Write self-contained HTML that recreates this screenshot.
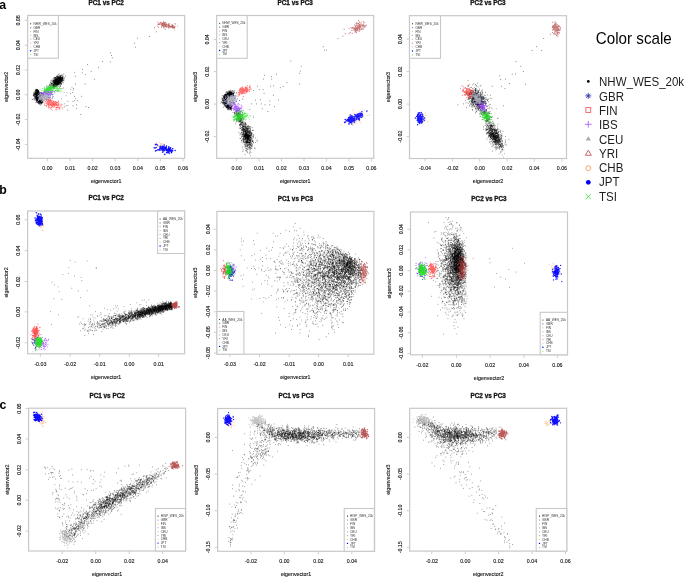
<!DOCTYPE html><html><head><meta charset="utf-8"><style>html,body{margin:0;padding:0;background:#fff;width:685px;height:577px;overflow:hidden}svg{display:block}</style></head><body>
<svg width="685" height="577" viewBox="0 0 685 577" font-family="'Liberation Sans', sans-serif">
<defs><filter id="gs" x="0" y="0" width="1" height="1"><feColorMatrix type="saturate" values="0"/></filter><filter id="bl" x="0" y="0" width="685" height="577" filterUnits="userSpaceOnUse"><feConvolveMatrix order="3" kernelMatrix="0.0225 0.105 0.0225 0.105 0.49 0.105 0.0225 0.105 0.0225" edgeMode="duplicate" preserveAlpha="true"/></filter></defs>
<g>
<rect width="685" height="577" fill="#fff"/>
<g><path transform="scale(.1)" d="M1545 278h0m17 40h0m-69 47h0m-117 17h0m-31 49h0m12 41h0m-254 57h0m13 26h0m7 23h0m-98 38h0m78 3h0m-229 28h0m111 26h0m-160 21h0m87 22h0m-90 13h0m34 17h0m-109-23h0m6 40h0m190 30h0m-187 48h0m95 0h0m-116 44h0m-31 52h0m43 26h0m70 0h0m-44 43h0m-43 9h0m-52 0h0m87 34h0m-104 9h0m69 0h0m130 9h0m26 8h0m-121 9h0m-87 17h0m130 44h0" stroke="#000" stroke-width="10" stroke-linecap="round" fill="none" stroke-opacity="0.55"/><path transform="scale(.1)" d="M641 923h0m103 83h0m-74-79h0m38-34h0m-63 175h0m75-196h0m-40 182h0m46-129h0m6-24h0m-117-14h0m46 70h0m-13 81h0m-13-158h0m-19 108h0m138 0h0" stroke="#000" stroke-width="9" stroke-linecap="round" fill="none" stroke-opacity="0.5"/><path transform="scale(.1)" d="M574 809h0m18-4h0m-8-26h0m51 49h0m-37-10h0m-19-5h0m-15-4h0m-15 0h0m14 23h0m31-21h0m-26-2h0m-33 36h0m46-26h0m18-31h0m-48 3h0m-3 62h0m30-38h0m25-12h0m-30-7h0m-28-5h0m56-33h0m19 19h0m-20 60h0m22-14h0m-32-18h0m-13-29h0m27 1h0m-4 22h0m-15 14h0m-19 10h0m11 18h0m-10-43h0m10-38h0m-3 32h0m-8 2h0m43 38h0m-32-26h0m-4-25h0m-11 57h0m-13 21h0m21-41h0m-13 15h0m66-42h0m-42 27h0m-16-13h0m-12 41h0m42-31h0m-26 10h0m42-27h0m-9 2h0m-43 21h0m26-22h0m-56 70h0m29-54h0m59-15h0m-9 9h0m-50-29h0m19 29h0m-37 18h0m3 0h0m41-20h0m28-34h0m-72 85h0m55-57h0m0 1h0m-7-21h0m-32 40h0m28 16h0m-34-60h0m27 73h0m-31-24h0m28 15h0m-28-63h0m35 19h0m6 23h0m-6-11h0m-5 26h0m-23-23h0m41-31h0m-25 21h0m13 15h0m21-20h0m-1-13h0m-1-3h0m-18 17h0m-5 13h0m-5-19h0m8 13h0m24-24h0m-27 16h0m6-7h0m11 38h0m4-53h0m-58 78h0m61-34h0m0-15h0m-47 27h0m79-50h0m-76 13h0m2 3h0m-9 28h0m42-35h0m-12 14h0m7 40h0m14-18h0m-10-31h0m14-6h0m-34 5h0m-10 37h0m-11-28h0m-4 67h0m10-53h0m43-15h0m-28-18h0m20 44h0m-14-5h0m55-20h0m-48 1h0m-7-33h0m-1 21h0m-27 14h0m78-7h0m-83 26h0m0-3h0m31 3h0m-10 1h0m6 0h0m-12-12h0m15-49h0m-12 26h0m-3-16h0m0 80h0m11-19h0m25-52h0m-35 56h0m49-45h0m-46 42h0m26-27h0m-19 26h0m12-30h0m-49-7h0m7-20h0m86 14h0m-50 31h0m14-85h0m-20 81h0m-27 1h0m29-20h0m-34-17h0m84 1h0m-28 7h0m17 5h0m-8 14h0m40-33h0m-31 36h0m-21-11h0m-28 25h0m-12-10h0m36-6h0m8-25h0m-9-14h0m-14 69h0m24-34h0m-46-36h0m-18 35h0m53-10h0m-70 39h0m82-17h0m33-55h0m-67 72h0m25-16h0m-34 42h0m4-42h0m42-17h0m-41 29h0m27-12h0m-10 3h0m10 11h0m1-22h0m-5-18h0m22-7h0m-23-8h0m-12 45h0m55-23h0m-28-23h0m-70 40h0m64-22h0m-2-9h0m9 4h0m-15 0h0m-30 44h0m8-33h0m-7 66h0m18-59h0m54-32h0m-25 29h0m-7-15h0m-21 34h0m-18 1h0m-4-2h0m27-20h0m-11 27h0m-17-25h0m41-30h0m-56 55h0m10-4h0m36 6h0m-5-22h0m-4-3h0m-21 30h0m44-19h0m-28-17h0m30 13h0m-68-14h0m44-7h0m27 30h0m-17 17h0m-7-25h0m-14-1h0m54-21h0m-106 70h0m57-8h0m-10 1h0m23-31h0m-25-14h0m26 17h0m9-36h0m-48 45h0m14-18h0m17-8h0m-13 27h0m36-26h0m-1 1h0m9 52h0m-66-27h0m87-45h0m-44-2h0m4 7h0m-18-5h0m26 31h0m6-28h0m-19 15h0m-16 8h0m40-12h0m-30-5h0m-6 27h0m22 29h0m11-73h0m-16 4h0m23-30h0m-30 70h0m-14-5h0m14-32h0m19-20h0m-6 26h0m-15-10h0m66 11h0m-81 22h0m-10 10h0m12-9h0m-12-30h0m19-8h0m26 1h0m-9 16h0m9-37h0m-14 82h0m41-68h0m-46 63h0m40-40h0m-60 23h0m57 9h0m-33-23h0m-13-34h0m-1-10h0m8 47h0m13 8h0m-3-16h0m-13 51h0m-11-37h0m-9 28h0m36-29h0m24-64h0m-14 45h0m-33 31h0m12 6h0m36-30h0m-32 24h0m-44 0h0m30 8h0m3 5h0m-12-14h0m44-24h0m-13 12h0m-27 35h0m7-32h0m-8 17h0m-5-2h0m-7 4h0m59-71h0m-39 43h0m9-27h0m16 6h0m-15 35h0m18-19h0m2 2h0m-17-5h0m57-18h0m-60 13h0m4 25h0m14-21h0m10-36h0m-16 15h0m-13 46h0m-16-1h0m1 4h0m38 30h0m-8-51h0m5-15h0m-57 67h0m31-59h0m-18 26h0m44-27h0m-10-20h0m-25 42h0m5-8h0m-7 13h0m5-48h0m0 82h0m-11-33h0m16 0h0m21-56h0m21-26h0m-33 62h0m-30 19h0m38-12h0m-38-2h0m27-26h0m-17 46h0m19-9h0m10-4h0m0-22h0m-9 15h0m16-39h0m1 48h0m-42 35h0m56-53h0m-57-10h0m21 38h0m26-62h0m-37 63h0m21-21h0m-7 25h0m26-57h0m-37 31h0m5-20h0m-35 29h0m78-32h0m-69 29h0m59-18h0m-8-17h0m0-5h0m30 8h0m-62 56h0m11-53h0m4 15h0m7-3h0m22-5h0m-37 2h0m-15 21h0m18-10h0m43-21h0m-53 54h0m9-42h0m5 49h0m27-56h0m-70 37h0m18-34h0m16 9h0m-16-28h0m75-11h0m-12 20h0m-45 58h0m57-70h0m-95 36h0m3 31h0m19 5h0m2-68h0m22 10h0m-39 71h0m47-58h0m-38-12h0m37 0h0m-16 27h0m50 1h0m-36-25h0m-41 28h0m67-36h0m-24 25h0m13-7h0m21 0h0m-63 24h0m3-33h0m1 32h0m-2 2h0m35-11h0m0-3h0m2-39h0m19 18h0m-26 29h0m-31 1h0m96-63h0m-30 11h0m-46 43h0m-21 12h0m21 2h0m39 12h0m-14-49h0m-19-14h0m0 22h0m-18 8h0m19 3h0m-15 4h0m38 26h0m-24-19h0m26 2h0m-79 14h0m37-23h0m27 27h0m-60-31h0m41 5h0m-38-4h0m44 30h0m-27-43h0m14 13h0m-5 7h0m17-50h0m29 68h0m-28-35h0m19 25h0m-45-12h0m-13-6h0m54-12h0m-24 23h0m2 61h0m-55-42h0m44-52h0m-10 29h0m26 0h0m-7 12h0m-12-19h0m9 1h0m-12 31h0m32-17h0m1-40h0m2 15h0m-83 10h0m29 15h0m16 17h0m17-26h0m21-23h0m10 32h0m-65 16h0m28-44h0m30 2h0m-25 24h0m32-62h0m-27 75h0m45-26h0m-2-51h0m-78 66h0m29-8h0m34-1h0m33-73h0m-105 94h0m50-44h0m4 16h0m-15 13h0m-13 3h0m23 11h0m16 9h0m-52-16h0m77-35h0m-64 42h0m46 21h0m-50-44h0m11 2h0m16-4h0m-36-3h0m25 5h0m51-26h0m-39-14h0m-9 46h0m44-3h0m-62 3h0m17-23h0m-53 11h0m34 25h0m-12-24h0m68-13h0m-8 33h0m-6-20h0m-24-9h0m22 14h0m-12-15h0m-1-15h0m-5 19h0m-14 30h0m-4-10h0m51-27h0m23 16h0m-35-3h0m-43 44h0m49-79h0m-3 49h0m-19-5h0m10 7h0m-29-15h0m55-28h0m-31-31h0m-34 77h0m13-22h0m8-12h0m52 16h0m-114 30h0m85-47h0m15-14h0m-33 46h0m11 1h0m-4-57h0m-5 30h0m-37 30h0m19 15h0m6 0h0m-24-9h0m28-29h0m-16 4h0m27 6h0m29 4h0m7-37h0m-45 17h0m-44 38h0m68-61h0m-42 17h0m66 18h0m-53 10h0m11-19h0m21 40h0m-21-27h0m41-9h0m-53 21h0m26-5h0m-11-14h0m-17 6h0m-29 45h0m56-45h0m-61 65h0m17-36h0m16-26h0m17-18h0m17 0h0m-10-9h0m-3 6h0m-9 29h0m33-30h0m-32 28h0m14-42h0m-77 55h0m46-3h0m6-9h0m6-17h0m-42 53h0m73-54h0m-8-16h0m3 11h0m-43 8h0m49-28h0m-48 31h0m23-36h0m2 42h0m-38-42h0m30 38h0m12 7h0m19-26h0m-16-30h0m21 22h0m-35-16h0m6 17h0m23 33h0m12-41h0m-34 54h0m-30-24h0m3-25h0m-20 49h0m53-2h0m-1-8h0m-18 20h0m-5-23h0m27-24h0m-20 16h0m42 33h0m-13-53h0m-14 52h0m-34-14h0m41-2h0m-19-39h0m-39 50h0m60-37h0m-30 7h0m0 4h0m-7 12h0m10-18h0m48 4h0m-14 3h0m-24-36h0m12 61h0m20-59h0m-6 6h0m-28 23h0m-42 63h0m54-54h0m40-67h0m-50 61h0m-36 2h0m93-13h0m-79 11h0m22-22h0m7-3h0m-35 53h0m39-23h0m10-34h0m-27 34h0m16-23h0m5 33h0m9-33h0m-6-40h0m-23 96h0m3-30h0m33 7h0m-51-12h0m-2 5h0m13-5h0m-13-17h0m5 20h0m39 2h0m3-16h0m-37-38h0m41 47h0m0-21h0m-47 55h0m17-34h0m7-4h0m6-8h0m-44 41h0m59-80h0m-33 78h0m14-32h0m12-7h0m7-7h0m-44 26h0m6 0h0m3-33h0m23 16h0m7-7h0m-26 13h0m-30-7h0m23 51h0m45-78h0m-62 61h0m39-43h0m-12 5h0m12-7h0m-4-13h0m14-1h0m2 60h0m-1-19h0m-38 55h0m10-71h0m-34 2h0m22-8h0m13-42h0m20 68h0m22-17h0m-39 11h0m15-9h0m-17 16h0m-49 35h0m47-25h0m-11-30h0m16-1h0m0 6h0m-21-16h0m30-12h0m10 24h0m-22 18h0m-6-59h0m-19 97h0m28-40h0m7 3h0m21-38h0m-31 43h0m-41-6h0m47-18h0m21-39h0m-33 43h0m22 19h0m3 7h0m-13-24h0m20-30h0m28 2h0m-34 25h0m5 29h0m25-53h0m-70-4h0m27 31h0m-13 3h0m-5-7h0m22 1h0m-11 9h0m9-18h0m15 29h0m-4-23h0m-18 18h0m0-6h0m22 5h0m-31-26h0m28 28h0m5-38h0m-26 64h0m-19 16h0m44-63h0m-30 7h0m41-21h0m-29 28h0m-43-2h0m82-50h0m-41 30h0m6 42h0m-2 10h0m-1-56h0m-23 27h0m12-31h0m35 5h0m-46 56h0m32-8h0m-18-54h0m49 5h0m-27 1h0m-35 19h0m44-32h0m-43 30h0" stroke="#000" stroke-width="10" stroke-linecap="round" fill="none" stroke-opacity="0.5"/><path transform="scale(.1)" d="M550 823h0m-17 7h0m38-26h0m-68 21h0m-36 37h0m31-15h0m46-24h0m-36 63h0m25-12h0m19-53h0m-46 58h0m65-53h0m-23 2h0m-21 29h0m5-25h0m2 28h0m-7-14h0m5 2h0m13-5h0m-5 1h0m-30 3h0m-15-4h0m105-55h0m-98 70h0m28-23h0m44-26h0m-13-4h0m-35 59h0m78-67h0m-23-14h0m-44 70h0m-44 2h0m75-20h0m-24 19h0m-12-7h0m-3 26h0m8-3h0m14-28h0m-7-52h0m-61 102h0m-9 9h0m105-73h0m-75 17h0m66-11h0m-21 8h0m33-27h0m-31-16h0m-29 34h0m29 28h0m10-17h0m0-24h0m-24 51h0m-37 10h0m38-50h0m-19-14h0m30 42h0m-39 3h0m51-34h0m-93 26h0m52-11h0m62-30h0m-77 50h0m38-45h0m-3-6h0m16 20h0m-69 43h0m79-65h0m-25 21h0m6-14h0m-2 10h0m-10 1h0m42-18h0m-12-27h0m-92 85h0m46-9h0m15-18h0m-54 53h0m129-60h0m-81 35h0m44-26h0m-20-3h0m-19 3h0m-32 9h0m6-32h0m19-5h0m8-30h0m-13 42h0m-12-2h0m12 5h0m57-23h0m-34 19h0m-11 43h0m-17 14h0m26-18h0m-17 9h0m7-21h0m42-55h0m-7 31h0m-23 1h0m6-4h0m46-23h0m-102 47h0m39-46h0m6 45h0m29 14h0m-11-9h0m23 50h0m-41-99h0m-69 77h0m50-85h0m30 13h0m-13 81h0m-4-4h0m50-110h0m-72 79h0m9-20h0m-19 1h0m19 13h0m-3 0h0m-36 42h0m132-107h0m-84 82h0m40-16h0m-31-11h0m39-37h0m-16 19h0m18-4h0m-6-9h0m-20-5h0m-18 26h0m42-2h0m-95 34h0m95-32h0m-34-29h0m14 40h0m-47 40h0m67-77h0m-56 51h0m35-34h0m-47 89h0m21-73h0m-17 7h0m10 20h0m13 8h0m61-71h0m-59 37h0m26 9h0m29-71h0m-104 86h0m80-79h0" stroke="#000" stroke-width="9" stroke-linecap="round" fill="none" stroke-opacity="0.4"/><path transform="scale(.1)" d="M376 961h0m23-36h0m7 124h0m14-34h0m-55-74h0m-6 18h0m7 36h0m-3-47h0m2-24h0m14-21h0m-5 46h0m-34-9h0m0 12h0m26 31h0m2-2h0m12 47h0m-47-72h0m42 41h0m45 32h0m-43-116h0m-20 51h0m30-10h0m-2-12h0m-4 68h0m-7-19h0m2-91h0m10 109h0m-19-12h0m2-86h0m18 95h0m13 15h0m1-13h0m-13 20h0m8-26h0m26 16h0m-6 14h0m-53-83h0m-13-11h0m-6 0h0m11 42h0m14-3h0m-24-59h0m9 35h0m18-16h0m-21-34h0m7 64h0m12-65h0m-19 68h0m20-46h0m-22 32h0m37-40h0m-16 41h0m26 52h0m-61-49h0m49 55h0m-30-98h0m29-12h0m-24 18h0m26 46h0m-15 15h0m-8-67h0m45 96h0m-26-66h0m20 50h0m2 28h0m-47-117h0m49 106h0m-39 0h0m12-38h0m5 38h0m-21-91h0m8-28h0m51 111h0m-61-97h0m7 79h0m2-34h0m1 25h0m0 7h0m-5 1h0m5-50h0m26 66h0m-21-97h0m-11 23h0m34 92h0m22 11h0m-27-46h0m-2 24h0m14 11h0m-45-84h0m53 71h0m-41-3h0m-2 13h0m-6-85h0m16-17h0m-24 63h0m16 13h0m5 9h0m-16-27h0m23 24h0m-24-55h0m58 70h0m-30-85h0m-34-6h0m31 88h0m37 11h0m-76-84h0m49 74h0m-38-20h0m13 13h0m-5-35h0m17-47h0m-12 76h0m-11-62h0m-9 30h0m62 36h0m-50-58h0m0-17h0m1 57h0m7 6h0m-11-56h0m27 14h0m3 57h0m-14-84h0m10 3h0m-23 8h0m27 71h0m-4-87h0m-9 25h0m43 84h0m-27-91h0m-27 41h0m59 34h0m-26 7h0m-21 10h0m-28-76h0m57 67h0m-25 7h0m21 14h0m-49-61h0m33 54h0m2-20h0m-24-98h0m1 15h0m25 76h0m-17-94h0m9 81h0m19 24h0m-66-68h0m17 13h0m13 12h0m-2-79h0m3 117h0m6-51h0m24 45h0m-55-63h0m18 7h0m15 49h0m50 19h0m-38-26h0m5 35h0m-22-69h0m15 57h0m5 20h0m-26-44h0m1-22h0m48 60h0m-43-121h0m27 102h0m-26-14h0m21-1h0m0-73h0m-18 3h0m34 74h0m-32-77h0m-13 42h0m15 39h0m-17-107h0m11 46h0m25 67h0m-13-99h0m-12 45h0m-34-3h0m37 27h0m0 12h0m49 31h0m-87-91h0m28 30h0m5-16h0m-8 56h0m8-63h0m42 58h0m-40-100h0m-18 36h0m34 54h0m-13-31h0m27 62h0m-30-56h0m15-37h0m-11 17h0m-32-8h0m8 0h0m54 73h0m-20-1h0m-25-62h0m47 73h0m-27-14h0m34 40h0m-15-34h0m-30-58h0m-3-23h0m19-15h0m-11 10h0m-7 17h0m11-11h0m-21-13h0m11 41h0m-18 25h0m20-32h0m2-5h0m40 80h0m-42-97h0m-13 57h0m-2-12h0m-8 29h0m69-14h0m-37-60h0m-18 29h0m29 51h0m-14-10h0m-37-6h0m69 1h0m-54-28h0m16 18h0m-7-47h0m-10-7h0m9 14h0m-5 41h0m-9-10h0m25 41h0m22-27h0m16 26h0m-27-88h0m-1 67h0m-9-2h0m-29 2h0m35-75h0m-16 33h0m4-21h0m21 101h0m10-21h0m5 14h0m-31-123h0m-19 56h0m34 18h0m-10-4h0m-25-21h0m32-13h0m-21 21h0m16-16h0m40 86h0m-21-12h0m-7-95h0m-20 4h0m8 57h0m-2 7h0m18 41h0m10-7h0m-40-34h0m35 47h0m-37-104h0m-17 33h0m25 34h0m-4-79h0m28 90h0m13 0h0m-8-6h0m-21-79h0m20 98h0m11 3h0m-40-71h0m-23-4h0m43 52h0m-18-17h0m11-4h0m-9-48h0m-24 21h0m19-42h0m15 0h0m8 116h0m-17-33h0m-15-35h0m4-53h0m30 112h0m3-9h0m27 1h0m-78-65h0m42-4h0m33 73h0m2-12h0m-55-63h0m-14 35h0m34 29h0m-22-39h0m11 33h0m-37-64h0m17-23h0m66 114h0m-54-83h0m-2-4h0m15 71h0m-19-61h0m11 45h0m16 2h0m-14-32h0m-2-22h0m-5-26h0m10 9h0m13 120h0m-38-98h0m0 23h0m-3-35h0m25-2h0m35 75h0m-48-60h0m25 71h0m-22-22h0m42 43h0m-46-137h0m-13 64h0m-2-13h0m19 37h0m4 17h0m21 2h0m-1-3h0m-29-8h0m20-64h0m15 99h0m-41-132h0m65 117h0m-48-118h0m-11 28h0m12 5h0m-16-1h0m-3 8h0m7-33h0m41 108h0m-44-73h0m58 75h0m-51-12h0m-5-63h0m-10 27h0m19 6h0m45 50h0m-45-81h0m27 63h0m-46-26h0m28-73h0m-14 73h0m-14-31h0m29 40h0m-42-33h0m71 56h0m0 4h0m-17 24h0m-13-93h0m5 84h0m8-13h0m-39-62h0m33 37h0m-29-34h0m48 45h0m-4 26h0m-35-55h0m26 29h0m8 7h0m17 10h0m-51-118h0m-9 64h0m11-17h0m11-30h0m5-5h0m-33 34h0m24-48h0m0 71h0m11 9h0m12 34h0m-22-28h0m-22-24h0m24 35h0m-7-91h0m33 121h0m-42-121h0m1 59h0m6 36h0m25 4h0m16 0h0m-4 16h0m9 13h0m-38-15h0m-8-100h0m43 81h0m7 25h0m-53-50h0m6 28h0m-7-1h0m54 14h0m-44-35h0m1 9h0m9-81h0m0 5h0m-16 77h0m10-75h0m-15 47h0m36 48h0m-17-101h0m-17 84h0m3-19h0m-7-31h0m23 72h0m-18-38h0" stroke="#000" stroke-width="10" stroke-linecap="round" fill="none" stroke-opacity="0.55"/><path transform="scale(.1)" d="M371 996h0m25-13h0m-6-16h0m32-3h0m24-18h0m-34 27h0m-4 17h0m37-30h0m-60 13h0m24-17h0m7 5h0m-16-2h0m6 29h0m-4-41h0m38-4h0m-18 27h0m-31 10h0m23-10h0m13-19h0m25 4h0m-36-21h0m-17 4h0m33-7h0m-2 36h0m-12 26h0m-34-26h0m19-10h0m24-3h0m-38 59h0m-25-25h0m55-22h0m-59 7h0m14 18h0m34 4h0m-9-20h0m1-22h0m18 39h0m0-28h0m-4 40h0m-39-47h0m-46 36h0m109-31h0m-25-33h0m8 36h0m-14 16h0m-27-6h0m39-2h0m-16 0h0m-41-7h0m73 7h0m-74-4h0m29-1h0m54-29h0m-57 50h0m18-30h0m23-9h0m-39-21h0m-25 48h0m33 16h0m-9-63h0m-22 60h0m74-35h0m-41-21h0m20 21h0m-3 29h0m-3-19h0m-17 14h0m-24 25h0m46-47h0m-8 28h0m25-54h0m-69 33h0m51 31h0m52-21h0m-95 26h0m-13-47h0m46 10h0m34-26h0m-57 80h0m11-73h0m-6 3h0m-5 17h0m14 14h0m32-31h0m-26 16h0m-34 25h0m16-12h0m6-42h0m-35 26h0m38 47h0m-3-32h0m-33 49h0m102-44h0m-94 26h0m37-35h0m4 29h0m-25-32h0m66 32h0m-41-19h0m-24 9h0m46-38h0m-17 3h0m-40 21h0m-14 0h0m61-30h0m-29 6h0m-26 37h0m60-1h0m-47 33h0m11-29h0m-9-15h0m-25 25h0m77-5h0m64-57h0m-70 44h0m-10-9h0m-19 2h0m0-15h0m18 20h0m-1-32h0m-31 8h0m23 20h0m-2 14h0m20-9h0m10-5h0m-4-23h0m-39 18h0m7 24h0m38 6h0m-57-79h0m27 72h0m12-25h0m-4-5h0m20-21h0m-66 26h0m58-33h0m-32 42h0m22-34h0m-47 34h0m22-36h0m5 55h0m60-33h0m-84-8h0m66 10h0m-57 3h0m-12-6h0m44 4h0m25 7h0m-24 23h0m9-30h0m-4 21h0m-11-7h0m38-14h0m-34 19h0m7-52h0m-47 38h0m38 26h0m11-64h0m-34 23h0m-25 67h0" stroke="#000" stroke-width="10" stroke-linecap="round" fill="none" stroke-opacity="0.45"/><path transform="scale(.1)" d="M415 1017h0m46-31h0m4-14h0m-26-7h0m54-6h0m5 46h0m-73-10h0m106-30h0m-121-23h0m16-6h0m23 55h0m15-4h0m-56 21h0m56-31h0m-112-1h0m71-38h0m-15 21h0m2-34h0m38 57h0m15 1h0m-40 29h0m20-81h0m-65 22h0m57 38h0m56-16h0m-80-42h0m21 27h0m16 17h0m34-18h0m-16 21h0m-25-4h0m-39-7h0m58 12h0m-138 13h0m149 4h0m-62-52h0m66 18h0m-33-5h0m64-1h0m-84 31h0m-58 15h0m76-80h0m-9 81h0m15-17h0m56-11h0m-93 6h0m72 8h0m7-14h0m-1-53h0m-129 50h0m95-7h0m-37 4h0m20-6h0m-21 30h0m14-45h0m56-1h0m33-11h0m-40 30h0m-82 26h0m102-51h0m-102 50h0m33-29h0m74 35h0m-90-73h0m66 42h0m-38 35h0m-45-29h0m56-28h0m-31 12h0m106 16h0m-1-27h0m-5 40h0m-117-4h0m124-36h0m-68 14h0m12 21h0m-11 15h0m-40-38h0m28-14h0m33-5h0" stroke="#2a2ab4" stroke-width="10" stroke-linecap="round" fill="none" stroke-opacity="0.8"/><path transform="scale(.1)" d="M539 1011h0m35 44h0m-91 14h0m57-38h0m-38-3h0m50-4h0m-83-18h0m72 12h0m-72 7h0m21-14h0m40 11h0m-29 27h0m20-44h0m5 52h0m-4-25h0m48 0h0m-30 9h0m-52-22h0m22 20h0m-12-15h0m-9 42h0m78 7h0m-85-26h0m83-23h0m2 20h0m31 42h0m-87-40h0m12-9h0m2-1h0m-29 14h0m90-33h0m0 22h0m-139-56h0m50 70h0m66-33h0m-81-2h0m1 35h0m35-24h0m-6 11h0m-4-7h0m-2 13h0m55 50h0m-117-110h0m54 42h0m-32 26h0m41 29h0m-6-58h0m21 41h0m-12-19h0m78 24h0m-109-78h0m29 5h0m35 48h0m-41-18h0m18 6h0m-50-39h0m59 75h0m-18-41h0m5 64h0m-31-73h0m8 15h0m-13 4h0m92 7h0m-111-50h0m71 32h0m-10 9h0m38 1h0m-49 38h0m-29-63h0m44 42h0m-76-24h0m98 18h0m-31-37h0m-32 24h0m6 11h0m41-3h0m-75-28h0m127-5h0m-88-5h0m70 41h0m-48-7h0m55 30h0m-99-55h0m68 32h0m-24-33h0m-30 25h0m49 18h0m-31-27h0m-23 15h0m25-19h0m-18-10h0m18 10h0m-9 46h0m61-57h0m-51 22h0m-20-18h0m49 26h0m-28-43h0m-34 36h0m-8-4h0m106 15h0m-62-24h0m55 28h0m-93-11h0m13-49h0m75 87h0m-56-54h0m-5 22h0m9-32h0m-44 45h0m80-10h0m-85 4h0m81-24h0m-62-20h0m114 74h0m-61-29h0m15-2h0m-100-14h0m74 7h0m-29-25h0m2-33h0m3-7h0m39 75h0m-27-11h0m-9-34h0m-12 27h0m3-15h0m2 6h0m3 21h0m-14-59h0m-3 40h0m-46-11h0m78 10h0m19 14h0m-28-37h0m55 45h0m-75-14h0m26 12h0m47-16h0m-40 18h0m-32-21h0m37 20h0m-22-22h0m47 30h0m-9-12h0m-47 32h0m42-45h0m32 41h0m-13-29h0m0-31h0m-47 26h0m-19 10h0m-2-11h0m60 21h0m-61-54h0m43 38h0m50-20h0m-127 26h0m67 17h0m-29-65h0m25 22h0m27-9h0m-54-7h0m-13 2h0m36-4h0m16 21h0m-27 14h0m-13-24h0m49 37h0m-56-36h0" stroke="#ff2a2a" stroke-width="11" stroke-linecap="round" fill="none" stroke-opacity="0.7"/><path transform="scale(.1)" d="M573 1074h0m-33-32h0m66 12h0m-73 21h0m34-28h0m-28-3h0m51 17h0m-63 44h0m61-31h0m38 17h0m-38-39h0m-82-1h0m91 36h0m-9-52h0m3 35h0m-13 22h0m20 10h0m6-31h0m-44 29h0m-16-68h0m23 44h0m28-2h0m-66-55h0m45 59h0m-42-63h0m81 40h0m17 17h0m-21-30h0m-52 33h0m45-19h0m21-11h0m0 33h0m-6-8h0m-2-24h0m-64-9h0m17 36h0m17 4h0m3-50h0m-74 30h0m51 17h0m-16-2h0m36-22h0m6-5h0m-56-3h0m23-5h0m24 17h0m-32-18h0m27 15h0m-22-11h0m0 11h0" stroke="#ff2a2a" stroke-width="10" stroke-linecap="round" fill="none" stroke-opacity="0.4"/><path transform="scale(.1)" d="M478 936h0m-11 7h0m-14-16h0m67-4h0m-22-2h0m-12 8h0m-38 18h0m41-23h0m-18 23h0m13-37h0m-9 7h0m73 3h0m-73 21h0m-29 16h0m64-9h0m-2-17h0m6 3h0m-118 24h0m49-14h0m3-5h0m-24 10h0m49-23h0m17 1h0m16 10h0m-6-3h0m-24 16h0m39-34h0m-38 12h0m-87 35h0m68-38h0m-13 3h0m38 12h0m-26-6h0m7 15h0m47-24h0m-65 10h0m-20-4h0m55 18h0m7-21h0m-25-5h0m1-9h0m-16 8h0m-19 17h0m22 18h0m-16-27h0m71-1h0m-44 10h0m36-61h0m-38 40h0m-15 34h0m22-47h0m12 43h0m29-24h0m-105 3h0m60 36h0m17-34h0m-28 32h0m21-25h0m-16-10h0m58 12h0m-3 10h0m-99 20h0m6-38h0m29 19h0m14-31h0m0 9h0m-3 29h0m22-47h0m23 52h0m-38-49h0m-11 6h0m18 26h0m-29-7h0m49-12h0m-3-11h0m-46 37h0m69-26h0m-46 8h0m23-17h0m-26-3h0m0 22h0m18-37h0m-44 34h0m26 12h0m-27 8h0m45-28h0m-29-24h0m9 44h0m-5 6h0m31-21h0m-6 20h0m-15 1h0m-18-36h0m72 2h0m-9-1h0m-70 49h0m67-25h0m-24-8h0m-4 8h0m4 3h0m-58-7h0m114-23h0m-12 4h0m-60 11h0m0 2h0m6 7h0m-30-15h0m36-8h0m-10 32h0m-28 18h0m19 0h0m-18-48h0m9 29h0m3-19h0m29-4h0m-29 13h0m-33 18h0m90-22h0m-71-25h0m67 9h0" stroke="#9b3cff" stroke-width="11" stroke-linecap="round" fill="none" stroke-opacity="0.8"/><path transform="scale(.1)" d="M468 977h0m-26 12h0m-52-11h0m21 16h0m1-21h0m49-23h0m23 10h0m-79 21h0m41-29h0m-19 18h0m25 3h0m-25-7h0m-23 13h0m13-5h0m-3-12h0m63 8h0m-62 15h0m30-48h0m-36 28h0m9 23h0m24-10h0m-28-33h0m77 21h0m-15 22h0m-71 4h0m46-10h0m26-19h0m-76 17h0m19-24h0m57 9h0m-59 48h0m35-44h0m-23-11h0m11 22h0m-41-34h0m39 63h0m-15-24h0m60-25h0m-32 4h0m-17-6h0m0 17h0m19-5h0m-68-14h0m23 37h0m-1-21h0m1-12h0m-18 36h0m60-14h0m-31-16h0m48-10h0m-34 35h0m-11-23h0m25 6h0m3 18h0m-28-37h0m24-9h0m21 7h0m-48 13h0m51 1h0m-39 23h0m26-28h0m-20 38h0m-13-21h0m13-38h0m-35 37h0m-11 15h0m45-2h0m-11-28h0m-23 14h0m97 21h0m-53-24h0m-35-11h0m33-16h0m4 17h0m-24 17h0m0-24h0m-39 47h0m53-43h0m43-27h0m-13 44h0m-5-9h0m-46 4h0m-10 26h0m50-39h0m-13 23h0m-17-17h0m3 35h0m30-32h0m-9 2h0m-29 14h0m8-12h0m-42 16h0m12-13h0m51 5h0m-30-4h0m-13-7h0m35 12h0m27-7h0m-63-14h0m17 10h0m-2-22h0m80 15h0m-37 18h0m-17 29h0m-53-26h0m63 2h0m-4 7h0m-24-8h0m-22-38h0m12 21h0m-31 18h0m35-6h0m-3-3h0m-15-14h0m14-18h0m-29 42h0m78-1h0m-41-20h0m-26 22h0m52-27h0m-5 7h0m-31-2h0m-19 26h0m30-33h0m18 14h0m7 11h0m5-16h0m-5-18h0m-60 36h0m42-16h0m-58-8h0m82 3h0m-16 1h0m18 12h0m-29-13h0m1 10h0m-14 10h0m-69-28h0m80 32h0m74-28h0m-39-10h0m-38 25h0m18 12h0m-2-28h0m-28 7h0m21 27h0m11 2h0m-23 10h0m22-35h0m18-19h0m-11 2h0m-13 12h0m-15-8h0m29 18h0m-32 19h0m-10-36h0m60 31h0m-52-29h0m-26 8h0m59-22h0" stroke="#bdbdbd" stroke-width="11" stroke-linecap="round" fill="none" stroke-opacity="0.85"/><path transform="scale(.1)" d="M1657 244h0m-20 19h0m4-14h0m-65 12h0m51-10h0m20-10h0m-67 0h0m102 23h0m-34-20h0m17-2h0m-31 6h0m26 9h0m7 12h0m29-8h0m-79-1h0m69-8h0m-71 20h0m27 7h0m-9-37h0m4 12h0m-38-9h0m35 9h0m-19-10h0m23-3h0m10-6h0m-5 9h0m-4 7h0m32 16h0m-23-8h0m7-13h0m17-1h0m-30-14h0m1 29h0m13-7h0m-21 5h0m33 5h0m-41-7h0m10-7h0m2-3h0m-3-9h0m6 5h0m-11 13h0m-44 20h0m80-28h0m-35 5h0m22 41h0m-36-44h0m36-2h0m-41 1h0m60 2h0m-33-25h0m-10 35h0m-49-39h0m11 17h0m38 5h0m-4 11h0m1-9h0m3-3h0m32-2h0m-31 11h0m1-7h0m-7-6h0m-7-9h0m31 9h0m-18 11h0m3-22h0m12 23h0m-5-1h0m15 15h0m1-23h0m-44-8h0m10 12h0m39 0h0m-27-32h0m18 51h0m-32-15h0m-34-4h0m6-12h0m32 18h0m6-8h0m59 29h0m-34-14h0m-2 9h0m8-33h0m-55-1h0m35 9h0m-3-3h0m43 33h0m-57-21h0m-15-20h0m33 13h0m-8 27h0m9-27h0m2 12h0m1-30h0m-19 13h0m4 6h0m60 4h0m-64-3h0m24 7h0m-34 7h0m-12-38h0m55 28h0m-16 7h0m26-4h0m-7 11h0m-16-17h0m-21-6h0m59 0h0m-42 19h0m48-25h0m-33 9h0m5 5h0m-7 8h0m-2-12h0m-14-10h0m54 25h0m-68-29h0m-14 4h0m41-13h0" stroke="#a82e2e" stroke-width="11" stroke-linecap="round" fill="none" stroke-opacity="0.7"/><path transform="scale(.1)" d="M1732 267h0m-1 4h0m-43 14h0m35-24h0m16 17h0m-26-9h0m-22 3h0m36-18h0m13 24h0m-52-22h0m57 27h0m-20-8h0m23-9h0m-43 3h0m43 3h0m-13-5h0m7 31h0m-12-43h0m21-5h0m-25-2h0m-7 13h0m-14 1h0m-12 8h0m35 6h0m-8-9h0m5-1h0m-2-13h0m11 24h0m-7 4h0m-12-19h0m29 13h0m30-14h0m-65 2h0m9 2h0m21 11h0m-25-30h0m36 22h0m-38 6h0m-10-7h0m5 4h0m47-34h0m-69 14h0m47 9h0m-49-8h0m64-14h0" stroke="#a82e2e" stroke-width="10" stroke-linecap="round" fill="none" stroke-opacity="0.5"/><path transform="scale(.1)" d="M1629 1435h0m-22 6h0m-55-3h0m32 28h0m13 1h0m19 19h0m2-50h0m-46 18h0m9-2h0m23 0h0m18 6h0m-30-36h0m-11 35h0m31-6h0m-8-14h0m23 45h0m-16-35h0m10 16h0m-71-27h0m17-10h0m-7 15h0m19 16h0m29-16h0m-20 20h0m16 21h0m-30-13h0m47-15h0m-2-7h0" stroke="#f4a460" stroke-width="12" stroke-linecap="round" fill="none" stroke-opacity="0.5"/><path transform="scale(.1)" d="M1648 1544h0m-46-80h0m7 9h0m56-12h0m-27 46h0m2-10h0m-15 2h0m63-31h0m6 34h0m-66-28h0m20 31h0m-23-20h0m16-35h0m18 34h0m-1-12h0m-31 51h0m13-58h0m49 16h0m-37 0h0m9-8h0m-17 1h0m-14 11h0m-20 6h0m2-12h0m-14 2h0m12 4h0m4-14h0m33 11h0m-49 4h0m43 15h0m-49-5h0m93-3h0m-65 7h0m15-27h0m33 30h0m-40-23h0m6 3h0m1-4h0m8 16h0m-21-20h0m46 19h0m-13-14h0m-20-3h0m22 14h0m-27-19h0m-9 31h0m9-29h0m12 4h0m-42 25h0m25-41h0m16 37h0m-32-13h0m30 0h0m-30 2h0m27-17h0m-6 39h0m9-17h0m-22 2h0m-26 2h0m-13 2h0" stroke="#0000ff" stroke-width="16" stroke-linecap="round" fill="none" stroke-opacity="0.9"/><path transform="scale(.1)" d="M1706 1507h0m-26 8h0m-7-18h0m-1 3h0m18 27h0m30-21h0m-47 0h0m19-23h0m19 29h0m-19 2h0m2-5h0m-17 17h0m25-46h0m-15 37h0m-3-33h0m6 8h0m16-13h0m12 37h0m-43-12h0m34-5h0m-33 7h0m-15-28h0m24 19h0m15 11h0m-3-11h0m9 7h0m-49-20h0m70 23h0m-12-6h0m-3 7h0m-46 17h0m42-19h0m-20-9h0m1 13h0m10-20h0m-33 36h0m55-21h0m-1 0h0m-5 6h0m12-23h0m-62 16h0m28-3h0m-1 31h0m-18-9h0m42 5h0m35-23h0m-73 1h0m33 12h0m-10-23h0m1-3h0" stroke="#0000ff" stroke-width="16" stroke-linecap="round" fill="none" stroke-opacity="0.9"/><path transform="scale(.1)" d="M1574 1449h0m-11-6h0m0 63h0m-22-29h0m13-30h0m0 63h0m-3-31h0m11-4h0" stroke="#0000ff" stroke-width="15" stroke-linecap="round" fill="none" stroke-opacity="0.9"/><path transform="scale(.1)" d="M417 905h0m126-20h0m-42-3h0m29-19h0m18 10h0m-88 21h0m90-33h0m-28 17h0m-25-10h0m-70 17h0m125-28h0m-44 24h0m9 0h0m-55 7h0m59 7h0m-3-6h0m25-14h0m-67 33h0m-35 14h0m42-22h0m-15-13h0m42 8h0m-12 8h0m8-13h0m30-15h0m13 2h0m-47 13h0m-56-14h0m58 30h0m-11-17h0m10 23h0m-9-23h0m1-12h0m-58 37h0m77-30h0m1 10h0m-9-15h0m-13 3h0m28-11h0m-75 21h0m49 1h0m15-26h0m-26 26h0m14 8h0m25-34h0m-32 19h0m-23-2h0m13 2h0m26 0h0m-38 18h0m31-6h0m-18-16h0m18 13h0m16-22h0m-2-6h0m-19 7h0m1-13h0m23 20h0m-51-11h0m34 18h0m-30 41h0m57-64h0m-37-5h0m-31 41h0m18-24h0m39 3h0m-13 4h0m-55 18h0m105 0h0m-50-13h0m4-2h0m-21 1h0m-17-4h0m-19 6h0m46-18h0m2 26h0m-10-11h0m31 2h0m-13-1h0m-32 35h0m10-34h0m46-3h0m-76 4h0m107-5h0m-82 4h0m91-21h0m-66-1h0m-52 39h0m63-1h0m-12-1h0m-22-27h0m20 21h0m-5-20h0m-98 14h0m115-26h0m-21 39h0m4-22h0m17-16h0m-15 25h0m-35 9h0m56-24h0m-30 19h0m13-15h0m-22 27h0m15-10h0m-27-4h0m75-14h0m-74 27h0m55-29h0m-79 30h0m59-24h0m-16 1h0m31-30h0m-20 14h0m60-12h0m22 8h0m-91 59h0m24-55h0m-46 19h0m-3-10h0m29 4h0m28-5h0m-4 13h0m-31-20h0m44 14h0m-67 14h0m6-9h0m21-18h0m-50 16h0m94-14h0m-40 21h0m-7-7h0m20-14h0m-48 27h0m31-26h0m-40 35h0m52 15h0m-4-46h0m48 9h0m-52-13h0m42 3h0m-38 16h0m-44 21h0m65-33h0m-15 22h0m-28-28h0m47 1h0m-56 18h0m19-4h0m31-11h0m11 24h0m-51-17h0m32 11h0m-8-6h0m21 16h0m-32-22h0m-52 27h0m50-15h0m42-63h0m-56 64h0" stroke="#22e022" stroke-width="11" stroke-linecap="round" fill="none" stroke-opacity="0.85"/><path transform="scale(.1)" d="M597 880h0m16 26h0m-61 0h0m22 10h0m29-28h0m-56-4h0m11 18h0m31-12h0m1-4h0m21 29h0m-8-15h0m-24-15h0m-30-1h0m13 18h0m16 6h0m8-5h0m-5 13h0m15-14h0m-35 8h0m2-32h0m-13 45h0m72-37h0m-46 27h0m20-36h0m8 7h0m-16 31h0m-17-29h0m-4 19h0m4-8h0m-29 33h0m24-22h0m32 6h0m-14-15h0m9-23h0m8 48h0m-8-33h0m-13 10h0m2-1h0m13-23h0m-24 35h0" stroke="#22e022" stroke-width="10" stroke-linecap="round" fill="none" stroke-opacity="0.5"/></g>
<rect x="27.7" y="15.5" width="157.0" height="142.8" fill="none" stroke="#c8c8c8" stroke-width="1.2"/>
<path d="M47.4 158.3v3M70.0 158.3v3M92.6 158.3v3M115.2 158.3v3M137.8 158.3v3M160.4 158.3v3M183.0 158.3v3M27.7 20.4h-3M27.7 45.2h-3M27.7 70.0h-3M27.7 94.8h-3M27.7 119.6h-3M27.7 144.4h-3" stroke="#c8c8c8" stroke-width="0.9" fill="none"/>
<rect x="27.7" y="15.5" width="30.7" height="42.7" fill="#fff" stroke="#c8c8c8" stroke-width="1.1"/><g font-size="3.15" fill="#333" filter="url(#gs)"><text x="33.4" y="24.9">NHW_WES_20k</text><text x="33.4" y="28.8">GBR</text><text x="33.4" y="32.6">FIN</text><text x="33.4" y="36.5">IBS</text><text x="33.4" y="40.3">CEU</text><text x="33.4" y="44.1">YRI</text><text x="33.4" y="48.0">CHB</text><text x="33.4" y="51.9">JPT</text><text x="33.4" y="55.7">TSI</text></g><circle cx="30.7" cy="23.8" r="0.55" fill="#000" fill-opacity="1"/><circle cx="30.7" cy="27.7" r="0.6" fill="#3030c0" fill-opacity="0.7"/><circle cx="30.7" cy="31.5" r="0.6" fill="#ff7070" fill-opacity="0.7"/><circle cx="30.7" cy="35.4" r="0.6" fill="#c070ff" fill-opacity="0.7"/><circle cx="30.7" cy="39.2" r="0.6" fill="#999" fill-opacity="0.7"/><circle cx="30.7" cy="43.0" r="0.6" fill="#c06060" fill-opacity="0.7"/><circle cx="30.7" cy="46.9" r="0.6" fill="#f0a860" fill-opacity="0.7"/><circle cx="30.7" cy="50.8" r="0.7" fill="#0000ff" fill-opacity="1"/><circle cx="30.7" cy="54.6" r="0.6" fill="#30e030" fill-opacity="0.7"/>
<g><path transform="scale(.1)" d="M3441 292h0m10 45h0m-23 25h0m-48 23h0m-148 82h0m15 34h0m19 0h0m-358 109h0m104 53h0m-9 48h0m-10 23h0m0 105h0m-228-96h0m-52 23h0m-69-13h0m-9 38h0m82 0h0m152 34h0m-38 42h0m-28 10h0m-67-19h0m-29 4h0m-133 0h0m57 34h0m-38 0h0m-57 9h0m105 29h0m95 19h0m48 48h0m-229 0h0m48-4h0m95 13h0m-134 29h0m48 0h0m38 9h0m48 0h0m48 19h0m-124 20h0m57 28h0m-143 57h0m-38-76h0m19-57h0" stroke="#000" stroke-width="10" stroke-linecap="round" fill="none" stroke-opacity="0.55"/><path transform="scale(.1)" d="M2317 924h0m21 8h0m-86 94h0m23-72h0m-32 91h0m40-100h0m10 133h0m-35-26h0m31-110h0m0 51h0m21 87h0m7-156h0m6 19h0m-66 82h0m8 45h0m38-118h0m-36 125h0m-22-106h0m52-53h0m-8 152h0m15-136h0m-55 106h0m51-83h0m-27 90h0m-43-41h0m30-30h0m12-11h0m-29 20h0m-2-29h0m19 92h0m7 4h0m51-117h0m-16 145h0m29-123h0m-50-19h0m-16 9h0m-33 73h0m2-41h0m9 59h0m80-130h0m-21 167h0m31-137h0m-29-24h0m-57 65h0m47-34h0m-1 120h0m-46-81h0m31-17h0m-8-33h0m4 8h0m-25 5h0m19 92h0m4 17h0m-10-84h0m42 110h0m4-1h0m-32-5h0m-5-4h0m-7-41h0m-22-9h0m3-35h0m1 33h0m0-50h0m82-10h0m-72 64h0m-4-42h0m74-36h0m-66 66h0m-24 17h0m6-61h0m87-55h0m-46 141h0m-8-53h0m-37 20h0m13-31h0m18 47h0m-1-93h0m56-7h0m3 22h0m-54 103h0m6-89h0m-41 34h0m76-55h0m-3 103h0m-72-29h0m72-102h0m-59 102h0m11-3h0m30-92h0m-46 53h0m-4 11h0m23 51h0m27-86h0m-41 40h0m-15-34h0m78 100h0m-58-26h0m2 5h0m-2-97h0m14-1h0m-17 78h0m-30-41h0m49-37h0m4 120h0m-21-78h0m15 39h0m-21 15h0m11-3h0m36-106h0m1 108h0m-25-118h0m24 149h0m-50-109h0m28 3h0m-7 91h0m-23-66h0m34-63h0m32-3h0m-37 67h0m21 81h0m-9-4h0m25 0h0m-1-137h0m-37 8h0m26-16h0m-32 107h0m-10-24h0m9 47h0m71-125h0m-70 44h0m25-35h0m-21 96h0m20-96h0m-43 73h0m61 69h0m-79-96h0m46 65h0m-27-9h0m20-54h0m4-42h0m8 146h0m-12-67h0m-7-53h0m31 53h0m-27 38h0m23 37h0m35-151h0m-66 10h0m33 131h0m-29-56h0m-19-26h0m23 33h0m-14-47h0m78-57h0m-92 44h0m75 98h0m-67-72h0m17 42h0m23 36h0m-47-80h0m45-68h0m5 31h0m-38 18h0m71-36h0m-64-17h0m51-5h0m-83 79h0m69 55h0m-21-85h0m28-29h0m-37-3h0m-8 80h0m19 50h0m38-157h0m-49 45h0m26 123h0m-1-113h0m24-21h0m-41 100h0m-23-55h0m27 44h0m-4-85h0m-10-15h0m-19 105h0m9 4h0m5-56h0m80-74h0m-88 41h0m27 3h0m31 125h0m-59-90h0m3 52h0m60 30h0m-23-1h0m-60-47h0m-15-7h0m71 50h0m-42-73h0m37-58h0m-41 54h0m3 36h0m38 12h0m26 31h0m-23-168h0m-1 22h0m-45 108h0m44 28h0m39-161h0m-50 164h0m65-129h0m-77 41h0m17 89h0m-42-112h0m70-15h0m-45 72h0m30-42h0m-12-39h0m5 116h0m-3 3h0m6-1h0m41-107h0m0-21h0m-50 126h0m15-115h0m2 12h0m12 122h0m-1-143h0m0 156h0m-10-27h0m-14-112h0m-2 105h0m1-115h0m-14 107h0m28-90h0m-13-19h0m-13 33h0m-12 2h0m-16 58h0m35-68h0m-12 87h0m0-96h0m0-27h0m-2 30h0m-11 98h0m42-110h0m-43 81h0m-20 2h0m89-78h0m-32 114h0m4 32h0m-15-41h0m-12-46h0m65-74h0m-20-7h0m0-10h0m-39 6h0m8 78h0m10-52h0m-11 113h0m-17-100h0m-1 45h0m-12 7h0m10-46h0m-11 53h0m63 48h0m14-132h0m-64 79h0m14-44h0m27 103h0m-24 4h0m-2-64h0m-19 25h0m-25-37h0m67-62h0m-28 29h0m48 114h0m-33 11h0m-1-144h0m18 0h0m-41 114h0m11-102h0m6 2h0m-31 7h0m74-21h0m-68 60h0m16 71h0m-21-60h0m5-68h0m46 14h0m-29 54h0m-3 17h0m-15-42h0m61 58h0m-58-80h0m75-27h0m-65 95h0m24-97h0m13 0h0m-36 74h0m69-75h0m2 14h0m-26 138h0m-21-30h0m-1 2h0m16-119h0m-56 69h0m-2-23h0m36-44h0m-20 65h0m-28-5h0m74 67h0m-32-87h0m3 8h0m-15 20h0m43 43h0m-11-95h0m-29 16h0m-20 4h0m64 108h0m-53-45h0m31-109h0m58-12h0m-29 178h0m-25-179h0m13 158h0m34-141h0m-74 42h0m-22 38h0m20 50h0m-2-18h0m36-107h0m-51 29h0m8 3h0m30 79h0m28-96h0m-67 70h0m12-13h0m-10-61h0m25 89h0m-13 0h0m0-19h0m53 71h0m-83-93h0m19-7h0m56-81h0m-22 129h0m20-118h0m-26 29h0m-11 91h0m9-90h0m6-21h0m25 113h0m-47-20h0m22 55h0m-2-90h0m39 77h0m-47-43h0m27-53h0m-10-40h0m9 9h0m9 146h0m-33-91h0m48-70h0m-90 102h0m43-41h0m22 89h0m-10-3h0m-26-116h0m30-40h0m-44 51h0m55 91h0m-23-103h0m33 113h0m-30-152h0m31 152h0m-68-32h0m17-74h0m68-40h0m-88 83h0m-9-13h0m68-85h0m-28 48h0m52-10h0m-8-14h0m-57 31h0m46-35h0m-65 102h0m77 36h0m-68-80h0m89-53h0m-92 114h0m9-63h0m44-68h0m0-9h0m10 27h0m-20-18h0m-40 48h0m61 107h0m-30 20h0m-40-130h0m20 73h0m-18-54h0m18-1h0m17-12h0m49-51h0m-16 14h0m-11 162h0m-54-82h0m1-29h0m79-50h0m-78 90h0m42 34h0m-37-35h0m29 12h0m-7-48h0m-8 7h0m35-51h0m-44 96h0m22-92h0m20-28h0m-62 150h0m43-76h0m-50 30h0m29-78h0m-3 44h0m81-56h0m-13 26h0m-70 68h0m-21 12h0m31-23h0m22-66h0m-19 3h0m-23 22h0m29 84h0m-1-10h0m-30-68h0m33-23h0m68-53h0m-93 154h0m26 3h0m36-118h0m0-3h0m-55 55h0m46-57h0m18-11h0m-19 25h0m-53 27h0m-2 20h0m67-54h0m-63 2h0m36-15h0m-35 106h0m4-25h0m1-14h0m83-64h0m-65 95h0m-27-55h0m68-27h0m9-15h0m-62 13h0m7 10h0m-14 49h0m4-17h0m19-45h0m14 10h0m18-19h0m5 152h0m-33-54h0m-19-4h0m-20-30h0m23-17h0m4-9h0m26 81h0m-25 17h0m13-93h0m-16-21h0m25 109h0m-35-24h0m76-95h0m-23-13h0m6 7h0m-50 92h0m-53-19h0m25-37h0m81-28h0m-51 92h0m-4 17h0m18-135h0m-28 105h0m23 44h0m-24-33h0m59 50h0m5-147h0m-60 64h0m50-74h0m-10 1h0m-41 108h0m-24-55h0m54 91h0m-36-99h0m12 33h0m45-85h0m0-2h0m1 19h0m-60 66h0m23-37h0m14 96h0m16-129h0m6 111h0m-56-22h0m76-88h0m-27 1h0m15-20h0m-44 144h0m41 20h0m-31-26h0m-31-112h0m35 6h0m-34 5h0m23 74h0m-11-78h0m-2 36h0m58-37h0m-11-27h0m-58 48h0m37-41h0m-31 34h0m-10 59h0m6-48h0m60 94h0m-60-99h0m-33 6h0m45 2h0m3 12h0m-9 5h0m14-37h0m-18 89h0m-4-99h0m4 111h0m16-107h0m-13 102h0m-35-66h0m21-16h0m21 100h0m2-42h0m-5-91h0m-14 105h0m72-98h0m-64 18h0m44-40h0m17 136h0m-81-75h0m61-65h0m-34 29h0m39 120h0m-25-123h0m-5 116h0m7 15h0m8-119h0m5-26h0" stroke="#000" stroke-width="10" stroke-linecap="round" fill="none" stroke-opacity="0.55"/><path transform="scale(.1)" d="M2309 949h0m-34 39h0m-13-12h0m32 37h0m-44 21h0m57-93h0m-15 20h0m-25 26h0m34-27h0m-26 98h0m3 11h0m58-38h0m-59-10h0m-54-65h0m86 6h0m-41 56h0m5 42h0m73-74h0m-48 26h0m27 53h0m-67 5h0m10-110h0m6 51h0m47 19h0m-42-96h0m-38 47h0m81 27h0m-39-29h0m19 42h0m20-37h0m43-54h0m-67 19h0m49-36h0m-89 32h0m46 77h0m4-12h0m-76 9h0m37 32h0m8-99h0m37 26h0m-30 25h0m2 63h0m-7-56h0m34-17h0m-16 17h0m0-48h0m-5-43h0m28 98h0m-42-36h0m21 35h0m1-66h0m11 12h0m19 66h0m-20-22h0m-50 30h0m70-65h0m7 30h0m2 25h0m-12 8h0m-73-38h0m44 14h0m27-16h0m1-2h0m-27 4h0m7 20h0m-37-72h0m45 52h0m-74-40h0m55 42h0m36-11h0m-65 17h0m74-18h0m21 4h0m-43-50h0m-31 112h0m1-111h0m-22-21h0m59 89h0m-56 10h0m39-27h0m-38-10h0m49-33h0m-58 120h0m38-143h0m-18 163h0m52-158h0m-42 23h0m7 31h0m39-8h0m-68 37h0m-4-53h0m35 20h0m-29-50h0m82 112h0m-47-60h0m4-18h0m-18 31h0m-85 36h0m133-22h0m-42-43h0m-57 35h0m28 8h0m32 3h0m38-29h0m-27 40h0m0-71h0m-1 49h0m-37-37h0m7 35h0m21-26h0m-41 51h0m41-43h0m19 64h0m-91-85h0m64 78h0m-1-75h0m11-65h0m50 59h0m-94 75h0m100-27h0m-38 12h0m54-35h0m-86 29h0m22-54h0m-14 110h0m18-5h0m-42-46h0m4-41h0m18-3h0m24 51h0" stroke="#000" stroke-width="10" stroke-linecap="round" fill="none" stroke-opacity="0.4"/><path transform="scale(.1)" d="M2458 1271h0m-56-20h0m11 51h0m-64-182h0m16 76h0m15-26h0m1-46h0m-22 7h0m47 76h0m-15-39h0m-42-7h0m80 55h0m-46-3h0m68 69h0m5-48h0m-91-79h0m25 26h0m52 121h0m-40-86h0m18 81h0m-37-119h0m66 118h0m-25-48h0m-20-17h0m48 58h0m-69-108h0m74 46h0m-25 38h0m-25-51h0m-40-53h0m29-24h0m-36-36h0m37 115h0m-42 23h0m32-58h0m34 96h0m10-34h0m-69-23h0m40-26h0m-21-46h0m54 137h0m17-34h0m-22-33h0m-40-57h0m59 106h0m-30 22h0m33 1h0m-102-94h0m49 12h0m-10-69h0m5 53h0m26 84h0m-4-42h0m-6 7h0m21 13h0m-24-80h0m-11 8h0m-66-56h0m62 32h0m55 140h0m4-63h0m-31-26h0m3 52h0m-36-113h0m11 98h0m31 59h0m-8-87h0m-11-8h0m-30-28h0m59 116h0m-71-190h0m110 170h0m-55 33h0m-21-112h0m-17-30h0m2-38h0m8 123h0m39 9h0m-16-22h0m42-12h0m-90-125h0m8 38h0m-6 7h0m30 82h0m-3-51h0m-27 0h0m-6-70h0m41 89h0m28 71h0m-21-127h0m65 116h0m-116-61h0m41-82h0m25 110h0m-22 7h0m-35-138h0m3 95h0m23-99h0m4 110h0m11 48h0m-50-37h0m-19-75h0m93 100h0m-18 36h0m10-6h0m-27-132h0m10 57h0m-9 54h0m-17-102h0m43 64h0m11 40h0m-30-97h0m45 84h0m-56-32h0m-15-28h0m2 32h0m39-38h0m25 76h0m-55-48h0m47 91h0m10 8h0m-64-192h0m22 90h0m25 2h0m-68-9h0m7-24h0m84 105h0m-111-141h0m80 71h0m9 97h0m-56-146h0m6-14h0m-3 78h0m22-95h0m20 108h0m-43-95h0m23-20h0m15 46h0m-55-43h0m10 28h0m44 39h0m-47-31h0m-9-24h0m46 118h0m4-41h0m-8-11h0m-25-20h0m16-22h0m23 39h0m30 49h0m-16 47h0m-9 16h0m16-115h0m13 106h0m-23-2h0m-34-39h0m27 3h0m-9-72h0m-50-38h0m28 140h0m-14-123h0m-18-25h0m10 71h0m38-66h0m-17 71h0m24 85h0m-37-105h0m33 35h0m-20-69h0m52 106h0m-35-113h0m-3 32h0m-9-54h0m-27-7h0m39 80h0m-3-24h0m24 62h0m-49-87h0m28 0h0m-45-12h0m38 64h0m-3 13h0m-24-97h0m31 74h0m-21-30h0m60 132h0m-57-149h0m-3-5h0m31 61h0m1 8h0m13 13h0m-51-117h0m69 145h0m-103-119h0m32-25h0m54 146h0m-33-114h0m-5 43h0m-42-42h0m40-3h0m-11 16h0m11 14h0m30 110h0m19-1h0m-6-14h0m-12-34h0m6-66h0m-77-33h0m51 143h0m11-91h0m-30 12h0m-6-52h0m0 67h0m29-27h0m6 59h0m-8 23h0m-5-48h0m3-9h0m14 20h0m31 43h0m-7 20h0m-22-100h0m-12 95h0m-42-145h0m16 4h0m28-1h0m-2 115h0m-43-83h0m7-25h0m32 92h0m-40-88h0m85 146h0m-13-39h0m-14-13h0m-36-29h0m19-40h0m-5-58h0m3 84h0m-34-77h0m47 97h0m-56-113h0m52 53h0m2 19h0m-15-11h0m-11-11h0m-2 22h0m-3 5h0m-9-46h0m35 61h0m-1-40h0m15 58h0m-31-121h0m40 128h0m-42-42h0m-1 6h0m11-48h0m-53-20h0m137 143h0m-83-52h0m-19-67h0" stroke="#000" stroke-width="10" stroke-linecap="round" fill="none" stroke-opacity="0.45"/><path transform="scale(.1)" d="M2490 1358h0m-9 28h0m-39-32h0m79 113h0m-46-121h0m-15 8h0m50 22h0m-55-99h0m-12 90h0m12-63h0m27 127h0m-26-84h0m18 14h0m-3-78h0m31 166h0m-65-158h0m68 0h0m-6 35h0m-65-61h0m-3 45h0m36 37h0m38 64h0m21-2h0m-78-95h0m16 25h0m6 59h0m2 24h0m23-101h0m-3 28h0m-15 14h0m4 7h0m35-25h0m7 97h0m-45-89h0m-30 74h0m-32-26h0m82 130h0m-2-98h0m-44-156h0m27 119h0m2-130h0m92 147h0m-105-61h0m6-89h0m-5 55h0m30 26h0m-3 87h0m-24-61h0m43 11h0m-27-51h0m-34 14h0m-13-47h0m78 39h0m-69 18h0m-12 11h0m17-40h0m4 28h0m7-13h0m-1 34h0m15-46h0m-47 9h0m33-20h0m39 3h0m-49 27h0m-16-33h0m32 104h0m35-16h0m-48-24h0m97 2h0m-139-72h0m35 22h0m65-3h0m13 32h0m-114 48h0m58-8h0m6-113h0m-17 71h0m25 53h0m-12-65h0m-7 36h0m-18-101h0m51 75h0m-39-8h0m-12-82h0m55 126h0m-47 36h0m6-28h0m32-62h0m-73 23h0m28-30h0m-11 64h0m55-17h0m1 47h0m-28-65h0m26 41h0m-19-53h0m29-29h0m-87 50h0m33-47h0m-21 3h0m2 78h0m47-11h0m-66-60h0m114-26h0m-46 42h0m0-27h0m-1 71h0m21-54h0m-63-37h0m-25 26h0m57 52h0m4 79h0m61-86h0m-54-82h0m-27 27h0m38 46h0m-29-12h0m21 12h0m-4 91h0m21-152h0m-50 12h0m-17 48h0m20 1h0m-37 15h0m64 19h0m-33-36h0m68 41h0m-68-31h0m13 8h0m3-103h0m-30 47h0m65 12h0m-15 53h0m-26-58h0m32-22h0m2 11h0m-32 125h0m9-157h0m32 78h0m-16-6h0m14 65h0m-1-36h0m-38-43h0m47 49h0m15 20h0m-54-71h0m-8-62h0m-30 28h0m78 47h0m-29-47h0m-32 62h0m26 44h0m16-48h0m24 92h0m-59-102h0m10-55h0m33 63h0m-4 40h0m-21-112h0m-20 93h0m102 40h0m-63-58h0m-34 84h0m49-170h0m-20 104h0m-48-101h0m56-13h0m-18 16h0m30 118h0m-34-31h0m31 48h0m-8-109h0m-37-34h0m18 122h0m-38-70h0m34-46h0m13 109h0m13 11h0m-61-78h0m7 44h0m56 10h0m22-77h0m-106 25h0m110 34h0m8 66h0m-53-119h0m-50 96h0m19-14h0m33-25h0m-29-13h0m18-35h0m-21 78h0m34-45h0m-74-104h0m51 130h0m21-59h0m36 26h0m-58 118h0m3-84h0m19-124h0m12 80h0m-17-32h0m14 103h0m-41-207h0m29 188h0m-5-25h0m12-22h0m-63 50h0m74 56h0m-22-179h0m-20 71h0m42 17h0m-34 9h0m5-15h0m-17 40h0m50-26h0m19-32h0m-93-55h0m58 118h0m-44 47h0m24-18h0m25-42h0m-15 41h0m17-137h0m15 113h0m-30-17h0m-7-20h0m58 51h0m-76-53h0m5-11h0m-19-28h0m58-52h0m-41 77h0m50 101h0m-3 7h0m-61-113h0m32 33h0m-1 69h0m-31-124h0m-1 30h0m45-57h0m27 148h0m-54-104h0m-3 14h0m36 10h0m-36-35h0m62 162h0m-27-66h0m3 48h0m-44-203h0m12 141h0m18-50h0m-22-44h0m36 54h0m-28 83h0m1-22h0m14-88h0m-30 207h0m31-122h0m-12-98h0m3-1h0m-19 14h0m11 26h0m16-25h0m-30-1h0m-1 82h0m-25-77h0m30 35h0m16-41h0m14 17h0m-21 77h0m-29-54h0m-18 42h0m57-53h0m31 55h0m-13-56h0m-24 64h0m-29-119h0m57 113h0m6-35h0m7-72h0m-65 24h0m47-76h0m-39 95h0m24 18h0m40-43h0m-7 81h0m-83-150h0m42 92h0m-2-53h0m-32 43h0m45 62h0m-11-43h0m13 74h0m-16-91h0m-28-11h0m45 11h0m-53-52h0m-6 32h0m60 30h0m-17 54h0m26-104h0m-32 10h0m-35-29h0m9 7h0m46 60h0m-25 9h0m5 13h0m4-31h0m11 66h0m-71-131h0m133 64h0m-46 42h0m-47-41h0m33 33h0m-18-30h0m0-8h0m18 24h0m-13-38h0m25 27h0m-13 34h0m-35-80h0m9 89h0m17 22h0m24 21h0m-13-98h0m46 66h0m-65-141h0m24 20h0m6 72h0m-19-56h0m-9 10h0m-3-4h0m9 34h0m27-22h0m-20-12h0m-21 50h0m16-28h0m-9 29h0m12 13h0m-35 19h0m-11-37h0m-26-7h0m76-13h0m-36-27h0m67 66h0m-56-16h0m16 53h0m15-40h0m-54-31h0m44 60h0m34-64h0m-76 25h0m41 20h0m-21-8h0m29-56h0m15 71h0m10-17h0m-8-19h0m-47-1h0m8 20h0m41-94h0m-18 144h0m-33-184h0m33 67h0m-26 7h0m39 61h0m-48-9h0m36 9h0m-25-74h0m114 100h0m-79-1h0m-37-142h0m36 107h0m-29-102h0m31 64h0m-37 61h0m44-34h0m-29-61h0m-39 40h0m22 81h0m23-49h0m36 21h0m-4-120h0m-41 118h0m3-17h0m3-57h0m20 114h0m-74-59h0m39 39h0m11-71h0m13 43h0m5 6h0m-23-28h0m17 8h0m-8 11h0m11-21h0m-41-51h0m27 75h0m31-28h0m-100 36h0m58-63h0m39 108h0m14-32h0m-30 28h0m22 21h0m-67-32h0m20-67h0m20-51h0m51 110h0m-74-30h0m69 16h0m-52 33h0m-3-73h0m68-49h0m-53 75h0m-56-32h0m62-30h0m45 52h0m-19-28h0m-35 43h0m-24-74h0m-5 49h0m13-9h0m34 5h0m-19-25h0m6 61h0m-20-100h0m44 85h0m-43 39h0m-21-50h0m32-1h0m-14-39h0m45 42h0m-37 15h0m24-17h0m4 9h0m-42 16h0m14-18h0m-1-100h0m36 28h0m-34 55h0m-24 115h0m25-57h0m-7-52h0m-27-4h0m-25-7h0m48 41h0m-20-40h0m25 13h0m-16-42h0m5 20h0m-22-23h0m43 3h0m-17 24h0m12 72h0m4-41h0m19 31h0m-49-65h0m37 29h0m23-47h0m-56 30h0m57-8h0m-70-59h0m100 63h0m-77-46h0m-33 87h0m43-62h0m-43-37h0m43 10h0m13 12h0m6 111h0m-55-120h0m-1 42h0m1 27h0m11-19h0m25 1h0m58 26h0m-44-59h0m-39 124h0m78-32h0m-64-44h0m11 54h0m45-68h0m-57-16h0m13-40h0m-11 28h0m18 56h0m1-11h0m29 55h0m28-6h0m-104-14h0m63-48h0m-2 80h0m-12-86h0m-22-109h0m29 97h0m-28 40h0m16 3h0m13-2h0m4 9h0m-57-152h0m78 221h0m-53-74h0m-25-19h0m-10-95h0m36 126h0m44-97h0m-72-34h0m34 119h0m-30 3h0m45-41h0m-9-36h0m-40 71h0m57-27h0m-50 22h0m22-1h0m59-103h0m-37 100h0m-14-80h0m37 77h0m8-42h0m-53 3h0m47 95h0m-21-65h0m7-2h0m-13 31h0m-8 69h0m-50-235h0m35 157h0m20-25h0m4 52h0m-29-49h0m-18 0h0m40 24h0m27-35h0m-49-33h0m-1 45h0m44 82h0m-54-52h0m19-145h0m6 105h0m-17-38h0m-17 96h0m57-111h0m-37 57h0m-1 30h0m26 11h0m-42-63h0m52 34h0m30 92h0m-22-139h0m-9 36h0m3-45h0m-37 40h0m19 30h0m35-28h0m-75 44h0m19-99h0m63 59h0m1-23h0m-72-113h0m-1 196h0m36-55h0m-40-28h0m-4 83h0m20-30h0m3-143h0m50 131h0m0 96h0m-71-91h0m39 19h0m6-126h0m-15 9h0m-4 7h0m-14 127h0m44-15h0m-95-155h0m73 157h0m-29-144h0m45 26h0m-29 70h0m-2-29h0m-6 33h0m40 6h0m-16 51h0m32-89h0m-15-6h0m-90 13h0m102 140h0m-2-62h0m-45 9h0m24-35h0m-78-2h0m78 45h0m-30-70h0m14-75h0m-38 2h0m65 196h0m-103-161h0" stroke="#000" stroke-width="10" stroke-linecap="round" fill="none" stroke-opacity="0.5"/><path transform="scale(.1)" d="M2476 1423h0m6 47h0m-23 15h0m12-79h0m4 25h0m-34-5h0m3-38h0m18 79h0m-52-122h0m63 53h0m26 2h0m22 55h0m-41-11h0m1 49h0m-17 10h0m52-52h0m-10-45h0m-16 72h0m-8-58h0m30 11h0m-28 20h0m-11 62h0m32 43h0m-74-46h0m28-74h0m48 49h0m-12 17h0m15-91h0m-82 56h0m55-43h0m1 2h0m-20 33h0m26-3h0m2-38h0m-9 35h0m-36-46h0m8 43h0m62 2h0m2-26h0m-59-33h0m24 27h0m12 45h0m-34 30h0m15-4h0m24-1h0m-23 34h0m19-93h0m5 64h0m-73-67h0m71 92h0m-26-27h0m7-83h0m13 68h0m22 8h0m-12-72h0m-52 56h0m-20 26h0m45 32h0m-15-96h0m43 79h0m-30-99h0m-38 14h0m-12 91h0m43-32h0m-3-62h0m-2 95h0m17-45h0m20-17h0m0-19h0m-31-89h0m21 102h0m56 29h0m-21-37h0m-60 42h0m-10-32h0m14 58h0m-3-174h0m34 132h0m-25-53h0m-1 46h0m23 15h0m-36 26h0m42-21h0m44 8h0m-91-74h0m3 46h0m10-97h0m-13 105h0m-17-78h0m113 91h0m-81-21h0m37-26h0m-50-7h0m17 31h0m-21-28h0m22-38h0m21 71h0m-30-46h0m-45 62h0m40-66h0m35-16h0m-1 141h0m-6-66h0m-34 31h0m18-63h0m13 6h0m-12 4h0m36 74h0m-39-46h0m35-30h0" stroke="#000" stroke-width="9" stroke-linecap="round" fill="none" stroke-opacity="0.4"/><path transform="scale(.1)" d="M2252 1023h0m72-18h0m-24-41h0m-31 18h0m-19 32h0m56 46h0m7-26h0m-18-17h0m15 25h0m2-6h0m39-75h0m-70 23h0m86 32h0m-47-38h0m-7 50h0m-26-63h0m8 48h0m-6-38h0m14 59h0m-40 27h0m85-62h0m-62 50h0m-43-22h0m84-16h0m1 7h0m-30-35h0m5 50h0m30-30h0m-7 11h0m-21-13h0m0 7h0m-34 38h0m54-43h0m-34 35h0m-28-51h0m53 50h0m-25-47h0m57 32h0m-41-64h0m-21 41h0m17 20h0m18-5h0m-56 3h0m24-30h0m25 39h0m14 7h0m-67-29h0m10-18h0m17 12h0m56-15h0m-116 9h0m106-35h0m-29 76h0m26-67h0m11-7h0m86 32h0m-107 47h0m4 18h0m-5-56h0m2-5h0m23-23h0m-56-5h0m-2-21h0m68 32h0m-42-1h0m18 40h0m29-5h0m-106-27h0m76-38h0m-75 99h0m43 18h0m52-25h0m-99-22h0m27 11h0m17 38h0m-1-76h0m32-27h0m70 42h0m-104-12h0m4-20h0" stroke="#2a2ab4" stroke-width="10" stroke-linecap="round" fill="none" stroke-opacity="0.8"/><path transform="scale(.1)" d="M2406 880h0m105 10h0m-44 32h0m-76-1h0m38-28h0m37 26h0m-75-18h0m55 0h0m-21-1h0m-27 36h0m57-32h0m0-22h0m-87 78h0m92-50h0m-38 3h0m5-8h0m-39 23h0m12-29h0m93-24h0m-33 15h0m-21 26h0m2-16h0m-29 10h0m26 1h0m-17 22h0m32-23h0m-49 9h0m39-24h0m32 21h0m-45-6h0m7-28h0m14 22h0m-41-20h0m-17 33h0m86-17h0m-37 1h0m-13 3h0m56-5h0m-61 37h0m-6-40h0m-8 1h0m-7 11h0m25-20h0m-3 34h0m65-26h0m-70 17h0m51-43h0m-70 22h0m28 15h0m7-16h0m-19 33h0m35-50h0m-34 30h0m-1 3h0m53 4h0m-46 17h0m40-25h0m11-11h0m-5 12h0m1-49h0m-36 70h0m42-42h0m-41 53h0m-39 7h0m48-16h0m51-61h0m-64 100h0m68-77h0m-101 41h0m65-47h0m-5 21h0m-48-27h0m-30 83h0m84-56h0m-5-9h0m7 26h0m8-21h0m-56 25h0m80-56h0m-27 29h0m-64 0h0m92-42h0m-57 52h0m8-19h0m6-17h0m-44 43h0m-13-26h0m48 44h0m-49-26h0m29-13h0m67 17h0m-100-13h0m32-30h0m-4 45h0m42-24h0m-53 50h0m-6-19h0m17-38h0m80-4h0m-94 37h0m-13 36h0m15-26h0m43-44h0m8 1h0m-25 25h0m7-11h0m-46 34h0m55-25h0m-28-15h0m-4 29h0m55-14h0m-14-33h0m-49 18h0m38 26h0m-68 27h0m30-6h0m79-21h0m-89 5h0m-1-18h0m73-9h0m-113 35h0m58-6h0m47-15h0m-42 7h0m-9 14h0m-10-7h0m41-14h0m-47-6h0m60 28h0m-32-32h0m7 2h0m32-21h0m-45 30h0m-16 4h0m17-39h0m36 54h0m-23-13h0m-52 11h0m75-30h0m-66 52h0" stroke="#ff2a2a" stroke-width="11" stroke-linecap="round" fill="none" stroke-opacity="0.7"/><path transform="scale(.1)" d="M2401 1087h0m-21 9h0m14 5h0m-75-50h0m73 52h0m-26-12h0m-7-15h0m-23 25h0m32 3h0m-19-62h0m18 75h0m-10-40h0m37 14h0m-49-45h0m31 58h0m-10-26h0m-8-24h0m55 30h0m-25 37h0m-30-55h0m15 7h0m7 79h0m-6-60h0m-20-3h0m-2-15h0m6 0h0m41-1h0m-11 37h0m-25-25h0m-3-30h0m-3 17h0m-43 22h0m67 1h0m-8-10h0m32 1h0m26 16h0m-33 10h0m-43-17h0m9-12h0m-30 1h0m2-43h0m84 59h0m-45-7h0m-49-8h0m68-2h0m-79-9h0m65-14h0m-17 46h0m-20-7h0m21-29h0m22 30h0m-34-10h0m53-5h0m-69-33h0m31 17h0m38 47h0m-66-29h0m20-35h0m21 17h0m-26 20h0m30-15h0m13 18h0m-22 14h0m1-19h0m-25 11h0m24-10h0m19 5h0m-34-35h0m26-23h0m-36 26h0m42-13h0m-25 53h0m-16-10h0m-9-13h0m0 17h0m22 37h0m14-89h0m14 49h0m-43-1h0m8-22h0m34 23h0m-49 2h0m50 14h0m-55-80h0m19 84h0m13-51h0m-8 22h0m11 15h0m-26-72h0m56 118h0m-47-53h0m69 33h0m-41-14h0m-3-28h0m-51-5h0m76 42h0m7-68h0m1 26h0m-86 5h0m17-41h0m14 48h0m29-1h0m-4 20h0m37-42h0m-69 9h0m-9-9h0m45 33h0m-40-24h0m24 10h0m45 33h0" stroke="#9b3cff" stroke-width="11" stroke-linecap="round" fill="none" stroke-opacity="0.8"/><path transform="scale(.1)" d="M2302 1008h0m-60 8h0m70 11h0m-33-17h0m45-42h0m-44 58h0m5-57h0m24 50h0m-22-24h0m21-1h0m-25 13h0m25-3h0m-4-26h0m19-7h0m11 14h0m-63 12h0m0 14h0m30-19h0m0-6h0m6-12h0m-21 8h0m-28 26h0m21-32h0m22-10h0m0 96h0m-21-54h0m76-22h0m-41 8h0m-40 34h0m15-24h0m22 10h0m-21-8h0m42-22h0m-17-28h0m-3 57h0m-19-19h0m-37 26h0m49-17h0m-12 3h0m-35 14h0m69-9h0m-31-35h0m-21-17h0m13 36h0m-18-38h0m8 47h0m65-2h0m7 4h0m-61-31h0m56 5h0m-101 18h0m79-7h0m6 23h0m-52-20h0m30 36h0m-20-20h0m42 36h0m-2-80h0m-32 12h0m37 34h0m22-23h0m-39 15h0m-48-7h0m60-11h0m-13-10h0m24 39h0m-50 5h0m59-66h0m-67 35h0m3-17h0m15 13h0m28-2h0m-13 18h0m-50 46h0m28-55h0m35 23h0m-67-43h0m75 5h0m-54 50h0m20-40h0m-61 53h0m14 7h0m28-51h0m12 12h0m32 5h0m-51-29h0m21 46h0m42-55h0m-11-27h0m-34 65h0m33-11h0m-28-5h0m7 9h0m0 4h0m6-14h0m-22 14h0m-13 26h0m-6 1h0m44-44h0m-33-28h0m7 10h0m51-7h0m18 28h0m-44 10h0m-1 33h0m-22-21h0m37-22h0m-42 6h0m37 17h0m-20-53h0m-19 53h0m65-49h0m12-17h0m-95 92h0m49-35h0m-25 7h0m16-27h0m3-30h0m13-5h0m4-32h0m-39 52h0m50 13h0m-12 34h0m-38-41h0m35 39h0m3 15h0m-45 6h0m38-7h0m-18-33h0m5-15h0m-33 39h0m12 11h0m43-38h0m-28 10h0m20 3h0m-10-36h0m30 25h0m-101-12h0m70 46h0m69-41h0m-72 66h0m-54-51h0m46-18h0m0-12h0m-10-5h0m-30-5h0m72 37h0m-35-5h0m50-27h0m-88 9h0" stroke="#bdbdbd" stroke-width="11" stroke-linecap="round" fill="none" stroke-opacity="0.85"/><path transform="scale(.1)" d="M3542 294h0m19-25h0m30-7h0m4-41h0m-37 69h0m12 18h0m65-54h0m-72 38h0m-8 2h0m11-6h0m28-41h0m-7-14h0m46 56h0m-32-12h0m-54-28h0m65 46h0m-9-39h0m-50 59h0m8-28h0m14-20h0m69-7h0m-76 17h0m-7-42h0m28 51h0m5-18h0m9-4h0m-58 27h0m-53 47h0m130-51h0m-100 47h0m73-58h0m2-5h0m2-20h0m-34 75h0m10-88h0m20 10h0m9 13h0m21-6h0m-73 45h0m9-20h0m30 34h0m2-15h0m5-73h0m3 19h0m-28 7h0m81 15h0m-56-9h0m-69 15h0m94-26h0m-96 33h0m14 22h0m34-5h0m-19-30h0m25 16h0m4-1h0m-36-2h0m13 19h0m36-45h0m0 29h0m-25-4h0m-22 7h0m46 14h0m-38 13h0m-23-16h0m49-91h0m23 63h0m-42 6h0m73-22h0m-60 26h0m22-19h0m-6 2h0m5 36h0m1 1h0m45-30h0m-44-29h0m-84 65h0m86-37h0m-113 18h0m68 27h0m28-64h0m-31 64h0m62-71h0m-43 47h0m10-54h0m-17-8h0m34 20h0m11-20h0m-92 53h0m55-13h0m16 8h0m32-7h0m-33-20h0m-32 6h0m-23 44h0m-17-12h0m21-16h0m43-8h0m15 27h0m34-39h0m-61-18h0m55 59h0m-103-14h0m68-6h0m-34-2h0m14 32h0m56-45h0m-34 37h0m-12-14h0m-1-8h0m-31 48h0m-40-47h0m123-57h0m-63 33h0m10 22h0m5-9h0m-26 7h0m21 23h0m-21 8h0m30-40h0m-25-6h0m73 37h0m0-41h0m-95 35h0m65-21h0m-35 25h0m76-66h0m-51 61h0m19-25h0m-54 18h0m74-7h0m-81 12h0m0 39h0m-51 4h0m75-52h0m2 30h0m4-37h0m-27 37h0m37-4h0m-17-28h0m-37 16h0m113-34h0m12-2h0m-95-17h0m35 40h0m10 9h0m-14-30h0m-35 55h0m23-43h0m47-34h0m-62 43h0" stroke="#a82e2e" stroke-width="11" stroke-linecap="round" fill="none" stroke-opacity="0.65"/><path transform="scale(.1)" d="M3586 1170h0m-46 48h0m-45-71h0m61 54h0m26-48h0m-144 68h0m168-54h0m5-32h0m-130 49h0m74 29h0m-23-118h0m31 111h0m58-109h0m-54 115h0m-68-55h0m43 72h0m-5-109h0m-7 130h0m-15-52h0m-1-12h0m111-56h0m-35 65h0m-108 7h0m96-16h0m-167 61h0m118-100h0m70 68h0m-38-49h0m16 9h0m-17 7h0m-48 13h0m47 39h0m-20-38h0m-71 10h0m83-27h0m-59 14h0m72-63h0m114 27h0m-36-58h0m56 53h0m-169 38h0m8 22h0m44-50h0m-82 28h0m114 40h0m-98-50h0m37-38h0m-17 58h0m113-19h0m-58-69h0m-7 30h0m-85 90h0m126-56h0m-87 27h0m-62-6h0" stroke="#f4a460" stroke-width="13" stroke-linecap="round" fill="none" stroke-opacity="0.5"/><path transform="scale(.1)" d="M3516 1185h0m-23 9h0m34 4h0m-18-15h0m6-6h0m1 42h0m23-8h0m-25-19h0m-28-13h0m64 7h0m-36-6h0m1 40h0m-8-28h0m37-26h0m-32 19h0m1-14h0m-22 26h0m3-26h0m4 30h0m-2 14h0m-8-5h0m8-33h0m-15 33h0m42-32h0m-4-20h0m-32 40h0m39 6h0m-33-2h0m22-19h0m0-7h0m-48 30h0m-16 16h0m70-31h0m7 18h0m-15-2h0m-12 8h0m-13-22h0m-41 31h0m95-43h0m-87 39h0m59-24h0m4 44h0m-11-71h0m-28 42h0m4-19h0m37 5h0m-39 12h0m38 12h0m-46-18h0m33-23h0m14 16h0m-11 3h0m-4-49h0m-15 89h0m-3-57h0m21 44h0m41-21h0m-48 20h0m6-27h0m22-29h0m-24 10h0m31 31h0m-59-14h0m55-2h0m-29-5h0m11-9h0m14 27h0m-76-12h0m79-13h0m-38 12h0m41-6h0m-37 8h0m6-21h0m-39 27h0m10-2h0m69 23h0m-53-5h0m20-26h0m-6 8h0m-29 1h0" stroke="#0000ff" stroke-width="16" stroke-linecap="round" fill="none" stroke-opacity="0.9"/><path transform="scale(.1)" d="M3623 1142h0m-28 39h0m-25-7h0m99-63h0m-100 53h0m17 21h0m-4 10h0m16-38h0m-27 6h0m3 10h0m38-17h0m15 4h0m-25 10h0m-43-11h0m38-8h0m-26 9h0m28 5h0m-15-27h0m-36 7h0m58 4h0m-23 2h0m-1 1h0m-18 17h0m35-35h0m-25 34h0m5-28h0m-23 12h0m11 29h0m-8-13h0m4 27h0m18-27h0m27-36h0m-4 5h0m-44 16h0m11 15h0m52-20h0m-20 1h0m-14 13h0m-18-14h0m18 34h0m-45 13h0m38-14h0m37-64h0m-2 20h0m-43 13h0m42 23h0m-19-24h0m-3 50h0m-22-23h0m-2-19h0" stroke="#0000ff" stroke-width="16" stroke-linecap="round" fill="none" stroke-opacity="0.9"/><path transform="scale(.1)" d="M2424 1135h0m17 8h0m-55 7h0m-8 23h0m15-3h0m-32 12h0m-1-28h0m-30 13h0m54 45h0m-33-67h0m52 50h0m1-15h0m22 0h0m-25-14h0m-15 0h0m46 9h0m-60-10h0m-40 9h0m21-9h0m29 11h0m26-16h0m12-7h0m-54 30h0m58-19h0m-25-30h0m12 26h0m-42 40h0m19-25h0m-50 34h0m51-82h0m-6 48h0m22-57h0m22 54h0m-63-17h0m54 1h0m7 13h0m-43-22h0m62-8h0m-75 20h0m-14 28h0m44 7h0m40-56h0m-34 3h0m-61 33h0m30-34h0m49-13h0m-48 51h0m12-25h0m-17 50h0m76-70h0m2 54h0m-86 10h0m-21-32h0m69 0h0m-14-63h0m-1 67h0m3-5h0m-15-17h0m43 41h0m-16-81h0m24 65h0m-14-12h0m-41 10h0m-3-38h0m13 47h0m7-28h0m-20 19h0m-2 17h0m10-41h0m-13-43h0m21 68h0m49-11h0m-10-9h0m-53 1h0m16-9h0m-8 25h0m-14 13h0m36-29h0m-65 51h0m55-44h0m-11 22h0m-30-13h0m49-5h0m18 19h0m-22-3h0m7 11h0m-38 6h0m34-30h0m32 10h0m-75 8h0m95-17h0m-113 27h0m74-29h0m-43 9h0m25 4h0m-12-31h0m7 39h0m29-2h0m-48-60h0m25 59h0m22-37h0m-38 4h0m-52 42h0m40-42h0m3 25h0m-12-18h0m41-20h0m-4 68h0m-35-51h0m5-11h0m-22 23h0m34 43h0m57-88h0m-93 79h0m96-59h0m-52 30h0m-6-5h0m-6 26h0m-26-36h0m64 49h0m-36-45h0m-14-21h0m23 32h0m49 5h0m-58 8h0m9 5h0m39-34h0m-62 49h0m52-23h0m39-47h0m-69 24h0m-48 1h0m77-3h0m-35 18h0m45-24h0m-22 11h0m-3 21h0m-33 8h0m62 3h0m-39-97h0m10 55h0m0-2h0m1 4h0m-8-7h0m-9 1h0m-38 44h0m33 7h0m-3-53h0m49 33h0m-12-64h0" stroke="#22e022" stroke-width="11" stroke-linecap="round" fill="none" stroke-opacity="0.85"/><path transform="scale(.1)" d="M2466 1160h0m28-3h0m-20-8h0m-41 14h0m-4-19h0m17 22h0m34-30h0m-17 30h0m-6-10h0m10 13h0m-36 19h0m-28-8h0m36-12h0m5 13h0m14-30h0m-4 10h0m77-4h0m-93-20h0m-1 15h0m57 44h0m-39-29h0m46-9h0m0 8h0m-28-10h0m-2-5h0m-56 12h0m74 14h0m-25 16h0m3-44h0m10 7h0m-18 15h0m-32-26h0m15 21h0m-8 21h0m47-6h0" stroke="#22e022" stroke-width="10" stroke-linecap="round" fill="none" stroke-opacity="0.5"/></g>
<rect x="216.7" y="15.5" width="157.0" height="142.8" fill="none" stroke="#c8c8c8" stroke-width="1.2"/>
<path d="M236.6 158.3v3M259.1 158.3v3M281.5 158.3v3M304.0 158.3v3M326.5 158.3v3M348.9 158.3v3M371.4 158.3v3M216.7 39.4h-3M216.7 71.6h-3M216.7 104.1h-3M216.7 136.6h-3" stroke="#c8c8c8" stroke-width="0.9" fill="none"/>
<rect x="216.7" y="15.5" width="30.5" height="42.8" fill="#fff" stroke="#c8c8c8" stroke-width="1.1"/><g font-size="3.15" fill="#333" filter="url(#gs)"><text x="222.2" y="24.4">NHW_WES_20k</text><text x="222.2" y="28.3">GBR</text><text x="222.2" y="32.2">FIN</text><text x="222.2" y="36.0">IBS</text><text x="222.2" y="39.9">CEU</text><text x="222.2" y="43.8">YRI</text><text x="222.2" y="47.7">CHB</text><text x="222.2" y="51.6">JPT</text><text x="222.2" y="55.4">TSI</text></g><circle cx="219.6" cy="23.3" r="0.55" fill="#000" fill-opacity="1"/><circle cx="219.6" cy="27.2" r="0.6" fill="#3030c0" fill-opacity="0.7"/><circle cx="219.6" cy="31.1" r="0.6" fill="#ff7070" fill-opacity="0.7"/><circle cx="219.6" cy="34.9" r="0.6" fill="#c070ff" fill-opacity="0.7"/><circle cx="219.6" cy="38.8" r="0.6" fill="#999" fill-opacity="0.7"/><circle cx="219.6" cy="42.7" r="0.6" fill="#c06060" fill-opacity="0.7"/><circle cx="219.6" cy="46.6" r="0.6" fill="#f0a860" fill-opacity="0.7"/><circle cx="219.6" cy="50.5" r="0.7" fill="#0000ff" fill-opacity="1"/><circle cx="219.6" cy="54.3" r="0.6" fill="#30e030" fill-opacity="0.7"/>
<g><path transform="scale(.1)" d="M5503 343h0m-66 42h0m-71 82h0m-44 38h0m95 0h0m-257 111h0m48 47h0m25 52h0m-111 28h0m34-3h0m-158 17h0m10 38h0m47-4h0m38 44h0m162 8h0m-333 20h0m95 0h0m33 23h0m-471 162h0m57-9h0m28 38h0m372-19h0m-133-105h0m-19 38h0m-29-67h0" stroke="#000" stroke-width="10" stroke-linecap="round" fill="none" stroke-opacity="0.55"/><path transform="scale(.1)" d="M4744 1040h0m48-26h0m72 16h0m116 151h0m-3 4h0m-59-199h0m-28 170h0m72-69h0m-144-99h0m-39 55h0m142 45h0m-267-83h0m257 71h0m-35 118h0m-54-102h0" stroke="#000" stroke-width="9" stroke-linecap="round" fill="none" stroke-opacity="0.5"/><path transform="scale(.1)" d="M4771 1022h0m-10-63h0m-42 105h0m15-105h0m-24 81h0m81 23h0m-14-99h0m-65-27h0m121 42h0m-26-26h0m33 142h0m-115-75h0m3-40h0m57-75h0m-11-73h0m-32 124h0m90 14h0m-46-47h0m30 89h0m25 16h0m-11-10h0m-64-63h0m-43 15h0m105 60h0m-71-70h0m-12 10h0m1 4h0m80 95h0m-82-192h0m74 180h0m39-39h0m-23 65h0m-80-37h0m79 87h0m70-151h0m-169-24h0m-18-31h0m76 65h0m-20 43h0m-4-9h0m49 24h0m8 5h0m-86-218h0m6 177h0m107-61h0m-65 83h0m-21-92h0m49 118h0m-19-71h0m29 77h0m-37-124h0m18 27h0m-123-17h0m77-18h0m-35 68h0m12-25h0m46 38h0m1 9h0m-3-32h0m-33 20h0m-1-83h0m31 33h0m-28 31h0m6-41h0m30 93h0m31-33h0m-63-66h0m-21 39h0m12 21h0m72-30h0m13 97h0m-23-113h0m-74 12h0m87 21h0m37-1h0m-2 44h0m-70-123h0m-93 107h0m112-30h0m-45 23h0m-7-123h0m26 129h0m6 74h0m-17-52h0m-38-35h0m-16-57h0m40-19h0m7 66h0m-12-46h0m21-12h0m-114 0h0m168 57h0m22 16h0m-54-37h0m-31 69h0m33-56h0m28 97h0m-24-114h0m-61 40h0m-9-82h0m45 59h0m-55 6h0m70-48h0m-10 154h0m-4-52h0m74-24h0m-56-20h0m-61-56h0m82 24h0m24 59h0m-133-61h0m-22 62h0m41-12h0m67 39h0m-16-64h0m58 18h0m-60 28h0m13-74h0m-3 37h0m-50-80h0m2 57h0m42 52h0m85-58h0m-53 27h0m-61 12h0m16 50h0m10-20h0m-25-26h0m14-132h0m115 276h0m-28-37h0m-127-157h0m102 115h0m-36-110h0m-2 108h0m-36-131h0m8 57h0m59-66h0m-18 100h0m-9 17h0m-54-27h0m-34-159h0m131 100h0m-47-58h0m7 191h0m-63-117h0m-13-114h0m85 99h0m-101-30h0m110 69h0m-70-86h0m99 65h0m-29-135h0m-1 209h0m-92-38h0m94 3h0m0-71h0m-10 175h0m2-170h0m65 28h0m-77-13h0m16 89h0m-49-171h0m-31 8h0m67 118h0m-42-70h0m-56 12h0m90 57h0m-28-20h0m-105-124h0m137 114h0m-60-15h0m31-56h0m37 114h0m-1-13h0m-8 66h0m-59-110h0m38-52h0m123 191h0m-51-99h0m-10-5h0m-62-84h0m-5 35h0m66 55h0m-210-162h0m74 83h0m24 105h0m-20-153h0m78 150h0m-2-70h0m-94-58h0m75 84h0m22-10h0m-20 2h0m-26 66h0m-63-127h0m86 29h0m98 21h0m22-31h0m-92 51h0m85 147h0m-106-183h0m-20-2h0m35 72h0m16-72h0m30 68h0m-107-22h0m43 122h0m-13-174h0m14 23h0m14 78h0m-11-55h0m38 43h0m-3-9h0m-44 34h0m1-160h0m30 144h0m28-77h0m-46 47h0m-31-71h0m58 70h0m-4 27h0m53-64h0m-25 26h0m-23-13h0m-29-10h0m27 36h0m0-50h0m-23 18h0m10 39h0m-53 69h0m100 0h0m-25-31h0m-33-60h0m-8-60h0m40 61h0m-82-53h0m33-19h0m-22-55h0m87 185h0m-55 25h0m17-176h0m13 82h0m-13 27h0m28 71h0m-38 14h0m-86-123h0m124 19h0m-107-81h0m10 104h0m30-5h0m53-56h0m-35-43h0m3 57h0m56 154h0m-30-191h0m-39 71h0m79 25h0m-45 17h0m-42-66h0m67 98h0m-18 9h0m-6-87h0m-4 9h0m-49-2h0m82 2h0m-7-15h0m53 33h0m-191-101h0m164 101h0m-89-28h0m79 73h0m-20-8h0m-17-91h0m-4 12h0m-50-5h0m11-46h0m62 24h0m5 71h0m6-81h0m-96-26h0m30 79h0m-13-71h0m-5 86h0m19 36h0m64-18h0m-33 35h0m-21-135h0m-71-91h0m95 135h0m-17-6h0m74 31h0m-35 15h0m3-74h0m-80 72h0m93 6h0m-64-78h0m-1-112h0m54 157h0m-46 12h0m62-86h0m-19 146h0m-20-95h0m-104 15h0m78 28h0m41 89h0m-73-170h0m39 122h0m2-160h0m-28 164h0m-9-83h0m78-41h0m-28 100h0m71 96h0m-186-214h0m106 54h0m-30-27h0m52 119h0m-16-74h0m-91-18h0m96 75h0m29-33h0m-53-27h0m44 45h0m-76 8h0m109-17h0m-43-128h0m-71 170h0m78-23h0m-97-79h0m180 227h0m-49-122h0m-74-52h0m-12-55h0m34 5h0m48-12h0m-56 69h0m-93-80h0m14 7h0m161 89h0m-176-97h0m199 136h0m-99-104h0m-61-63h0m19 32h0m112 128h0m-64-73h0m-55-62h0m75 130h0m-44-33h0m-45-60h0m10-42h0m14-40h0m4 117h0m40 12h0m58 42h0m54-27h0m-101 17h0m-96-130h0m16 57h0m102 25h0m-54-27h0m66-10h0m-80 4h0m12 27h0m69 36h0m-61-3h0m-79-101h0m31 56h0m40-75h0m-47-10h0m53 167h0m7-80h0m87 136h0m-62-97h0m-42 12h0m3-78h0m46-44h0m-34 133h0m-112-31h0m145 72h0m-49-15h0m34-20h0m-8-54h0m-10-78h0m20 150h0m-42-110h0m-11 49h0m51 31h0m-54-55h0m85-55h0m-106-7h0m70 143h0m31 30h0m-118-126h0m113 88h0m1 58h0m81-58h0m-112 11h0m-55-97h0m27-75h0m69 18h0m0 91h0m0 69h0m-57 26h0m45-133h0m-34 62h0m-34-46h0m-42-79h0m77 42h0m13 123h0m57-54h0m-3-49h0m-63 30h0m101 116h0m-15-132h0m-142 25h0m-19-74h0m31 41h0m84 29h0m-38-48h0m62 41h0m-83-26h0m113 177h0m-110-174h0m-5 104h0m9-132h0m24 66h0m62 9h0m-122 19h0m-52-116h0m219 113h0m-28-42h0m-182-19h0m6 30h0m76 39h0m-71-69h0m136 29h0m-108-82h0m20 93h0m56 20h0m-15-86h0m-8 47h0m32 1h0m-57 113h0m68-57h0m-22-62h0m41-21h0m-132 27h0m53-33h0m-27 10h0m19-19h0m33 88h0m-28-69h0m1-47h0m-36 22h0m67 16h0m-18 53h0m-37-58h0m-29-17h0m96 36h0m-83 106h0m6-154h0m65 7h0m-31-93h0m84 279h0m-108-201h0m-30 4h0m121 41h0m-69-5h0m21 72h0m-71-81h0m122 2h0m-34 27h0m16 15h0m22 89h0m-57-112h0m-39-38h0m76 54h0m-82-41h0m119 56h0m-71-8h0m-77 33h0m49-157h0m-92 56h0m46 44h0m78-3h0m-99-97h0m48 92h0m76 10h0m10-69h0m-10 123h0m13-59h0m-20 111h0m2-172h0m-89 138h0m-115-176h0m168 49h0m101 76h0m-124-32h0m26-23h0m-38-32h0m145 137h0m-17-21h0m-110-36h0m75-15h0m12-33h0m-131-30h0m54 100h0m2-68h0m17-28h0m-29 159h0m32-99h0m-69-40h0m119 50h0m-18-34h0m-41 53h0m-59-1h0m100-25h0m-16 7h0m-45-64h0m39 207h0m-13-133h0m-104-147h0m96 207h0m-75-144h0m30 124h0m138 9h0m-115-74h0m4 12h0m95 42h0m-63-5h0m-7-2h0m-2-53h0m17 7h0m-129-73h0m82 64h0m20 10h0m14 50h0m21-23h0m-84-88h0m9 35h0m-3-109h0m42 132h0m54 94h0m-52-71h0m-12-65h0m16 58h0m5-27h0m-21-68h0m-1 26h0m59 18h0m-41 101h0m-37-86h0m38-29h0m-21-42h0m42 78h0m-24-66h0m93 165h0m-112-65h0m-76-196h0m106 277h0m-23-71h0m-9-21h0m66-21h0m-130 15h0m56-54h0m77-32h0m-50 72h0m22 30h0m19 106h0m3-119h0m-24 48h0m22-1h0m-111-69h0m45-40h0m-23 22h0m62 146h0m-35-201h0m26 133h0m-36-85h0m58 224h0m-95-242h0m49-19h0m-63 92h0m60-82h0m45 117h0m0 13h0m-14 11h0m80 40h0m-114-163h0m41 60h0m-38-20h0m23-39h0m23 69h0m93 86h0m-207-115h0m143 154h0m-86-93h0m41-82h0m12-61h0m62 119h0m-35-33h0m-70 17h0m15-44h0m21 24h0m17-27h0m-83 86h0m38-172h0m30 141h0m26 41h0m-10-7h0m-71-123h0m30 93h0m-71 55h0m80 19h0m19-30h0m51-19h0m-126-16h0m25 48h0m46-87h0m-44 11h0m57-127h0m17 132h0m-90 12h0m52-133h0m14 211h0m-72-88h0m112-6h0m-46 23h0m-73 2h0m-18 40h0m102-5h0m-105-68h0m62-77h0m72 138h0m-55-7h0m-52-66h0m78 91h0m-107-109h0m53 69h0m-10 24h0m8-29h0m39 12h0m-35-52h0m-30-69h0m25 64h0m6 85h0m-14-32h0m-15 2h0m5-24h0m48 80h0m5-125h0m11 54h0m4-2h0m-30-74h0m115 64h0m-118 42h0m65-27h0m-74-104h0m83 143h0m-130-44h0m51-2h0m-22 45h0m67-2h0m-74-65h0m27 49h0m23-36h0m-12 3h0m64-36h0m-53-41h0m-9 74h0m122 23h0m-157-74h0m-18-37h0m127 154h0m-140-128h0m44 52h0m-31-4h0m59 30h0m-34-26h0m37 41h0m26-86h0m-65-9h0m118 194h0m-82-124h0m15 21h0m-83-83h0m47 13h0m30 0h0m5 108h0m31-153h0m20 86h0m-114 7h0m78-72h0m-13 112h0m32-50h0m-101-41h0m65 89h0m-86-96h0" stroke="#000" stroke-width="10" stroke-linecap="round" fill="none" stroke-opacity="0.5"/><path transform="scale(.1)" d="M4923 1258h0m-16-3h0m-31-56h0m35 52h0m-48-97h0m-9 11h0m2 10h0m24 32h0m-27-38h0m24 33h0m49 61h0m-109-125h0m47 34h0m-28-53h0m29 92h0m-12-85h0m85 130h0m11 7h0m-29 0h0m-59-63h0m-11-57h0m33 85h0m-35-131h0m92 160h0m-25 0h0m-18-120h0m-21 1h0m35 146h0m15-24h0m14-8h0m-33 20h0m-48-108h0m23 34h0m14-67h0m-66-23h0m73 116h0m-25-18h0m-37-56h0m28 34h0m29 105h0m-62-168h0m58 73h0m1-2h0m-36 42h0m8 33h0m33-46h0m-59-105h0m3 17h0m-12-11h0m90 90h0m-56-12h0m-24-84h0m3 12h0m79 150h0m-105-148h0m100 137h0m-56-19h0m25 45h0m-31-172h0m-6 60h0m-1 1h0m21-17h0m28-31h0m12 121h0m-1 29h0m-82-88h0m1-45h0m-5-28h0m80 146h0m-85-158h0m48 21h0m-10-22h0m7-9h0m8 26h0m-9 29h0m-53-13h0m116 91h0m-52-33h0m13 17h0m31-23h0m-50-29h0m50 13h0m-57 33h0m28 49h0m-15-114h0m10 40h0m-8-24h0m39 80h0m-23 17h0m-28-156h0m11 63h0m-11-65h0m-6 103h0m-18-91h0m27 105h0m44 6h0m-9-109h0m-17 118h0m17 27h0m-1 25h0m-26-105h0m-11 11h0m15 44h0m-24-125h0m63 60h0m-53 21h0m31 46h0m-24-86h0m23 13h0m-55 23h0m2-73h0m58 128h0m-10-73h0m-28-56h0m-4 40h0m29-11h0m-1 123h0m-17-121h0m-38-1h0m36 26h0m-8-65h0m-53 19h0m99 120h0m-13-50h0m-55-53h0m11-2h0m49 93h0m19-57h0m-26-45h0m-21 81h0m4-62h0m7 66h0m22-19h0m-60-77h0m95 112h0m-55-47h0m-25 26h0m52 56h0m0-28h0m-30-54h0m15 38h0m-11 69h0m-37-169h0m54 135h0m-22-94h0m18 92h0m-55-129h0m53 62h0m35 30h0m-15 36h0" stroke="#000" stroke-width="10" stroke-linecap="round" fill="none" stroke-opacity="0.45"/><path transform="scale(.1)" d="M4977 1423h0m-68-84h0m41-7h0m41 83h0m-60-56h0m0-122h0m59 211h0m-65-72h0m-6-38h0m20 7h0m31 37h0m-29-55h0m17 147h0m-8-86h0m8 8h0m19-32h0m-58-28h0m12 45h0m122 43h0m-164-67h0m31 7h0m40 13h0m10-81h0m-62 143h0m-15-135h0m76 71h0m-15-87h0m-44 70h0m73-39h0m37 181h0m-83-174h0m68 71h0m-29-25h0m-33-61h0m6 109h0m-15-56h0m-63-74h0m51-36h0m-5 131h0m24-12h0m-72-80h0m86 66h0m-31-10h0m59 23h0m-87-35h0m48 27h0m13-21h0m7 43h0m9 28h0m77 26h0m-149-161h0m80 77h0m-58-49h0m-14-9h0m-73-4h0m83 36h0m61 8h0m-57 10h0m57 1h0m-4 0h0m0 18h0m-54 1h0m-12 23h0m21-20h0m33-62h0m-62-26h0m-21 1h0m139 54h0m-96-46h0m-27 130h0m67-118h0m-18-10h0m18 25h0m-55 56h0m55 76h0m-55-115h0m-14 1h0m72 21h0m49 16h0m-93-24h0m45-51h0m-29 87h0m-4-13h0m14 3h0m-80-78h0m79 93h0m26-52h0m17 59h0m-74-48h0m52 16h0m-51-17h0m89 111h0m-114-180h0m45 9h0m-16 20h0m-23-135h0m44 141h0m28 129h0m6-62h0m18 13h0m-81-37h0m-11-28h0m63-2h0m-67-39h0m-19-19h0m114 128h0m-34-57h0m23 82h0m-119-122h0m80 56h0m-43-83h0m152 125h0m-118-36h0m-47-50h0m54-27h0m15 144h0m-55-128h0m12 50h0m27 1h0m-29-52h0m7 165h0m26 8h0m5-161h0m39 28h0m-37 56h0m-5-4h0m12 1h0m-45-101h0m-8 83h0m74-135h0m-16 94h0m-24 55h0m13 15h0m-81-153h0m97 106h0m-109-53h0m71 89h0m1-6h0m5-16h0m70 14h0m-41-24h0m-11-64h0m-20 40h0m58 15h0m-92-84h0m55 64h0m1 40h0m17-104h0m35 134h0m-34 10h0m-31-22h0m33-59h0m-55 13h0m-23 74h0m66-43h0m29 17h0m-17-100h0m30 70h0m-14 41h0m-63-104h0m8 68h0m-35 12h0m62-48h0m2 75h0m-63-42h0m47 34h0m1-20h0m10 17h0m10-71h0m-9-23h0m-20 97h0m-32-23h0m29 36h0m-35-68h0m-18 5h0m38 62h0m32-53h0m-23-5h0m86 6h0m-108 2h0m33 7h0m10 16h0m-66-70h0m115 74h0m-64-29h0m19-28h0m-56 44h0m56-67h0m-49-52h0m25 110h0m-45-8h0m99 81h0m32-26h0m-71-90h0m-5 56h0m15 41h0m27-60h0m-75 6h0m47-36h0m-17-35h0m32 104h0m19-26h0m-12-23h0m-30 5h0m102 58h0m-85-37h0m45 34h0m-107-108h0m41 0h0m-45 28h0m55 69h0m-33-52h0m52 81h0m-5-75h0m-8 61h0m-41-64h0m46 55h0m-38-57h0m6 13h0m-10-54h0m-14-44h0m1 41h0m37 72h0m-12 6h0m-65-87h0m50 2h0m-2-13h0m-10 131h0m13-100h0m-4-7h0m59 63h0m-59-36h0m95 20h0m-30 32h0m-48-60h0m-18-62h0m14 83h0m42 134h0m-67-172h0m83 111h0m-1-127h0m-49 6h0m13 148h0m-57-91h0m-22-98h0m14 43h0m15 24h0m65-17h0m22 106h0m-5-17h0m-54-32h0m-1 29h0m2-61h0m-78-35h0m97 58h0m3-18h0m31 57h0m22-50h0m-47 79h0m-11-95h0m-28 18h0m3-7h0m-13-19h0m106 68h0m-56-29h0m-39-67h0m0 37h0m101 108h0m13 21h0m-81-17h0m32-98h0m-3 95h0m-10-100h0m-78-31h0m66 46h0m-34-57h0m37 36h0m93 110h0m-141-36h0m38-41h0m-23 51h0m-14-74h0m61 13h0m-45-56h0m-38-4h0m36 37h0m0-46h0m-55-39h0m34 93h0m-24-22h0m-8 13h0m103 97h0m-11-47h0m9 18h0m24-89h0m-121 11h0m-4 10h0m209 63h0m-222-179h0m79 106h0m12 40h0m-7-107h0m27 150h0m0-120h0m-47 78h0m34 83h0m-26-30h0m46-95h0m-10 12h0m29 88h0m-40 49h0m4-91h0m-109-95h0m72 51h0m29 84h0m6-119h0m18 19h0m-41-22h0m26 22h0m45 68h0m-60 13h0m-74-76h0m123 88h0m-89-128h0m27 141h0m30-20h0m-76-102h0m-14-28h0m64 152h0m-8-19h0m10-33h0m6-68h0m-22 88h0m6-125h0m29 132h0m32 82h0m-130-94h0m89 33h0m-45-100h0m53 49h0m-19-23h0m52 14h0m-1-48h0m-92-44h0m67 145h0m-44-121h0m56 118h0m-63-118h0m2 130h0m51-55h0m-90-10h0m107 40h0m-32-30h0m32 70h0m-41-38h0m-8 40h0m-77-172h0m90 176h0m-24-94h0m8-3h0m-26-57h0m43 15h0m-75 68h0m68-12h0m17-10h0m0-29h0m-8 40h0m39 25h0m-91-41h0m-8-6h0m94 63h0m-68-6h0m-25-77h0m56 77h0m-5-14h0m62 82h0m-66-49h0m65-40h0m-87-12h0m-2-55h0m81 13h0m-56 18h0m-13 5h0m27 79h0m-46-118h0m102 126h0m-104-122h0m-8-23h0m151 74h0m-87-32h0m-32-13h0m38 53h0m-46-35h0m-32 57h0m39-53h0m27 19h0m-37-44h0m64 65h0m-39-52h0m17 24h0m-95-98h0m100 120h0m-45-46h0m3 22h0m32-26h0m-48 10h0m-38-8h0m100 72h0m-52-65h0m-15 26h0m-9-4h0m16-35h0m62 86h0m-67-80h0m69 29h0m-38-54h0m-25-31h0m-26 12h0m94 79h0m-103-106h0m57-14h0m11 64h0m30 63h0m-73-47h0m17 108h0m54-110h0m-49 22h0m57 85h0m-42-45h0m1-61h0m-40 13h0m113 29h0m-64 71h0m-57-77h0m62-25h0m8 76h0m-15-108h0m10 69h0m-6-8h0m52-54h0m-113 10h0m-34-76h0m28 127h0m22-80h0m34 78h0m-49-26h0m82-36h0m-12 127h0m3-50h0m-103-52h0m103 63h0m-64-45h0m12-67h0m112 34h0m-124 58h0m34 44h0m3 2h0m36-15h0m-87-69h0m73 2h0m-50-84h0m10 129h0m-10-28h0m-80-84h0m142 105h0m-36 8h0m-57-102h0m-32-25h0m107 64h0m-15 46h0m4-24h0m16 90h0m-38 80h0m-2-144h0m-31-4h0m18-25h0m93 114h0m-71-94h0m25 30h0m9 9h0m-21 20h0m-9-34h0m76 55h0m-3-84h0m-50 3h0m-59-51h0m-6 50h0m39-1h0m21 60h0m-57-75h0m18 43h0m38-48h0m-82-120h0m58 162h0m70 58h0m-76-166h0m54 141h0m-72-117h0m-6 55h0m49-5h0m37 49h0m-37-42h0m-30 21h0m91 8h0m-53 32h0m-48-47h0m54 13h0m29 44h0m-9-54h0m-47-73h0m9 66h0m-80-63h0m120 182h0m-30-116h0m-23-110h0m26 65h0m-35 77h0m73-20h0m-86-11h0m15-26h0m-37-15h0m67 86h0m34 6h0m-40-41h0m7-12h0m20-14h0m-45-22h0m1 11h0m53 33h0m-30-3h0m-21 22h0m-14-71h0m71 63h0m-118-57h0m120 87h0m-87-48h0m34 14h0m-47-41h0m38 19h0m17-53h0m-35 79h0m-4-127h0m100 142h0m-25-50h0m-35 52h0m1-55h0m16 33h0m-7-76h0m-92 36h0m43 9h0m-37-51h0m83 106h0m-57-45h0m47-16h0m-65-8h0m74 53h0m25 22h0m-70-55h0m48 69h0m-20-40h0m47-33h0m-68-90h0m30 36h0m45 116h0m-27 5h0m60 45h0m-103-132h0m67 59h0m-82-109h0m-5 46h0m-22-4h0m-12 23h0m75 38h0m29 59h0m-65-47h0m40-117h0m57 142h0m-78-24h0m-56-97h0m59 164h0" stroke="#000" stroke-width="10" stroke-linecap="round" fill="none" stroke-opacity="0.5"/><path transform="scale(.1)" d="M5009 1529h0m-2-6h0m25-48h0m-12-29h0m4 51h0m-51-112h0m28 61h0m-33-44h0m-12 64h0m-20-108h0m59 117h0m-24-10h0m55 23h0m-58-92h0m57 26h0m2 55h0m-83-76h0m51 43h0m-39-70h0m35 166h0m-57-99h0m53 17h0m27-3h0m-31-81h0m-5 58h0m4-51h0m19 90h0m27 27h0m-79-129h0m48 76h0m-62-30h0m65 48h0m-36 28h0m52-12h0m-50 14h0m14-111h0m-22 26h0m37 37h0m30 18h0m-97-16h0m50-8h0m41 17h0m7-18h0m-29 58h0m-43-76h0m42 51h0m10-23h0m-3 2h0m12-19h0m-22-5h0m32 69h0m-60-58h0m16 38h0m37-33h0m5-38h0m-66 79h0m39-19h0m43 35h0m-67-72h0m50 36h0m-8 2h0m52-9h0m-76-34h0m-27 58h0m-11-64h0m53 44h0m8 32h0m-6 21h0m-78-128h0m75 42h0m3 35h0m-51-72h0m66 160h0m-14-91h0m-57-63h0m85 176h0m-34-103h0m-56-80h0m4 45h0m56-22h0m-19 39h0m31 64h0m-85-61h0m93-43h0m-15 33h0m25 11h0m-15-4h0m-59-42h0m70 63h0m-52-52h0m-2 4h0m67 113h0m-104-138h0m44 56h0m6-49h0m25 67h0m-22-3h0m-6-57h0m-14 29h0m10-8h0m30 31h0m-46-77h0m56 64h0m-32 14h0m14-20h0m-6-17h0m13 45h0m-57 25h0m16-24h0m36-26h0" stroke="#000" stroke-width="9" stroke-linecap="round" fill="none" stroke-opacity="0.4"/><path transform="scale(.1)" d="M4745 959h0m67 40h0m-62-42h0m13 92h0m-19-74h0m74 39h0m-22 58h0m-7-105h0m3 44h0m7 1h0m29 58h0m-5 6h0m-20-139h0m-23 112h0m18-21h0m3-36h0m-21 23h0m-54-43h0m51-20h0m-16 46h0m-10-51h0m30 61h0m9-13h0m15 53h0m-62-84h0m90 61h0m-34-25h0m-6 0h0m-5-11h0m22-11h0m-35-12h0m6-15h0m15 93h0m-63-127h0m62 115h0m-16-18h0m14-14h0m26 23h0m-53-17h0m26-4h0m12 12h0m-58-2h0m81 3h0m-46 23h0m-30-29h0m43 0h0m-22-50h0m5 52h0m20-18h0m-9-68h0m-31 84h0m2 24h0m25-84h0m-45 10h0m34 38h0m-6-21h0m-22-5h0m42 22h0m-23-33h0m13 42h0m16 34h0m37-55h0m-72 35h0m-12-48h0m36 85h0m-7-67h0m56 58h0m-75-60h0m12 20h0m-35-41h0" stroke="#2a2ab4" stroke-width="10" stroke-linecap="round" fill="none" stroke-opacity="0.8"/><path transform="scale(.1)" d="M4680 951h0m-13-44h0m10-20h0m3 30h0m-2 25h0m16-34h0m-26 10h0m6 18h0m-38-35h0m48 15h0m-54-23h0m70 74h0m-21-108h0m54 80h0m-13-21h0m-7 14h0m-28 19h0m-18-26h0m10 6h0m42 14h0m-73-25h0m56-25h0m19 24h0m-63 4h0m60 29h0m-75-33h0m11 5h0m14 16h0m12-43h0m5 13h0m22-12h0m-29 23h0m10 9h0m10-8h0m-6 4h0m-9 5h0m-14 9h0m28-19h0m2 0h0m-1 16h0m6 26h0m-63-21h0m59 30h0m36-69h0m-8 13h0m-42-13h0m42-13h0m-50 52h0m14-36h0m25 11h0m-52-17h0m-2 13h0m41 21h0m-13-3h0m-52-22h0m68 6h0m-21 11h0m42-17h0m-28-6h0m-34 36h0m9-47h0m20 12h0m-34 23h0m38-3h0m-70-25h0m21 52h0m16 26h0m-32-110h0m54 72h0m10-19h0m-42 31h0m22-15h0m-55 16h0m80-23h0m-17-4h0m6-82h0m11 79h0m-34-33h0m-15 21h0m17 33h0m14-43h0m0 21h0m-10 13h0m4-17h0m-2 21h0m-50-22h0m94 25h0m-30 0h0m-41-15h0m25-8h0m7 54h0m-14-73h0m-36 9h0m82 55h0m-19-8h0m2-37h0m-3 51h0m12-57h0m-29 39h0m14-18h0m-1 7h0m-48-15h0m61-23h0m-29 39h0m-19-33h0m10-17h0m1 43h0m44 17h0m-62-2h0m59-15h0m-29 36h0m5-1h0m3-29h0m-27-60h0m-18 3h0m39-1h0m6 25h0m1 4h0m-21 8h0m30-25h0m-12 47h0m-19-48h0m11 56h0m5-7h0m-24-61h0m22 48h0m-3-4h0m22-1h0m-5 3h0m-51-47h0m89 62h0m-30-36h0m-6 37h0m29-32h0m-70 0h0m12 23h0m17-22h0m31 57h0m-47-83h0m31 75h0" stroke="#ff2a2a" stroke-width="11" stroke-linecap="round" fill="none" stroke-opacity="0.7"/><path transform="scale(.1)" d="M4848 1172h0m-17-83h0m-17-9h0m29-19h0m-60-7h0m38-3h0m1 16h0m-8-7h0m14 16h0m29 22h0m-63-53h0m-9 34h0m50-7h0m-41-19h0m34-15h0m2 50h0m16-8h0m-35 15h0m5-52h0m10 49h0m13 1h0m-2-45h0m-10 26h0m-5-9h0m-12 10h0m10-18h0m41 6h0m-33-21h0m36 66h0m-37-13h0m1-33h0m23 74h0m-17-63h0m-52-52h0m48 89h0m6-19h0m16-37h0m-41 32h0m9-30h0m-25-4h0m56-36h0m19 117h0m-53-76h0m20 14h0m23 44h0m-29-71h0m9 16h0m-27 6h0m-7-32h0m19 58h0m7-1h0m3-32h0m-11 8h0m19 17h0m-11 11h0m4 43h0m3-48h0m10-3h0m-65-7h0m25-43h0m52 59h0m-41-47h0m52 17h0m-66 25h0m-9-26h0m19 25h0m33 31h0m5-17h0m-26-48h0m8 2h0m-54-27h0m12 23h0m13 14h0m37-6h0m-38 42h0m27-50h0m16 49h0m-35-52h0m34 34h0m-2-60h0m-4 27h0m-1 20h0m-14 31h0m-4-51h0m-6 15h0m27-12h0m-5 21h0m-4 45h0m-22-11h0m5-40h0m-3 3h0m33 32h0m6 0h0m-9-5h0m-31-16h0m11-39h0m9-1h0m-11 39h0m-2-41h0m0 32h0" stroke="#9b3cff" stroke-width="11" stroke-linecap="round" fill="none" stroke-opacity="0.8"/><path transform="scale(.1)" d="M4749 960h0m32 23h0m-16-12h0m9-9h0m21 27h0m-39-19h0m-15-48h0m12 30h0m3 30h0m22 46h0m-17-53h0m-3-24h0m-7 23h0m41 28h0m-39 1h0m27-12h0m-19 14h0m40 7h0m-61-53h0m40 59h0m-2-21h0m-37-28h0m30 36h0m15 12h0m-20-39h0m10 34h0m-39-77h0m21 8h0m26 48h0m-13-6h0m21 7h0m8-10h0m-30 29h0m-14-65h0m-36 21h0m62 47h0m-19-15h0m-3-7h0m6-10h0m30 39h0m-16-64h0m9 30h0m18 23h0m-27-48h0m1-1h0m-18 19h0m4-56h0m-2 100h0m29-21h0m-4 30h0m-24-45h0m5 12h0m10 2h0m15 23h0m-22-29h0m-8 9h0m-13-28h0m20 20h0m17-20h0m7 29h0m-17 0h0m-39-37h0m-3 4h0m45 19h0m-22-12h0m21 10h0m16 17h0m-45-49h0m16 43h0m-14-35h0m45 3h0m-46 23h0m28-47h0m-57-6h0m22 48h0m-33-7h0m77-1h0m-13 5h0m3 24h0m-10-7h0m-22-65h0m-17 16h0m31 8h0m4 22h0m6 8h0m-22-16h0m17 22h0m9-45h0m-3 65h0m2-49h0m-2-1h0m-2 2h0m1 16h0m9 41h0m-17-30h0m37 2h0m-41-29h0m4 41h0m4 2h0m12 0h0m-14-52h0m-17 11h0m24 15h0m22 5h0m-5-42h0m-25 46h0m11 38h0m-59-78h0m18 12h0m26 19h0m16 11h0m-11-9h0m2 16h0m36 8h0m-43-35h0m2-12h0m17 61h0m-41-74h0m70 40h0m-1 15h0m-34-12h0m-18-17h0m27 7h0m-22-10h0m37 60h0m-12-37h0m-7-13h0m-7 15h0m-9 8h0m29 0h0" stroke="#bdbdbd" stroke-width="11" stroke-linecap="round" fill="none" stroke-opacity="0.85"/><path transform="scale(.1)" d="M5560 308h0m25-13h0m-55-20h0m50-5h0m-53-8h0m40 32h0m-20 16h0m28-31h0m-13-48h0m-23 63h0m45-11h0m-33-6h0m41 45h0m-67-57h0m18 15h0m50 10h0m-21 46h0m-31-81h0m-16 44h0m33-70h0m33 35h0m-51 17h0m32-36h0m-8 61h0m7-11h0m13-34h0m17 27h0m-66-21h0m25 12h0m2 1h0m15 51h0m-23-72h0m29 45h0m3 19h0m1-34h0m3 17h0m-25 48h0m22-102h0m-58 3h0m39 53h0m4-18h0m1 48h0m-37-64h0m68 15h0m-38 21h0m-38-86h0m22 113h0m9-45h0m9-31h0m-45 13h0m47-1h0m-34 63h0m42-76h0m16 70h0m-32-59h0m11 33h0m31-29h0m-39 14h0m-40 36h0m42-38h0m-12-15h0m12 49h0m3 34h0m-10-71h0m1-2h0m2-9h0m-9-26h0m1 20h0m7 35h0m26-35h0m-8 31h0m5-4h0m-15 15h0m-28 31h0m17-53h0m9-43h0m-37 55h0m21 9h0m29 37h0m-25-54h0m-11-22h0m0-8h0m30 46h0m-16-26h0m19 39h0m12 9h0m-35-39h0m44 14h0m-33-14h0m-18 20h0m1-64h0m13 15h0m-1 80h0m-5-100h0m-18 16h0m17 50h0m-8-49h0m26 15h0m-11-14h0m13 76h0m-31-49h0m8 55h0m9-45h0m-18-59h0m18 56h0m-2-64h0m-5 91h0m-4-102h0m-25 107h0m59-21h0m-35 34h0m29-37h0m-30-3h0m28-23h0m12-9h0m-56 1h0m31 10h0m-31 6h0m47 80h0m-3-62h0m-39-40h0m38 70h0m-15-40h0m14-27h0m-9 27h0m31-28h0m-27 42h0m-7-27h0m-14 45h0m-7-73h0" stroke="#a82e2e" stroke-width="11" stroke-linecap="round" fill="none" stroke-opacity="0.65"/><path transform="scale(.1)" d="M4239 1184h0m13 6h0m-32-5h0m1 66h0m-5-85h0m1 46h0m-3-21h0m20-41h0m-4 54h0m-15 19h0m-20-26h0m64-43h0m-13 52h0m-17 1h0m15-32h0m-9 40h0m-11-75h0m16 12h0m-31 25h0m2 11h0m-1 27h0m5 1h0m-6-51h0m74 54h0m-75 16h0m35-22h0m-61-28h0m56-5h0m-21-16h0m36-34h0" stroke="#f4a460" stroke-width="13" stroke-linecap="round" fill="none" stroke-opacity="0.5"/><path transform="scale(.1)" d="M4180 1154h0m13 34h0m-17 8h0m49 21h0m-37-11h0m23 7h0m-14 21h0m-21-88h0m21 75h0m0-60h0m15 27h0m7-12h0m-7 27h0m-19 2h0m30-12h0m-69-14h0m35-44h0m20 47h0m-29 3h0m0 2h0m13 11h0m24 32h0m-17-19h0m-20-14h0m2-25h0m40-26h0m-31 77h0m-18-18h0m35-23h0m12-43h0m-13 33h0m-9 28h0m4-6h0m-4-23h0m48 9h0m-39-5h0m0-4h0m-2 47h0m-22-13h0m28-16h0m-33-15h0m4 47h0m-6-70h0m31 37h0m-35-29h0m23-31h0m4 42h0m13-45h0m0 46h0m-6-28h0m-30 42h0m14-16h0m-4-27h0m15 26h0m0-9h0m19 56h0m-10 0h0m-30-11h0m25-2h0m-29 46h0m14-59h0m14-4h0m-20 40h0m17-28h0m-23-36h0m35 59h0m-37-29h0m21 29h0m4 3h0m-20-48h0m25 7h0m27 9h0m-28-43h0m-26 12h0m-5 30h0m45-12h0m-34-18h0m3 21h0m32 7h0m2-29h0m-56 7h0m24 12h0m8-25h0m-13 7h0m37 6h0m-39-35h0m14 34h0m7 20h0m-28-28h0m27 52h0m-4-21h0m12 25h0m0-37h0m-8 20h0m-28-14h0m50-35h0m-7 45h0m-13-32h0m-14 36h0m14-43h0m-15 29h0m42-15h0m-10 42h0m-35-34h0m55 27h0m-44-7h0m-13 28h0m2-50h0m5 35h0m25-6h0" stroke="#0000ff" stroke-width="15" stroke-linecap="round" fill="none" stroke-opacity="0.9"/><path transform="scale(.1)" d="M4864 1139h0m27 33h0m-11-15h0m-24 63h0m31-64h0m-39 19h0m13-14h0m43 17h0m-22 1h0m-15-37h0m-2 35h0m-34-22h0m13 48h0m23-53h0m26 36h0m2 0h0m-21-7h0m-23-60h0m-25 51h0m42-3h0m2-2h0m46-29h0m-41 50h0m-7-50h0m-62 26h0m25-23h0m53 43h0m-17 5h0m-43-14h0m31-8h0m13 33h0m18-64h0m-1 34h0m9-3h0m-35 7h0m39-9h0m9 3h0m-44-18h0m-24-25h0m12 41h0m-37-18h0m2-8h0m54 40h0m-27-37h0m41-11h0m-39 47h0m16-46h0m17 38h0m14 32h0m-27-70h0m1 26h0m-59-42h0m19 41h0m31 63h0m-11-50h0m17-24h0m-1 31h0m12-34h0m49 23h0m-71-2h0m8-22h0m6 7h0m-26-57h0m-1 100h0m30-18h0m-56-39h0m6-32h0m30 48h0m13 17h0m-1 43h0m18-91h0m-25 20h0m18 12h0m3 41h0m-18-59h0m-1 18h0m5-15h0m30 33h0m-12 28h0m-1 19h0m5-17h0m16-35h0m-32-25h0m-8 40h0m30 4h0m-26 4h0m-14-45h0m-13 29h0m37-31h0m2 44h0m-21-8h0m-5-19h0m46 4h0m-12-1h0m-22-18h0m38 29h0m-26-14h0m-3-5h0m-15-17h0m17 24h0m12 4h0m-67-42h0m19 35h0m25-4h0m-11 34h0m-26-40h0m75 53h0m-69-25h0m-5-16h0m20 9h0m36 8h0m-25-11h0m3-25h0m-6 35h0m18-10h0m11-14h0m-17-24h0m11 35h0m63 77h0m-88-76h0m2 12h0m-25-57h0m40 39h0m3 8h0m-7-19h0m9 2h0m-34-4h0m45 28h0m-30-5h0m6-44h0m16 16h0m-15 31h0m-40 26h0m79 20h0m-26-67h0m-34 30h0m8-37h0m28 27h0m-8-40h0m-10 51h0" stroke="#22e022" stroke-width="11" stroke-linecap="round" fill="none" stroke-opacity="0.85"/></g>
<rect x="409.5" y="15.7" width="157.0" height="142.8" fill="none" stroke="#c8c8c8" stroke-width="1.2"/>
<path d="M425.0 158.5v3M452.5 158.5v3M479.7 158.5v3M507.2 158.5v3M534.4 158.5v3M561.9 158.5v3M409.5 39.1h-3M409.5 71.6h-3M409.5 104.1h-3M409.5 136.6h-3" stroke="#c8c8c8" stroke-width="0.9" fill="none"/>
<rect x="409.5" y="15.7" width="31.0" height="42.6" fill="#fff" stroke="#c8c8c8" stroke-width="1.1"/><g font-size="3.15" fill="#333" filter="url(#gs)"><text x="415.4" y="24.8">NHW_WES_20k</text><text x="415.4" y="28.7">GBR</text><text x="415.4" y="32.6">FIN</text><text x="415.4" y="36.5">IBS</text><text x="415.4" y="40.4">CEU</text><text x="415.4" y="44.3">YRI</text><text x="415.4" y="48.2">CHB</text><text x="415.4" y="52.1">JPT</text><text x="415.4" y="56.0">TSI</text></g><circle cx="412.5" cy="23.7" r="0.55" fill="#000" fill-opacity="1"/><circle cx="412.5" cy="27.6" r="0.6" fill="#3030c0" fill-opacity="0.7"/><circle cx="412.5" cy="31.5" r="0.6" fill="#ff7070" fill-opacity="0.7"/><circle cx="412.5" cy="35.4" r="0.6" fill="#c070ff" fill-opacity="0.7"/><circle cx="412.5" cy="39.3" r="0.6" fill="#999" fill-opacity="0.7"/><circle cx="412.5" cy="43.2" r="0.6" fill="#c06060" fill-opacity="0.7"/><circle cx="412.5" cy="47.1" r="0.6" fill="#f0a860" fill-opacity="0.7"/><circle cx="412.5" cy="51.0" r="0.7" fill="#0000ff" fill-opacity="1"/><circle cx="412.5" cy="54.9" r="0.6" fill="#30e030" fill-opacity="0.7"/>
<g><path transform="scale(.1)" d="M586 3148h0m132-266h0m28-121h0m-44-155h0m79 303h0m-260-87h0m444-143h0m-373 238h0m25 76h0m-72-144h0m142-114h0m-174 511h0m115-501h0m333-65h0m-66 379h0m-23-151h0m-292-39h0m292-259h0m-54 196h0m-313 311h0m36-129h0m265-12h0m-55-355h0m-63 55h0m124 99h0" stroke="#000" stroke-width="9" stroke-linecap="round" fill="none" stroke-opacity="0.5"/><path transform="scale(.1)" d="M1715 3074h0m-266 79h0m87-47h0m-435 121h0m589-169h0m-2 6h0m-244 79h0m176-47h0m-426 105h0m312-105h0m-94 63h0m-14-59h0m166-16h0m37 6h0m52 17h0m2-20h0m70-5h0m-442 102h0m287-116h0m73 2h0m-43 1h0m-5 17h0m-22-3h0m-39 12h0m63 5h0m-391 112h0m428-98h0m-600 121h0m440-113h0m1 15h0m-125 21h0m-9-13h0m284-71h0m-206 22h0m-261 87h0m16 24h0m305-88h0m-24-11h0m102-17h0m5 59h0m-44-16h0m-348 75h0m-118-5h0m508-87h0m-433 71h0m465-147h0m-388 166h0m436-95h0m-57-56h0m-75 12h0m-30 34h0m-348 128h0m351-121h0m-166 43h0m-138 30h0m160-13h0m319-79h0m31-33h0m-122 66h0m-326 54h0m325-73h0m-24-3h0m75-28h0m102-23h0m-400 56h0m-97 85h0m395-73h0m-60 11h0m-524 136h0m535-161h0m-23-30h0m-415 157h0m-286 19h0m702-140h0m127-24h0m-362 36h0m194-20h0m-332 125h0m104-47h0m383-112h0m-2 27h0m-463 142h0m502-187h0m-362 65h0m90 7h0m91-10h0m-15 51h0m-257 50h0m424-157h0m-146 77h0m-349 53h0m147-43h0m160-42h0m217-43h0m-102 42h0m-14 0h0m131-62h0m-265 89h0m66-68h0m-91 56h0m200-81h0m-89 62h0m-683 257h0m849-282h0m-11-30h0m-257 103h0m68-21h0m-9-23h0m227-51h0m-645 141h0m607-100h0m-563 122h0m377-128h0m-74 8h0m75 52h0m90-89h0m88 2h0m-588 142h0m630-158h0m-313 100h0m-359 113h0m-114-6h0m530-137h0m154-20h0m-216 54h0m-405 134h0m485-194h0m22 50h0m110-29h0m-608 103h0m488-96h0m-70 30h0m-172 43h0m16 16h0m284-74h0m-111 31h0m10-57h0m-76 83h0m126-50h0m-29-32h0m102-30h0m-242 102h0m-121 2h0m365-96h0m-644 154h0m467-67h0m-4-36h0m197-21h0m67-65h0m24 4h0m-255 88h0m-65 33h0m151-16h0m-170 5h0m-96 14h0m459-139h0m-267 129h0m-356 69h0m351-93h0m-9 1h0m247-68h0m-188 44h0m-80 29h0m-422 119h0m484-137h0m208-44h0m32-18h0m-256 29h0m271-64h0m-555 153h0m469-105h0m-180 63h0m74-16h0m46-22h0m-63 7h0m-613 130h0m231-17h0m556-152h0m19-31h0m-223 90h0m214-63h0m-15-18h0m-300 105h0m56-16h0m252-88h0m-227 71h0m245-63h0m-466 119h0m427-144h0m32 30h0m-194 16h0m-304 136h0m451-137h0m62-4h0m-561 138h0m393-121h0m87-16h0m-228 37h0m208-14h0m-261 66h0m-331 79h0m510-111h0m-9-55h0m64 16h0m-552 116h0m671-184h0m-113 54h0m-239 52h0m95 30h0m-454 73h0m620-184h0m-146 109h0m122-58h0m-58 22h0m-305 76h0m132-36h0m310-72h0m-43 12h0m-257 36h0m308-51h0m-39-61h0m-174 89h0m-130 34h0m-7 5h0m80-8h0m183-57h0m-425 157h0m327-176h0m-125 60h0m50 15h0m298-85h0m-164 13h0m125-16h0m-78 18h0m-217 68h0m325-91h0m6-23h0m-300 87h0m64-27h0m-80 48h0m-237 97h0m-13 13h0m463-147h0m115-47h0m-289 33h0m-245 114h0m99-73h0m-310 91h0m606-147h0m94-8h0m-294 79h0m331-116h0m-541 119h0m-165 106h0m281-87h0m24-45h0m162 7h0m-40-26h0m240-25h0m-141 46h0m169-33h0m-379 75h0m90-61h0m90 51h0m15-86h0m60 16h0m-216 43h0m327-67h0m-815 248h0m659-184h0m-57-36h0m-99-9h0m6 81h0m127-30h0m-212 43h0m202-40h0m159-77h0m55-12h0m-65-9h0m-118 75h0m-32-19h0m-286 110h0m137-71h0m360-99h0m-160 17h0m63 23h0m-408 101h0m186-27h0m237-97h0m-587 189h0m472-149h0m-152 48h0m-98 8h0m235-49h0m65 1h0m-163 67h0m-25-37h0m-17 21h0m-162 68h0m-59-20h0m584-120h0m-283 41h0m39-2h0m-310 103h0m382-118h0m-39 26h0m183-49h0m-443 120h0m321-103h0m-367 61h0m487-100h0m-33 20h0m-685 156h0m493-99h0m-37 0h0m-166 44h0m-39-2h0m165-33h0m109-25h0m162-56h0m-413 128h0m-63-27h0m6 32h0m168-34h0m302-124h0m-194 77h0m191-45h0m-68 4h0m-346 124h0m149-15h0m321-104h0m-608 148h0m-203 72h0m472-107h0m-113-18h0m428-108h0m-79 29h0m28 0h0m-496 101h0m21 24h0m87-89h0m-35 72h0m451-144h0m-259 76h0m230-11h0m-329 38h0m406-138h0m-130 72h0m-96 35h0m-146 17h0m83-17h0m31 4h0m-224 58h0m154-79h0m200-40h0m-103 51h0m-143 40h0m295-88h0m-395 138h0m249-81h0m50-42h0m70 4h0m-159 52h0m99-75h0m-82 39h0m136-27h0m-428 68h0m526-72h0m-464 137h0m-329-26h0m177 5h0m404-54h0m16 9h0m197-85h0m-272 105h0m277-106h0m-273 69h0m63 14h0m-430 62h0m156-38h0m337-79h0m-226 57h0m151-61h0m210-49h0m-107 85h0m-217 21h0m-135 21h0m114-49h0m250-54h0m84-8h0m-304 55h0m-181 110h0m283-117h0m153-19h0m-88-2h0m-149 53h0m136-71h0m-29 24h0m178-40h0m-289 105h0m-90-17h0m-263 132h0m152-102h0m492-108h0m-112 37h0m-427 102h0m448-131h0m-33 7h0m99-4h0m-155 19h0m57 39h0m-617 150h0m225-90h0m125-58h0m37 48h0m-264 106h0m643-248h0m-333 66h0m73 37h0m232-44h0m-120 9h0m-364 59h0m21 8h0m379-74h0m53-47h0m-160 68h0m3 6h0m-212 72h0m368-146h0m-64 38h0m17 7h0m-62 1h0m24 12h0m15-26h0m70-32h0m-518 120h0m-52 41h0m558-142h0m85-3h0m-431 105h0m90-55h0m171-11h0m26 20h0m-324 30h0m92 1h0m288-120h0m64 62h0m-183 25h0m115-23h0m-128 12h0m-10 7h0m126-45h0m26-16h0m-69 69h0m-341 84h0m286-118h0m-346 95h0m537-133h0m-50 19h0m-56 42h0m-120-38h0m-155 60h0m298-101h0m-392 127h0m465-108h0m-9 34h0m-364 91h0m-84 22h0m303-113h0m171-2h0m-96 15h0m-100-4h0m153-45h0m-57 40h0m-34-28h0m-162 49h0m274-45h0m-35-1h0m41-20h0m-37 18h0m-518 136h0m390-106h0m-401 121h0m383-147h0m148 11h0m-81 2h0m72-18h0m-138 41h0m23 5h0m-523 203h0m488-221h0m-97 23h0m17 10h0m-142 31h0m245-89h0m107-2h0m-233 59h0m-457 182h0m259-93h0m137-107h0m318-80h0m-477 218h0m358-152h0m101-57h0m49 12h0m-190 91h0m139-58h0m-200 93h0m-7-8h0m285-120h0m-705 227h0m242-130h0m279-29h0m-114 29h0m-413 111h0m264-67h0m-152 89h0m480-208h0m27-2h0m-162 58h0m67-26h0m-139 64h0m168-64h0m139-65h0m1 32h0m-496 117h0m323-105h0m-512 194h0m271-121h0m391-94h0m-14 25h0m-674 149h0m-78 17h0m305-72h0m446-103h0m-142 33h0m164-23h0m-239 26h0m-131 85h0m59-33h0m-139 43h0m475-148h0m-296 49h0m-334 115h0m510-118h0m-702 214h0m467-176h0m340-81h0m1 9h0m-68 27h0m77-33h0m-432 84h0m-211 57h0m-256 105h0m701-207h0m-571 243h0m323-195h0m112 3h0m6-21h0m-261 101h0m436-94h0m133-112h0m-28 40h0m-168 40h0m-298 105h0m-245 35h0m432-95h0m-271 41h0m383-53h0m-79 23h0m-100-10h0m337-121h0m-814 253h0m428-109h0m426-133h0m-88 72h0m-412 41h0m-106 130h0m481-184h0m-107 41h0m188-87h0m-230 53h0m0 39h0m299-56h0m-338 51h0m301-50h0m-218 42h0m255-93h0m-94 50h0m-196 65h0m238-88h0m-196 71h0m105-36h0m-119 57h0m255-108h0m-705 188h0m588-134h0m-196 0h0m318-50h0m-524 131h0m277-73h0m187-22h0m-450 111h0m259-79h0m256-52h0m-126-8h0m4 40h0m92-52h0m20 14h0m-33 32h0m-502 109h0m336-113h0m39-23h0m-229 77h0m174-48h0m3-8h0m103-27h0m-525 146h0m630-166h0m-9 12h0m-639 167h0m562-115h0m-405 73h0m504-134h0m-217 70h0m199-55h0m-103 11h0m-617 154h0m218-45h0m289-80h0m-198 95h0m-243 9h0m426-96h0m21 5h0m-20 15h0m-419 146h0m587-208h0m64-16h0m-167 80h0m-273 78h0m-71-17h0m516-157h0m-354 128h0m243-106h0m25 48h0m-467 121h0m190-102h0m135 13h0m-253 24h0m284-62h0m72 14h0m-372 44h0m-70-2h0m476-99h0m88 5h0m-343 91h0m118-54h0m101-50h0m103 4h0m-66 6h0m6 32h0m-101-26h0m2 54h0m162-64h0m21 3h0m-244 72h0m225-62h0m-108-1h0m-455 166h0m-148-18h0m415-57h0m71-36h0m-175 34h0m61-4h0m261-66h0m-311 84h0m345-80h0m-530 133h0m431-127h0m57 36h0m62-78h0m43-18h0m-185 82h0m193-43h0m-669 194h0m487-141h0m61-13h0m-28-34h0m133-5h0m-217 18h0m-258 104h0m122-63h0m297-55h0m-477 138h0m463-131h0m-120 19h0m119-40h0m-564 199h0m237-60h0m227-106h0m110-59h0m-118 69h0m113-13h0m-523 117h0m579-159h0m24 16h0m-201 68h0m-114-17h0m270-74h0m-11 17h0m-101 5h0m-264 113h0m-107-19h0m492-73h0m-417 78h0m-348 96h0m486-103h0m-344 92h0m477-141h0m-172 55h0m-77-10h0m-114 101h0m3-92h0m358-72h0m-22-4h0m-62 16h0m134 8h0m147-39h0m-417 123h0m176-73h0m-188 2h0m-41 13h0m150-26h0m-38 15h0m-262 102h0m-33 10h0m631-186h0m-638 130h0m563-95h0m-399 96h0m407-145h0m-233 106h0m-56-13h0m279-18h0m-156-26h0m-98 72h0m214-81h0m75-53h0m-200 62h0m1 1h0m-60 39h0m249-37h0m-97 12h0m-18 30h0m-312 71h0m399-103h0m70-41h0m-44 21h0m4 0h0m-110 10h0m-83 34h0m-57-5h0m276-64h0m-179 34h0m173-33h0m-176 45h0m-4 31h0m12-40h0m42-13h0m156-22h0m-540 130h0m552-147h0m-123 46h0m-188 56h0m-112 25h0m139-15h0m166-35h0m-395 102h0m348-130h0m-506 107h0m-194 52h0m402-70h0m352-127h0m27 27h0m-56-1h0m-63 26h0m138-26h0m-79 15h0m-381 46h0m190-37h0m-117 107h0m-365 56h0m308-40h0m227-103h0m-323 100h0m571-175h0m-336 115h0m-153 52h0m461-143h0m-292 96h0m108-45h0m-96-27h0m-252 133h0m394-105h0m-207 18h0m281-38h0m-213 11h0m179-25h0m-710 211h0m582-227h0m-30 76h0m298-94h0m-185 69h0m-44-18h0m-198 63h0m406-109h0m-349 96h0m276-95h0m-132 84h0m215-112h0m-209 73h0m41 5h0m-221 33h0m225-21h0m99-57h0m-225 55h0m260-46h0m-141 70h0m-63-26h0m173-22h0m-204 19h0m95-13h0m146-37h0m-56 29h0m111-36h0m-29-16h0m-324 89h0m-252 77h0m162-26h0m-9 55h0m319-152h0m-279 121h0m-149 53h0m435-184h0m-79 11h0m-387 155h0m346-157h0m-114 97h0m343-129h0m-80 39h0m-99 20h0m186-90h0m17 44h0m-493 126h0m400-164h0m-343 93h0m-40 62h0m-170 44h0m586-164h0m-542 151h0m516-162h0m-306 90h0m278-38h0m-524 50h0m-182 32h0m720-85h0m86-40h0m-206 83h0m142-59h0m-33 15h0m-283 63h0m138-76h0m-19 14h0m131 6h0m-135 22h0m159-32h0m-27 24h0m17-38h0m81 19h0m9-52h0m-48 22h0m-494 155h0m421-118h0m139-59h0m-135 60h0m53-65h0m-187 92h0m22 7h0m-29-10h0m288-82h0m-74 23h0m-571 127h0m558-87h0m-223 27h0m-13-6h0m243-62h0m-228 72h0m235-84h0m-545 123h0m235-3h0m107-68h0m219-55h0m-214 25h0m239-14h0m-519 157h0m431-129h0m-3-4h0m-343 38h0m115 58h0m354-127h0m-383 82h0m-20 36h0m-139 26h0m68-16h0m-111 5h0m480-114h0m90-33h0m-553 173h0m353-117h0m143-27h0m-62 10h0m37 3h0m-201 62h0m-76 6h0m-79 45h0m176-75h0m179 10h0m-421 88h0m405-118h0m-161-13h0m239-41h0m-1 9h0m-526 157h0m-59 14h0m365-100h0m-27-29h0m119 35h0m160-81h0m-173 55h0m124-46h0m-404 112h0m-122 31h0m383-69h0m-527 96h0m696-169h0m-68 34h0m53-65h0m-444 123h0m392-105h0m-308 117h0m334-135h0m-224 85h0m171-40h0m-285 69h0m-211 16h0m354-7h0m54-71h0m197-49h0m-492 176h0m192-95h0m-303 79h0m419-118h0m13 8h0m-348 108h0m-66 46h0m-234 27h0m503-129h0m-248 9h0m416-55h0m103-17h0m28-3h0m-595 91h0m504-106h0m57-29h0m-543 176h0m553-122h0m48-66h0m-89 61h0m33-30h0m-71 54h0m-205 18h0m151-65h0m-254 93h0m425-105h0m-615 155h0m405-112h0m-108 60h0m252-72h0m-73 4h0m151-23h0m-43 6h0m-491 165h0m538-149h0m-285 89h0m-270 17h0m213-30h0m42-31h0m-24 22h0m229-62h0m-286 64h0m235-65h0m-270 98h0m272-104h0m132-39h0m-179 37h0m-306 73h0m25 47h0m209-52h0m229-91h0m-130 25h0m39 33h0m-212 21h0m-222 49h0m352-86h0m36 14h0m-290 66h0m367-71h0m-31-4h0m-356 84h0m-118-23h0m298-53h0m205-4h0m93-32h0m-831 225h0m727-205h0m-488 122h0m159-47h0m99-51h0m99 13h0m43-17h0m69-53h0m6-4h0m-383 139h0m308-108h0m-161 98h0m69-56h0m94-51h0m91-12h0m-79 16h0m72-19h0m-165 76h0m-349 57h0m-37-1h0m321-110h0m-166 116h0m309-94h0m-86-31h0m4 75h0m-266 34h0m137 19h0m-151 0h0m369-117h0m-54 42h0m158-36h0m-537 89h0m572-114h0m-318 95h0m233-84h0m-17-12h0m-205 64h0m-352 141h0m543-158h0m79-36h0m88 5h0m-311 67h0m24 1h0m247-76h0m-588 154h0m317-96h0m-270 95h0m578-185h0m-218 66h0m-337 21h0m-45 49h0m558-144h0m-342 165h0m-246-37h0m-53 79h0m344-77h0m42-43h0m172-43h0m-470 138h0m368-150h0m-60 58h0m128-5h0m79-33h0m-81 6h0m-510 138h0m198-26h0m127-82h0m286-52h0m-303 105h0m-43-46h0m288-52h0m29 12h0m-295 116h0m-215-24h0m379-51h0m182-36h0m-532 128h0m243-83h0m296-82h0m-126 8h0m-420 180h0m453-192h0m-43 38h0m61-23h0m-357 116h0m137-58h0m266-36h0m-205-11h0m238-62h0m-382 140h0m-168 7h0m558-99h0m-148 42h0m69-17h0m-84-17h0m10 5h0m-313 88h0m392-90h0m-151 38h0m57 0h0m27-34h0m-179 108h0m-381 64h0m621-168h0m3-57h0m-201 80h0m-252 116h0m488-170h0m-407 106h0m380-111h0m-420 131h0m57 11h0m436-138h0m-207 82h0m-94-22h0m5 34h0m-353 87h0m664-182h0m-295 43h0m248-34h0m-276 81h0m163-82h0m-127 108h0m6-44h0m96-53h0m-176 105h0m347-144h0m-394 136h0m124-80h0m192 9h0m-360 84h0m27-19h0m254-85h0m-425 101h0m-159 121h0m551-201h0m168-17h0m-205 10h0m-18 28h0m243-87h0m-352 127h0m307-132h0m-265 129h0m230-107h0m-52 48h0m-210 51h0m141-43h0m-403 110h0m585-124h0m-77-34h0m-1 7h0m55 22h0m-326 83h0m363-89h0m-49-5h0m-55-2h0m33-1h0m-108 41h0m-136 45h0m88-36h0m26-31h0m-224 73h0m293-39h0m130-85h0m-417 165h0m268-140h0m-54 24h0m90-35h0m-35 62h0m71-49h0m-172 52h0m166-15h0m-191 36h0m-59-29h0m326-74h0m-38-3h0m-653 235h0m315-114h0m-39-10h0m35 13h0m-219 78h0m585-157h0m-296 117h0m96-97h0m-69 56h0m225-62h0m-68 6h0m124-91h0m-476 141h0m410-34h0m33-65h0m-174 69h0m-15-20h0m209 1h0m-345 78h0m-113-15h0m143-44h0m-182 98h0m489-130h0m49-42h0m-52 36h0m49-26h0m-355 97h0m-146 43h0m486-166h0m-58 28h0m-75 42h0m-266 65h0m299-50h0m-51-46h0m-197 93h0m-212 118h0m408-169h0m13 2h0m-296 52h0m187-48h0m196-36h0m-139 10h0m99-33h0m-73 14h0m-146 38h0m296-28h0m-297 79h0m-151 50h0m423-139h0m7 0h0m-277 40h0m120-7h0m220-43h0m-91-2h0m-93 1h0m111 18h0m-356 56h0m-18 53h0m368-125h0m-252 59h0m236-61h0m-301 82h0m366-76h0m-8 3h0m-258 79h0m196-68h0m-169 40h0m19 7h0m190-72h0m-21-1h0m-360 106h0m184-55h0m-22-23h0m-219 66h0m267-28h0m-263 59h0m-23-3h0m-9 19h0m396-106h0m-197 74h0m117-44h0m-5-13h0m-67 25h0m104-31h0m-444 62h0m470-38h0m121-89h0m-432 155h0m333-118h0m-162 35h0m173-3h0m-215 12h0m205-44h0m-534 81h0m134 52h0m193-80h0m-90 14h0m-103 75h0m414-140h0m-462 55h0m406-25h0m-62-19h0m2 5h0m112-30h0m-239 41h0m190-24h0m18 6h0m112-11h0m-759 230h0m742-254h0m-147 91h0m-97-17h0m269-42h0m-193 33h0m-18 1h0m-237 0h0m66 74h0m183-114h0m-90 74h0m307-130h0m-99 18h0m-205 57h0m212-47h0m20 1h0m61 10h0m-254 75h0m175-48h0m89-14h0m-122 27h0m112-36h0m-207 50h0m-408 147h0m344-133h0m279-110h0m-283 92h0m-159 97h0m369-139h0m-335 82h0m-144 86h0m460-155h0m87-24h0m-81 20h0m-367 139h0m29-39h0m401-114h0m-530 148h0m295-99h0m-380 110h0m531-100h0m66-55h0m-270 103h0m46-57h0m276-68h0m-483 118h0m363-78h0m82-3h0m-412 81h0m159-40h0m-24-20h0m231-11h0m-300 83h0m-257 56h0m323-66h0m306-98h0m-164 28h0m41-41h0m-289 108h0m213-74h0m30 20h0m143-29h0m-193 26h0m66-45h0m-170 109h0m325-100h0m-52 17h0m-7-41h0m-244 81h0m-94 57h0m396-110h0m-127 34h0m-698 104h0m842-131h0m-242 20h0m-7 2h0m234-34h0m-355 71h0m-249 63h0m561-135h0m-268 68h0m55-13h0m6-10h0m-257 51h0m327-72h0m111-25h0m2-1h0m-188 70h0m-567 200h0m120-129h0m515-99h0m-117 37h0m-21-28h0m280-59h0m-94 26h0m93-20h0m-219 54h0m-197 51h0m358-70h0m-183 1h0m113 13h0m-83 29h0m-216 55h0m339-135h0m52-15h0m-19 27h0m-56 7h0m-122 29h0m-2 49h0m285-123h0m-142 73h0m-466 147h0m388-111h0m80-12h0m-484 121h0m457-151h0m-18-29h0m177-22h0m-100 23h0m91 16h0m-10-15h0m-75 6h0m-153 12h0m238-57h0m-54 29h0m-132 49h0m181-37h0m-21-4h0m-54 8h0m-166 63h0m-57-30h0m281-62h0m-265 68h0m-450 142h0m528-136h0m25-27h0m-147 7h0m322-45h0m-24-17h0m-323 122h0m68-83h0m-154 144h0m385-174h0m9 51h0m-371 84h0m-233 87h0m430-134h0m-92-16h0m188-46h0m-143 33h0m277-76h0m8 38h0m-561 103h0m260-54h0m14-37h0m-138 88h0m24-52h0m399-26h0m-174 1h0m-391 102h0m473-114h0m-137 11h0m188-42h0m-536 154h0m152-36h0m0 11h0m-118 14h0m488-170h0m-29 40h0m-53 4h0m-45 22h0m33 2h0m140-43h0m-313 136h0m297-136h0m-322 72h0m186-29h0m59-14h0m-24 34h0m-76-24h0m101 0h0m-150 37h0m-104 24h0m-154 40h0m235-62h0m241-93h0m-212 67h0m-287 97h0m-215 100h0m597-190h0m11-16h0m141-38h0m-571 157h0m-93 32h0m663-178h0m-55-31h0m-4 24h0m75 27h0m-174 24h0m130-57h0m-494 122h0m7 16h0m91-60h0m-61 31h0m445-85h0m-127 37h0m-145 28h0m272-78h0m-178 39h0m134-54h0m-282 78h0m244-55h0m38-1h0m-394 81h0m306-76h0m162 2h0m-180 19h0m-173 74h0m349-117h0m-138 21h0m94-15h0m7-21h0m26 35h0m-587 166h0m538-154h0m-158 33h0m-321 70h0m328-95h0m-112 66h0m3-23h0m126-40h0m-2 2h0m-107 38h0m43-26h0m-269 87h0m335-74h0m74-17h0m-67-16h0m-17 26h0m133-47h0m51-30h0m-214 43h0m-486 184h0m727-179h0m-69-5h0m-179 69h0m100-17h0m-179 44h0m225-115h0m-164 68h0m214-72h0m-496 94h0m307-14h0m110-63h0m-64 57h0m-27-28h0m-134 43h0m140-48h0m199-45h0m18 13h0m-168 35h0m-614 169h0m647-187h0m-266 90h0m318-121h0m-601 190h0m521-138h0m-392 81h0m88 26h0m482-163h0m-591 119h0m523-108h0m-356 116h0m288-91h0m6-38h0m-175 94h0m201-80h0m-590 175h0m491-182h0m-241 157h0m438-132h0m-664 148h0m530-176h0m-183 91h0m-5 43h0m243-92h0m-225 93h0m279-158h0m-107 83h0m-467 89h0m242-65h0m209-32h0m-203 44h0m-99-6h0m153-61h0m68 21h0m-564 137h0m549-69h0m-159-34h0m244-14h0m140-78h0m-111 70h0m-324 80h0m326-78h0m104-52h0m-195 65h0m153-66h0m-335 69h0m380-46h0m6 4h0m-181 26h0m198-26h0m-161-18h0m-534 165h0m202-70h0m488-105h0m-694 142h0m355-55h0m193-43h0m-136 58h0m118-64h0m59 25h0m16-70h0m35 21h0m13 22h0m-235-3h0m205-28h0m-143 46h0m-106 57h0m320-103h0m-460 81h0m373-84h0m-120 37h0m-51 43h0m68-7h0m-93-9h0m-77-4h0m312-86h0m-562 197h0m565-148h0m-55-18h0m-52-2h0m5 1h0m28 18h0m-104-16h0m-133 59h0m234-47h0m-370 52h0m28 50h0m133-67h0m183-8h0m73-80h0m-32 71h0m-760 134h0m864-182h0m-316 101h0m98-52h0m-207 70h0m200-60h0m-568 148h0m722-164h0m-285 25h0m269-30h0m-106 51h0m4-21h0m72-56h0m41 16h0m85-19h0m-93 29h0m-25-48h0m-160 34h0m157 36h0m-593 151h0m405-124h0m-95 14h0m179-25h0m-119 50h0m151-60h0m83-54h0m-180 70h0m253-36h0m-481 91h0m400-126h0m-142 82h0m259-105h0m-463 138h0m381-71h0m-351 92h0m220-112h0m79 19h0m-98 34h0m-330 105h0m387-146h0m-368 104h0m175-5h0m-29-81h0m321-65h0m-58 16h0m75 15h0m-218 62h0m-343 79h0m65 7h0m41-56h0m401-109h0m100-17h0m-548 102h0m38 5h0m97 16h0m56-26h0m75-33h0m-369 151h0m525-165h0m-115 22h0m-25 6h0m-53 40h0m177-24h0m-400 34h0m258-50h0m272-80h0m-596 184h0m-39-36h0m650-145h0m-426 161h0m131-84h0m-89 4h0m363-63h0m-811 236h0m410-152h0m-161 98h0m529-180h0m-246 96h0m-324 79h0m618-191h0m-360 90h0m76 6h0m176-84h0m-96 13h0m54 53h0m-358 26h0m472-103h0m-196 52h0m-56 24h0m88-51h0m163-35h0m-710 233h0m274-88h0m-38-48h0m451-55h0m27-12h0m-68 3h0m-166 18h0m256-9h0m34 8h0m-412 51h0m138-68h0m-188 155h0m447-177h0m14 2h0m-91 24h0m-406 79h0m181-35h0m-6-2h0m191-35h0m-150 26h0m216-22h0m-303 52h0m176-16h0m134-89h0m-234 90h0m206-54h0m-256 45h0m131-5h0m-19-8h0m-89 67h0m312-101h0m-85 3h0m55-28h0m-243 76h0m-74 53h0m209-83h0m15-15h0m-462 116h0m-223 12h0m294 10h0m-136-10h0m606-144h0m16 0h0m-30-13h0m22 3h0m-551 164h0m445-98h0m-35-25h0m-7 1h0m168-43h0m-139 30h0m-187 82h0m16-54h0m-368 124h0m689-184h0m-642 200h0m428-130h0m-301 51h0m233-54h0m-23-13h0m251-42h0m-156 41h0m-38-20h0m-74 59h0m109 18h0m-237 20h0m411-129h0m-233 59h0m222-22h0m-128 9h0m-2-13h0m-167 22h0m84 37h0m195-120h0m-81 74h0m28-31h0m-228 106h0m-188 20h0m275-84h0m138 0h0m-554 84h0m-126 102h0m513-148h0m-107-48h0m292-41h0m-241 62h0m186-37h0m-211 70h0m72-27h0m93-6h0m72-44h0m-18-17h0m104-42h0m-372 117h0m-48 22h0m374-98h0m83 5h0m-339 79h0m306-113h0m-444 130h0m333-78h0m-32 73h0m-375 66h0m404-135h0m141-22h0m-127 48h0m52-59h0m-86 85h0m95-82h0m-596 204h0m1 28h0m411-161h0m149-29h0m-479 86h0m78 47h0m122-47h0m-17 34h0m175-78h0m-430 75h0m354-98h0m122-32h0m-192 52h0m75 30h0m-360 17h0m589-138h0m-151 46h0m-160 24h0m237-46h0m98 15h0m-8-27h0m-346 107h0m221-70h0m-129 53h0m147-28h0m-84 11h0m262-79h0m-133 17h0m-6-10h0m27 25h0m-173 53h0m38-1h0m46-29h0m101-47h0m-66 16h0m-262 103h0m343-118h0m-104 17h0m-45 0h0m-427 121h0m530-101h0m68-22h0m-329 117h0m139-65h0m47-17h0m-462 152h0m229-63h0m326-125h0m-1-52h0m-137 89h0m-88 8h0m56 35h0m187-77h0m-588 132h0m416-123h0m185-7h0m24 5h0m-83-32h0m-253 109h0m358-119h0m-102 47h0m7 38h0m-150-37h0m189-8h0m-220 92h0m-75-26h0m-286 41h0m623-181h0m-115 63h0m52 12h0m-121 2h0m-54 72h0m90-111h0m-319 99h0m320-36h0m181-59h0m-314 100h0m201-62h0m-529 109h0m394-93h0m-36 56h0m-236 35h0m482-113h0m-308 69h0m-118 57h0m360-119h0m-144 19h0m206-71h0m-233 112h0m256-103h0m-154 13h0m-12 70h0m56-38h0m141-41h0m-210 25h0m-178 95h0m-110 7h0m-98-8h0m526-116h0m-313 67h0m83 45h0m52-63h0m218-39h0m-308 105h0m-268 102h0m511-209h0m-183 35h0m-21 55h0m-330 90h0m635-147h0m-185-5h0m-192 102h0m103-44h0m169-68h0m17-70h0m-241 130h0m202-64h0m-227 15h0m-95 100h0m444-156h0m-448 107h0m155-20h0m203-25h0m26 9h0m-320 74h0m327-105h0m-259 66h0m152-83h0m-250 75h0m166-20h0m76-18h0m148-53h0m16 42h0m-33 3h0m-449 74h0m493-92h0m-734 184h0m620-120h0m-35-18h0m-312 84h0m435-131h0m-146 51h0m110-51h0m-316 133h0m194-102h0m-57-21h0m-55 51h0m-82 43h0m-304 17h0m467-118h0m-352 125h0m267-34h0m68-32h0m-15-77h0m-16 83h0m-308 56h0m463-130h0m2 17h0m22 43h0m-381 17h0m259-39h0m-25-39h0m-27 71h0m-128 31h0m322-90h0m36-7h0m-214 20h0m13 22h0m161-45h0m-118 16h0m0 38h0m31-13h0m-329 48h0m72 11h0m18 4h0m282-83h0m80-15h0m-308 72h0m17-12h0m218-80h0m-72 29h0m-116 52h0m-3 0h0m133-65h0m-399 130h0m425-98h0m-199 76h0m248-89h0m-17-8h0m-48 32h0m143-87h0m-259 106h0m167-68h0m-186 111h0m-346 15h0m464-76h0m159-20h0m-163-4h0m128-37h0m-474 140h0m94-33h0m295-92h0m25 0h0m102 1h0m-455 125h0m242-104h0m69-20h0m-297 107h0m222-54h0m179-56h0m-274 76h0m-97 75h0m344-121h0m-519 137h0m496-167h0m-502 199h0m-179-7h0m205-43h0m429-176h0m30 63h0m-243 5h0m25 20h0m255-32h0m-389 77h0m205-67h0m152-7h0m-205 66h0m278-97h0m-37 20h0m-29-28h0m-256 94h0m38-25h0m139-70h0m-212 108h0m286-95h0m47-10h0m-397 116h0m338-97h0m28 13h0m-92-3h0" stroke="#000" stroke-width="10" stroke-linecap="round" fill="none" stroke-opacity="0.47"/><path transform="scale(.1)" d="M1000 3151h0m125 73h0m188-92h0m-535 39h0m533-47h0m-162 29h0m-59 93h0m198-138h0m-344 112h0m-14-46h0m83 1h0m32-17h0m-138-10h0m527-71h0m-483 103h0m368-93h0m-19 29h0m-254-34h0m442-83h0m-65 3h0m-55 26h0m-445 122h0m486-103h0m-235 10h0m272-57h0m-643 220h0m84-28h0m285-82h0m-235 90h0m-37 28h0m487-82h0m-83-101h0m-488 189h0m423-168h0m278 22h0m-728 80h0m215-41h0m114 54h0m-44-9h0m81-113h0m-183 185h0m190-167h0m-27 11h0m-69 136h0m13-4h0m-253 67h0m25-42h0m165-29h0m1-76h0m-96 165h0m34-189h0m343-5h0m-340 153h0m146-162h0m-309 138h0m440-118h0m-74 93h0m-181 26h0m106-28h0m-257 30h0m328-85h0m-315 112h0m360-79h0m-125-95h0m-218 148h0m537-196h0m-303 88h0m28 100h0m-145-76h0m-35 75h0m313-125h0m-215 95h0m-62-45h0m-145 27h0m429 12h0m-408 92h0m613-269h0m-282 67h0m-283 139h0m7-11h0" stroke="#000" stroke-width="9" stroke-linecap="round" fill="none" stroke-opacity="0.45"/><path transform="scale(.1)" d="M373 3462h0m30-29h0m-13-15h0m-11 85h0m11-70h0m-22-18h0m30 74h0m-7-58h0m-58-26h0m67 51h0m-28-29h0m7-55h0m21 56h0m-17 21h0m11-58h0m-44 42h0m63 41h0m-36-48h0m36-22h0m-25 8h0m2 50h0m23-41h0m-9 30h0m-18-17h0m12-22h0m38 54h0m-49 26h0m-10-87h0m25 43h0m-49 2h0m42-3h0m-15-4h0m14 46h0m-66 28h0m82-68h0m-19-10h0m-25 29h0m43-47h0m-36 0h0m-23 38h0m4 14h0m24-23h0m-6 8h0m9-83h0m-11 37h0m25 25h0m7 26h0m-42-55h0m54 47h0m-53-16h0m42 16h0m3-23h0m-23 41h0m-12-52h0m-13 65h0m76-58h0m-89 29h0m36-51h0m1 13h0m30 32h0" stroke="#bdbdbd" stroke-width="10" stroke-linecap="round" fill="none" stroke-opacity="0.9"/><path transform="scale(.1)" d="M319 3421h0m32-32h0m0 26h0m45-2h0m-46-82h0m26 90h0m-26 14h0m-7-12h0m26-47h0m-11 3h0m17 60h0m-41 12h0m-3-54h0m36-19h0m3 26h0m-2 22h0m-17 58h0m17-34h0m-16-13h0m-8-30h0m7 16h0m-24-30h0m37 59h0m0-22h0m-23-33h0m-11 32h0m28 49h0m11-73h0m-49-13h0m28 24h0m-4 8h0m29 12h0m2-12h0m-42 27h0m9-24h0m-17 11h0m27 42h0m4-91h0m12 6h0m-44 36h0m2-35h0m29 11h0m-1 94h0m-14-105h0m10 4h0m7 42h0m-9-14h0m27-55h0m1 63h0m-18 33h0" stroke="#2a2ab4" stroke-width="11" stroke-linecap="round" fill="none" stroke-opacity="0.8"/><path transform="scale(.1)" d="M320 3313h0m41 23h0m-11-19h0m2-26h0m-22 0h0m13 48h0m-15-8h0m43-61h0m8 81h0m-22-20h0m13 8h0m-28 11h0m20-82h0m-20 38h0m33-6h0m-7-4h0m-4 21h0m-27 15h0m25-19h0m-9 70h0m-18-99h0m24 123h0m5-79h0m-38 48h0m68-38h0m-54-44h0m23 22h0m-2-12h0m-7 39h0m-1-14h0m8-45h0m-34 106h0m62-35h0m9-82h0m-41 21h0m25 16h0m-20 14h0m3 2h0m-3-18h0m-16 64h0m55-94h0m-28 59h0m-40-14h0m31 37h0m5-51h0m-53 4h0m32 67h0m26-50h0m-24-12h0m0-5h0m29-3h0m-29-33h0m17 2h0m25 28h0m-46 12h0m-2 25h0m7-37h0m1-1h0m17 15h0m-1-19h0m7 18h0m-35 33h0m12-60h0m-19-15h0m20 24h0m14 18h0m5-32h0m1 54h0m-5 42h0m-59-37h0m78 19h0m-14 4h0m10-21h0m-40-25h0m12 3h0m11-53h0m-19 6h0m20 21h0m-13-15h0m-22 9h0m26 39h0m3-17h0m-11-7h0m-10 70h0m6-76h0m17 13h0m-14 33h0m8-37h0m-19 41h0m27-57h0m-7 68h0m16-31h0m-4-65h0m-1 47h0m-18 21h0m-12-31h0m25 28h0m-37-30h0m33 34h0m-22-26h0m7 42h0m21-16h0m-10 15h0m25-1h0m-30-44h0m-23 4h0m23 21h0m-26 23h0m31-17h0m8-55h0m-12 76h0m10-25h0m-14 27h0m-19-70h0m27 15h0m11-3h0m-7-18h0m-22 79h0m22-49h0m28-16h0m-12-18h0m-43 17h0m24 46h0m-24 14h0m23-17h0m14-30h0m-17 15h0m-8-61h0m20 13h0m14 39h0m-17 13h0m7-13h0m-31 8h0m36-21h0m2 8h0m5 13h0m-22-17h0m8-3h0m-3 7h0m-17 57h0m16-79h0m-51 92h0m20-91h0m34 57h0m-42 6h0m28 9h0m-1-54h0m29-70h0m-29 52h0m-12 36h0" stroke="#ff2a2a" stroke-width="11" stroke-linecap="round" fill="none" stroke-opacity="0.8"/><path transform="scale(.1)" d="M444 3399h0m-7 57h0m17 9h0m-9-58h0m-58 20h0m36 12h0m16-19h0m-29 15h0m74-43h0m-42 11h0m-15 38h0m7-12h0m7 59h0m-23-75h0m-8 8h0m-28 17h0m72 9h0m-20-8h0m-40 31h0m61-30h0m-25 19h0m-15-45h0m-11 47h0m75-18h0m-23-58h0m-14 79h0m1-7h0m-16-54h0m0 35h0m45 33h0m-57-47h0m-3 48h0m43-50h0m-75 46h0m35-30h0m-6-92h0m18 83h0m-36-10h0m26 20h0m-1-29h0m16 52h0m16-25h0m16-8h0m-29-5h0m-19 1h0m-5-21h0m7 33h0m67-38h0m-16 10h0m-9-17h0m-12 71h0m-46 4h0m58-62h0m-34 10h0m-22-34h0m-1-1h0m34 62h0m-25 52h0m61-87h0m-8 44h0m-14-68h0m-7 97h0m9 18h0m-76-67h0m17 11h0m38 46h0m-12-45h0m-47-51h0m65 48h0m-22-55h0" stroke="#9b3cff" stroke-width="11" stroke-linecap="round" fill="none" stroke-opacity="0.75"/><path transform="scale(.1)" d="M1767 3066h0m-7-15h0m12 7h0m-13-20h0m4 26h0m-15-2h0m14 7h0m-11-11h0m-5 26h0m50-15h0m-75 1h0m34 2h0m-13-35h0m3 26h0m9 4h0m1 0h0m15-20h0m-46-9h0m36 5h0m-10-10h0m20 24h0m-35-16h0m-21 12h0m36-1h0m-5-3h0m-6-9h0m4 1h0m24 29h0m-22-41h0m26 26h0m-9-17h0m-25 3h0m-24 7h0m49 34h0m-31-24h0m0 4h0m29 1h0m10 4h0m1-9h0m-26 16h0m2-18h0m-14-11h0m17 7h0m5 0h0m26 24h0m-33-47h0m-13 12h0m31 10h0m-29 2h0m-6-5h0m21-10h0m0 13h0m-2 4h0m-19-23h0m16 16h0m-17 3h0m-7 0h0m35 25h0m13-44h0m-15 26h0m16-1h0m-12-26h0m26 34h0m-46-30h0m8 20h0m0-15h0m12 6h0m5 15h0m-25 7h0m-9-14h0m-10 1h0m-3-5h0m44 17h0m-30-7h0m35-41h0m-21 59h0m17-38h0m1-14h0m-1 12h0m5 10h0m-23-3h0m16-15h0m-16 29h0m-9-16h0m12 9h0m9 25h0m-17-22h0m31-36h0m-38 15h0m-4 9h0m8 14h0m29 10h0m-20-27h0m10 6h0m2 9h0m-31 5h0m20 6h0m17 1h0m-1-31h0m-14 24h0m9-23h0m-5 15h0m9 10h0m-39-1h0m9-10h0m38-12h0m-21 25h0m-18-4h0m24-40h0m-2 50h0m-20-4h0m18-41h0m-5 47h0m15-10h0m-12-3h0m4-23h0m9 4h0m-8 15h0m-14 8h0m-9-5h0m5 18h0m1-31h0m10-15h0m-2 8h0m-2 24h0m-6 1h0m33 6h0m-23-7h0m-19 4h0m23-10h0" stroke="#a82e2e" stroke-width="11" stroke-linecap="round" fill="none" stroke-opacity="0.85"/><path transform="scale(.1)" d="M422 2252h0m12 8h0m-40 2h0m19-46h0m-6-13h0m-2 30h0m24 74h0m0-69h0m-41-26h0m17-1h0m-23 9h0m31 41h0m-9 9h0m-30-67h0m17 14h0m14-2h0m2-55h0m0 69h0m17-6h0m-9 16h0m-9-32h0m-3 14h0m-10 25h0m0-17h0m11 39h0m10-3h0m-10-31h0m19 2h0m-38 1h0m43 62h0m-34-81h0m-3-20h0m21-22h0m-29 17h0m29 43h0m-19-5h0m-13 1h0m7-85h0m23 128h0m7-28h0m-32-70h0m20 65h0m-2-39h0m20 102h0m-25-61h0" stroke="#f4a460" stroke-width="12" stroke-linecap="round" fill="none" stroke-opacity="0.55"/><path transform="scale(.1)" d="M385 2213h0m2 8h0m25-14h0m-18-14h0m-44-13h0m57 30h0m-19-3h0m22 17h0m-17-26h0m-2 14h0m11-15h0m-27-10h0m-9 7h0m-3-67h0m57 72h0m-33-20h0m11 34h0m-4 11h0m-24-34h0m35-5h0m-25 23h0m20-3h0m-14 20h0m-3-46h0m4 20h0m-2 48h0m-17-38h0m51 29h0m-29-26h0m33-34h0m-22 39h0m-27 9h0m29-47h0m6 73h0m-1-22h0m-4-2h0m-30-60h0m3 15h0m20-6h0m9 15h0m-11 25h0m-11 14h0m5-5h0m-20-34h0m21 56h0m0-59h0m-10-1h0m25 7h0m-27 48h0m6-103h0m21 90h0m-11-40h0m-17-3h0m6-46h0m33 50h0m-56 2h0m35 0h0m17-22h0m7 20h0m-32-19h0m30 26h0m-11 27h0m20 22h0m-31-58h0m1 50h0m24-28h0m-46 32h0m25-74h0m-19-4h0m-18 29h0m20 20h0m1 8h0m19-82h0m15 64h0m-18 37h0m-14-46h0m-2 34h0m-4-47h0m13 29h0m-1-29h0m3 10h0m-10-29h0m32 59h0m-6 27h0m-24-60h0m-2 20h0m7-20h0m-13 10h0m2 11h0m0-2h0m6-5h0m12 4h0m-19 16h0m13 35h0m8-39h0m-18 0h0m-10-29h0m14-3h0m4 18h0m20-7h0m-11 8h0m-17-17h0m2 14h0m21-11h0m-38 19h0m24-10h0m5 15h0m14-2h0m-28-19h0m31 28h0m-29-8h0m23 22h0m-35-83h0m41 31h0m-27 5h0m0 53h0m7-29h0m-9 6h0m12-13h0m-32-6h0m27-4h0m17 5h0m4-51h0m-47 46h0m34-15h0m-23 22h0m30-14h0m-8-18h0m-33 19h0m34-25h0m-19 24h0m34 31h0m-6-38h0m-6 55h0m-9-73h0m18 56h0m-28-29h0m35 28h0m-43-37h0m17 34h0m32 19h0m-44-49h0m12 35h0m-28 14h0m9-63h0m9 36h0m-15-5h0m48-33h0m-1 41h0m-4 0h0m3-6h0m-34-18h0m7 14h0m-32 5h0m55-2h0m0 15h0m-30-27h0m5-5h0m9 48h0m11-21h0m-30-39h0m18 53h0m12 6h0m-18 4h0m36-22h0m-46-27h0m-14 9h0m41 13h0m-42 12h0m14-30h0" stroke="#0000ff" stroke-width="15" stroke-linecap="round" fill="none" stroke-opacity="0.95"/><path transform="scale(.1)" d="M387 3409h0m2 35h0m2-52h0m-4 2h0m0 14h0m0 20h0m12-27h0m9-1h0m-11-2h0m14 58h0m-44-23h0m37-46h0m-7 4h0m-16 33h0m15 23h0m-7-34h0m-14 39h0m25-17h0m-34-37h0m36 3h0m-23 31h0m22 1h0m-2-25h0m14 9h0m-38-23h0m8 39h0m28 8h0m-43-22h0m34 17h0m-7 9h0m6-39h0m14 43h0m-58-41h0m46 30h0m0-13h0m-29-4h0m19 7h0m13 31h0m-30-44h0m-22 18h0m28 16h0m21-3h0m-1-18h0m-1-15h0m6 23h0m-4-15h0m-7-9h0m-3 28h0m-4 12h0m-25-19h0m47-16h0m-24-8h0m2 33h0m21-9h0m-45-3h0m11-14h0m41-5h0m-53-22h0m43 45h0m-24-26h0m-15-21h0m26 14h0m-17-12h0m31 0h0m-7 51h0m0-24h0m-9-13h0m-26 3h0m1-14h0m40 3h0m5 32h0m-23-17h0m16 3h0m4-35h0m-15 19h0m-9 44h0m10-29h0m1 18h0m2-25h0m-17 35h0m-6-5h0m12 4h0m13-13h0m-13-23h0m8 9h0m14 5h0m-18-1h0m-3-10h0m-8-4h0m0 11h0m15-2h0m5 27h0m-15-15h0m-13 42h0m15-31h0m-2-33h0m20 14h0m5 21h0m-19 25h0m10-55h0m24 11h0m-37 8h0m-11-2h0m-12-31h0m35 40h0m2-7h0m-7 27h0m7-37h0m-28 41h0m10-23h0m22-1h0m-25-12h0m10-24h0m-3-21h0m24 34h0m12-34h0m-40 46h0m15-28h0m-8-9h0m-3 66h0m6-2h0m-26 6h0m14-45h0m41-3h0m-31 14h0m-9 5h0m3 19h0m2-26h0m13-9h0m-9 8h0m-1-28h0m-11 42h0m10-20h0m2 49h0m-5-52h0m10 16h0m-20-19h0m18 34h0m-30 22h0m31 11h0m-12-62h0m8 41h0m-17-11h0m4 8h0m23-23h0m-39 4h0m6-3h0m11-25h0m11 22h0m16 33h0m-30-62h0m18 46h0m-11-39h0m34 22h0m-23 31h0m-23-58h0m1 55h0m11-69h0m-9 74h0m24-48h0m-36 88h0m30-82h0m8-17h0m-5 1h0m-15 21h0m-4-14h0m28 18h0m-24-20h0m-6 42h0m-3 19h0m16-60h0m-6 36h0m26-19h0m-1 16h0m-46 5h0m24-19h0m6-9h0m-23-43h0m21 99h0m3-80h0m-14 56h0m-5-33h0m44 19h0m-2-38h0m-38 41h0m-2-29h0m33-1h0m-21 4h0m-16 13h0m5-22h0m8 17h0m-19-22h0m32 48h0m-11-44h0m-1 35h0m12-27h0m-1-8h0m-18 6h0m3 18h0m2 7h0m29 13h0m-44-23h0m15 16h0m2-34h0m2-29h0m-14 71h0m22-24h0m-5 10h0m6-48h0m-26 40h0m-1 1h0m24 22h0m-36-46h0m41 29h0m-8-11h0m-5 7h0m15 22h0m-10-23h0m13 11h0m-5-7h0" stroke="#22e022" stroke-width="12" stroke-linecap="round" fill="none" stroke-opacity="0.95"/></g>
<rect x="27.6" y="211.0" width="157.0" height="142.8" fill="none" stroke="#c8c8c8" stroke-width="1.2"/>
<path d="M40.4 353.8v3M70.1 353.8v3M99.7 353.8v3M129.3 353.8v3M158.7 353.8v3M27.6 219.8h-3M27.6 250.7h-3M27.6 281.6h-3M27.6 311.9h-3M27.6 342.8h-3" stroke="#c8c8c8" stroke-width="0.9" fill="none"/>
<rect x="157.6" y="211.0" width="27.0" height="42.5" fill="#fff" stroke="#c8c8c8" stroke-width="1.1"/><g font-size="3.15" fill="#333" filter="url(#gs)"><text x="163.0" y="220.1">AA_WES_20k</text><text x="163.0" y="224.0">GBR</text><text x="163.0" y="227.8">FIN</text><text x="163.0" y="231.7">IBS</text><text x="163.0" y="235.5">CEU</text><text x="163.0" y="239.4">YRI</text><text x="163.0" y="243.3">CHB</text><text x="163.0" y="247.1">JPT</text><text x="163.0" y="251.0">TSI</text></g><circle cx="160.1" cy="219.0" r="0.55" fill="#000" fill-opacity="1"/><circle cx="160.1" cy="222.9" r="0.6" fill="#3030c0" fill-opacity="0.7"/><circle cx="160.1" cy="226.7" r="0.6" fill="#ff7070" fill-opacity="0.7"/><circle cx="160.1" cy="230.6" r="0.6" fill="#c070ff" fill-opacity="0.7"/><circle cx="160.1" cy="234.4" r="0.6" fill="#999" fill-opacity="0.7"/><circle cx="160.1" cy="238.3" r="0.6" fill="#c06060" fill-opacity="0.7"/><circle cx="160.1" cy="242.2" r="0.6" fill="#f0a860" fill-opacity="0.7"/><circle cx="160.1" cy="246.0" r="0.7" fill="#0000ff" fill-opacity="1"/><circle cx="160.1" cy="249.9" r="0.6" fill="#30e030" fill-opacity="0.7"/>
<g><path transform="scale(.1)" d="M3501 2803h0m-417-104h0m-208 219h0m166 141h0m-87 42h0m260-141h0m230-31h0m-471-108h0m39 160h0m239-325h0m39 319h0m-223 274h0m344-610h0m-332 298h0m149 46h0m-173-3h0m37-365h0m66 549h0m30-497h0m144 50h0m-319-95h0m183-67h0m-290 363h0m492 121h0m-184-58h0m208-219h0m-249 123h0m61-434h0m-32 578h0m-58-404h0m-59-187h0m436 399h0m-207-200h0m-88 616h0m83-390h0m-75 110h0m18-352h0m-175 522h0m531-352h0m-670 57h0m316 114h0m131-124h0m45-54h0m-449-38h0m260 23h0m-139 179h0m144 21h0m-196-560h0m242 184h0m-165-154h0m158 374h0m-247-10h0m76 300h0m-80-627h0m438 158h0m-271-11h0m131 202h0m-296 76h0m294 28h0m-181 12h0m197 15h0m-198-84h0m-353-74h0m601 122h0m-564-197h0m524 177h0m-83-9h0m-178-175h0m426 6h0m-159 174h0m-226-59h0m-9-178h0m-66 303h0m240-202h0m-227-190h0m440 41h0m-359 597h0m-113-531h0m-85 420h0m70-96h0m431-115h0m-271 11h0m139-273h0m-382 190h0m181-158h0m142 62h0m-11 129h0m-101-86h0m195 311h0m-322-491h0m461 391h0m-265-465h0m2 400h0m-77-149h0m203 194h0m144-227h0m-258 236h0m-35-380h0m207 243h0m43 119h0m-142-120h0m-202-183h0m30 186h0m165-304h0m-217 174h0m246 562h0m-199-135h0m35-118h0m-141-450h0m353 298h0m31-84h0m81-30h0m-66 46h0m-428-30h0m99-22h0m295 144h0m-594-346h0m654 573h0m0-160h0m140-120h0m-405-305h0m297 438h0m-551-560h0m151 582h0m158-411h0m-71 186h0m170 346h0m-190-151h0m-274-430h0m625 279h0m-278 31h0m-83 76h0m168-391h0m-289 300h0m89 46h0m-193 48h0m508-373h0m13 93h0m-298-82h0m-78 196h0m317 504h0m-42-157h0m-55-141h0m-186-84h0m222 404h0m74-662h0m1 217h0m-164 115h0m-57-53h0m210-155h0m-5-233h0m-190 482h0m35 14h0m77-219h0m-5 152h0m48-414h0m-263-156h0m205 688h0m-144-148h0m309 5h0m-245-26h0m-36 181h0m116-456h0m-78-62h0m35 417h0m110-100h0m102 9h0m-87-278h0m-61 104h0m-64 89h0m31-105h0m-381 211h0m538 280h0m-145-102h0m90-540h0m60 261h0m-502 163h0m400-73h0m-206 178h0m101-272h0m-35 83h0m-64 242h0m127-125h0m218 108h0m-189-261h0m-220-46h0m397 144h0m-196-188h0m-77-255h0m-176 124h0m258 164h0m-39-346h0m-144 11h0m-52 464h0m142-276h0m-77-50h0m-68 303h0m497-40h0m-428-112h0m-147 99h0m186-11h0m335-263h0m-512 205h0m430-119h0m-635 98h0m473-348h0m-63 629h0m137-402h0m136 372h0m-99 114h0m-482-417h0m460 541h0m-176-644h0m76 147h0m-111-79h0m43-42h0m320 108h0m-43-12h0m-208-73h0m-242 106h0m122 72h0m155 61h0m-90-54h0m313-18h0m-311-14h0m-92 417h0m294-566h0m-492 194h0m312 83h0m137-93h0m168 154h0m-662-482h0m438 450h0m-100 142h0m35-201h0m-175 88h0m321 128h0m-64-321h0m-284-342h0m130 491h0m-146-366h0m-63 705h0m246-459h0m293 152h0m-148-308h0m-176-77h0m227 216h0m-162-170h0m128 390h0m-55-17h0m-284-486h0m-80 793h0m127-586h0m390 138h0m-250-158h0m287 77h0m-138-18h0m3-111h0m-81-36h0m129 206h0m150-7h0m-393-21h0m-58 27h0m20-167h0m152 394h0m204-496h0m-253 131h0m77 211h0m-241-87h0m-426-97h0m228 389h0m412 22h0m-460-448h0m324-283h0m42 420h0m-317-70h0m367 270h0m174-458h0m-110 115h0m-118 328h0m368-95h0m-369 135h0m-123-138h0m183 25h0m-76-258h0m219-113h0m-136 551h0m245-436h0m-269 422h0m8-59h0m-71-385h0m232 378h0m-94 55h0m127-355h0m-212 219h0m119 145h0m-2-511h0m-251 308h0m169-151h0m39-258h0m45 164h0m-290 356h0m507-357h0m-342 303h0m250 83h0m83-339h0m-262 179h0m232-175h0m-76-23h0m-289-289h0m332 531h0m-277 173h0m261-419h0m-328-28h0m185 255h0m-211-114h0m323-36h0m-21 553h0m-137-515h0m-222-141h0m-213-16h0m715 59h0m-319 460h0m-227-181h0m272 162h0m-14-541h0m101 734h0m-513-584h0m383 237h0m185-442h0m107 202h0m-246 95h0m157 153h0m-528-304h0m417-7h0m-289 73h0m322 229h0m177-135h0m41-228h0m-418 338h0m12-166h0m186 347h0m-219-368h0m-7-243h0m328 265h0m-114-257h0m-113 397h0m29-422h0m-314 77h0m514 111h0m-437 71h0m332 142h0m45 283h0m38-420h0m-121-151h0m-110 57h0m287 195h0m-375-121h0m391 208h0m-237 59h0m102-376h0m46 183h0m-187 46h0m303-261h0m-461-19h0m316 176h0m-312-155h0m477 244h0m-345 270h0m268-199h0m-488-115h0m-36 406h0m-66-587h0m14 240h0m486-144h0m-81 145h0m-118 192h0m-104-204h0m219 30h0m208 144h0m-516-348h0m591-35h0m-167-79h0m-296 440h0m-38 110h0m-13-503h0m445 274h0m-295-138h0m249 46h0m-226 24h0m245-74h0m75-130h0m-628 406h0m460 129h0m-577-359h0m349 33h0m100-49h0m278 179h0m-263-86h0m-111 19h0m-240-133h0m231-322h0m132 41h0m-190 411h0m36-60h0m260-92h0m-48-181h0m20 291h0m-86 180h0m196-158h0m-465 161h0m-85-184h0m528-67h0m-432-218h0m-159 486h0m323 129h0m148-308h0m-198-446h0m-269 130h0m592 221h0m-336 182h0m12 61h0m68-428h0m0 290h0m68-29h0m-72-148h0m-73-161h0m184 261h0m-301 73h0m-31-289h0m251-48h0m-55 487h0m325-90h0m-417-295h0m121-25h0m261 148h0m17 229h0m-262-182h0m-97-298h0m404 514h0m-68-164h0m-368-327h0m205 9h0m-177 37h0m329 209h0m-102-67h0m-85 232h0m-193-491h0m-3 616h0m-118-504h0m76 473h0m418 44h0m-69-486h0m-246 287h0m-114 468h0m315-755h0m-108-23h0m-79 455h0m278-269h0m-11-141h0m-616 310h0m558 137h0m-103-609h0m17 223h0m157 93h0m-157 15h0m-41-58h0m206 303h0m20 42h0m-63-481h0m109 50h0m-53 516h0m133-386h0m-479 82h0m-30-295h0m279 23h0m-343 287h0m382 19h0m-186-252h0m-100 415h0m-143-417h0m100-268h0m-17 311h0m400 341h0m-111-53h0m21-284h0m-87 182h0m213-181h0m-137 94h0m-215 72h0m-158-170h0m28 141h0m481-221h0m-332 136h0m-251 53h0m469-28h0m197-16h0m-639-95h0m62-322h0m346 894h0m39-495h0m16 371h0m-222-367h0m293-60h0m-678 47h0m275 1h0m162-134h0m-84 173h0m36 130h0m176-181h0m-408 43h0m314 171h0m156-375h0m-135 559h0m-16-319h0m282 143h0m-83-341h0m15 67h0m-374 97h0m114 210h0m6-7h0m-21 235h0m130-408h0m41-44h0m126-87h0m-309 179h0m-141-244h0m360 390h0m-198 48h0m-31-560h0m-83 309h0m-108 341h0m245-550h0m-199-45h0m152 433h0m134-439h0m291 86h0m-358 490h0m-63-282h0m195-262h0m194 233h0m-389-89h0m166 223h0m-277-255h0m-60 118h0m367-228h0m-340-38h0m-175 198h0m251 63h0m286 28h0m-33 75h0m-320 169h0m136-447h0m198 272h0m-331-257h0m389 110h0m-292 534h0m-120-732h0m196 513h0m120-464h0m-77 328h0m75-335h0m-71 192h0m-216-10h0m498 85h0m-279 24h0m-161 56h0m57 8h0m239 96h0m58-103h0m36-112h0m-518 147h0m87-82h0m311-189h0m28 52h0m-163 66h0m261-162h0m-85 81h0m-269 9h0m136-44h0m104 276h0m-357 156h0m157-308h0m188 78h0m5-112h0m-369 423h0m331-449h0m-364-46h0m379 12h0m-212 170h0m233-144h0m-369 217h0m372-147h0m-529 76h0m287-170h0m91 347h0m204-432h0m-145 222h0m-164-152h0m-54 288h0m-77-542h0m319 173h0m-522 306h0m318-234h0m337-54h0m-20 228h0m-273-153h0m190 328h0m-672-28h0m531-267h0m150-47h0m-256 171h0m195 42h0m192-33h0m-319 58h0m304-206h0m-359 364h0m268-47h0m-396-203h0m218 193h0m169-432h0m-394-94h0m234 455h0m-231-7h0m-39-439h0m335 612h0m-109-316h0m-396 540h0m437-329h0m133-282h0m84 419h0m-60-320h0m-234 178h0m183-220h0m-108-59h0m-29-24h0m168 185h0m-139-66h0m-117 304h0m251-594h0m-359 185h0m130 602h0m163-517h0m154-126h0m-111 306h0m-332-200h0m231-72h0m-114 51h0m234-89h0m-391 102h0m330 290h0m12-379h0m0-201h0m175 444h0m-49-93h0m202-85h0m-704-427h0m544 200h0m-273 135h0m207 326h0m-155-332h0m-297 330h0m177-261h0m180 25h0m-67 175h0m-8-302h0m-121-30h0m-170 423h0m464-444h0m-114 77h0m-98 221h0m344-263h0m-320 309h0m-444-291h0m506 182h0m122 64h0m-83 7h0m54-193h0m-205 280h0m-241 297h0m85-632h0m372 204h0m-375-352h0m224 375h0m213 67h0m85 85h0m15-297h0m-374 16h0m342-194h0m-296 409h0m-50-295h0m1 132h0m78-123h0m-105 120h0m107-36h0m164 40h0m-201-20h0m240 475h0m-52-482h0m-24 314h0m46-207h0m-234-85h0m-26 345h0m344-94h0m-278-453h0m120 202h0m60-38h0m74 103h0m-112 60h0m-503 19h0m526-174h0m119-56h0m-400 40h0m418 21h0m-258-105h0m50 257h0m-273-489h0m306 457h0m-370 162h0m77-68h0m146 91h0m68-386h0m-47 264h0m264-55h0m-302-232h0m136-135h0m69 49h0m40 497h0m-317-364h0m406 294h0m-515-192h0m379 115h0m-329-341h0m167 17h0m27 65h0m-172-10h0m-120 2h0m63 96h0m520 0h0m-446 72h0m118-71h0m-255-459h0m115 643h0m270 87h0m-182-393h0m-145 242h0m358-138h0m-240 48h0m52-127h0m311-23h0m-135-56h0m-126 41h0m90 531h0m188-334h0m-119-81h0m-479 12h0m356-192h0m-155-128h0m91-49h0m130 250h0m-218-57h0m-260 375h0m438 48h0m35 33h0m-171-65h0m40 177h0m-284-342h0m-9-156h0m482 312h0m-303 340h0m404-559h0m-478-8h0m199 397h0m-417-287h0m273-136h0m203 243h0m255-240h0m-90-63h0m12 356h0m-100 132h0m-301-669h0m161 179h0m239 163h0m-277 379h0m138-238h0m-160-218h0m466 3h0m-287 220h0m-177-389h0m66 300h0m220 205h0m159-419h0m-435-248h0m-107 350h0m256 616h0m3-358h0m-86-332h0m219-97h0m-82 126h0m-37 19h0m-335 47h0m29 260h0m76-304h0m74 100h0m177-193h0m139 121h0m-13 220h0m-19-194h0m-522 454h0m157-322h0m56-351h0m67 138h0m61 313h0m142-414h0m120 56h0m-399 541h0m62-609h0m-359 419h0m281-171h0m264-73h0m-12-233h0m165 338h0m-372-452h0m-355 599h0m345-212h0m431 39h0m-755 436h0m217-312h0m174-210h0m-156-155h0m-98 370h0m392-20h0m-159 202h0m354-363h0m-227 90h0m-20 45h0m-109-127h0m226-162h0m-254 271h0m74 6h0m175 113h0m-200-22h0m-235-172h0m270 139h0m356-298h0m-215 242h0m184-16h0m-463-347h0m128 244h0m-382 62h0m363-95h0m119-276h0m123 266h0m-422-234h0m346 225h0m-57 42h0m-275-123h0m51 195h0m253-8h0m191-169h0m-277 387h0m-229-167h0m254-243h0m-44 427h0m219-136h0m-108-210h0m-547-93h0m419 259h0m-60-166h0m84-20h0m-401-150h0m608 211h0m-233-126h0m-192 232h0m269 186h0m160 47h0m-155-197h0m22 47h0m-150-235h0m-117-242h0m279 269h0m-208-232h0m56 272h0m319 55h0m-243 52h0m168 15h0m-265-148h0m127-180h0m225 72h0m-450 158h0m-199-264h0m436 318h0m-65-51h0m286 137h0m-220-90h0m-387-265h0m305 56h0m-332-172h0m318 230h0m-115-202h0m174 227h0m-224 207h0m407-203h0m-82 47h0m-210 476h0m119-787h0m160 559h0m-404-184h0m-53 426h0m60-417h0m-31 57h0m83-203h0m397 150h0m21 65h0m-65-344h0m-247 73h0m274 111h0m-236-75h0m137 80h0m-222-70h0m26 172h0m318-246h0m-220 495h0m102-379h0m-101-82h0m-152-61h0m472 118h0m-279 469h0m-122-318h0m280 161h0m104-363h0m-182 198h0m-420-388h0m382 629h0m-104-339h0m-112 425h0m49-473h0m137 141h0m21-86h0m-184 371h0m149-253h0m-403-27h0m68-30h0m465-13h0m107 17h0m-405 130h0m142-21h0m-49-284h0m-32 152h0m-56 46h0m105-278h0m160 165h0m-254-231h0m100 680h0m61-583h0m-22 304h0m-167-10h0m342 89h0m-439-157h0m122-231h0m203 303h0m-55-282h0m-50-150h0m-94 190h0m224 118h0m72 197h0m-436-384h0m138 198h0m369-59h0m-165 375h0m-19-306h0m-55-69h0m-4-92h0m-287-250h0m427 159h0m43 109h0m-50 162h0m-333-12h0m-151 338h0m496-137h0m-302-185h0m8 103h0m146-294h0m-90 230h0m301-272h0m-229 324h0m249-210h0m-260 249h0m-219-200h0m294-239h0m269 293h0m-127-9h0m19-65h0m-364-232h0m-282 248h0m490 179h0m-163-232h0m55 114h0m-139-143h0m382 102h0m-509 355h0m164-266h0m77-334h0m179 337h0m-147-250h0m214 30h0m71 130h0m-147 75h0m51-180h0m-132 95h0m-64 343h0m-165 125h0m543-497h0m-654-424h0m447 305h0m-70 177h0m99-24h0m-79 236h0m-93-180h0m-93 322h0m366-436h0m-133 69h0m48-241h0m-74 292h0m35 103h0m-206-260h0m-39 0h0m96 193h0m73-135h0m-105 456h0m61-514h0m-453-42h0m197 71h0m-51-256h0m153 392h0m99-30h0m110 86h0m-191-189h0m341 289h0m-109-183h0m-474-314h0m606 217h0m-437 20h0m229-19h0m-57 245h0m58-365h0m-137 192h0m210-65h0m-83 97h0m46-239h0m-37 38h0m24 301h0m-21-232h0m-154 147h0m-175-303h0m313 216h0m102-16h0m26 244h0m-438-389h0m148 393h0m193 302h0m26-506h0m-159-36h0m261 10h0m-433-130h0m-22-8h0m105 342h0m243-77h0m-116 137h0m2-296h0m-207-234h0m588 234h0m-443 476h0m179-457h0m250 126h0m-541 189h0m9-290h0m276 112h0m-147 4h0m258-145h0m-280 58h0m-31-296h0m-109 137h0m-5 166h0m283 63h0m-105-235h0m-26-83h0m-183 59h0m291 36h0m44 254h0m173-43h0m-468 111h0m548-122h0m-278-158h0m3 38h0m-377 356h0m484-267h0m-47-271h0m-275 355h0m-72 318h0m324-474h0m-139 218h0m-249 69h0m227 254h0m61-294h0m-270 94h0m347-273h0m176 232h0m-322-282h0m105 105h0m-160-410h0m-38 406h0m422-181h0m-437 45h0m553 25h0m-453-92h0m11 324h0m-250-400h0m203 652h0m271-208h0m-127-533h0m224 467h0m-317-348h0m146 63h0m-197 280h0m-147-89h0m321-362h0m191 576h0m-511-711h0m-71 423h0m394 115h0m-222-464h0m270 445h0m161 72h0m-332-147h0m-96-102h0m309 164h0m-558-306h0m352 330h0m-111 213h0m-211-211h0m320-284h0m-73-36h0m100 34h0m-129 765h0m-89-479h0m229-176h0m20-71h0m49-103h0m-21-3h0m-148 380h0m238-46h0m74-9h0m-506-398h0m223 196h0m-5 386h0m308-348h0m-299 53h0m-71 306h0m81-125h0m-184-54h0m122-226h0m356-66h0m-538 156h0m335 340h0m132-480h0m-314-95h0m184-73h0m36 618h0m74-141h0m-202-365h0m-76 385h0m106-199h0m161 96h0m-298-56h0m19-199h0m-69 260h0m27 22h0m171 213h0m85-219h0m144 20h0m-4-260h0m-137-13h0m58 279h0m-43-91h0m151 125h0m103-73h0m-270-24h0m4 89h0m85-36h0m-88-218h0m-25 120h0m-133-78h0m60-313h0m275 398h0m-14 122h0m-693 105h0m532-277h0m-122 235h0m160 7h0m160-172h0m-380-150h0m194-13h0m-47 405h0m-85-345h0m-88-63h0m97 222h0m-148 172h0m181-390h0m172 262h0m-215-180h0m-297-75h0m202 158h0m186 211h0m-199-240h0m225 11h0m160 160h0m-342-241h0m285-50h0m38 172h0m-631-129h0m246 450h0m415-480h0m-70-71h0m-56 155h0m-92-138h0m-34 264h0m223 236h0m-446-242h0m122-315h0m131 239h0m258-155h0m-24 5h0m-104 471h0m-615-415h0m622 223h0m103-137h0m-399-283h0m82 632h0m349-486h0m-72 196h0m-110-282h0m-394 214h0m337 3h0m-132-236h0m-28 429h0m10-453h0m38 418h0m191 260h0m-387-479h0m276 421h0m-15-139h0m-202-249h0m147 284h0m66 7h0m-104-292h0m-229 14h0m388-64h0m-91-64h0m85 283h0m-387-348h0m589 386h0m-465 177h0m313-331h0m-150-254h0m-220 262h0m189 378h0m326-391h0m30 21h0m-186 6h0m37 65h0m-421-294h0m613 159h0m-330 18h0m55-19h0m-112-52h0m230-200h0m-35 717h0m-35-545h0m103 312h0m-192-299h0m31-231h0m70 291h0m23 112h0m169-115h0m-166 274h0m-170-391h0m-140-83h0m339 29h0m-97 1h0m-98-86h0m155 448h0m-280-16h0m328-292h0m-96 63h0m-510-206h0m508 199h0m-292-136h0m118-93h0m372 578h0m-354-274h0m15 232h0m-126-70h0m321-218h0m-582 4h0m403 198h0m-54-137h0m76-79h0m105 125h0m8 0h0m45-76h0m-93 32h0m-379 374h0m50-10h0m83-741h0m208 446h0m349-106h0m-201-230h0m90 520h0m14-23h0m-341-252h0m147 70h0m-48-50h0m91-2h0m-47 213h0m-430 302h0m215-451h0m-101 139h0m458-132h0m-139-127h0m-62 482h0m42-323h0m-223-54h0m-70-9h0m-21 138h0m140-260h0m-91 432h0m418-332h0m-243-399h0m233 169h0m-297 397h0m-266-476h0m307 184h0m165 608h0m-326-588h0m3 571h0m328-331h0m46-8h0m-256-77h0m154-202h0m16-33h0m145 272h0m-441-300h0m414 284h0m-6-46h0m117 84h0m-403-108h0m276 304h0m-133-117h0m330-192h0m-380 118h0m-147 311h0m146-349h0m-160 44h0m310-378h0m-284 653h0m152-163h0m185-490h0m-250 482h0m0-345h0m-29-49h0m192 50h0m-391-122h0m252 66h0m-94 354h0m133-87h0m246-26h0m-11-79h0m-209 151h0m-153-254h0m142 180h0m-93-80h0m-32 118h0m51-354h0m69 213h0m-168 79h0m1-68h0m73 365h0m281-406h0m-395 365h0m359-307h0m-196 41h0m190-11h0m115-143h0m-198 100h0m116 231h0m-343-509h0m133 744h0m300-419h0m-50-102h0m-117 64h0m53 69h0m-379-39h0m253 205h0m-84-527h0m-196 492h0m161-381h0m3 125h0m-73-48h0m10 108h0m34-115h0m153-96h0m141 218h0m-105 14h0m-143-118h0m-26-17h0m15 39h0m368 283h0m91-332h0m-580 275h0m73-12h0m-43 99h0m141-175h0m-51-17h0m279-198h0m-336 132h0m-119 67h0m500-108h0m-280 258h0m147-386h0m-128 622h0m167 22h0m-323-282h0m16-351h0m61 295h0m-7-481h0m308 584h0m-115-43h0m175-277h0m-553 120h0m444 197h0m-588 222h0m510-150h0m-157-446h0m46 38h0m-216 96h0m57-17h0m72-124h0m122 19h0m128 338h0m-294 74h0m81-544h0m152 347h0m-188-123h0m218 95h0m-147-65h0m81-129h0m176 80h0m-21-57h0m76 244h0m-24-316h0m-510 411h0m231 40h0m212-317h0m-374-9h0m103 1h0m103 0h0m-68-159h0m120 53h0m18 279h0m-78 133h0m-143-354h0m473 75h0m-69 94h0m-409-116h0m219 87h0m-311-309h0m239 283h0m158 45h0m-276-329h0m188 81h0m-69 406h0m121-55h0m52-110h0m-415 32h0m418 20h0m-103 293h0m-96-128h0m56-355h0m-106 125h0m87-258h0m185 202h0m-195 193h0m-222-239h0m253 52h0m127 226h0m-125 411h0m-426-388h0m125 7h0m531-221h0m-218 238h0m-40-437h0m-156 83h0m298-182h0m-127 335h0m49-1h0m115 9h0m-42-30h0m-39-51h0m199 78h0m-606-307h0m183 43h0m-176 100h0m327 339h0m-222-232h0m285 430h0m97-317h0m-457-161h0m237-247h0m-105 383h0m424 83h0m-282-229h0m118-10h0m125-46h0m-243 102h0m3 35h0m-60-39h0m-43-17h0m25 33h0m-270 416h0m67-114h0m173 5h0m338-430h0m-339 201h0m-196-397h0m316 502h0m136-70h0m-156 294h0m-299-306h0m149 235h0m242-384h0m110 68h0m-310-373h0m-30 258h0m199 75h0m-12-206h0m-63 335h0m179 270h0m-81-480h0m-290-21h0m79 425h0m157-144h0m-352-258h0m435 235h0m-228-267h0m95 35h0m-72 270h0m155-74h0m196-16h0m-158-246h0m-302-79h0m228 420h0m-145-114h0m129 380h0m-1-761h0m-62 579h0m306-65h0m-392-157h0m460 111h0m-358 56h0m98-59h0m-91-255h0m401 116h0m-263-23h0m-203 31h0m34 118h0m-53 85h0m171-252h0m140 35h0m-155-247h0m-300 53h0m511 256h0m-170-276h0m153 216h0m-536 17h0m-6-128h0m296-177h0m-91 528h0m69-405h0m195 84h0m-39-90h0m-26 109h0m189-10h0m-439 15h0m346 122h0m-286-134h0m-56 158h0m189 48h0m123 306h0m43-561h0m-550 61h0m280 391h0m-30-710h0m81 126h0m189 329h0m-219 93h0m-115-70h0m260-103h0m-75 151h0m215-283h0m-67 286h0m-250-213h0m279 396h0m-464-170h0m266-163h0m123-122h0m143 130h0m-64 127h0m54-70h0m-111-207h0m-154 38h0m35 207h0m-31-23h0m102-213h0m14-55h0m-76 257h0m-68 266h0m66-429h0m22 282h0m36-312h0m-391 270h0m74-451h0m179 662h0m-135-186h0m-66-315h0m-17 638h0m443-394h0m-412-9h0m225-116h0m-173-200h0m44 464h0m190-264h0m-330 131h0m407-186h0m194 57h0m-91 122h0m37 110h0m-172-88h0m252-204h0m-133 425h0m-482-166h0m467 48h0m-161-36h0m26-325h0m-312 105h0m339-215h0m106 496h0m49-172h0m-604-135h0m449 15h0m101-40h0m-29 128h0m209-113h0m-268 34h0m90-35h0m-467 506h0m263-495h0m-36 192h0m119-119h0m-110 42h0m189-219h0m-318 261h0m300 250h0m-157-28h0m-84-557h0m127 534h0m-25-64h0m-52-203h0m-49 194h0m338-351h0m-87 299h0m-237-18h0m113 84h0m220-402h0m-260-50h0m-232 240h0m150 49h0m-55 517h0m321-594h0m-195-286h0m-97 394h0m143-110h0m61 283h0m141-391h0m51 129h0m-387-45h0m271 37h0m174-92h0m-203 198h0m-31-233h0m134 295h0m-25 27h0m-147-302h0m-93-51h0m-5 124h0m-190 67h0m227-36h0m20-89h0m-11 87h0m193 149h0m-95-146h0m-601-150h0m584 29h0m230 229h0m-56-129h0m-96-178h0m-341 314h0m402-89h0m-201 25h0m15-62h0m88-195h0m-424-37h0m338 286h0m-238 50h0m-413-202h0m579 91h0m-58 2h0m173 538h0m76-410h0m115 88h0m-307-232h0m143-11h0m-236 253h0m489-332h0m-537 261h0m-6-129h0m431-72h0m-137 68h0m-388-123h0m46 357h0m329-346h0m-239-175h0m70 317h0m-100 197h0m152-28h0m-22-209h0m-393-130h0m326 40h0m-119-68h0m359 5h0m59 190h0m-290 331h0m67-376h0m284-138h0m-552 33h0m386 150h0m9-211h0m11-97h0m-390 637h0m-190-60h0m748-70h0m-573-199h0m379-172h0m60 69h0m-42 98h0m-25-47h0m240 47h0m-575-111h0m235 39h0m380-6h0m-593 322h0m357-501h0m-320-42h0m414 130h0m-218 298h0m-227-119h0m-112-263h0m418 491h0m-69-209h0m-27 385h0m35-367h0m-188-376h0m45 212h0m317-68h0m167 20h0m-255 185h0m-170-109h0m143 451h0m-314-745h0m283 159h0m-242-251h0m265 720h0m-105-61h0m75-224h0m-44 6h0m132 391h0m52-77h0m77-401h0m-84 323h0m36-254h0m-134 395h0m-362-234h0m276-155h0m48-246h0m-75 183h0m-333 91h0m176-22h0m445-57h0m-338-168h0m313 178h0m-116 19h0m36 304h0m33-253h0m86 112h0m-333-313h0m105-4h0m37-57h0m199 81h0m-477 274h0m448-236h0m-340 158h0m-46 19h0m452 60h0m-179 190h0m-202-422h0m245 92h0m-124-11h0m25-234h0m-330 575h0m-45-229h0m69 462h0m186-504h0m100 156h0m-253-488h0m104 156h0m433 3h0m-139 607h0m-58-474h0m-377-289h0m232 309h0m-50-299h0m130 671h0m-21-478h0m152-10h0m-269 431h0m35-425h0m234 377h0m-350-302h0m406 25h0m-298-139h0m336 265h0m-718-248h0m305 76h0m-112-65h0m-58-70h0m109 151h0m19-44h0m386 290h0m-24-214h0m-354-288h0m-27 191h0m-130 64h0m383 183h0m104-26h0m-211 201h0m-368-171h0m350-130h0m274-139h0m-132 529h0m38-166h0m46-464h0m-19 113h0m-241 44h0m-12-23h0m358 350h0m-140-173h0m-101 19h0m180-239h0m-197 80h0m-34-36h0m-40 56h0m148 246h0m-193-505h0m67 917h0m-42-318h0m262-245h0m-452-42h0m301 308h0m71 26h0m3-588h0m-462 378h0m564 132h0m48-396h0m-405 242h0m88-62h0m332 177h0m-345-457h0m7 397h0m229 37h0m-53-147h0m-334-255h0m156 108h0m269 186h0m-105 173h0m10-177h0m-7-332h0m40 308h0m-97 323h0m-62-622h0m-273-68h0m481 430h0m-44 60h0m-357-486h0m-23 366h0m504 191h0m-377-411h0m132 275h0m366-158h0m-229 81h0m-205 188h0m207-225h0m-176-335h0m107 226h0m-261 322h0m301 38h0m-21 31h0m185-466h0m-280 176h0m154-93h0m78-59h0m-331-77h0m120 578h0m-154-480h0m333 184h0m-197-47h0m20-77h0m70 332h0m-328-134h0m130 24h0m2-114h0m40-139h0m-155 90h0m10 247h0m-238-400h0m354-63h0m126 474h0m-48-476h0m-230-273h0m130 222h0m84 383h0m125-46h0m5 482h0m50-583h0m46 23h0m-43-138h0m-113 145h0m329-20h0m-76 54h0m-470 231h0m302-338h0m105-87h0m-686-48h0m628 190h0m-149 134h0m38 73h0m177-176h0m-347 335h0m-48-386h0m197 171h0m-270-28h0m234-111h0m9-261h0m221 103h0m-163 228h0m199-253h0m-346 308h0m180-223h0m-271-297h0m27 204h0m482 285h0m28-171h0m-289-188h0m-189 741h0m-8-629h0m173 216h0m-181-338h0m423 183h0m-93 0h0m-364 215h0m248-78h0m164-226h0m-153-110h0m-232 377h0m506-161h0m-335 253h0m56-371h0m-231 619h0m146-323h0m-135-137h0m116 120h0m211 73h0m-112-36h0m-48-164h0m-241 149h0m241 147h0m58-318h0m-99 131h0m73-161h0m-201 64h0m-31 309h0m-44-294h0m-14 129h0m254-369h0m-35 16h0m-15 298h0m-2 43h0m75 265h0m-122-327h0m168-65h0m-115 243h0m-284-172h0m567 93h0m-395 185h0m-250-87h0m547-342h0m-23 101h0m-298 352h0m250-408h0m-63 61h0m-247 93h0m251 4h0m-270 1h0m31-38h0m122-99h0m-157-192h0m102 422h0m-100-334h0m314 432h0m-125-465h0m-143 106h0m-282 478h0m435-407h0m11 289h0m25-384h0m-198 550h0m206-334h0m212 149h0m-308-107h0m163-350h0m5 535h0m-314-211h0m149 336h0m113-230h0m251-66h0m-566-304h0m367-46h0m-35 271h0m-66 157h0m191-300h0m-154 76h0m-40-10h0m59-266h0m56 406h0m235-143h0m-629-551h0m438 542h0m-142 153h0m188-108h0m-59 117h0m-201-208h0m-209 167h0m527 9h0m-236-74h0m88-147h0m108 0h0m-137 547h0m-146-173h0m72 57h0m-7-259h0m-174 78h0m266-221h0m-221 203h0m187-215h0m79 139h0m-217-387h0m23 155h0m55 444h0m281-171h0m-190-17h0m82 35h0m-34 240h0m39-26h0m-355-350h0m255 44h0m115-155h0m-656-56h0m237-150h0m279 619h0m134-1h0m-293-99h0m320-91h0m-105-197h0m-166 73h0m-88 108h0m-93-64h0m-6 22h0m-161-176h0m383 6h0m-105-6h0m312 385h0m-27-92h0m-204-214h0m70 306h0m-43-6h0m377-322h0m-307-244h0m230 282h0m-62-10h0m-191 11h0m115 30h0m-44 329h0m203-344h0m-329 234h0m164-89h0m93-211h0m-238 167h0m113-46h0m-150-79h0m196-66h0m6-35h0m-25 27h0m-69 55h0m114 62h0m84-133h0m-51 224h0m-220 20h0m81 57h0m165-291h0m-222-65h0m275 79h0m5 37h0m-382-45h0m96-116h0m-88-117h0m27 538h0m179-369h0m-81 96h0m151 85h0m-156-197h0m82 134h0m66-52h0m-139-67h0m105 45h0m35-1h0m33 144h0m-108-86h0m-80-11h0m41 226h0m124-2h0m-165-174h0m118-150h0m-16 314h0m65-137h0m50-37h0m-200-16h0m94-115h0m59 236h0m-87-223h0m63 181h0m-281 156h0m433-145h0m-192-182h0m-88-83h0m175 133h0m-177-180h0m-44 255h0m158-24h0m-176 162h0m348-105h0m-150-146h0m-84-65h0m-40 83h0m225-49h0m-8 325h0m-149-70h0m-215-24h0m3-78h0m301-51h0m-174-78h0m144 61h0m-94-58h0m0 7h0m-218 130h0m438-89h0m-427-71h0m184-77h0m166 171h0m-385-305h0m332 326h0m102 111h0m-173-224h0m118 83h0m-184-46h0m274 53h0m-318-1h0m108 60h0m118-29h0m-76-161h0m220 213h0m-241-135h0m-32 32h0m203-4h0m-161 278h0m-100-230h0m315 12h0m-245 91h0m159-192h0m-97 114h0m-27-174h0m43 129h0m-4-31h0m-95-112h0m83 147h0m100 58h0m-354-10h0m248 134h0m206-147h0m-153 52h0m-161-304h0m138 115h0m57 18h0m-131-100h0m-168 345h0m164 20h0m24-103h0m-107-209h0m-81 270h0m154-89h0m188 165h0m-267-317h0m300 41h0m-320-69h0m-135 117h0m218 63h0m120 76h0m-7-66h0m-4 106h0m-37-283h0m-20 453h0m19-243h0m-161-101h0m235-16h0m130 153h0m-143-286h0m-15 227h0m36 145h0m20-38h0m-197-309h0m41 318h0m-88-216h0m83-108h0m-109 339h0m190-324h0m-68 282h0m2 34h0m94-270h0m9 7h0m-44 80h0m33-49h0m-135-93h0m-58 90h0m287 149h0m-87-21h0m146-32h0m-210 38h0m-137-339h0m122 344h0m83-97h0m-211-94h0m95 199h0m-80-260h0m226 83h0m-220 128h0m121-135h0m102 169h0m94-6h0m-217-14h0m165-71h0m-183-2h0m69 251h0m173-348h0m-321 246h0m54-239h0m-109-91h0m68 205h0m178 134h0m-67-79h0m-23 17h0m126-25h0m-49-24h0m-140-43h0m91 98h0m4-263h0m92 398h0m-16-146h0m-151-86h0m29 78h0m170-159h0m55 33h0m-304-144h0m212 156h0m-238-72h0m294 199h0m-40-190h0m-96 91h0m-54-54h0m-64 57h0m-51-88h0m132 211h0m73-66h0m115 96h0m-198-55h0m53 66h0m-182-26h0m376-123h0m-133 217h0m-43-229h0m-227-177h0m130 215h0m47 66h0m76-190h0m-143-73h0m122 123h0m-13 138h0m-162-165h0m193-69h0m-82 210h0m11 6h0m21 78h0m-119-303h0m172 315h0m4-5h0m-169-18h0m40-169h0m-44 55h0m148 85h0m-132 95h0m-81-262h0m233 260h0m-173-182h0m136 65h0m-117-6h0m-68-213h0m212 140h0m-342-111h0m448 21h0m-347 273h0m176-362h0m65 283h0m8-139h0m-40 2h0m-134 110h0m-128-199h0m269 148h0m162 16h0m-127-160h0m95 67h0m-376 183h0m369-167h0m-274-128h0m43 43h0m68 100h0m36 23h0m12-107h0m149 228h0m-324-165h0m239-60h0m-205 80h0m19-227h0m-54 86h0m-47 168h0m340 198h0m-107-145h0m-210-43h0m1 22h0m250 27h0m-289-342h0m124 178h0m75 83h0m-111-178h0m113 241h0m-314-207h0m145 226h0m275-199h0m55 192h0m-36-117h0m-343 9h0m220-63h0m59 211h0m-210-64h0m138-1h0m-96 76h0m212 32h0m29-113h0m85 27h0m-165 74h0m42 36h0m3-169h0m-275-155h0m83 289h0m14-34h0m-141-284h0m339 337h0m-124-146h0m214 31h0m-259-77h0m0-22h0m-145 130h0m345-49h0m-150-129h0m87 101h0m-283 49h0m8 8h0m242-90h0m-146-115h0m36 198h0m-90-152h0m132 78h0m-47 81h0m71-28h0m-157-28h0m106 193h0m214-188h0m-45 110h0m-234-203h0m198 152h0m-322-134h0m-53 151h0m157-174h0m115 134h0m197-64h0m-230 295h0m177-12h0m-47-199h0m-224 87h0m237-221h0m45 5h0m-220 2h0m72 102h0m-8-56h0m-155 44h0m-93-66h0m173 298h0m164-82h0m-263-54h0m281-149h0m-245-159h0m240 149h0m-214 21h0m166 76h0m-155 10h0m131 202h0m-20-188h0m-66-84h0m0-79h0m80 11h0m57 0h0m-108-1h0m97 83h0m-59-215h0m156 348h0m-410-405h0m168 436h0m30-265h0m-50 30h0m-25 110h0m27 186h0m86-452h0m-16 163h0m61 150h0m-76-69h0m-75-203h0m225 344h0m19-171h0m-177-26h0m-157 218h0m354 11h0m-103-337h0m-133 64h0m-60-55h0m320 244h0m-88-62h0m-34 26h0m-82-15h0m-45-26h0m10-63h0m54-83h0m-76 123h0m25 45h0m218-111h0m-389 98h0m23 197h0m204-309h0m-26-63h0m-220 176h0m339 8h0m-124 267h0m-121-283h0m347 31h0m-62 90h0m-264-121h0m29 155h0m119-299h0m-55-127h0m133 168h0m-147-86h0m117 212h0m22 192h0m33-186h0m-86-82h0m129-82h0m-314 63h0m329 147h0m-265-160h0m295 88h0m-291-109h0m72 179h0m-11 132h0m10-291h0m-35-88h0m-221 67h0m277 140h0m117-126h0m-181-128h0m199 101h0m-243 143h0m-22-20h0m108-40h0m-71 260h0m212-87h0m-258-16h0m66 35h0m50-184h0m17-40h0m-75 76h0m57-19h0m-45-193h0m-19 128h0m124 99h0m76 65h0m-26 160h0m-158-213h0m-133-210h0m158 285h0m-48-159h0m54 240h0m129-164h0m-248-57h0m29-230h0m92 554h0m112-110h0m-119-339h0m-238 28h0m218 19h0m156 311h0m-68-304h0m-110 55h0m-8-34h0m66 57h0m51-13h0m-140-42h0m206 174h0m-4-294h0m-123 316h0m166 10h0m23-241h0m-160-57h0m-146 205h0m184-23h0m-233 151h0m160-247h0m-12-5h0m-35 272h0m227-233h0m-239-86h0m117 164h0m71 49h0m-229-206h0m261 129h0m-248 60h0m228-68h0m-163-32h0m47 190h0m65-317h0m150 162h0m23 112h0m-218 149h0m-40-264h0m46-194h0m-43 224h0m-243 4h0m239 65h0m22-213h0m193 227h0m-181 151h0m172-298h0m51 121h0m-89-142h0m-105-163h0m-35 118h0m-34 86h0m0-12h0m158 176h0m-107 55h0m101-204h0m-57 35h0m-132-231h0m94 411h0m-101-393h0m-13 107h0m181 77h0m-205 124h0m284-233h0m-69 272h0m-226-180h0m250-53h0m17 164h0m-258-71h0m343-45h0m-355-51h0m72 75h0m-80 266h0m21-222h0m-89 39h0m130-41h0m130-93h0m10 114h0m2-150h0m20 6h0m47 50h0m-412 46h0m482-36h0m-501 200h0m293-134h0m72-102h0m-164-102h0m-96 75h0m282 55h0m-72-44h0m-76 100h0m-129 143h0m264-110h0m108-155h0m-123 25h0m58 170h0m-14-123h0m-253-125h0m163-95h0m-119 166h0m49 88h0m98-143h0m67 164h0m-10-20h0m-281-246h0m0 267h0m191-178h0m51 224h0m-175 141h0m148-163h0m47 20h0m-168-92h0m168-88h0m-128-118h0m-84 427h0m18-408h0m127 145h0m-12 69h0m-41-199h0m145 305h0m-110-95h0m-252 8h0m153-15h0m152-116h0m-168 171h0m237-22h0m90-60h0m-135 227h0m-198-150h0m80-143h0m-10-168h0m54 152h0m146 31h0m-44 224h0m-87-75h0m53-104h0m2-172h0m72 274h0m-115-3h0m-79-237h0m-23 107h0m-57-33h0m-53-13h0m418 81h0m-126 45h0m-2-149h0m60 77h0m-217-188h0m-49-38h0m184 481h0m-88-292h0m64-30h0m38 72h0m-89 67h0m116 191h0m-305-161h0m237 70h0m74-135h0m-76-61h0m-45-4h0m79 68h0m-105 26h0m44-21h0m-36-128h0m-144 2h0m131 228h0m-12-199h0m111 82h0m-255-100h0m131-87h0m-169 290h0m228 103h0m-195-111h0m131-151h0m262 129h0m-370 57h0m-1-284h0m305 27h0m-59 99h0m-2-71h0m-258 89h0m172-191h0m-157 216h0m141-190h0m51 412h0m158-330h0m-131 220h0m-94-185h0m80-55h0m75 315h0m-99-331h0m24-12h0m-110 172h0m-52-45h0m121 53h0m45 82h0m66-196h0m93 89h0m-70-170h0m-59 183h0m-130-308h0m243 292h0m-311-271h0m147 93h0m-163 81h0m85 239h0m78-123h0m-162-149h0m120-98h0m59 47h0m35 102h0m-10-63h0m-58-84h0m-23 412h0m-18-155h0m-19-148h0m26 114h0m-24 121h0m163-83h0m-85 136h0m-211-269h0m183-14h0m-62 29h0m92 74h0m-39 218h0m46-174h0m-127-264h0m159 389h0m151-174h0m-185 116h0m-15-28h0m35-44h0m-218-129h0m33 34h0m147 58h0m13-93h0m-90 38h0m57 85h0m214-96h0m-191 68h0m-35 314h0m-13-396h0m64 164h0m-181-225h0m93 30h0m-53 118h0m35-199h0m114 152h0m116 123h0m-177 156h0m-59-310h0m-196-50h0m384 21h0m25 277h0m-336-337h0m120 262h0m-21-83h0m-98-61h0m365 91h0m-114 147h0m136-290h0m-59 160h0m-278-41h0m141 58h0m-118-92h0m87-70h0m144 76h0m-120-37h0m157 27h0m-70-166h0m-69 94h0m121 159h0m-259 88h0m-207-233h0m434-33h0m-111 130h0m-34-222h0m-50 173h0m211 68h0m-105-129h0m-141 85h0m302 40h0m-448-85h0m131 79h0m182 105h0m28-307h0m-160 192h0m279 68h0m-128-6h0m16-194h0m-64 322h0m-46-228h0m235-52h0m-347 147h0m246-26h0m-12-78h0m-166-38h0m52 163h0m-75 152h0m108-144h0m-103-181h0m54 173h0m-29-139h0m-155 175h0m96-195h0m48-18h0m148 44h0m-107 212h0m91-425h0m-101 79h0m55 177h0m25-161h0m-126 98h0m-54-241h0m117 418h0m8-153h0m125 50h0m-285 56h0m100-38h0m172-104h0m-132 135h0m-16-220h0m27 56h0m74 367h0m-198-437h0m166 81h0m-216-42h0m169 108h0m43 27h0m-21-83h0m-32 54h0m-2-47h0m-112 55h0m199 111h0m-22-183h0m-258 164h0m270-202h0m-223 311h0m198-326h0m177 66h0m-416 116h0m360 160h0m-111-463h0m203 244h0m-242 35h0m202-13h0m-257-153h0m54 441h0m-89-1h0m-43-562h0m183 259h0m-62-79h0m232 140h0m-193-9h0m162-103h0m-48 141h0m-146-317h0m-82 107h0m120 207h0m23 135h0m10-307h0m-95 75h0m31 184h0m247-248h0m-215-144h0m-90 187h0m50-212h0m69 379h0m-19-329h0m45 86h0m91 19h0m-319 126h0m279 17h0m-65 24h0m-99-107h0m226-78h0m76 69h0m-143 141h0m-268-155h0m293-7h0m-55 60h0m-22 64h0m-92-201h0m97 108h0m-63 133h0m-205-23h0m352-219h0m-157 20h0m34 113h0m-61-97h0m19 275h0m215-104h0m-299-393h0m163 516h0m-272-139h0m210 28h0m116-168h0m88 47h0m-63 44h0m-135-58h0m25 309h0m-158-454h0m133-55h0m193 164h0m-97 8h0m12-26h0m13 87h0m-30-52h0m89 10h0m-94-87h0m56 68h0m-19-56h0m-69 12h0m94 195h0m-75-233h0m159 134h0m-41-80h0m-71-38h0m-39 40h0m-35-51h0m130 144h0m-50-50h0m-51 160h0m-76-341h0m149 248h0m-78-106h0m71 28h0m-142-92h0m-19 113h0m133 121h0m25-121h0m52 13h0m-36 40h0m-21-88h0m-129 4h0m225-57h0m-138 63h0m-65-92h0m176 158h0m-139-144h0m68 86h0m9 45h0m-38-50h0m-17-88h0m13 1h0m34 3h0m13 199h0m-66 37h0m136-140h0m-88-57h0m26 58h0m-10 29h0m-13 66h0m-33-224h0m58 95h0m-13-8h0m-42 68h0m56-52h0m-78 27h0m19-22h0m24-55h0m-55 271h0m45-224h0m106 36h0m-11 16h0m30 2h0m-46 1h0m-144-5h0m28-76h0m91 67h0m-43 6h0m28 149h0m-10-205h0m-9-76h0m-2 210h0m46-175h0m-44 68h0m4-31h0m-60 30h0m101-1h0m-126 38h0m167 2h0m-68-98h0m-50 33h0m89-28h0m-85 102h0m36-98h0m36-29h0m-69 72h0m113 24h0m-82 9h0m-6-46h0m-164-11h0m56 109h0m116-97h0m-35-70h0m8 127h0m-123-88h0m130 28h0m40 60h0m-60-76h0m9-55h0m130 66h0m-235-9h0m70 22h0m37 45h0m24-37h0m-26 14h0m137-32h0m-78 20h0m-91 48h0m48-24h0m30 50h0m-18 9h0m10-151h0m-147 34h0m69 82h0m41-21h0m74 49h0m-78 45h0m38-184h0m-28 106h0m-11-58h0m47 88h0m-53-91h0m26-19h0m-123 110h0m79-100h0m55-47h0m-34 196h0m104-29h0m-65-91h0m-61 3h0m-8-58h0m87 128h0m-98-3h0m152-67h0m-122 10h0m-21 42h0m72-95h0m24 73h0m-246-109h0m73 2h0m135 0h0m-61-9h0m62 134h0m68 21h0m-93-79h0m15-58h0m122 89h0m-204-26h0m22 281h0m-36-275h0m76-6h0m-110-31h0m202 153h0m-22-107h0m-85 17h0m29 25h0m-38-125h0m53 178h0m-78-165h0m74-61h0m-138 101h0m166-40h0m-14 123h0m45 37h0m-31-122h0m-33 67h0m-91-202h0m66 148h0m-123 75h0m124-8h0m-15-105h0m-17 83h0m33-18h0m-64-126h0m99 75h0m-25 70h0m29 70h0m-10-144h0m-85 93h0m136-45h0m-99-64h0m2 54h0m70-20h0m-58 55h0m153-34h0m-34 201h0m-215-262h0m149 13h0m-48 37h0m15 45h0m8-79h0m16 174h0m-89-30h0m-35-95h0m151 61h0m8 0h0m-41-59h0m-75 47h0m142 113h0m-16-169h0m-94 89h0m143-139h0m-188-82h0m-32 196h0m83-74h0m97 209h0m28-113h0m-124-207h0m26 78h0m-97-15h0m69-14h0m91 46h0m2-47h0m-95 56h0m-25 69h0m-18-28h0m43 83h0m56-73h0m-41-116h0m-3 62h0m56 44h0m71-9h0m-132-7h0m54-10h0m-43 38h0m21-163h0m-147 136h0m184 41h0m-29-40h0m-152 34h0m89-121h0m87 23h0m-162 86h0m93-139h0m41 252h0m23-150h0m-95-63h0m-17 13h0m168 47h0m-16 62h0m-69-83h0m68 50h0m-73-97h0m83 174h0m-254-216h0m220 59h0m-24-11h0m-139 102h0m32-68h0m62-56h0m8 10h0m65 130h0m-185-5h0m123-63h0m24-38h0m-25 88h0m97 6h0m-123 78h0m78-151h0m-87 177h0m-44-273h0m20 204h0m6-55h0m104-18h0m66 112h0m6-45h0m-93-7h0m-17 17h0m-201-97h0m220 43h0m-56 51h0m84-30h0m-41-25h0m-143-205h0m160 216h0m-13 29h0m72-65h0m-58-32h0m-6-9h0m-134-103h0m161 93h0m-29 115h0m-25 26h0m24-110h0m-12-62h0m19 93h0m-70-85h0m82 94h0m-29-45h0m33 126h0m40-14h0m-63-61h0m82 70h0m-158-118h0m-18-39h0m120 80h0m-34 7h0m-27-77h0m-82 129h0m160-6h0m-107-128h0m13 110h0m15-103h0m27 72h0m-31-85h0m10 51h0m127 85h0m-46 45h0m2-95h0m-215-82h0m175 86h0m-96-132h0m95 273h0m46-216h0m-117-10h0m-35 18h0m2-74h0m-7 76h0m134 107h0m-91-70h0m-130 66h0m124-28h0m42-110h0m-40 46h0m71 54h0m-12-39h0m-34 34h0m75-36h0m-66 28h0m41 76h0m-183-126h0m47 12h0m24 77h0m-17-53h0m36-3h0m76 19h0m-58-122h0m-28 56h0m-31 96h0m50-26h0m36-53h0m120 171h0m-116-173h0m33 89h0m-101-117h0m137-2h0m12 85h0m-7 27h0m-31 10h0m35-18h0m-118-95h0m-73 136h0m68-109h0m86 68h0m-87-108h0m26-26h0m-73 223h0m125-113h0m14-97h0m-45 47h0m7-9h0m61 19h0m-69 44h0m8 106h0m61-128h0m-66-41h0m67 101h0m-45-65h0m40-20h0m-57 49h0m-54-124h0m-86-2h0m107 177h0m-20-103h0m77-11h0m47-73h0m-63 230h0m-6-152h0m24 127h0m-17-11h0m-144-74h0m97-90h0m93 103h0m-176-32h0m158-13h0m-28-57h0m52 39h0m-51-40h0m-142-53h0m236 209h0m-73-80h0m-57 76h0m35-103h0m77 4h0m12 85h0m-144-167h0m36 111h0m-175-26h0m244 86h0m-34-83h0m-67 62h0m-28-85h0m43-8h0m167 104h0m-95-34h0m86-56h0m-95-15h0m-41 100h0m-4-2h0m111 25h0m-65 29h0m-38 27h0m132-83h0m-178 45h0m88 19h0m-10-58h0m-6-107h0m-138 79h0m175 68h0m52-80h0m-8-65h0m-165-45h0m69 110h0m84 49h0m-99 18h0m112-74h0m-141-30h0m93-3h0m-53 67h0m0-88h0m17 135h0m-6-117h0m-27 45h0m-6-102h0m33 45h0m32 58h0m-85-102h0m58 130h0m-82 19h0m113-1h0m-84 20h0m131 10h0m-115-113h0m32 63h0m23-29h0m64 104h0m-116-33h0m-20-54h0m-60-60h0m26 93h0m64 3h0m21 9h0m-27-75h0m1-1h0m86 10h0m-134 149h0m48-152h0m30 167h0m-69-138h0m56 24h0m38-80h0m11-12h0m-21 0h0m84 155h0m-156-97h0m61-50h0m-130-83h0m67 178h0m24-93h0m-1 29h0m70-14h0m-124 55h0m82-66h0m-102-13h0m185 32h0m-130-36h0m130 96h0m-84-11h0m-128 95h0m110-191h0m-5-15h0m31 151h0m-12-79h0m16 80h0m-26-58h0m8-93h0m-21 61h0m95 89h0m-51-69h0m-76-80h0m-121-26h0m125 52h0m10 169h0m24-93h0m-37-38h0m-41-67h0m14 105h0m-26-84h0m13 128h0m96-98h0m-15 65h0m-83-67h0m67 155h0m21-62h0m-70-108h0m51 72h0m70-33h0m-75-20h0m88 45h0m0-42h0m-140 135h0m52-200h0m69 31h0m65 206h0m-157-204h0m62-43h0m68 35h0m-108 1h0m-27 12h0m89 102h0m-55-70h0m-74-6h0m37-26h0m97 44h0m-123-115h0m-88 152h0m170 101h0m10-87h0m-69-90h0m125 3h0m-45-41h0m-107 49h0m42 11h0m-27 75h0m19-29h0m75 24h0m-29-74h0m-44-76h0m169 107h0m-166-88h0m0 95h0m33 23h0m18-27h0m-62 27h0m113-67h0m-151 103h0m80-111h0m-7 94h0m-46-72h0m51-8h0m65 51h0m14-50h0m-208-89h0m198 201h0m-1 23h0m-14-21h0m-84-172h0m56 73h0m-5 92h0m34-109h0m68 46h0m-149-42h0m-9-51h0m1 98h0m18-150h0m143 168h0m-220 57h0m28-248h0m141 179h0m43-50h0m-174 72h0m-59-211h0m40 95h0m81 11h0m4 90h0m94-28h0m-28 71h0m-48-84h0m56-13h0m-28 45h0m8 34h0m7-22h0m-100-142h0m-29 119h0m134-28h0m-56 5h0m-59-117h0m9 248h0m133-90h0m-193-124h0m119 43h0m-49 49h0m-54-30h0m109-48h0m-21 78h0m-30-99h0m-35-15h0m90 76h0m-4 121h0m28-49h0m-89-153h0m86 209h0m21-83h0m-63-42h0m-127-155h0m232 120h0m-42 4h0m-46 125h0m49 14h0m-24-27h0m-665-270h0m-180 262h0m149 275h0m89-159h0m-148-460h0m-113 226h0m333 365h0m-265-618h0m176 418h0m-28 156h0m-189-394h0m35-37h0m-418 194h0m342 137h0m407-100h0m-399-5h0m28 64h0m-10 43h0m-52-233h0m126 49h0m-142-34h0m398 151h0m-329 99h0m35 114h0m305-350h0m-429 75h0m355-300h0m-112 98h0m-285 207h0m235 206h0m-165-53h0m51-357h0m-43 134h0m64 361h0m109-198h0m-387-21h0m280 25h0m69-117h0m12 111h0m-108-25h0m-144-194h0m215-140h0m19 267h0m75 210h0m170-358h0m-195 149h0m155 58h0m-239 120h0m183-144h0m-187-217h0m75 272h0m-83-187h0m-6 102h0m158 206h0m-55-118h0m-125-99h0m84 251h0m153-209h0m12-223h0m-269 53h0m86 258h0m27-38h0m-16-410h0m102-57h0m-88 394h0m190-17h0m-156-344h0m-162 379h0m69-15h0m258-300h0" stroke="#000" stroke-width="9.5" stroke-linecap="round" fill="none" stroke-opacity="0.5"/><path transform="scale(.1)" d="M2538 2666h0m-124-250h0m130 126h0m69 592h0m-178-385h0m-21-361h0m204 321h0m-15-203h0m-47 190h0m12 47h0m-156-185h0m105 431h0m-96-538h0m151-119h0m-102 347h0m-47 117h0m177 188h0m-198-485h0m230 520h0m-118-334h0m124 290h0m-203-566h0m122 192h0m-14 289h0m-15 9h0m-97-36h0m93-41h0m11-416h0m7 37h0m-96 156h0" stroke="#000" stroke-width="9" stroke-linecap="round" fill="none" stroke-opacity="0.5"/><path transform="scale(.1)" d="M2296 2697h0m3 101h0m18-87h0m-42-25h0m52 118h0m-5-102h0m-43 8h0m46 8h0m-1-44h0m13 80h0m-26-34h0m15 21h0m-38 55h0m28-32h0m-11-35h0m-18 16h0m17-38h0m-33 23h0m59-40h0m-10 45h0m-20-16h0m-5 8h0m7 3h0m7-42h0m4 18h0m-6 39h0m-33 39h0m36-93h0m-19 3h0m-26 37h0m59-34h0m-29 17h0m-13-12h0m54 12h0m-18 25h0m-7-10h0m-6-13h0m3 5h0m10-9h0m-56-86h0m24 140h0m11 38h0m-11-65h0m-1 33h0m10-83h0m40 36h0m-52 12h0m39 13h0m-38 17h0m7-44h0" stroke="#bdbdbd" stroke-width="10" stroke-linecap="round" fill="none" stroke-opacity="0.9"/><path transform="scale(.1)" d="M2332 2735h0m-28-62h0m15 41h0m-81-27h0m48 27h0m19 0h0m-2 8h0m-27-17h0m46 39h0m-30-4h0m8-1h0m23-14h0m-2 9h0m-24-65h0m-39 69h0m60-17h0m-9 29h0m-43-109h0m49 57h0m-15 19h0m35 45h0m-47-41h0m41-61h0m-46 67h0m-30-30h0m52 45h0m2-10h0m-13-16h0m26-15h0m7-16h0m-17 117h0m-24-30h0m26-29h0m-16 26h0m0-88h0m18 39h0m10 34h0m-8-11h0m10-48h0m1-6h0m-18 18h0m21-27h0m-23 73h0m37-29h0m-72-50h0m-27 23h0m46 32h0m11 7h0m-65-7h0m68 17h0" stroke="#2a2ab4" stroke-width="11" stroke-linecap="round" fill="none" stroke-opacity="0.85"/><path transform="scale(.1)" d="M2252 2683h0m-3-21h0m-5 123h0m1-66h0m1 56h0m-8-45h0m3-74h0m-8 70h0m-4 13h0m4-133h0m16 105h0m-11-1h0m12 10h0m29-60h0m-20 75h0m-40-33h0m32 9h0m-7-51h0m-37 27h0m55 62h0m-5-76h0m-24 45h0m27-14h0m-7-42h0m-8 23h0m2-15h0m-4 41h0m18 1h0m9 3h0m-29 3h0m-12 45h0m32-41h0m-44-10h0m-1-16h0m64-17h0m-29 62h0m17-81h0m-20 104h0m-23-80h0m20 4h0m-14-20h0m17 94h0m22-28h0m-14-69h0m-20-13h0m-3 90h0m2-61h0m3 92h0m10-125h0m16 56h0m-35 14h0m11-24h0m8 29h0m20-87h0m-7 110h0m6-60h0m-24 13h0m15 20h0m-7-23h0m10-22h0" stroke="#ff2a2a" stroke-width="11" stroke-linecap="round" fill="none" stroke-opacity="0.75"/><path transform="scale(.1)" d="M2298 2640h0m35 73h0m-3-73h0m23 56h0m-38 8h0m5-6h0m-7-70h0m-11 73h0m52-2h0m-34 3h0m33 31h0m-48-83h0m11 47h0m-11 0h0m1-34h0m5 16h0m16 10h0m-46 10h0m52-48h0m6 1h0m-25 64h0m47-46h0m-18-10h0m-29 20h0m-18 51h0m35-12h0m-9 20h0m-6-54h0m24 57h0m-32-83h0m41 21h0m-12 12h0m0 67h0m-3-31h0m-36-18h0m38-26h0m2 26h0m-9-30h0m13-36h0m-52-19h0m52 79h0m-37-3h0m54 8h0m-49 9h0m20-37h0" stroke="#9b3cff" stroke-width="11" stroke-linecap="round" fill="none" stroke-opacity="0.75"/><path transform="scale(.1)" d="M3641 2676h0m29-41h0m-25 122h0m-26-105h0m28 53h0m-32-6h0m69 33h0m-32 24h0m-26-71h0m27-40h0m-28 60h0m-18 63h0m45 61h0m-19-53h0m10-32h0m-10-49h0m18-47h0m-41 56h0m21 28h0m2-10h0m21-38h0m0 10h0m-4 83h0m-11-1h0m-5-72h0m12 74h0m4 45h0m-38 7h0m23-89h0m-41-56h0m58 138h0m-2-82h0m-30 67h0m-12-103h0m51-44h0m-22 82h0m-14-28h0m10 38h0m36 33h0m-23-82h0m23 44h0m-34-93h0m31-33h0m-29 44h0m-1 104h0m20-6h0m-29-66h0m47-30h0m-42 39h0m-24 83h0m17-61h0m32-16h0m-23 12h0m31-27h0m-14 3h0m-37 2h0m19-57h0m-25 92h0m15-119h0m12 102h0m-9 124h0m1-121h0m-21-31h0m31-36h0m22 4h0m-16 64h0m6 74h0m2-34h0m-15-34h0m-9-18h0m25 38h0m-13-99h0m-18 119h0m2-25h0m-10-13h0m45 1h0m-12 1h0m14-11h0m-50 25h0m41-71h0m-22 3h0m7 24h0m-7 99h0m20-61h0m-36 25h0m27-29h0m-7-7h0m-18-118h0m20 70h0m39-6h0m-78-13h0m35 68h0m4 70h0m-5-20h0m9 39h0m6-85h0m-5-22h0m10-29h0m16 23h0m-53 38h0m17-62h0m18 33h0m27-41h0m-44 47h0m18-31h0m5-10h0m-10 37h0m-9 10h0m-11-2h0m5 24h0m-19-61h0m32 67h0m-7-63h0m-5 119h0m-2-140h0m-6 30h0m9-8h0m20-30h0m14 7h0m-32 31h0m-17 83h0m34-80h0m15 29h0m-22-103h0m-37 128h0m38-52h0m18 41h0m-7-76h0m-20 51h0m6 22h0m-8 8h0m-31 43h0m58-65h0m-34-8h0m-21-49h0m73 52h0m-49-31h0m1 69h0m15-102h0m12 66h0m-37-65h0m30 104h0m-52-177h0m62 165h0m-45-85h0m6 122h0m3-123h0m7 33h0m13-65h0m12 58h0m4-28h0m-6 52h0m-18 11h0m38-19h0m-25-23h0m-17 63h0m-1 45h0m-6-28h0m-3-30h0m-7 41h0" stroke="#a82e2e" stroke-width="11" stroke-linecap="round" fill="none" stroke-opacity="0.7"/><path transform="scale(.1)" d="M2316 2699h0m-11-13h0m-11 47h0m5 7h0m4-34h0m-16 28h0m29 12h0m-8-48h0m-6 60h0m11-75h0m-15 53h0m-1 0h0m-8-17h0m19-17h0m-7 45h0m5-11h0m-9 48h0m7-23h0m-17-55h0m18 12h0m-10 8h0m14-62h0m13 74h0m-6-67h0m-2 57h0m-10-11h0m7 45h0m-28-58h0m13 55h0m12-28h0m-11-6h0m-4 22h0m2-2h0m18 15h0m-8-75h0m-11 40h0m3 17h0m28-10h0m-32-2h0m42-1h0m-43-41h0m-5-16h0m22 128h0m-16-98h0m14 43h0m3-21h0m1-49h0m-27 59h0m28 6h0m-11-41h0m43 15h0m-19 87h0m-31-90h0m33-15h0m-44-14h0m24 64h0m14-41h0m-19 13h0m15-18h0m-10 47h0m3-83h0m-35 10h0m19 22h0m-21 21h0m18-54h0m3 66h0m-14-21h0m-3-26h0m21 44h0m-3-39h0m27 15h0m-10 7h0m12 7h0m-37-36h0m10-10h0m-28 55h0m20 34h0m-4-49h0m13-2h0m6 18h0" stroke="#0000ff" stroke-width="12" stroke-linecap="round" fill="none" stroke-opacity="0.9"/><path transform="scale(.1)" d="M2254 2729h0m41 40h0m-30-118h0m18 29h0m23 3h0m-19 38h0m6-37h0m-18-5h0m-10 32h0m23 24h0m-9-52h0m39 73h0m-7-27h0m-31-42h0m13-35h0m-1 50h0m-30-26h0m27 60h0m-12-98h0m26 63h0m-16 6h0m8-41h0m8 77h0m-20-31h0m-9-49h0m-4 47h0m5 11h0m13-16h0m10 57h0m-16-102h0m3 49h0m-8-20h0m19 5h0m-15 31h0m-2 1h0m6-12h0m-3-27h0m-2-5h0m9 1h0m-2 8h0m-39-21h0m17 43h0m26-16h0m-6 38h0m-6-56h0m23 25h0m-9-12h0m-37 25h0m46 5h0m-15-13h0m0 14h0m1-57h0m16 27h0m-22-27h0m-6 16h0m24 34h0m-14-48h0m15 75h0m-34-72h0m19 26h0m-8-32h0m-6 61h0m-2-7h0m3-14h0m14-4h0m5 10h0m13 16h0m-41-78h0m56 45h0m-30-6h0m29 30h0m-18-28h0m9-6h0m-21 23h0m-13 18h0m23-10h0m-8-44h0m-34 17h0m44 50h0m6-48h0m-25-20h0m12 88h0m-35-9h0m12-92h0m12 35h0m16 27h0m-7-49h0m-32 47h0m11 17h0m45-12h0m-29-69h0m2 76h0m-3-39h0m9 33h0m-14-23h0m-21-26h0m21-18h0m-1 68h0m1 60h0m13-76h0m-6-17h0m2 5h0m18 18h0m-7-21h0m-10 34h0m-17 15h0m24-57h0m-34 23h0m34-15h0m26-43h0m-46 24h0m38 57h0m1-24h0m-60-35h0m38 54h0m-31-90h0m19 70h0m11 23h0m-15-109h0m-2 74h0m7-6h0m-9 54h0m-7-65h0m28-47h0m-9 53h0m-9 58h0m11-58h0m10 25h0m14-41h0m-24 28h0m10 25h0m-14-20h0m-9 45h0m14-48h0m-4 18h0m5-22h0m-9 34h0m19-78h0m-4 50h0m-8 15h0m-2-36h0m24 60h0m-19 3h0m4-40h0m5-15h0m-29 4h0m4 22h0m-6 9h0m44-43h0m-34 29h0m-2-44h0m-11 70h0m56-24h0m-39-18h0m45 12h0m-34-7h0m-29 26h0m34-32h0m-2 25h0m-27-1h0m13-10h0m11-10h0m6 44h0m4-53h0m-15 39h0m-1-92h0m20 107h0m-24 35h0m20-16h0m21-24h0m-60-73h0m14 63h0m11 17h0m10-57h0m6 16h0m-26 27h0m0-18h0m21-9h0m-1-15h0m-15 8h0" stroke="#22e022" stroke-width="11" stroke-linecap="round" fill="none" stroke-opacity="0.9"/></g>
<rect x="216.9" y="211.4" width="157.0" height="142.8" fill="none" stroke="#c8c8c8" stroke-width="1.2"/>
<path d="M229.9 354.2v3M259.6 354.2v3M289.2 354.2v3M318.7 354.2v3M348.2 354.2v3M216.9 229.2h-3M216.9 249.8h-3M216.9 270.5h-3M216.9 291.1h-3M216.9 311.8h-3M216.9 332.4h-3M216.9 353.1h-3" stroke="#c8c8c8" stroke-width="0.9" fill="none"/>
<rect x="216.9" y="311.5" width="27.0" height="42.7" fill="#fff" stroke="#c8c8c8" stroke-width="1.1"/><g font-size="3.15" fill="#333" filter="url(#gs)"><text x="222.3" y="320.6">AA_WES_20k</text><text x="222.3" y="324.4">GBR</text><text x="222.3" y="328.3">FIN</text><text x="222.3" y="332.1">IBS</text><text x="222.3" y="336.0">CEU</text><text x="222.3" y="339.8">YRI</text><text x="222.3" y="343.6">CHB</text><text x="222.3" y="347.5">JPT</text><text x="222.3" y="351.3">TSI</text></g><circle cx="219.6" cy="319.5" r="0.55" fill="#000" fill-opacity="1"/><circle cx="219.6" cy="323.3" r="0.6" fill="#3030c0" fill-opacity="0.7"/><circle cx="219.6" cy="327.2" r="0.6" fill="#ff7070" fill-opacity="0.7"/><circle cx="219.6" cy="331.0" r="0.6" fill="#c070ff" fill-opacity="0.7"/><circle cx="219.6" cy="334.9" r="0.6" fill="#999" fill-opacity="0.7"/><circle cx="219.6" cy="338.7" r="0.6" fill="#c06060" fill-opacity="0.7"/><circle cx="219.6" cy="342.5" r="0.6" fill="#f0a860" fill-opacity="0.7"/><circle cx="219.6" cy="346.4" r="0.7" fill="#0000ff" fill-opacity="1"/><circle cx="219.6" cy="350.2" r="0.6" fill="#30e030" fill-opacity="0.7"/>
<g><path transform="scale(.1)" d="M4548 2582h0m-31 44h0m78-82h0m-52 144h0m-37 38h0m-4-47h0m66-115h0m-20 75h0m77 92h0m-23-83h0m-34-118h0m-46-34h0m36 111h0m34-14h0m10 59h0m-30-158h0m36 49h0m33 16h0m-158-108h0m102 61h0m48 114h0m-8-60h0m-36-48h0m-46-138h0m72 339h0m9-119h0m-121 10h0m75 157h0m57-199h0m-39 1h0m-7-34h0m-9 63h0m-26-207h0m-8 257h0m-1-59h0m85-21h0m-110-16h0m19 19h0m86 130h0m-17-188h0m4 187h0m-37-22h0m-27-132h0m55-31h0m-33 184h0m-77-244h0m84 17h0m-18 265h0m12-12h0m13-38h0m-31 75h0m12-295h0m0 148h0m29 24h0m18 44h0m-38-191h0m61 73h0m2-66h0m-66-184h0m40 334h0m-14-9h0m7-38h0m6-26h0m-36-19h0m41-31h0m-59 140h0m45 54h0m-45 9h0m17-139h0m10-54h0m31 56h0m-11 133h0m11-213h0m-61-25h0m12 176h0m22 89h0m-67-279h0m61-30h0m73 296h0m-75-31h0m99-6h0m-72-64h0m-45-12h0m39-183h0m17 179h0m-56-26h0m-13 15h0m-25-175h0m31 27h0m17 224h0m-53-55h0m94 108h0m-56-221h0m29 256h0m16-242h0m-10 183h0m-41-171h0m19 55h0m-29-3h0m50 71h0m-5-257h0m19 285h0m-107-202h0m136-55h0m-28 170h0m-56 21h0m60-32h0m16-80h0m-18 8h0m-18 158h0m6 21h0m36 78h0m-64-283h0m-23 117h0m68-36h0m-55 3h0m-12-34h0m-8 30h0m13 115h0m27-277h0m-53 283h0m82-201h0m10-61h0m-62 221h0m34-143h0m8-165h0m-3 91h0m-71 121h0m50 20h0m50-35h0m-103 51h0m11-11h0m-1-36h0m99 132h0m-16 78h0m-32-170h0m-4 114h0m-1-174h0m8 219h0m51-135h0m-49-3h0m25 116h0m-18-204h0m-45 79h0m20-79h0m-13-15h0m-8 118h0m14-104h0m81 83h0m-71 83h0m-22-116h0m51 268h0m-38-218h0m35-96h0m-43 22h0m13 133h0m33-53h0m-28-231h0m-45 143h0m-4-15h0m0-46h0m-4 143h0m13 46h0m46-183h0m20-15h0m36 97h0m-75 161h0m52-197h0m-55 94h0m64-92h0m-48 62h0m-9-134h0m3 113h0m10 49h0m-35-92h0m62 81h0m29 100h0m-150-188h0m77 81h0m4-37h0m58 70h0m-94-57h0m23-35h0m2 137h0m46-235h0m-21 202h0m-47-114h0m16 103h0m-7-69h0m60 142h0m-61-241h0m30 219h0m60 90h0m-50-296h0m27 38h0m-24 96h0m-34-151h0m59 46h0m-77 197h0m91-213h0m11 148h0m-81 33h0m75 6h0m-50-54h0m-43-102h0m62 120h0m-17-153h0m16 19h0m-33 77h0m23-195h0m-7 168h0m32 224h0m-78-139h0m42-183h0m-53 259h0m95-57h0m3-49h0m-8-130h0m-57 181h0m-41-144h0m94 47h0m0 12h0m-40 76h0m-13-166h0m-15 131h0m25 2h0m41-99h0m37 92h0m-2 50h0m-96-151h0m38 86h0m12-69h0m-65 244h0m60-206h0m28 198h0m-13-103h0m-8-24h0m-40 67h0m9-137h0m-35-81h0m23 2h0m37-111h0m-22 258h0m-62-2h0m108-131h0m7 120h0m-12 108h0m-16-70h0m-45-287h0m79 218h0m0-67h0m-59 26h0m32 51h0m-22-64h0m-37 103h0m66-35h0m-42 166h0m10-107h0m-7-80h0m20 23h0m-7 57h0m-39-109h0m28 80h0m-34-74h0m-14-245h0m81 219h0m-47 213h0m-12-182h0m99 133h0m-109-133h0m14 221h0m1-274h0m2 158h0m49-150h0m-44-112h0m90 91h0m-105 104h0m29 82h0m7-114h0m-28 4h0m43 148h0m-8-183h0m16-83h0m-85-67h0m34 235h0m5 47h0m56-208h0m-52 97h0m1 53h0m1 23h0m20-159h0m44 150h0m33-112h0m-92 122h0m42-106h0m-36 244h0m-3-439h0m69 207h0m-30 152h0m-7-225h0m17 11h0m-36 63h0m2 40h0m-20 44h0m-17-191h0m-49 58h0m86 55h0m-41 73h0m53 85h0m4-336h0m-62 84h0m-8 68h0m10-160h0m60 153h0m-3 181h0m-95-66h0m79-179h0m35 5h0m-27 53h0m9 153h0m-52-163h0m53 14h0m9 127h0m-84-61h0m41 55h0m21-208h0m-8 249h0m2-115h0m-15-82h0m20 39h0m43 74h0m-44 89h0m15-238h0m-22 56h0m-75-32h0m101 79h0m4 112h0m-55-156h0m65 269h0m-38-148h0m19 9h0m16-63h0m-53-44h0m30-80h0m-11-3h0m29 128h0m-44-4h0m-1 35h0m6 109h0m24-100h0m-20-210h0m-33 142h0m25 138h0m63-261h0m-44 37h0m-41 144h0m71-30h0m-63-6h0m42-153h0m17 260h0m32-13h0m-40-4h0m-2-170h0m52 150h0m-39-30h0m-27 164h0m-11-285h0m-50 103h0m-30-43h0m75-47h0m-10-57h0m72 70h0m-96 15h0m85-92h0m-9 194h0m-15-123h0m43 33h0m-105 40h0m2-17h0m75 189h0m42-103h0m-77 20h0m36 79h0m-62-262h0m-11 207h0m67-23h0m-43 150h0m37-296h0m-35 136h0m37-24h0m8 148h0m-5-186h0m7-55h0m1 111h0m-50-194h0m-9-40h0m53 182h0m14-206h0m-41 88h0m10 206h0m49-78h0m-41-20h0m-44-159h0m44 162h0m-14-39h0m4-17h0m-31 47h0m14 47h0m18-245h0m-69 62h0m-25 1h0m64 24h0m24 197h0m29-61h0m-43 89h0m53-171h0m-44-79h0m-64 172h0m81-114h0m4 98h0m-35 69h0m38-201h0m-90-97h0m65 171h0m-18-8h0m20 124h0m24-21h0m-6-9h0m-30 9h0m8-168h0m35 73h0m-19 43h0m-1 137h0m48-274h0m-32 10h0m13 66h0m-140-48h0m19 24h0m96 114h0m-40-184h0m65 213h0m28 81h0m-98-216h0m11 32h0m30 40h0m5-100h0m57-41h0m-27 315h0m-49-52h0m41 42h0m19 139h0m-29-249h0m-34 22h0m48-82h0m-30 143h0m-48-255h0m83 355h0m-10-105h0m-35-97h0m-71-9h0m52-68h0m71 59h0m-127-46h0m114 101h0m-47-168h0m-1 132h0m70 121h0m-11-133h0m-7-21h0m-100 14h0m17-14h0m-17-62h0m105 111h0m-10 3h0m-33-100h0m28 57h0m32 18h0m-65-110h0m-19 128h0m20-252h0m7 195h0m8-81h0m-32 180h0m-38-132h0m58 34h0m2 130h0m12-280h0m-10 221h0m21-25h0m-72 95h0m65-77h0m-3-23h0m-15-104h0m-33 155h0m-7-236h0m71 10h0m-51 237h0m36-255h0m-65 95h0m16 32h0m35-95h0m-45 225h0m60 48h0m-18 41h0m7-174h0m11-134h0m-42 49h0m12 149h0m-21-184h0m-32 84h0m62-23h0m0 45h0m62 89h0m-67-191h0m9 85h0m7 50h0m60 30h0m-45-65h0m59 105h0m-69-106h0m24 184h0m-14-314h0m-45 289h0m13-188h0m-3 104h0m33-113h0m-37-60h0m42 27h0m16 80h0m-33-34h0m-94-59h0m134 119h0m-117 159h0m43-164h0m69-20h0m-19-135h0m-11 22h0m-31 94h0m49 97h0m-57-197h0m-49-19h0m-9 275h0m92-330h0m-48 77h0m69 169h0m46 7h0m-33-4h0m-63 42h0m-56 17h0m71-180h0m24-4h0m-21 18h0m54 60h0m-2 26h0m-58-152h0m55 30h0m-79 186h0m38-177h0m-54 135h0m46-1h0m-33-109h0m84 39h0m-51 42h0m-11 48h0m14 14h0m5-198h0m-13 27h0m-27 22h0m-22-101h0m75 304h0m-30-250h0m-46 44h0m102 260h0m-40-299h0m32-25h0m-64 58h0m28 97h0m-12 29h0m-37-90h0m28-142h0m-19 227h0m93-32h0m-95-86h0m-11-33h0m-26-81h0m84 121h0m17-23h0m21 41h0m-39 97h0m35 48h0m-32-39h0m-64-56h0m65-67h0m-52 269h0m56-289h0m-30 90h0m45 187h0m-13-359h0m-36 273h0m36-111h0m5 20h0m-40-226h0m30 140h0m22 338h0m10-274h0m-24 187h0m25-250h0m-68 73h0m90-94h0m-98 113h0m73-28h0m-40 9h0m35 77h0m-20-255h0m-48-13h0m54 337h0m-20-192h0m76-34h0m-89 177h0m87 75h0m-32-102h0m-81-40h0m61-25h0m-44-83h0m37-77h0m-27 146h0m37-104h0m-15-9h0m-55 94h0m55 233h0m-40-242h0m0-61h0m43 62h0m-13 34h0m-58-61h0m44-78h0m0 232h0m19-62h0m-23-92h0m-33 137h0m25-183h0m28-14h0m-60 56h0m-12 73h0m36 68h0m-2-112h0m50 84h0m-7 3h0m-44 46h0m-41-180h0m62 162h0m-32-314h0m70 178h0m-49 47h0m38 7h0m-90 48h0m64-253h0m40 202h0m-20 79h0m-47-93h0m59 107h0m4-7h0m-15-169h0m-29-39h0m32 123h0m-18-96h0m-33 107h0m101 196h0m-37-84h0m-11-135h0m-17-28h0m62-16h0m-74-38h0m-5 97h0m64 9h0m7 292h0m-79-298h0m-65-185h0m78 337h0m-13-242h0m30 197h0m-13-57h0m36-48h0m-48-82h0m2-24h0m29 100h0m-6-142h0m48 156h0m-27-108h0m5 60h0m-56-9h0m-23 99h0m87-2h0m39 20h0m-96-29h0m27-70h0m-26 39h0m36 73h0m-44-67h0m-6 67h0m12-319h0m43 185h0m15 70h0m-43-60h0m-10-14h0m23 85h0m-13 83h0m49-141h0m-20 9h0m5 34h0m-17-120h0m-21 26h0m62 87h0m-52-57h0m-10-168h0m14 371h0m37-136h0m-89 27h0m13-57h0m47-24h0m21-57h0m-33-43h0m-10 215h0m-19-97h0m-18 72h0m25-111h0m5 92h0m-39 40h0m25-5h0m21-17h0m7-122h0m-18 139h0m18-42h0m-3-120h0m1 102h0m-92-244h0m123 193h0m-14-17h0m-1-103h0m-6 174h0m15-95h0m-14 11h0m-36-31h0m87-16h0m-32 66h0m12 84h0m-14-101h0m-36 14h0m11-111h0m27 252h0m4-147h0m-24 32h0m-32-189h0m-21 61h0m67 20h0m8 150h0m-83-79h0m46-187h0m12 219h0m33-30h0m-64 102h0m-4-88h0m-41 7h0m94 159h0m2-295h0m-19 136h0m46 31h0m-66 203h0m5-261h0m7-5h0m-8 23h0m47-56h0m-62 38h0m-29-37h0m65 287h0m-34-255h0m14 61h0m8-132h0m-25 264h0m60-117h0m-48 16h0m57-96h0m-46 165h0m-82-114h0m63-36h0m-5 90h0m41 55h0m-8-133h0m-30 137h0m28 11h0m51-256h0m-74 189h0m16-109h0m54 161h0m-109-119h0m41-6h0m5 18h0m69 29h0m-21 60h0m-49-75h0m-15-9h0m14-26h0m-2 75h0m-61-137h0m136 39h0m-46 133h0m-38-94h0m31 85h0m8-119h0m-54 116h0m59-4h0m-39-63h0m47 2h0m7-3h0m-55 9h0m37 21h0m-52 129h0m76-162h0m-45 159h0m7-195h0m-74 132h0m23-172h0m43 39h0m-32 15h0m-39-78h0m-15 194h0m144 43h0m-30-16h0m-84-262h0m87 165h0m41 24h0m-64-221h0m26 314h0m-18 25h0m-22 29h0m20-203h0m-33 71h0m30-63h0m30-104h0m11 101h0m-40-42h0m-72-32h0m120 133h0m-55-68h0m-57 48h0m79 29h0m-24-35h0m16 83h0m41-28h0m-31-62h0m-55-3h0m35 71h0m-22-105h0m7 31h0m-23-42h0m75 38h0m-58-93h0m43-66h0m-61-47h0m101 209h0m-81 21h0m-35-52h0m46 152h0m13-167h0m18 14h0m22 243h0m-32-174h0m13 11h0m-23 4h0m59-114h0m-23 43h0m-15 99h0m-19 5h0m23-68h0m-44-122h0m-38 53h0m8 118h0m21-15h0m39-164h0m-15 78h0m16 28h0m2-101h0m-18 202h0m30-115h0m-34 18h0m-35-263h0m90 304h0m-60 46h0m-62 10h0m20-137h0m28-73h0m70 167h0m-14-124h0m-78-77h0m75 99h0m-11 156h0m-19 10h0m-37-181h0m55-12h0m-80-129h0m32 81h0m13 78h0m40 96h0m9-83h0m-51-90h0m-12 89h0m85 185h0m-52-42h0m-56 31h0m70-220h0m13-25h0m-62 22h0m4 143h0m19-147h0m13 150h0m-26 57h0m-32-188h0m77 81h0m-16 191h0m-38-123h0m10-90h0m41-1h0m-37-41h0m-10 8h0m77-123h0m-37 134h0m-18-21h0m66 129h0m-30-52h0m-33 6h0m-68 165h0m107-74h0m-51-146h0m5 35h0m-21 6h0m81-2h0m-30 97h0m-7-38h0m36-6h0m-64-169h0m46 15h0m-69 54h0m41-38h0m-33-71h0m96 357h0m-47-287h0m-50-101h0m-4 213h0m-36-50h0m117 154h0m-120-155h0m43-59h0m107 96h0m-59 78h0m-46-90h0m-5 16h0m31-55h0m87 142h0m-45-107h0m-69 1h0m60-6h0m-24 79h0m-2-29h0m8-4h0m-46-1h0m31-33h0m-91-129h0m60 60h0m-57 24h0m78-24h0m51 74h0m-43 5h0m42 17h0m-33-65h0m-57-1h0m26-243h0m-9 170h0m16-46h0m-19 39h0m-3 215h0m-14-280h0m99 263h0m-52-50h0m78-18h0m-73-63h0m46 146h0m0-124h0m-33-88h0m-27-110h0m29 150h0m-71 137h0m120-113h0m-68-130h0m45 99h0m-46 47h0m39-26h0m-1-90h0m-63 169h0m48 52h0m5-271h0m-74-13h0m56 335h0m-45-290h0m93 141h0m-98-208h0m44 47h0m35-138h0m26 241h0m-55 170h0m2-90h0m45-116h0m-129 24h0m87 23h0m71-6h0m-53 118h0m-36-134h0m-11-69h0m22 157h0m-4 147h0m9-466h0m3 324h0m-39 108h0m67-150h0m-25 47h0m-25 19h0m-11 36h0m31-22h0m24-74h0m-19 58h0m3-95h0m3-52h0m-16 117h0m18 58h0m-66-193h0m21 183h0m18-28h0m-7-138h0m-22 241h0m-4-246h0m62 126h0m-50-103h0m-25 110h0m57-15h0m22 59h0m-35-75h0m18 74h0m49 105h0m-64-485h0m-15 480h0m32-56h0m34-153h0m-27-18h0m22 101h0m-44 121h0m-1-157h0m48 25h0m-36-142h0m-18 214h0m-17-126h0m56-17h0m18 8h0m-54 38h0m-14-117h0m-33 100h0m22 16h0m77-32h0m-84 181h0m59 10h0m-16-205h0m-16 14h0m53 135h0m-61-180h0m33 42h0m14 24h0m29 76h0m-41-129h0m-34-9h0m-23-46h0m30 47h0m3-25h0m20 77h0m-27 148h0m3-274h0m79 239h0m-29-19h0m-59 18h0m75-190h0m1 239h0m-65 26h0m42-29h0m3-321h0m10 138h0m-63 103h0m54 81h0m-19-42h0m27-134h0m-2 190h0m-32-165h0m66 85h0m-147-94h0m56-115h0m24 111h0m-49-37h0m124 22h0m-95-17h0m-8 26h0m1 131h0m29-46h0m-48-68h0m21 105h0m-13-238h0m-8 141h0m-22 55h0m25 11h0m59-10h0m-20 17h0m28-3h0m-63-108h0m21 14h0m-14 32h0m61 8h0m-28-113h0m-3-20h0m26 132h0m-32-107h0m11-16h0m-11 12h0m52 57h0m-27-10h0m-35 78h0m27 37h0m-11-26h0m2 88h0m-4-230h0m-15 105h0m26 44h0m-43-49h0m44 120h0m-100-200h0m128 143h0m-22 19h0m20-91h0m-45 261h0m-14-222h0m-1-246h0m20 181h0m33 156h0m-37-210h0m36 175h0m-63-202h0m29 258h0m22-113h0m-24-52h0m-3 62h0m-33-43h0m14-59h0m-31 55h0m7 7h0m32 125h0m11 122h0m5-192h0m34-43h0m-55-85h0m65-29h0m-36 10h0m85 76h0m-161-63h0m64 74h0m37 166h0m-10-150h0m-39 96h0m33 7h0m24-224h0m-43 99h0m22-16h0m3-29h0m-29 147h0m32-199h0m16 224h0m-66-168h0m27-50h0m64 132h0m-95-143h0m11 38h0m58-7h0m-27-45h0m-17 78h0m-30-69h0m17 196h0m25-111h0m5-131h0m35 42h0m-34 109h0m14 17h0m-41 125h0m92 18h0m-97-245h0m40 125h0m-52-212h0m0-33h0m12 95h0m43 66h0m15 70h0m21 9h0m-80 79h0m49-25h0m-34-77h0m-1 101h0m-10 128h0m-3-112h0m19 1h0m77 2h0m-111-225h0m-16 13h0m101-38h0m-72 64h0m33 176h0m-13-214h0m62 63h0m-54-13h0m-81 69h0m15-59h0m85 191h0m-54-216h0m53 141h0m-17-127h0m-19 25h0m11-21h0m8 109h0m-38-98h0m74 35h0m-45 24h0m-2-46h0m31-53h0m-50-26h0m9 89h0m-8 53h0m101 141h0m-37-89h0m-27-103h0m-19-3h0m35-57h0m-47 93h0m-29 66h0m17-143h0m-14 4h0m-13 201h0m55-72h0m15 27h0m47-58h0m-75-158h0m31 110h0m-34 257h0m11-206h0m19 12h0m16-85h0m-102 165h0m83-85h0m-46 107h0m-1-218h0m48 54h0m9 190h0m-85-348h0m73 290h0m-32-16h0m-5-100h0m-8-126h0m-23 196h0m54 30h0m-11-163h0m-40-17h0m70 0h0m-118-183h0m-65 179h0m49 84h0m180 58h0m-76-73h0m-89 246h0m79-38h0m-104-183h0m51 364h0m10-426h0m59-320h0m-103 253h0m191 552h0m-121-313h0m-58-130h0m88 25h0m-68-32h0m19 283h0m18-242h0m21 197h0m-154-84h0m160 213h0m-99-40h0m28-76h0m41-49h0m48-70h0m-140 224h0m112-13h0m-44-165h0m-39-86h0m113 36h0m-66 96h0m110-155h0m-70-84h0m16 173h0m-65 96h0m111 3h0m-110-551h0m127 301h0m-21 35h0m-153 299h0m166-188h0m-82 261h0m58-386h0m-7 384h0m-54-459h0m-65-237h0m-92 405h0m179 338h0m-77-390h0m38 68h0m70 34h0m54 53h0m-223-394h0m-65 255h0m262 92h0m-36-226h0m-134-129h0m88 160h0m62-20h0m23-53h0m-131 210h0m7-100h0m-47 206h0m78 206h0m-14-25h0m10-245h0m5 196h0m54-486h0m-54 261h0m62-117h0m-166 199h0m117 207h0m38-210h0m34-32h0m-4 317h0m-202-738h0m95 572h0m-27-321h0m7 27h0m-9 297h0m27-376h0m-44 222h0m7-74h0m62-87h0m-17-81h0m121 244h0m-143-269h0m117 422h0m-110-298h0m-56-294h0m36 224h0m179 103h0m-106 187h0m20-226h0m-87 154h0m-170 196h0m184-124h0m75 141h0m-50-325h0m50 23h0m-33 201h0m-18-210h0m45 207h0m-21-313h0m-131 170h0m63-73h0m82 38h0m19 103h0m-143 540h0m24-559h0m79 475h0m-75-746h0m54 187h0m71 236h0m-69-198h0m-17 144h0m91 17h0m-20-175h0m26 61h0m-85-126h0m78-29h0m-147 33h0m134 611h0m29-541h0m-12 231h0m-28-19h0m-47-385h0m39 345h0m-82-35h0m173-218h0m-27 231h0m5-112h0m-151-74h0m91-12h0m84 442h0m-212-355h0m59-44h0m73-46h0m-33-49h0m-54 28h0m155-4h0m-94 390h0m-110-284h0m111-90h0m-34-139h0m113 206h0m-117 159h0m57 443h0m-22-613h0m104 15h0m-63-97h0m-50 220h0m-8-58h0m39-113h0m-116 21h0m82-173h0m-98 106h0m141 155h0m-71 44h0m89-34h0m-52-128h0m58-381h0m-203 430h0m109 142h0m-38-285h0m60-244h0m48 506h0m-180-18h0m9-225h0m242 37h0m-159 473h0m-21-437h0m9-123h0m122 307h0m-57-146h0m-55-49h0m116 155h0m-17-426h0m-104 251h0m124-26h0m-235 120h0m167 31h0m18-216h0m-67 167h0m47-31h0m52 237h0m-107-352h0m118 347h0m-164-34h0m1-204h0m131-51h0m38-40h0m-93 128h0m-13 3h0m-163 73h0m263 66h0m-67-201h0m2 344h0m23-203h0m17 46h0m5-90h0m-11-73h0m80 4h0m-191-168h0m18 121h0m-21-59h0m94-134h0m-38 220h0m38 199h0m-30-41h0m109 70h0m-211-577h0m189 371h0m26 308h0m-24-315h0m-41-253h0m9 338h0m-44 246h0m33-303h0m36-93h0m-37 114h0m60-71h0m-101-456h0m30 390h0m-9-43h0m36 368h0m26-137h0m-134-130h0m57-94h0m-76 351h0m133-6h0m-213-490h0m139 170h0m-43-94h0m-53 22h0m46-197h0m18 94h0m70 388h0m-37 90h0m113-199h0m-82-163h0m-84-165h0m157 263h0m-141 4h0m109-229h0m-45 282h0m-17 161h0m-89-247h0m53-282h0m22 126h0m-42 66h0m74 471h0m-142-383h0m175 251h0m1 23h0m11-51h0m-153-266h0m118 306h0m-75-71h0m-55 19h0m141-27h0m-61-450h0m-23 338h0m-24-117h0m84 138h0m-14 242h0m-16-329h0m97 311h0m3 169h0m-34-784h0m-32 920h0m27-611h0m-95-415h0m186 631h0m-153-53h0m53-93h0m-24-81h0m-12 70h0m-8-110h0m33 143h0m-97 125h0m162-125h0m36-85h0m-79 46h0m-204 49h0m115 102h0m91 21h0m57 160h0m-90-153h0m4-119h0m-107 156h0m82-152h0m4-185h0m-25 107h0m42 58h0m-112-115h0m144-47h0m-55 84h0m-76-9h0m120 282h0m12 172h0m-51-446h0m-68 60h0m61-23h0m-96 245h0m88-115h0m123-307h0m-84 120h0m26-194h0m-109 461h0m81-75h0m-87 12h0m66-169h0m46 152h0m-64-82h0m-86-317h0m48 61h0m102 210h0m-153-184h0m72 391h0m127-364h0m-25 628h0m33-417h0m-117 188h0m-63-297h0m130 71h0m-3-321h0m-15 340h0m-49-37h0m76-167h0m-125-144h0m187 629h0m-162-418h0m17-24h0m17 366h0m17-569h0m-75 711h0m2-876h0m20 267h0m-23-175h0m102 386h0m12-291h0m7 552h0m-43-103h0m-43-179h0m76 341h0m33-49h0m-136-127h0m-31-464h0m115 317h0m-176 60h0m224 63h0m-187-109h0m131 158h0m49-173h0m-33 180h0m-86 116h0m183-158h0m-136 15h0m111-61h0m1-60h0m-34-17h0m29 101h0m-60 86h0m-22 34h0m1-516h0m40 312h0m29 179h0m-163 220h0m92-109h0m-54-487h0m84 131h0m53-8h0m-86 238h0m91-245h0m-107 98h0m42-265h0m-62 524h0m13-276h0m16-48h0m108 24h0m-108-170h0m53 288h0m-35-113h0m43 424h0m-176-631h0m2-71h0m141 350h0m17 60h0m-66-5h0m-63 247h0m106-116h0m-80-184h0m128-18h0m-179-81h0m86-62h0m-58 214h0m126-21h0m-71 135h0m43-325h0m-15 41h0m-9-22h0m-73 237h0m119-108h0m33-149h0m-43 140h0m-14 28h0m1-312h0m-66 419h0m94 302h0m-82-357h0m77-155h0m7 370h0m-130-242h0m146-71h0m-10 131h0m-25-27h0m-76-400h0m137 248h0m10 498h0m-23-589h0m-108 385h0m-112-419h0m177 181h0m-109-262h0m74 176h0m-23 490h0m45-421h0m-22 205h0m-53-184h0m20-79h0m88 152h0m11-6h0m-117 12h0m151-123h0m-43-157h0m-20 265h0m-39-159h0m-99-2h0m102 199h0m43 59h0m5 4h0m-7-367h0m-39 109h0m93 386h0m-44-444h0m-160 254h0m108-213h0m48-195h0m-51 398h0m-2-241h0m-57-291h0m72 211h0m-158 560h0m267-174h0m-189-300h0m69-108h0m85 555h0m-121-277h0m-9-77h0m-14 103h0m-18-19h0m167-9h0m-105-56h0m74 144h0m-38-316h0m65 76h0m-157 538h0m146-689h0m-115-259h0m63 527h0m-86-122h0m103 139h0m64 50h0m-97-123h0m-73 171h0m94 176h0m-81-475h0m46 260h0m-31-553h0m-106 425h0m85-88h0m174 471h0m-165-680h0m8 161h0m31 113h0m5 190h0m58-180h0m3 256h0m-6-342h0m-88 98h0m30-17h0m21 218h0m111-119h0m-229-273h0m126 420h0m6-101h0m-43-129h0m-18 159h0m56-214h0m41 13h0m-24-153h0m-54 76h0m89 267h0m-39-27h0m-140 6h0m88 117h0m126-303h0m-111 223h0m86-164h0m-198-12h0m150 215h0m40 144h0m-195-542h0m79 127h0m91 244h0m28 146h0m-14-381h0m-86 309h0m23-75h0m-55-51h0m51-81h0m14 65h0m-19-298h0m-17 213h0m-18 292h0m99-185h0m-56-32h0m6-159h0m51 16h0m9 134h0m-8 184h0m-16-159h0m19 50h0m-14-260h0m-54 123h0m27-6h0m-18-56h0m19 232h0m42-304h0m-128 148h0m59-20h0m-15 60h0m75-91h0m-45 318h0m118-377h0m-97 297h0m7-205h0m51 350h0m-51-546h0m46 191h0m-271-286h0m101 274h0m-70 131h0m255-210h0m-110 244h0m86-139h0m-83 24h0m-18 45h0m79-37h0m-83 37h0m124 182h0m-64-196h0m19-190h0m15 287h0m-46-164h0m48-97h0m-71-101h0m42 155h0m20 241h0m-78-262h0m-71-147h0m2 377h0m61-297h0m-3 310h0m9-327h0m125 644h0m-136-694h0m106 333h0m-113-614h0m116 577h0m40 85h0m-86-302h0m1 389h0m46-92h0m-85 119h0m-60-229h0m133 5h0m-61-291h0m27 224h0m54 292h0m-154-359h0m-29-103h0m-5 100h0m147 60h0m42 318h0m-59-269h0m28-218h0m-27 304h0m73 61h0m-32-253h0m56 220h0m-194-414h0m150 450h0m-53-170h0m-86 95h0m99-112h0m18 352h0m-136-433h0m209 62h0m-154-71h0m-45-18h0m51 333h0m-59-256h0m118-178h0m-179-34h0m7 443h0m219-186h0m-23-51h0m-71-73h0m-19 97h0m-33-20h0m-9 67h0m181 40h0m-281-436h0m181 374h0m60-97h0m25 384h0m-74-576h0m-38 76h0m95 300h0m-21-218h0m-16 297h0m-5-224h0m20 253h0m-132-35h0m115-220h0m30 180h0m-72-96h0m-64 77h0m115-352h0m-56 359h0m-142-262h0m196 353h0m-94-389h0m171 226h0m-113-359h0m-5 277h0m102 129h0m-20-24h0m-118-22h0m56 108h0m7-93h0m55-157h0m-22 79h0m-3 176h0m-36-115h0m-150 118h0m195-119h0m-48-439h0m-102 647h0m125-237h0m-18-16h0m56-39h0m-112 160h0m-6 178h0m-47-142h0m78-71h0m57 279h0m1-223h0m-64-211h0m-30 52h0m-32-74h0m93 42h0m-71 522h0m58-468h0m24 356h0m18-366h0m-126-25h0m-44-45h0m161 53h0m1 35h0m-71 259h0m86-168h0m-42-16h0m74 375h0m-33-451h0m-189 156h0m85-172h0m66 193h0m-82-182h0m17 141h0m178 194h0m-130-281h0m-50-236h0m55 179h0m30 115h0m-40-355h0m117 62h0m-77 579h0m-19-720h0m-62 206h0m7 394h0m110-248h0m47-256h0m-51 331h0m-2 318h0m-81-464h0m-166-6h0m224 305h0m-123-194h0m73 20h0m-34-189h0m-53 199h0m24 363h0m-1-241h0m-58 26h0m43-376h0m98 19h0m78 86h0m-103-363h0m56 468h0m-95-295h0m57 353h0m-104-203h0m26 172h0m9 23h0m-22-459h0m73 350h0m-48 45h0m155-166h0m-140 158h0m-68-99h0m177 172h0m-101 18h0m122-238h0m-13 246h0m-179-7h0m30-129h0m114 13h0m-30 99h0m-110-2h0m155-450h0m53 465h0m-163-47h0m101-32h0m-124-67h0m62 98h0m-68-22h0m91 15h0m-129-326h0m25 321h0m165-509h0m6 536h0m-189-129h0m116-220h0m21 486h0m5 80h0m-101-384h0m138-60h0m-49 418h0m2-394h0m-6 297h0m24-397h0m52 555h0m-69-58h0m-88-580h0m140 243h0m4 123h0m-117-248h0m77 4h0m3 133h0m-1-119h0m-90 161h0m29 308h0m5-320h0m93 23h0m-16-82h0m-62 239h0m8-120h0m119 260h0m-142-444h0m100 287h0m-99-119h0m121-119h0m-152 359h0m67-385h0m-66 80h0m99 237h0m25-193h0m-141 127h0m95 33h0m-72-136h0m76-400h0m-8 261h0m-169-39h0m195 241h0m-27 204h0m8-562h0m-72 313h0m36 102h0m-16-155h0m95-207h0m-104 353h0m82 76h0m6-169h0m-192 96h0m111-135h0m26 77h0m78-515h0m-174 64h0m106 526h0m-33-268h0m-12 359h0m56-139h0m-134 207h0m196-286h0m-69 21h0m-5-38h0m-42 93h0m52-17h0m-73-32h0m-15-129h0m3 379h0m-52-566h0m183 175h0m-120 169h0m29-296h0m104 76h0m-44 41h0m3 176h0m62-205h0m-115-347h0m14 618h0m26-380h0m-8 184h0m12-332h0m47 460h0m2-344h0m-98 138h0m-36 108h0m115 371h0m-38-449h0m77 217h0m-108-115h0m-66-156h0m125-13h0m-6-125h0m-130-142h0m70 443h0m-46-139h0m47-119h0m55 402h0m-100 226h0m-3-511h0m46 299h0m3-95h0m9-79h0m57 5h0m-17-130h0m17 21h0m-2-26h0m0 291h0m-44 279h0m115-398h0m-161-22h0m67-218h0m-4 273h0m-36-282h0m74 197h0m-41 130h0m-43-590h0m56 464h0m-73-139h0m164 241h0m-59-11h0m-99-147h0m99-399h0m56 815h0m-138-721h0m87 293h0m9 231h0m-12 107h0m-29-598h0m52 603h0m-166-49h0m93-366h0m108 81h0m-144-255h0m-14 557h0m95-297h0m-60-135h0m-19 95h0m72-95h0m-8 80h0m-36 274h0m-12-286h0m-119 19h0m88 12h0m4 350h0m138 224h0m-54-212h0m-102-570h0m-4 341h0m-11-279h0m34 233h0m-56-171h0m93 290h0m-105-147h0m132-47h0m-45 181h0m15-40h0m-44 78h0m135-432h0m-136 60h0m57 114h0m-51 61h0m31 147h0m66 147h0m-166-497h0m134 362h0m66-293h0m-240 459h0m159 313h0m-15-630h0m-18 182h0m41 7h0m62-167h0m-63-3h0m-28 138h0m-14-41h0m67-106h0m-127 98h0m94-180h0m-27 78h0m16 413h0m26 145h0m-5-517h0m3-127h0m19 34h0m42 51h0m-58-191h0m-34 256h0m18-258h0m87 359h0m29-58h0m-165 130h0m63-109h0m23-92h0m42-18h0m-86 214h0m79-152h0m-106 61h0m75-308h0m-103 428h0m101-74h0m-9-293h0m43 82h0m-179 5h0m132 144h0m-42 242h0m-19-684h0m75 508h0m-98-231h0m-5 213h0m93-182h0m-26-42h0m-50 126h0m-8 230h0m38-427h0m-38 228h0m97 72h0m-42-176h0m-29 154h0m67-134h0m-22 24h0m-114-153h0m97 455h0m33-243h0m-101-88h0m132 62h0m-162 54h0m131-273h0m9 308h0m20-36h0m48-145h0m-41 32h0m46 4h0m-163-133h0m35-138h0m77 319h0m-160-310h0m132-5h0m-38 91h0m43-62h0m-25 243h0m-57 133h0m-37 256h0m149-129h0m-33-19h0m-74-313h0m76-211h0m-4 149h0m-27 174h0m-129 284h0m203-346h0m-26 313h0m-23-296h0m-42 124h0m9 145h0m74-411h0m-121 218h0m39 268h0m56-156h0m64-155h0m-83 86h0m-33 30h0m57-29h0m-106-45h0m44 337h0m-111-471h0m225 195h0m-64-190h0m-92 289h0m89 140h0m-91-212h0m154 45h0m-70-14h0m-52-115h0m-40-329h0m10 443h0m63-320h0m-56-153h0m-108 179h0m171 11h0m31 91h0m-46 14h0m-95-252h0m28 248h0m24 351h0m73-342h0m-28-190h0m-67-175h0m29 226h0m-64-108h0m4 43h0m79 178h0m-47 52h0m-50 210h0m211-162h0m-155-22h0m54-179h0m83 337h0m-2 114h0m-118-240h0m8-99h0m90-415h0m-69 373h0m-255-423h0m355 694h0m-175-629h0m122 598h0m76-253h0m-174 79h0m101 45h0m-11-192h0m-114 376h0m123 74h0m-21-277h0m-51 42h0m56 212h0m-26-265h0m81 208h0m-60-392h0m-12 110h0m-59 364h0m30-321h0m-38-105h0m94-17h0m-91 335h0m166 1h0m-98-331h0m90 179h0m-223-223h0m59 2h0m81 404h0m-6-253h0m-84 79h0m30-139h0m-47-151h0m54 83h0m15 164h0m120 157h0m-35 56h0m-38-94h0m-112 15h0m55 64h0m36-244h0m-47 211h0m-91-498h0m151 503h0m-117 156h0m67-257h0m-162-118h0m56-14h0m137-243h0m41 132h0m-12-41h0m-56 155h0m11 358h0m10-361h0m90 327h0m-67-8h0m-75 63h0m-63-338h0m136-108h0m38 195h0m-165-78h0m50-289h0m37 274h0m-27 167h0m58-169h0m20 195h0m43-121h0m-141 92h0m183 171h0m-207-428h0m154 71h0m-52 234h0m-75-652h0m95 396h0m25 118h0m-155-83h0m57-23h0m29-82h0m41-281h0m-135 199h0m151 220h0m-69 236h0m-123-286h0m220-230h0m-67 182h0m-2-47h0m-13-229h0m54 594h0m31-86h0m-47-92h0m-72-125h0m28-154h0m84 240h0m-27 106h0m-40-87h0m19 64h0m-99-428h0m87 462h0m-4 239h0m-25-41h0m-10-61h0m44-300h0m22-91h0m35 379h0m-2-312h0m-58 250h0m82-46h0m15 78h0m-75-152h0m-26-251h0m-157 324h0m117-43h0m24-191h0m-42 465h0m-38-505h0m-1 295h0m136-5h0m-102 0h0m-3 56h0m-8-548h0m73 100h0m30 299h0m-76-48h0m-13-15h0m158 225h0m-121 59h0m-71-31h0m98-363h0m52 114h0m-173-227h0m167-7h0m-82-254h0m-16 229h0m44-67h0m-4 47h0m9 235h0m-4-3h0m58-20h0m-72-84h0m-5 137h0m22-22h0m30 143h0m-12-29h0m-46-214h0m21 249h0m-73-344h0m119 87h0m-77 192h0m-75-6h0m187-176h0m-249 193h0m231 140h0m-40-308h0m-159-130h0m216 278h0m-54-180h0m-5 261h0m26-61h0m-92-80h0m69 32h0m-98 207h0m113-5h0m64-181h0m-50-98h0m-37 347h0m-58-459h0m73 8h0m-2 358h0m-13-167h0m-61-163h0m-44 340h0m70-137h0m-96 229h0m76-411h0m19 313h0m-42-161h0m-40 207h0m110 158h0m-173 36h0m173-273h0m73-157h0m-60-67h0m-10-15h0m-24-385h0m21 934h0m55-124h0m-75-427h0m-26-32h0m122 90h0m-2-45h0m-123-438h0m59 655h0m-87-336h0m132 166h0m-32 131h0m-53-357h0m38 430h0m17 242h0m50-467h0m-121 261h0m75-474h0m31 495h0m-145-365h0m114-149h0m-94 165h0m33 317h0m8-228h0m78 98h0m-77 42h0m44 84h0m-101-236h0m62-4h0m59 45h0m-52-70h0m-14 422h0m59-389h0m-49 8h0m-155-89h0m163-13h0m-61 412h0m51-595h0m55 246h0m-146-190h0m56 305h0m47 8h0m39-23h0m-123-45h0m95-331h0m-44 430h0m-42-56h0m-5-201h0m69 215h0m23 94h0m15 83h0m-49-474h0m45 409h0m-63-257h0m-42-98h0m134 351h0m-51 24h0m24-491h0m-62 119h0m60-154h0m-120 504h0m127-138h0m-157-36h0m5 365h0m166-521h0m-91 123h0m51-320h0m78 157h0m-126 253h0m-30-214h0m44 249h0m54-217h0m45-94h0m-177 358h0m68-402h0m46 242h0m39 15h0m-125-102h0m10-220h0m35 237h0m81 141h0m47 284h0m-39-695h0m-27 554h0m3-455h0m25 298h0m-207 11h0m139-18h0m-60-195h0m100 176h0m-112 172h0m163 261h0m-17-449h0m-26-312h0m-133 481h0m148-282h0m49 44h0m-82 513h0m-118-486h0m136 176h0m-119-52h0m90-218h0m-84 86h0m66-56h0m-5 168h0m110-435h0m-64 440h0m-40 272h0m41-196h0m-93-140h0m47-459h0m-116 387h0m122 401h0m32-567h0m-7 514h0m55-245h0m-54 85h0m-156 274h0m209-78h0m-148-441h0m154-95h0m-31 488h0m-79-257h0m83-130h0m69 343h0m-143-242h0m17 36h0m-30-146h0m86 334h0m-133-118h0m99-218h0m-102 112h0m117 190h0m4 71h0m64-299h0m3-80h0m-130-122h0m-3 237h0m-103 94h0m130-37h0m124 125h0m-134-185h0m66 150h0m23-299h0m-139 204h0m-25-163h0m79 485h0m9-54h0m16-238h0m-187-118h0m178 50h0m-42-201h0m131 245h0m-98 145h0m-150-125h0m105 48h0m65-185h0m-48-80h0m-54 98h0m50-131h0m-43 512h0m1-346h0m80 193h0m57-69h0m-118-341h0m19 367h0m3 30h0m27-290h0m98 333h0m-60-190h0m49 121h0m-76-208h0m23 189h0m-52-79h0m39-277h0m51 375h0m-101-346h0m54 73h0m-30 155h0m23 28h0m41-58h0m-32-198h0m-19 3h0m-115 205h0m27 128h0m-43-74h0m165-82h0m8 407h0m-33-297h0m-138 124h0m-19-154h0m66-147h0m73 216h0m52-41h0m35 27h0m-101-104h0m-138 155h0m183-410h0m49 284h0m-214-140h0m115 202h0m-20 12h0m101-232h0m55 212h0m-238-128h0m202 110h0m30-360h0m-74 599h0m-36-62h0m-42 64h0m76-777h0m83 733h0m-216-184h0m193-144h0m-122 44h0m130-51h0m-96 385h0m-11-48h0m28-252h0m-48-129h0m17-309h0m22 245h0m-32 480h0m-50-401h0m157 76h0m-101 495h0m67-322h0m-124-376h0m44 191h0m106 139h0m50-422h0m-248 606h0m169-195h0m-46-119h0m20 59h0m79 176h0m-128-480h0m8 134h0m152 431h0m-233-231h0m96-28h0m16 73h0m68-1h0m-2-183h0m-93 538h0m92-360h0m-72-242h0m-56 241h0m121 331h0m-1-216h0m-111 25h0m34-454h0m16 167h0m-65 156h0m73-107h0m-119 2h0m184-209h0m-182 388h0m183-285h0m-148-11h0m15-34h0m102 67h0m-70-165h0m-36 537h0m84 0h0m-45-442h0m-149 140h0m199 213h0m-88-183h0m66 29h0m-109-146h0m107 94h0m-45 9h0m15-37h0m-9 135h0m-61-264h0m91 252h0m36-46h0m18 227h0m-216-468h0m170 465h0m-18-292h0m-58-204h0m1 201h0m-128 60h0m159-213h0m60 48h0m-14 487h0m-26-498h0m-46 48h0m127-99h0m-18 466h0m-162-590h0m163 192h0m-91-169h0m116 424h0m18-30h0m-147-170h0m59 456h0m-9-316h0m-34-103h0m23-27h0m39-14h0m-94 217h0m-11-89h0m145-278h0m20 281h0m-131-170h0m12-143h0m45 276h0m35 139h0m-28-79h0m16 345h0m-4-266h0m50 148h0m24-423h0m-186 113h0m125 134h0m-147 185h0m204-182h0m-75-203h0m98 318h0m-86-147h0m-34 232h0m26-649h0m66 570h0m-242-408h0m66 30h0m26 160h0m142 143h0m-211-9h0m-81-115h0m90 149h0m104-64h0m99-64h0m-53 0h0m-92 252h0m-24-270h0m22-127h0m80 126h0m27 31h0m21-402h0m-18 267h0m-103 181h0m77-57h0m42-105h0m-123 516h0m103-425h0m38 40h0m-87-171h0m-107 53h0m166 133h0m-147-11h0m81-249h0m5 195h0m-18 124h0m6 0h0m142-317h0m-144 524h0m-10-318h0m51-137h0m113 334h0m-138-62h0m-30-127h0m116-24h0m-31-127h0m-124-31h0m158-278h0m-39 517h0m-22-38h0m90 0h0m-9-365h0m-140 127h0m29 309h0m-75-45h0m108-312h0m19 321h0m-132 71h0m115-243h0m2 98h0m25-49h0m-54-25h0m19-191h0m67 499h0m-39-57h0m41-458h0m-212 157h0m126 137h0m44-200h0m-103-126h0m16 247h0m-141 132h0m207-142h0m79 322h0m-4-115h0m-104-238h0m9 9h0m34 465h0m-186-397h0m143-133h0m93 429h0m-116-466h0m44 27h0m36 425h0m-22-101h0m-7-299h0m10 53h0m-56 157h0m20 0h0m46-87h0m28 118h0m-103-392h0m99 237h0m-38 82h0m-75-12h0m-32 166h0m142-54h0m-18 64h0m-98-487h0m84 273h0m-79 68h0m85 101h0m27-188h0m-55 427h0m-20-502h0m74-33h0m2-88h0m-65 386h0m94-166h0m-41 257h0m-6-276h0m51-25h0m-25 138h0m-66-256h0m72 293h0m25-286h0m-139 261h0m-14-224h0m55-157h0m-130-52h0m77-103h0m123 697h0m-75-362h0m52 174h0m26 161h0m-104-197h0m25 136h0m17 62h0m69-327h0m-132-396h0m43 616h0m-63-137h0m44 49h0m28 101h0m-60-182h0m84 202h0m72-77h0m-61-46h0m27-88h0m-44-37h0m25 22h0m-80-133h0m32 211h0m85-265h0m-23 32h0m-25-97h0m-90-16h0m10-48h0m-57 246h0m181-173h0m9 301h0m-24-52h0m-168-448h0m33 508h0m98 269h0m-19-341h0m47-187h0m55 199h0m-35-43h0m-79-224h0m-197-87h0m232 491h0m-36 67h0m-110-202h0m100-219h0m-24 31h0m65 182h0m-129-68h0m200 506h0m-79-390h0m55 244h0m-28-146h0m16 126h0m17-19h0m-143-325h0m69 341h0m-51-174h0m106-140h0m55 225h0m-82 11h0m-76-419h0m87 568h0m-94-461h0m23 352h0m108-169h0m-149 69h0m21-166h0m10-112h0m108 358h0m-38-186h0m-61 153h0m-78-350h0m20-18h0m173 464h0m-59-119h0m64-20h0m-97 37h0m106 168h0m-61-162h0m-92-502h0m48 527h0m-139-316h0m153-41h0m-9 317h0m-163-262h0m219 266h0m-161-146h0m49 15h0m76 41h0m94 2h0m-181-61h0m-46 156h0m224 89h0m-119-151h0m-54-190h0m-3 231h0m-44-401h0m-89 333h0m199-218h0m-46-49h0m-48-47h0m97 560h0m-12-386h0m-79 82h0m144 110h0m-159 168h0m200-150h0m-123-161h0m-70 313h0m159-466h0m-100 151h0m102 158h0m-46 4h0" stroke="#000" stroke-width="9.5" stroke-linecap="round" fill="none" stroke-opacity="0.47"/><path transform="scale(.1)" d="M4731 2587h0m516 46h0m-124-150h0m-226 103h0m197 288h0m-91-104h0m52 21h0m-88-57h0m121-39h0m-143 175h0m215-149h0m-259-93h0" stroke="#000" stroke-width="9" stroke-linecap="round" fill="none" stroke-opacity="0.5"/><path transform="scale(.1)" d="M4243 2781h0m-39-159h0m21 143h0m8-111h0m-14 1h0m-43 79h0m70-67h0m-34 19h0m28 2h0m13 16h0m8 10h0m-27-21h0m-74-10h0m89 71h0m-46 10h0m33-24h0m-35-42h0m38 5h0m-13 91h0m-29-71h0m4-10h0m23 16h0m8-35h0m-35 4h0m39 28h0m-20-75h0m-17 74h0m50-44h0m-53-4h0m-4-34h0m0 40h0m71 20h0m-71-71h0m8 90h0m21-22h0m-17 57h0m10 4h0m-17-33h0m74-74h0m-41 24h0m-36-19h0m-7 61h0m10-41h0m35-23h0m10 64h0" stroke="#2a2ab4" stroke-width="11" stroke-linecap="round" fill="none" stroke-opacity="0.85"/><path transform="scale(.1)" d="M4321 2698h0m5 28h0m-17-46h0m19-7h0m-5 15h0m-14-42h0m11 70h0m20-26h0m-16-24h0m-32 23h0m27 38h0m-11-30h0m8-4h0m40 6h0m-42 7h0m-27 1h0m53-30h0m-2-40h0m3 46h0m-14-3h0m19 59h0m-7 28h0m-33-84h0m-16-18h0m59 44h0m-4-24h0m-23 14h0m36-84h0m-37 105h0m6-5h0m-2-8h0m-10 2h0m22-29h0m-23-21h0m63 26h0m-54 44h0m-35 1h0m20-41h0m35 27h0m-19 6h0m-15-50h0m25 42h0m-43-32h0m57 82h0m-29-125h0m-34 28h0m49 96h0m-1-94h0m-20-16h0m-15 35h0m19 39h0m-31-33h0m38 5h0m6-50h0m-5 73h0m-3-28h0m-1 27h0m-14-78h0m66 61h0m-22-10h0m-15 18h0m-5-19h0m1-19h0m-3 104h0m-21-123h0m22 28h0m33-11h0m-50 19h0m22 6h0m-31-52h0m27 72h0m23-58h0m-51 107h0m20-63h0m-10-17h0m-26 22h0m60 3h0m-15 20h0m20-38h0m-36 11h0m-15-4h0m4-2h0m42-9h0m-23 34h0m-16-30h0m35 4h0m-17-18h0m-6-14h0m15 25h0m-9 2h0m-4 18h0m36 18h0m0-51h0m-19 26h0m-27 80h0m28-73h0m-35-54h0m0-26h0m0 108h0m23-29h0m-15 56h0m39-89h0m-21 15h0m-18 12h0m-11-13h0m14-22h0m-22-18h0m24 47h0m5 18h0m1 8h0m-31-65h0m68-17h0m-62 103h0m6-91h0m-4 29h0m32-5h0m-41 6h0m40 29h0m-17-40h0m9 86h0m-28-68h0m21-52h0m-15 57h0m1 29h0m14-30h0m19-33h0m-29 26h0m12-34h0m-1 52h0m13 32h0m-9-64h0m3 40h0m-47 10h0m24-52h0m15 46h0m19 8h0m-40 37h0m42-66h0m-12-46h0m-10 135h0" stroke="#ff2a2a" stroke-width="11" stroke-linecap="round" fill="none" stroke-opacity="0.75"/><path transform="scale(.1)" d="M4279 2755h0m-67-95h0m38-31h0m-52 73h0m-19 35h0m-18-103h0m46 70h0m46 52h0m-4-22h0m-70 22h0m1-62h0m73-117h0m15 57h0m-85 11h0m8 16h0m21 82h0m34 8h0m-35-92h0m44 55h0m-53-81h0m-4 61h0m57-17h0m-1-20h0m-52 8h0m18-35h0m1 22h0m39 9h0m-61 24h0m10-25h0m87 55h0m-76-25h0m-15-10h0m-13-4h0m77 18h0m-45-18h0m8 20h0m-17 22h0m5-34h0m35 41h0m-14-10h0m-36-26h0m20 59h0m-17-65h0m9 77h0m2-81h0m-52 54h0m63-51h0m-18-25h0m-52-3h0m53 38h0m-12 24h0m-21-33h0m54 94h0m-10-76h0m-19-34h0" stroke="#9b3cff" stroke-width="11" stroke-linecap="round" fill="none" stroke-opacity="0.75"/><path transform="scale(.1)" d="M4627 2788h0m30-96h0m-76 56h0m64 16h0m-31-125h0m3 38h0m-16-36h0m12 41h0m-15-3h0m44 26h0m-34-70h0m-16 51h0m16-77h0m34 89h0m-14-17h0m-17 13h0m-37 21h0m42-43h0m4-59h0m0 67h0m5-27h0m3 39h0m-27 100h0m30-98h0m-31-20h0m50-27h0m-29 13h0m-11 24h0m-7 16h0m28-42h0m-31-76h0m-3 48h0m35-11h0m-26-2h0m-6 69h0m23 62h0m23 21h0m-24-142h0m-7 50h0m-25-44h0m26 83h0m45 31h0m-46-69h0m1 46h0m47-75h0m-54-24h0m12 97h0m-15 33h0m1-133h0m26 9h0m-33 35h0m9-57h0m14 36h0m-4 62h0m-2 30h0m-10-53h0m-10 3h0m17-33h0m-3 16h0m0 62h0m4-56h0m0 5h0m-27-21h0m80 6h0m-31-12h0m-32 56h0m-9 119h0m37-70h0m10-71h0m-26-65h0m-1 26h0m11 76h0m33-61h0m-64 68h0m6-32h0m12 25h0m32-88h0m-14 24h0m-1 52h0m48-56h0m-50 38h0m-28 4h0m32 62h0m2-172h0m-23 97h0m-10-6h0m-1 75h0m20-68h0m13 50h0m-36-15h0m37 6h0m-18-159h0m-7 154h0m3-97h0m-3 94h0m-3-4h0m-5-3h0m-16-78h0m43 144h0m-31-97h0m25-25h0m-6 46h0m19-28h0m-17 18h0m-4 29h0m-15-62h0m-6-46h0m34 129h0m-4-15h0m3-28h0m-16 75h0m19-55h0m8-67h0m-2 72h0m-30 67h0m29-75h0m2-88h0m-29-26h0m36 121h0m15 18h0m-37-59h0m0 47h0m11-136h0m2 62h0m-27 27h0m2 2h0m4-77h0m23 177h0m7-89h0m-29-3h0m-19-91h0m39 144h0m-8 25h0m2-88h0m-38-97h0m23 45h0m16 113h0m-13 15h0m33-83h0m-46 46h0m12 3h0m43-60h0m-13-35h0m-59 162h0m30-177h0m-3 153h0m2-187h0m12 154h0m3 8h0m27-87h0m-59 97h0m31 10h0m-10-53h0m-11 34h0m35-3h0m-42-3h0m11-41h0m-2 6h0m-14-13h0m17 52h0m22-29h0m-5 29h0m-8 3h0m-16-130h0m-1 93h0m29-21h0m1-90h0m-21 126h0m39-91h0m-86 114h0m51 20h0m-11-113h0m-26-8h0m70 73h0m-46-87h0m6 14h0m46-20h0m-57 94h0m15-46h0m-2-49h0m11 52h0m12 16h0m1-42h0m-1 18h0m-20-26h0m-14-8h0m-7 28h0m35-66h0m-27 74h0m27 77h0m-20-72h0m4-25h0m-4 100h0m30-98h0m-4 66h0m-39 14h0m37-54h0m-57 15h0m37 6h0m-5-136h0m49 36h0m-41 17h0m-20 84h0m0-11h0m4-20h0m6-4h0m9-37h0m-15 75h0m-1 24h0m54-87h0m-79 10h0m40 12h0m6-87h0m19 98h0m-35 23h0m36-62h0m-27 83h0m8 16h0m7 10h0m-7-33h0m1-41h0m-1 14h0m-40-8h0m52 16h0m-12-64h0m1 158h0m-14-141h0m48 20h0m-15 45h0m-14 0h0m-12-36h0m24 117h0m-4-217h0m-47 56h0m43 28h0m14 89h0m-43-13h0m28-50h0m-6-44h0m6 107h0m-20-19h0m-7-68h0m-9 14h0m-4 86h0m22 17h0m-6-68h0m22-72h0m-38-40h0m31 76h0m-22 33h0m27 36h0m-16-65h0m11 86h0m4-50h0m7 16h0m-9-13h0m33-132h0m-50 106h0m2 112h0m-11-168h0" stroke="#a82e2e" stroke-width="11" stroke-linecap="round" fill="none" stroke-opacity="0.7"/><path transform="scale(.1)" d="M5568 2655h0m-49 1h0m-1 12h0m40 53h0m-8 0h0m-20-13h0m10 15h0m-22-21h0m22-59h0m-14 51h0m12-14h0m64 42h0m-67-9h0m7-23h0m-12-58h0m1 52h0m-11 1h0m-2 40h0m23-36h0m-47-45h0m35 39h0m29 63h0m3-37h0m-15-7h0m16 15h0" stroke="#f4a460" stroke-width="11" stroke-linecap="round" fill="none" stroke-opacity="0.6"/><path transform="scale(.1)" d="M5557 2743h0m-30-48h0m61 27h0m-24-2h0m7-62h0m0 34h0m2 50h0m-6-13h0m16-37h0m-25 34h0m-14 28h0m8-78h0m33 49h0m-18-20h0m-32 24h0m33-4h0m15-20h0m-15 32h0m10 7h0m-30-13h0m8-4h0m-1 13h0m3-19h0m-23 78h0m19-66h0m-11 2h0m18-78h0m5 55h0m4 6h0m-14 25h0m22-7h0m-15 6h0m15-9h0m-31-21h0m-22 4h0m42 24h0m12 7h0m-30-18h0m7-62h0m5 56h0m-5-9h0m-3 38h0m53-98h0m-42 8h0m26 35h0m-25 33h0m1-31h0m9-1h0m-15 70h0m14-38h0m-15 62h0m8-101h0m-4-26h0m-14 89h0m5-91h0m1 100h0m34-75h0m-43 34h0m24 6h0m-24-13h0m20-36h0m8 29h0m-24-41h0m-1 31h0m5 14h0m30-37h0m-7 17h0m-29-12h0m17 22h0m21-9h0m-12 55h0m-1 2h0m-18-49h0m3 39h0m9 27h0m22-29h0m-11-63h0m34 65h0m-57-30h0m1 16h0m-1 28h0m-17-39h0m22 12h0m16-26h0m-22 10h0m-16 16h0m30 13h0m3 10h0m-41-21h0m88 87h0m-40-47h0m-20-59h0m8 11h0m-25 1h0m39-11h0m-36 23h0m33-17h0m-27-31h0m6 0h0m22 41h0m-19 9h0m5-27h0m4 41h0m-6 28h0m-31-19h0m41 30h0m-36-27h0m24-101h0m-16 65h0m24 9h0m7 26h0m-10-76h0m12 52h0m3-27h0m16 1h0m-32 6h0m11 45h0m-28-10h0m20-53h0m6 5h0m-21 22h0m-15 17h0m64-57h0m-36 8h0m-14 32h0m15 1h0m-6-3h0m27-3h0m-24 45h0m3-16h0" stroke="#0000ff" stroke-width="13" stroke-linecap="round" fill="none" stroke-opacity="0.95"/><path transform="scale(.1)" d="M4222 2663h0m-15-9h0m30 3h0m-38 25h0m8 8h0m27-2h0m16 105h0m-17-72h0m-32-34h0m29 22h0m-36-7h0m8 48h0m31-72h0m-3 54h0m2-19h0m-1 17h0m-5-12h0m-31 0h0m58-9h0m-37-20h0m29 11h0m-41 45h0m47-10h0m-41-52h0m21 32h0m-35 28h0m13-72h0m29 18h0m-37-30h0m65 33h0m-6 44h0m-41-60h0m-12-36h0m53 82h0m-36-10h0m20 60h0m-10-52h0m-32-8h0m50-32h0m5 45h0m-24-15h0m3-4h0m-30-9h0m3 23h0m-9-50h0m9 9h0m18 22h0m-6-47h0m3 91h0m-7 12h0m8-21h0m27-12h0m-53 20h0m22-3h0m4-56h0m-3 18h0m4-11h0m1 39h0m15-52h0m-18 23h0m14 1h0m1 16h0m-21-38h0m-31 22h0m31 43h0m-14-13h0m15-35h0m-14-19h0m28 69h0m-19-47h0m-56-13h0m72-6h0m-2-43h0m-17 109h0m-6-45h0m-21 16h0m59 11h0m-24-69h0m-10 7h0m34-10h0m-22 33h0m0-26h0m-1 62h0m19-47h0m-37-5h0m32 50h0m-18-19h0m-9-28h0m7 14h0m3-18h0m-15 14h0m49-2h0m-22-8h0m7 24h0m-47-6h0m42 18h0m10 25h0m20-31h0m-35 13h0m-8-16h0m24 37h0m-26-84h0m20 42h0m1-11h0m-22 35h0m12-44h0m40 65h0m-51-63h0m-5-38h0m17 62h0m-7-24h0m44 19h0m-6 28h0m-3-50h0m-20 8h0m10 11h0m-47 19h0m16-24h0m-31 3h0m33-14h0m8-16h0m22 68h0m-17-51h0m-6 36h0m55 1h0m-38-49h0m-4 12h0m17 8h0m-17 39h0m0-40h0m-34 0h0m32 4h0m-10-17h0m-21-2h0m41-29h0m-44 82h0m31-25h0m-5-12h0m-14 41h0m-6-15h0m14-3h0m-12-11h0m32 23h0m-31 3h0m-42-52h0m65 39h0m20-5h0m-60-8h0m38 1h0m-30 42h0m-2-49h0m-3 16h0m3-5h0m19 40h0m12-22h0m-19-24h0m34 39h0m-18-19h0m9-43h0m-49-18h0m16 47h0m10 4h0m3 13h0m13-5h0m-28 8h0m34-1h0m-5 2h0m14-4h0m4-27h0m-8 72h0m-23-74h0m-7 8h0m11-13h0m24-26h0m-11 14h0m10 52h0m7 5h0m-39-31h0m-11-6h0m-9-6h0m22 37h0m5-47h0m-21 48h0m27-28h0m-12 26h0m-3-62h0m8 56h0m3-103h0m8 87h0m-19 1h0" stroke="#22e022" stroke-width="12" stroke-linecap="round" fill="none" stroke-opacity="0.95"/></g>
<rect x="410.5" y="212.0" width="157.0" height="142.8" fill="none" stroke="#c8c8c8" stroke-width="1.2"/>
<path d="M422.4 354.8v3M456.4 354.8v3M490.1 354.8v3M523.9 354.8v3M557.4 354.8v3M410.5 229.2h-3M410.5 249.9h-3M410.5 270.6h-3M410.5 291.3h-3M410.5 312.0h-3M410.5 332.7h-3M410.5 353.4h-3" stroke="#c8c8c8" stroke-width="0.9" fill="none"/>
<rect x="540.2" y="312.3" width="27.3" height="42.5" fill="#fff" stroke="#c8c8c8" stroke-width="1.1"/><g font-size="3.15" fill="#333" filter="url(#gs)"><text x="545.9" y="321.1">AA_WES_20k</text><text x="545.9" y="325.0">GBR</text><text x="545.9" y="328.9">FIN</text><text x="545.9" y="332.8">IBS</text><text x="545.9" y="336.7">CEU</text><text x="545.9" y="340.6">YRI</text><text x="545.9" y="344.4">CHB</text><text x="545.9" y="348.3">JPT</text><text x="545.9" y="352.2">TSI</text></g><circle cx="542.9" cy="320.0" r="0.55" fill="#000" fill-opacity="1"/><circle cx="542.9" cy="323.9" r="0.6" fill="#3030c0" fill-opacity="0.7"/><circle cx="542.9" cy="327.8" r="0.6" fill="#ff7070" fill-opacity="0.7"/><circle cx="542.9" cy="331.7" r="0.6" fill="#c070ff" fill-opacity="0.7"/><circle cx="542.9" cy="335.6" r="0.6" fill="#999" fill-opacity="0.7"/><circle cx="542.9" cy="339.4" r="0.6" fill="#c06060" fill-opacity="0.7"/><circle cx="542.9" cy="343.3" r="0.6" fill="#f0a860" fill-opacity="0.7"/><circle cx="542.9" cy="347.2" r="0.7" fill="#0000ff" fill-opacity="1"/><circle cx="542.9" cy="351.1" r="0.6" fill="#30e030" fill-opacity="0.7"/>
<g><path transform="scale(.1)" d="M500 4691h0m193 295h0m-136 32h0m5-30h0m-37-46h0m175 146h0m-180-424h0m74 185h0m-80-111h0m-37-62h0m49 98h0m157 281h0m-44 86h0m-46-149h0m4 109h0m-2-393h0m35 544h0m-7-86h0m-67-87h0m68 149h0m-32-226h0m-12-55h0m103 213h0m-117-180h0m13 184h0m18-304h0m0-97h0m-26 327h0m156 41h0m-97-49h0m-69-173h0m37-192h0m144 434h0m-117-106h0m-69-52h0m-2-203h0m-24 135h0m-81-254h0m221 300h0m-214-233h0m50-15h0m63 187h0m9 110h0m15 152h0m116-124h0m-71-68h0m5 106h0m-67-99h0m-88-252h0m42-53h0m66 492h0m-5-65h0m69-162h0m56 205h0m-99-367h0m-11-32h0m-25 329h0m-32-235h0m51 175h0m49 17h0m-119-312h0m162 349h0m-128-157h0m-18-223h0m-7 73h0m-90-97h0m110 221h0m64 343h0m42 9h0m3-77h0m-153-442h0m143 483h0m-172-416h0m197 380h0m-77-390h0m5 112h0m-156-209h0m130 298h0m10 124h0m52-78h0m-54-148h0m-14 258h0m73-258h0m-19 212h0m-49-137h0m-85-183h0m140 279h0m-112-327h0m76 350h0m-13-343h0" stroke="#000" stroke-width="9" stroke-linecap="round" fill="none" stroke-opacity="0.5"/><path transform="scale(.1)" d="M1249 4661h0m-314 133h0m-217 89h0m52 97h0m-64-96h0m311-16h0m-143 38h0m328-97h0m-331-116h0m417-42h0m2 12h0m-363 349h0m407-272h0m-504 206h0m-52-129h0m-52-68h0m457-62h0m-318 248h0m309-104h0m-238 71h0m457-251h0m-497 131h0m316 20h0m-203-52h0m312-5h0m-409 160h0m-168 9h0m166-210h0m255 24h0m-446-37h0m94 6h0m137 115h0m575-143h0m-834 226h0m320-97h0m-197 25h0m89-113h0m-172 110h0m38 184h0m-28-72h0m312-11h0m-120-211h0m-166 358h0m-79-255h0m312 10h0m-69 14h0m286-25h0m-170-90h0m-283 239h0m604-233h0m-679-26h0m310 158h0m-38 24h0m-110 2h0m-14 62h0m203-181h0m-310 106h0m6 226h0m921-465h0m-746 131h0" stroke="#000" stroke-width="9" stroke-linecap="round" fill="none" stroke-opacity="0.5"/><path transform="scale(.1)" d="M805 5241h0m33-149h0m-193 258h0m83 29h0m-75-75h0m87-66h0m72 0h0m-37 27h0m-3 75h0m103-202h0m66 47h0m-119 90h0m14-91h0m-85 226h0m-133-87h0m262-91h0m8-88h0m-46 32h0m-2 59h0m-136 159h0m43-45h0m-105-14h0m126-37h0m140-86h0m-161 81h0m113-160h0m-199 225h0m3-91h0m105 15h0m-108 46h0m94-43h0m-108 23h0m270-119h0m-51-20h0m-61-10h0m26 92h0m12-67h0m-86 59h0m-45 78h0m151-80h0m-198 119h0m154-158h0m-19 15h0m109 2h0m-133 71h0m-6-104h0m27 118h0m70-90h0m14 52h0m-94-10h0m18 98h0m-30-178h0m65 39h0m-39-55h0m-22 131h0m57-130h0m-95 179h0m-49 38h0m108-257h0m50 136h0m17-83h0m62 7h0m-89 3h0m-17 58h0m47-110h0m16 42h0m-237 171h0m60-71h0m203-85h0m-141 167h0m-45 48h0m137-212h0m-191 78h0m162-126h0m-78 173h0m-53 39h0m-12 21h0m55-31h0m127-176h0m-73 101h0m-128-22h0m115-7h0m-102 123h0m-9-64h0m19 5h0m96-72h0m5-11h0m-11 80h0m-1-42h0m32-185h0m-55 198h0m-75 86h0m193-202h0m-158 208h0m-9-114h0m153-138h0m-167 243h0m126-49h0m-140 6h0m61 28h0m98-63h0m-91 53h0m129-120h0m-65 46h0m64-74h0m-226 174h0m87-25h0m-72 20h0m122-163h0m-6 86h0m-46 5h0m76-53h0m-45 17h0m-42 97h0m110-42h0m-176 38h0m5-21h0m113-31h0m88-124h0m-15-23h0m-3 39h0m-154 31h0m-6 143h0m-18 12h0m179-176h0m80 42h0m-118-31h0m-3 79h0m-46 2h0m-96 84h0m269-156h0m-276 111h0m69-38h0m10 115h0m28-87h0m-65-51h0m-11 132h0m34-101h0m-8 41h0m19 55h0m29-153h0m72 49h0m-77-93h0m72 49h0m41-53h0m-3-35h0m-7 49h0m-176 124h0m118-69h0m-138 80h0m148-111h0m24 107h0m28-183h0m-222 205h0m209-150h0m-12-73h0m26 102h0m13-60h0m-39 35h0m-57 58h0m-119 2h0m37 149h0m25-148h0m60-48h0m87 37h0m-3 25h0m-1-136h0m-107 223h0m123-239h0m-222 217h0m154-50h0m55-153h0m-121 113h0m36-72h0m33 45h0m-70 91h0m54-170h0m-41 120h0m113-75h0m-184 158h0m125-184h0m32 15h0m-142 153h0m68-175h0m-52 146h0m21 25h0m37-52h0m50 5h0m4-22h0m-84 17h0m-52-100h0m40 106h0m-29 14h0m50-50h0m-10-30h0m163 16h0m-208 8h0m112 29h0m-59-34h0m31 30h0m55-39h0m-156 104h0m135-194h0m59 28h0m-51-58h0m-58 148h0m58-65h0m27-83h0m-141 179h0m143-106h0m-71 77h0m5-82h0m81 69h0m-55 23h0m87-96h0m-125-47h0m-113 240h0m62-116h0m14 25h0m17 41h0m-11 3h0m126-167h0m-258 157h0m96 28h0m125-96h0m-129 118h0m40-169h0m43 98h0m22-81h0m78-61h0m-184 245h0m34-104h0m59-136h0m72 5h0m-202 211h0m32-43h0m96-86h0m49-57h0m-29 204h0m-106-91h0m149-120h0m49-11h0m-113 61h0m-30-81h0m31 175h0m-138-23h0m228-150h0m-40 22h0m-135 251h0m23-133h0m93-57h0m7-47h0m-115 81h0m-101 70h0m283-179h0m-3 51h0m-152 78h0m-12-48h0m4 121h0m46-206h0m96 73h0m-133 74h0m30-7h0m33-76h0m62-82h0m-213 152h0m69 7h0m123-123h0m-34 2h0m-114 83h0m-2 31h0m25 44h0m157-94h0m-84-10h0m60-48h0m-162 222h0m122-140h0m-109 45h0m84 31h0m8-224h0m-29 175h0m-38 66h0m8-10h0m-5 28h0m-55 14h0m7-2h0m87-194h0m-127 133h0m215-163h0m-136 125h0m3-9h0m-4 80h0m13 64h0m153-232h0m-54 25h0m-1 3h0m25-80h0m-158 187h0m37 19h0m-47 9h0m-13-28h0m5-13h0m203-136h0m-168 183h0m93-122h0m-176 116h0m155-82h0m-40 1h0m134-106h0m-65 23h0m-79 192h0m64-196h0m-148 162h0m187-174h0m-20-28h0m-179 90h0m113-116h0m-70 183h0m186-167h0m-64 29h0m22 65h0m-60 124h0m31-128h0m-72 77h0m53-50h0m-38 58h0m26-93h0m87-83h0m-180 169h0m162 11h0m-48-110h0m-130 138h0m139-144h0m-6 92h0m-98 20h0m143-179h0m30 215h0m-107-160h0m-38 261h0m-13-80h0" stroke="#000" stroke-width="10" stroke-linecap="round" fill="none" stroke-opacity="0.45"/><path transform="scale(.1)" d="M1357 4952h0m-167-42h0m-203 200h0m56-38h0m358-270h0m148-70h0m-3 95h0m-466 237h0m160-81h0m-296 94h0m285-125h0m-70 63h0m358-218h0m-47 51h0m-380 141h0m-183 85h0m242-75h0m-41 23h0m-95 60h0m95 8h0m-92-41h0m211-141h0m-236 219h0m-42 15h0m350-157h0m59-49h0m-284 73h0m334-149h0m-97 87h0m-208 1h0m132-45h0m-189 92h0m-131 133h0m38-58h0m116-99h0m62 44h0m294-174h0m-331 142h0m131-93h0m-170 148h0m-68 62h0m198-128h0m-39-13h0m-193 67h0m132 25h0m-150 93h0m99-118h0m155-33h0m-151 23h0m-64 83h0m435-225h0m75-10h0m-207 37h0m-161 148h0m32-80h0m166-51h0m337-235h0m-485 296h0m-99-8h0m361-65h0m-98 1h0m151-80h0m-518 300h0m264-168h0m-243 51h0m166-37h0m320-154h0m-523 239h0m155-18h0m110-47h0m-192-7h0m-47 92h0m366-146h0m-260 45h0m266-86h0m-54 62h0m-274 94h0m208-111h0m35-12h0m-80 27h0m-100 107h0m317-143h0m-458 81h0m74 60h0m322-138h0m141-130h0m-238 140h0m194-165h0m-231 195h0m90-75h0m-284 130h0m95-6h0m112-47h0m-33 60h0m-9-49h0m1-26h0m-199 198h0m31-102h0m263-32h0m-86-46h0m311-173h0m-134 87h0m-329 244h0m341-229h0m-176 134h0m-117 10h0m275-229h0m114-52h0m-256 388h0m-53-140h0m158-85h0m-358 223h0m168-150h0m61 108h0m-170-34h0m69 43h0m-89-117h0m392-94h0m42-76h0m-83 43h0m-90 111h0m-106 21h0m359-164h0m-242 14h0m121 38h0m8 7h0m-335 186h0m-145 74h0m756-467h0m-676 426h0m184-133h0m216-131h0m-370 320h0m337-291h0m-131 76h0m-124 96h0m368-209h0m34-80h0m-213 153h0m-81 147h0m-69 16h0m215-220h0m51-16h0m-371 219h0m41-4h0m430-266h0m-92 25h0m-104 108h0m-316 157h0m328-218h0m120-59h0m-387 270h0m-51-49h0m538-234h0m-462 186h0m437-180h0m-213 84h0m-228 142h0m294-84h0m-319 82h0m460-149h0m-452 125h0m111-19h0m-57 55h0m144-114h0m-107 36h0m183-38h0m-162 36h0m-218 108h0m-24 63h0m539-315h0m-265 180h0m-238 171h0m284-164h0m89-73h0m-244 55h0m321-145h0m-105 71h0m-323 165h0m130-125h0m-90 111h0m319-132h0m-203 75h0m-157 61h0m226-112h0m190-66h0m-190 97h0m-189 93h0m-71-38h0m467-211h0m-336 187h0m374-239h0m-80 189h0m-280 86h0m232-175h0m-43-19h0m-375 315h0m329-283h0m151-28h0m-223 119h0m-225 128h0m297-189h0m-9 37h0m-87 7h0m-8 28h0m-119 88h0m351-185h0m-244 116h0m159-82h0m-85 32h0m372-236h0m-298 223h0m-285 132h0m102-85h0m4 99h0m-18-85h0m191-91h0m-317 135h0m663-305h0m-711 289h0m731-293h0m-325 120h0m-348 282h0m183-85h0m387-267h0m-49 58h0m-375 215h0m-95-42h0m184-56h0m146-75h0m188-69h0m-538 274h0m637-348h0m-600 328h0m-27 25h0m168-86h0m220-144h0m20 6h0m-39-25h0m-314 130h0m29 68h0m-153 139h0m234-137h0m-208 40h0m54 25h0m69-98h0m36-21h0m27-30h0m-41 87h0m147-80h0m-120 118h0m-64-107h0m-104 110h0m585-308h0m-218 161h0m-233 190h0m133-228h0m-23 90h0m-84 39h0m282-132h0m-284 39h0m-30 29h0m70-63h0m17 129h0m221-225h0m-40 100h0m97-69h0m-76 49h0m-211 68h0m43-4h0m-154 99h0m158-89h0m122-35h0m-94-4h0m-262 160h0m579-387h0m-120 140h0m-242 129h0m-222 112h0m64-73h0m92-7h0m134-117h0m-112 87h0m156-66h0m-391 234h0m722-450h0m-306 245h0m-242 58h0m-35 50h0m386-158h0m-428 144h0m41 1h0m142-65h0m65-40h0m-161 158h0m47-97h0m-117 170h0m180-209h0m-285 187h0m384-196h0m87-136h0m-205 154h0m10 41h0m-27-74h0m111-38h0m106-41h0m-440 320h0m476-268h0m-242 8h0m40 80h0m-242 55h0m-93 41h0m420-171h0m110-54h0m-321 152h0m413-241h0m-119 71h0m-333 212h0m246-175h0m-102 52h0m-162 110h0m87-32h0m-77-4h0m110-1h0m189-112h0m-101 48h0m180-88h0m-364 151h0m86 17h0m-90 16h0m107-93h0m-130 103h0m451-225h0m-437 159h0m-167 115h0m458-226h0m-316 212h0m316-134h0m-229 91h0m49-100h0m296-111h0m-486 258h0m584-342h0m-304 231h0m-103 22h0m-71 77h0m-165 98h0m265-210h0m-132 110h0m471-244h0m-485 244h0m-115 79h0m131-125h0m-52 77h0m259-202h0m127-1h0m28-20h0m-132 23h0m-356 269h0m457-340h0m-271 193h0m-76 12h0m164-78h0m-246 164h0m1 1h0m336-174h0m-229 92h0m85-38h0m288-125h0m-182 82h0m104-101h0m-99 148h0m64-113h0m-279 122h0m486-240h0m-339 182h0m383-185h0m-184 12h0m-295 288h0m-46 44h0m158-174h0m-205 146h0m-21 12h0m28 122h0m154-193h0m45-44h0m244-131h0m-518 233h0m111-110h0m474-178h0m-380 184h0m457-264h0m-191 167h0m-236 58h0m-5 58h0m-92-14h0m57-37h0m81 35h0m-132 67h0m144-78h0m35 12h0m114-177h0m-116 122h0m-237 215h0m41-134h0m-57 83h0m4 34h0m537-340h0m-634 363h0m236-153h0m-261 121h0m770-335h0m-183 95h0m-127 111h0m-199-28h0m-145 67h0m278-136h0m21-18h0m247-127h0m-44 88h0m-445 198h0m-6 27h0m215-94h0m-222 17h0m152-9h0m37-24h0m-214 122h0m-110 10h0m398-96h0m170-155h0m63-48h0m-370 147h0m-181 90h0m160-21h0m173-125h0m236-22h0m-264 49h0m-131 176h0m133-60h0m-172-2h0m-97 21h0m13 51h0m148-143h0m-208 227h0m56-90h0m-35-30h0m-27 28h0m98-83h0m-45 42h0m-87 77h0m439-228h0m77-103h0m-308 183h0m314-128h0m-100-7h0m31-32h0m2 20h0m-164 121h0m-24-39h0m162-27h0m-310 123h0m250-112h0m-340 256h0m288-247h0m-11-19h0m-128 225h0m9-72h0m175-115h0m-149 12h0m329-105h0m-561 366h0m202-251h0m-42 128h0m41 4h0m386-277h0m-375 224h0m21 50h0m203-225h0m55 44h0m-421 251h0m283-190h0m133-116h0m-417 289h0m471-259h0m-529 198h0m413-175h0m50-52h0m-128 76h0m41-29h0m-245 120h0m-78 95h0m412-212h0m-480 203h0m570-271h0m-356 171h0m186-126h0m-75 158h0m24-142h0m-273 193h0m508-277h0m-500 283h0m286-173h0m-81 113h0m193-128h0m-507 207h0m185-89h0m6 62h0m394-190h0m-551 223h0m669-374h0m-318 149h0m-169 118h0m92-56h0m-98 81h0m161-72h0m292-191h0m-483 287h0m260-175h0m-315 227h0m482-290h0m-192 89h0m-287 113h0m632-325h0m-592 331h0m-69 56h0m244-99h0m-202 59h0m-58 6h0m-44 68h0m12 27h0m640-352h0m-515 305h0m-127 89h0m278-204h0m-183 56h0m466-190h0m-130 26h0m221-100h0m-458 242h0m258-164h0m73-71h0m-278 236h0m172-91h0m-273 55h0m59 28h0m-54 94h0m27-91h0m-54 8h0m39 74h0m102-188h0m-26 73h0m211-146h0m-39 118h0m150-208h0m-284 177h0m-172 117h0m-61 162h0m-20-93h0m114-135h0m173-11h0m-339 201h0m310-209h0m47 59h0m-326 192h0m417-377h0m3 49h0m-394 323h0m171-256h0m313-141h0m152-25h0m-219 98h0m-443 264h0m325-174h0m-67-38h0m-102 185h0m-15-91h0m264-51h0m-49 30h0m-304 180h0m196-204h0m361-135h0m-362 142h0m165-77h0m266-178h0m-405 232h0m-300 192h0m423-263h0m-324 219h0m284-200h0m-249 236h0m7-55h0m-10 52h0m240-187h0m-358 164h0m298-181h0m-137 62h0m197 26h0m-236 62h0m-70 85h0m290-186h0m-209 39h0m151-67h0m277-143h0m-344 251h0m133-109h0m-90 70h0m216-213h0m-84 135h0m-25 14h0m-268 74h0m-57 83h0m347-171h0m96-81h0m-49 2h0m-175 210h0m241-241h0m-431 260h0m287-146h0m-222 67h0m233-94h0m-291 139h0m30 92h0m430-334h0m-144 39h0m-11 41h0m319-155h0m-414 185h0m244-128h0m56 69h0m-167-38h0m-364 180h0m114-58h0m238-83h0m-303 217h0m44 76h0m358-293h0m-270 110h0m-249 144h0m410-218h0m-141 144h0m-161-11h0m212-65h0m-32-76h0m124 86h0m23-66h0m-228 182h0m-47-35h0m390-200h0m-512 259h0m192-134h0m-168 135h0m104-65h0m490-357h0m-458 300h0m103-42h0m223-119h0m-122 86h0m13 18h0m-243 83h0m108 3h0m63-30h0m80-92h0m-175 218h0m85-141h0m-13-42h0m-149 110h0m314-174h0m-105-75h0m-60 173h0m-338 150h0m191-119h0m241-169h0m-265 146h0m459-165h0m-529 277h0m199-82h0m-139 64h0m15 36h0m179-176h0m62 33h0m-364 161h0m464-271h0m-255 131h0m-229 134h0m201-119h0m260-90h0m-220 35h0m18 30h0m-148 109h0m-53 67h0m241-261h0m216-82h0m-361 119h0m137 75h0m69-103h0m-18-3h0m-159 119h0m-89 94h0m310-198h0m-173 59h0m137-23h0m-295 115h0m297-107h0m-273 161h0m495-358h0m-299 213h0m-204 158h0m134-104h0m-8-8h0m444-269h0m-540 319h0m-117-13h0m377-159h0m-158 60h0m304-144h0m-282 224h0m-120 10h0m316-196h0m8-46h0m-276 192h0m-58 61h0m375-235h0m-246 94h0m438-117h0m-178 93h0m-204 53h0m-195 207h0m-25-70h0m112-44h0m242-222h0m-421 328h0m262-123h0m-94 47h0m46-107h0m46-51h0m286-33h0m-530 206h0m358-154h0m-235 136h0m384-218h0m-337 154h0m-72 16h0m14-18h0m224-107h0m-303 255h0m70-148h0m183-23h0m163-170h0m-368 263h0m-1 21h0m46-39h0m-113-36h0m537-186h0m-306 134h0m365-188h0m-304 154h0m-139 78h0m-75 63h0m-49-19h0m432-278h0m-111 98h0m-433 216h0m256-97h0m290-221h0m-393 281h0m454-290h0m-440 220h0m299-64h0m225-148h0m-653 259h0m402-112h0m-38 25h0m-294 67h0m21 34h0m117 11h0m54-87h0m-185 200h0m81-120h0m-141 7h0m30 1h0m324-167h0m54 50h0m-74-7h0m-81 8h0m22 23h0m-112 164h0m-42-47h0m261-157h0m-118 19h0m-118 65h0m406-209h0m-358 291h0m153-132h0m224-167h0m-276 180h0m-238 166h0m100-171h0m439-204h0m-343 250h0m-176 79h0m481-244h0m-71-22h0m-194 163h0m-227 78h0m233-158h0m360-108h0m-439 212h0m109-110h0m273-124h0m-163 35h0m-442 240h0m69 30h0m109-43h0m-55 4h0m-147 30h0m180-126h0m-122 108h0m443-209h0m-294 198h0m-79 34h0m-32 6h0m474-254h0m-366 221h0m261-103h0m-448 113h0m92-24h0m321-125h0m177-132h0m-31-17h0m-209 150h0m91-14h0m-380 247h0m-62 14h0m119-112h0m41-26h0m-73-32h0m-23 52h0m504-197h0m-376 225h0m140-194h0m-178 229h0m-39 4h0m196-164h0m-56-29h0m21 120h0m443-308h0m-433 231h0m52-57h0m71-99h0m31 90h0m-415 257h0m468-290h0m-183 136h0m-188 130h0m271-252h0m-50 55h0m-56 13h0m79-42h0m236-89h0m-238 212h0m-173 8h0m-48 11h0m-20 25h0m435-281h0m-289 255h0m-280 46h0m40-6h0m567-264h0m31-25h0m-498 254h0m-5 25h0m243-107h0m-440 49h0m461-140h0m-121 154h0m37-120h0m94 73h0m51-104h0m-339 194h0m426-264h0m-319 233h0m84-70h0m-232 183h0m476-357h0m-142 137h0m-185 26h0m172-62h0m88-38h0m-96 49h0m-193 78h0m-118 134h0m39 20h0m229-161h0m-175 46h0m-166 150h0m203-159h0m-118 60h0m100-29h0m32-35h0m-72-18h0m383-209h0m-385 336h0m607-403h0m-204 101h0m-266 88h0m39 18h0m36-47h0m-101 99h0m-57 53h0m-211 104h0m287-160h0m283-158h0m-335 150h0m38 66h0m457-305h0m-425 209h0m-163 157h0m224-199h0m-264 163h0m71-35h0m211-83h0m-40-18h0m258-141h0m-220 75h0m-263 232h0m35-41h0m70-126h0m142 31h0m38-72h0m-270 164h0m152-139h0m114-4h0m-321 229h0m34-112h0m297-59h0m-97 30h0m-216 117h0m-66-46h0m44-4h0m17 68h0m216-241h0m-47 150h0m283-95h0m-58-125h0m-365 267h0m157-120h0m47 7h0m-266 74h0m394-214h0m-255 173h0m-132 31h0m107 8h0m-46-5h0m42 13h0m-36 96h0m23-52h0m376-256h0m-453 226h0m438-194h0m-294 151h0m-28 108h0m-47-57h0m48-64h0m266-106h0m-304 129h0m-141 85h0m29-13h0m466-183h0m-7-42h0m26 10h0m-327 176h0m122-127h0m-251 161h0m6-10h0m456-309h0m-282 259h0m394-245h0m-327 113h0m119-28h0m-293 218h0m261-150h0m166-71h0m-479 175h0m79-51h0m-35-12h0m152 19h0m16-36h0m157-125h0m198-78h0m-220 63h0m30 13h0m-196 111h0m-97 139h0m29-12h0m255-183h0m-260 155h0m55-96h0m30 93h0m256-235h0m-3 26h0m-123 101h0m-308 144h0m53 15h0m343-235h0m-309 246h0m270-244h0m83-61h0m-294 181h0m-210 236h0m595-473h0m-332 200h0m256-152h0m-182 115h0m-310 220h0m-102-52h0m598-220h0m-532 273h0m245-139h0m18-10h0m58-43h0m204-145h0m-139 148h0m124-94h0m-498 259h0m25 53h0m57-121h0m241-76h0m127-104h0m-306 258h0m-105-81h0m292-183h0m178 69h0m-338 90h0m104-52h0m12 11h0m-324 130h0m623-328h0m-388 228h0m221-160h0m-332 259h0m490-331h0m-672 303h0m511-268h0m-264 234h0m-47-28h0m89 10h0m-38-2h0m337-203h0m-405 303h0m403-290h0m-243 150h0m-84-5h0m116-56h0m-355 217h0m197-163h0m111 37h0m11-148h0m-67 200h0m-108 61h0m41-94h0m234-203h0m67 31h0m-354 225h0m406-200h0m-402 117h0m319-75h0m-55-40h0m-199 203h0m492-345h0m-557 394h0m85-133h0m295-128h0m-388 147h0m431-144h0m-367 226h0m186-131h0m241-131h0m-134 7h0m-75 93h0m56-16h0m154-99h0m-282 196h0m-254 128h0m541-352h0m-567 337h0m353-184h0m382-269h0m-396 202h0m-220 151h0m-25 30h0m357-247h0m-157 110h0m-168 139h0m183-132h0m364-256h0m-343 206h0m-217 257h0m477-349h0m-63 15h0m-442 401h0m136-200h0m-104 82h0m180-136h0m-226 136h0m105-38h0m139-185h0m-280 190h0m233-68h0m-56-32h0m109 12h0m294-161h0m-244 122h0m30 10h0m45 13h0m-137-28h0m-57 94h0m304-249h0m-498 291h0m-70 79h0m56-124h0m-15 63h0m252-184h0m204-52h0m-540 197h0m171-53h0m259 1h0m-387 182h0m256-105h0m429-398h0m-694 398h0m103 36h0m457-309h0m-441 230h0m-14 64h0m97-54h0m310-211h0m-352 233h0m386-239h0m-329 249h0m33-128h0m-211 186h0m268-129h0m224-163h0m-546 251h0m132-31h0m99-31h0m45-14h0m335-219h0m4 36h0m-206 110h0m-372 195h0m205-158h0m201-71h0m-253 155h0m23-93h0m343-122h0m-310 100h0m72 70h0m-248 156h0m258-200h0m-322 204h0m260-159h0m-46 18h0m34-65h0m198 15h0m-138-15h0m-159 14h0m226-78h0m-173 145h0m211-163h0m-238 171h0m-165 78h0m168-98h0m12-22h0m528-264h0m-497 284h0m-26 64h0m459-332h0m-466 319h0m66-86h0m-183 132h0m442-286h0m-235 103h0m-113 101h0m350-210h0m-260 135h0m126-61h0m-110 119h0m-87 6h0m552-323h0m-533 333h0m-167 50h0m43-26h0m242-75h0m188-189h0m95-25h0m-551 344h0m390-243h0m-263 86h0m22 50h0" stroke="#000" stroke-width="10" stroke-linecap="round" fill="none" stroke-opacity="0.45"/><path transform="scale(.1)" d="M689 5379h0m10-8h0m-48 12h0m3-34h0m-2-70h0m6 104h0m38-36h0m-37 40h0m20-11h0m-8 21h0m-2 20h0m-23 12h0m-19-102h0m34 106h0m-31-84h0m12 71h0m19-15h0m15 73h0m-27-74h0m-1-37h0m-25 51h0m-5-5h0m24-19h0m52 18h0m-69-87h0m38 84h0m-39-83h0m58 56h0m-30-56h0m-58 72h0m8-17h0m9-48h0m65 35h0m-18-20h0m10 73h0m-24 2h0m-1-99h0m13 25h0m-27-7h0m20 112h0m8-68h0m-25-49h0m18 36h0m-57 2h0m31-50h0m51 76h0m16 0h0m-59 20h0m0-29h0m-9-29h0m9-59h0m41 72h0m-16 29h0m-25-45h0m78 37h0m-62-65h0m9 56h0m-26-13h0m-7-4h0m33 34h0m18-7h0m-19-27h0m47 22h0m-30-5h0m-66-91h0m58 103h0m17 43h0m-61-31h0m48-39h0m-3-2h0m31 26h0m-31 39h0m31-96h0m-27 28h0m-10 39h0m-63-75h0m34-17h0m6 57h0m26-14h0m-57 38h0m41-83h0m38 20h0m-34 9h0m-5 30h0m1-8h0m-17-6h0m36-11h0m-15 9h0m18-7h0m-21 51h0m7-40h0m-1 14h0m-12 2h0m58 54h0m-72-85h0m39 2h0m-43 29h0m53 43h0m-51-106h0m-3 25h0m38 34h0m42 9h0m-46 16h0m20 8h0m-38-67h0m17 18h0m-16 14h0m3 35h0m-1-37h0m-1-27h0m33 54h0m-1-17h0m1 16h0m-32-54h0m20 53h0m-6-67h0m23 57h0m-19-5h0m-6-51h0m-3-12h0m15 29h0m8 44h0m-51-6h0m34-52h0m-59 9h0m77 114h0m-37-73h0m22 22h0m27-72h0m-9 40h0m-22 34h0m-51-47h0m43 32h0m-11-76h0m6 24h0m22 9h0m-28 38h0m31-53h0m24 91h0m-90-52h0m61-36h0m-21 61h0m18-39h0m33 34h0m-34 12h0m55-17h0m-28-2h0m-59-45h0m5 58h0m-24-82h0" stroke="#bdbdbd" stroke-width="11" stroke-linecap="round" fill="none" stroke-opacity="0.9"/><path transform="scale(.1)" d="M1738 4635h0m19 20h0m-20 35h0m8-49h0m6 9h0m28 6h0m-37 16h0m23-6h0m-44-37h0m29 49h0m-12-38h0m4 16h0m25-1h0m-24-1h0m2-24h0m17 24h0m-43 30h0m58-2h0m-53-10h0m50-11h0m-2-14h0m2-26h0m-37 42h0m35-50h0m-15 38h0m-6 11h0m-15-2h0m6-34h0m15 32h0m-27 11h0m14-49h0m-1 34h0m22-26h0m5 19h0m-13 16h0m-1-3h0m16-16h0m-46 20h0m37 1h0m-3 15h0m-27-20h0m5 7h0m-1-36h0m50 36h0m-31-18h0m0-17h0m-13 31h0m5 10h0m21-13h0m-1-11h0m-7 19h0m11-13h0m-48-26h0m19 41h0m-17 15h0m-4-17h0m35-6h0m4 1h0m-7 4h0m-31-31h0m22 30h0m-16-5h0m11-41h0m-10 9h0m38 25h0m-26-6h0m-17-19h0m15 33h0m-7-28h0m14 13h0m-13 13h0m6-20h0m31 26h0m-42-48h0m19 35h0m6 26h0m5-52h0m-10 8h0m18 9h0m-22 6h0m-30 23h0m-11-13h0m51 11h0m32-19h0m-50-20h0m44 30h0m-54 6h0m7-28h0m-10 21h0m0 18h0m55 0h0m-62-22h0m41 15h0m-13-10h0m-17-28h0m19-1h0m2-1h0m22 37h0m-33-20h0m-10 24h0m2-6h0m3-26h0m49 16h0m-43 19h0m15-25h0m-17 14h0m-3-19h0m13-6h0m-29 1h0m3 5h0m51 14h0m-26 10h0m39-25h0m-65-7h0m43 20h0m-15-3h0m-23 22h0m40 3h0m61-22h0m-79-16h0m20 3h0m-53-2h0m65 31h0m-27-6h0m-36 1h0m17-28h0m37 3h0m-16-6h0m-4 6h0m22-3h0m-12-22h0m-25 23h0m45-5h0m-74 6h0m9-3h0m10 20h0m0 2h0m23 12h0m45-5h0m-89-32h0" stroke="#a82e2e" stroke-width="11" stroke-linecap="round" fill="none" stroke-opacity="0.8"/><path transform="scale(.1)" d="M430 4259h0m-17-62h0m-40-6h0m63 21h0m-30-58h0m-40 16h0m67 64h0m-35-53h0m22 55h0m4-42h0m-14-18h0m-52 0h0m57 71h0m0-63h0m-23 15h0m47-33h0m15 59h0m-33-6h0m-1-28h0m-33-49h0m41 81h0m-13-12h0m5-3h0m12 59h0m-27-69h0m17-9h0m39 39h0m-50 4h0m-32-15h0m58 3h0m-37-28h0m30 4h0m-30 34h0m28-46h0m-4-65h0m-30 42h0m35 57h0m9-39h0m6 32h0m-41-4h0m15 7h0m-10-16h0m18-41h0m15 63h0m-15 11h0" stroke="#f4a460" stroke-width="12" stroke-linecap="round" fill="none" stroke-opacity="0.55"/><path transform="scale(.1)" d="M400 4152h0m-45-9h0m38 52h0m14-5h0m-67 6h0m55-32h0m-17 0h0m4-8h0m14 42h0m-37 0h0m35-17h0m-6 15h0m-7-2h0m-44-69h0m28 32h0m23 13h0m-25-7h0m5 12h0m-10 17h0m43-13h0m-41-30h0m26 13h0m7 22h0m-16-10h0m-23 7h0m32-2h0m-12 17h0m-36-41h0m29-12h0m3 25h0m-22-45h0m20 46h0m5-5h0m-6 0h0m13-11h0m10 53h0m-12-27h0m13 0h0m-26-25h0m-9 53h0m17-24h0m21-5h0m-46-55h0m17 53h0m3 3h0m-3-14h0m12-4h0m8 17h0m-11-11h0m10 44h0m33-41h0m-34-10h0m-36-16h0m39 27h0m25 32h0m-18 12h0m-50-20h0m22-12h0m42 4h0m-41-14h0m30-11h0m8 3h0m-23 36h0m23-8h0m-7-39h0m19-11h0m-39 4h0m36 55h0m-56-44h0m31 24h0m-31 16h0m32-28h0m-6 10h0m-15-28h0m-17 17h0m12 17h0m1 2h0m8-31h0m-1 26h0m3-44h0m-25 67h0m36-44h0m37 24h0m-59-10h0m26 17h0m-6-22h0m-21-14h0m13 0h0m33 44h0m-31-34h0m13-6h0m-12-6h0m-20 16h0m37-1h0m-27 4h0m4-21h0m-10 6h0m9-5h0m28 23h0m-13 12h0m31 15h0m-72-45h0m29 30h0m21 1h0m-22-17h0m-8 12h0m13-3h0m15-33h0m-25 18h0m-16-2h0m16 38h0m23-30h0m-17-19h0m1 7h0m-12 37h0m-15-35h0m38 43h0m-27-46h0m15 34h0m-12-42h0m26 59h0m3-29h0m-36-26h0m29 39h0m0-6h0m-7-20h0m-7-2h0m2 20h0m-2-28h0m-28 13h0m21 29h0m4-75h0m33 67h0m-49-17h0m12-19h0m-11 13h0m34-4h0m1 12h0m-20-8h0m11-7h0m12-7h0m-29 22h0m10-10h0m6 15h0m-41-33h0m47 9h0m-3-16h0m20 40h0m-3 2h0m-20-4h0" stroke="#0000ff" stroke-width="15" stroke-linecap="round" fill="none" stroke-opacity="0.95"/></g>
<rect x="28.6" y="408.2" width="157.0" height="142.8" fill="none" stroke="#c8c8c8" stroke-width="1.2"/>
<path d="M62.2 551.0v3M95.7 551.0v3M129.2 551.0v3M162.7 551.0v3M28.6 408.6h-3M28.6 439.0h-3M28.6 469.9h-3M28.6 500.3h-3M28.6 531.2h-3" stroke="#c8c8c8" stroke-width="0.9" fill="none"/>
<rect x="155.4" y="508.5" width="30.2" height="42.5" fill="#fff" stroke="#c8c8c8" stroke-width="1.1"/><g font-size="3.15" fill="#333" filter="url(#gs)"><text x="160.8" y="517.2">HISP_WES_20k</text><text x="160.8" y="521.1">GBR</text><text x="160.8" y="524.9">FIN</text><text x="160.8" y="528.8">IBS</text><text x="160.8" y="532.6">CEU</text><text x="160.8" y="536.5">YRI</text><text x="160.8" y="540.4">CHB</text><text x="160.8" y="544.2">JPT</text><text x="160.8" y="548.1">TSI</text></g><circle cx="158.0" cy="516.1" r="0.55" fill="#000" fill-opacity="1"/><circle cx="158.0" cy="520.0" r="0.6" fill="#3030c0" fill-opacity="0.7"/><circle cx="158.0" cy="523.8" r="0.6" fill="#ff7070" fill-opacity="0.7"/><circle cx="158.0" cy="527.7" r="0.6" fill="#c070ff" fill-opacity="0.7"/><circle cx="158.0" cy="531.5" r="0.6" fill="#999" fill-opacity="0.7"/><circle cx="158.0" cy="535.4" r="0.6" fill="#c06060" fill-opacity="0.7"/><circle cx="158.0" cy="539.3" r="0.6" fill="#f0a860" fill-opacity="0.7"/><circle cx="158.0" cy="543.1" r="0.7" fill="#0000ff" fill-opacity="1"/><circle cx="158.0" cy="547.0" r="0.6" fill="#30e030" fill-opacity="0.7"/>
<g><path transform="scale(.1)" d="M2508 4531h0m-124 196h0m-4 393h0m16-363h0m93-43h0m198-201h0m-129 109h0m-137 511h0m70-422h0m-83 306h0m-12 117h0m31-273h0m-20 117h0m-90 199h0m-27 199h0m261-576h0m-225 87h0m29 189h0m133-349h0m-110 47h0m-52-269h0m173-47h0m-57 88h0m-50 298h0m-61 367h0m-4 168h0m35-356h0m-5 203h0m-26 46h0m178-566h0m-170 492h0m-34 231h0m263-944h0m-23 139h0m-141 403h0m-90 369h0m167-708h0m-164 584h0m97-175h0m119-461h0m69 126h0m-295 524h0m105-631h0m47 128h0m-82 399h0m219-671h0m-239 630h0m88-696h0m202 95h0m-172 238h0m-8-31h0m-125 303h0m-2 267h0m36-182h0m37-34h0m43-182h0m-109 286h0m54-481h0m49 285h0m25-306h0m-149 695h0m102-487h0m-75 251h0m165-320h0m3-224h0m-46 163h0m-44 196h0m-66 80h0m-46 217h0m-19 147h0m64-211h0m-59 195h0m28-202h0m29-428h0m122-126h0m-163 657h0m255-679h0m-158 176h0m-68 359h0m164-547h0m-1-48h0m-139 199h0m-66 554h0m88-457h0m-55 328h0m41-100h0m130-428h0m-216 605h0m-13 145h0m248-773h0m-196 321h0m154-370h0m-8 108h0m-176 746h0m92-471h0m-73-124h0m66 47h0m-93 368h0m13-43h0m153-576h0m-99 605h0m55-626h0m-40 406h0m-66 355h0m-16-345h0m179-362h0m-69 447h0m-52-55h0m38-164h0m-43 381h0m139-502h0m-185 676h0m25-116h0m33-434h0m23 198h0m-76 313h0m119-610h0m-90 413h0m98-630h0m-99 671h0m76-244h0m56-315h0m-45 283h0m-13-35h0m43-132h0m-22 90h0m35 107h0m-164 367h0m19-247h0m155-342h0m-59-118h0m9-106h0m-107 494h0m100-120h0m-75 257h0m101-339h0m-71 413h0m176-797h0m-173 660h0m-75 258h0" stroke="#000" stroke-width="9" stroke-linecap="round" fill="none" stroke-opacity="0.5"/><path transform="scale(.1)" d="M2587 4468h0m68-74h0m-79 93h0m-129 60h0m134-68h0m75 53h0m-38-8h0m-51-69h0m9 102h0m-40-42h0m-16-31h0m56 101h0m-73-151h0m108 125h0m-89 28h0m41-149h0m218 14h0m-223 99h0m-31 25h0m106-16h0m-56-71h0m-41 111h0m124 10h0m42-164h0m-132 116h0m-26-68h0m83 11h0m9-59h0m-31 15h0m60 91h0m-18-177h0m-48 132h0m-81 70h0m141-63h0m-16-22h0m21-31h0m-6 78h0m69 31h0m-178-1h0m3-62h0m98 41h0m-82-38h0m88-15h0m-86 72h0m33-230h0m-40 153h0m62 96h0m56-76h0m11-189h0m-120 121h0m78-34h0m-50 134h0m98-155h0m-176 160h0m146-34h0m-48 14h0m-49-6h0m105-72h0m-23-56h0m-116 142h0m40-21h0m58 59h0m-124 1h0m82-120h0m-39 185h0m88-131h0m-89-26h0m13 169h0m14-54h0m0-60h0m56-120h0m-153 167h0m45 71h0m159-245h0m-69 151h0m-31-20h0m-21 0h0m-59 19h0m21-173h0m-16 197h0m113-39h0m7-41h0m23-42h0m-86-41h0m49 35h0m-124 57h0m69 60h0m-26-136h0m45 56h0m-82 38h0m73-113h0m37 38h0m88 102h0m-73-153h0m-20 173h0m36-41h0m51-57h0m-51 115h0m-37-45h0m7 9h0m-74 42h0m140-120h0m-39 169h0m-100-87h0m-25-168h0m147 131h0m2-102h0m-157 49h0m45-53h0m51 3h0m57 100h0m-30 15h0m7-9h0m45-15h0m-104 119h0m38-138h0m160 18h0m-329 118h0m238-121h0m-8-100h0m-70 127h0m-3-124h0m17 98h0m0-40h0m13-7h0m-127 105h0m-5-118h0m167 38h0m-14 1h0m30 60h0" stroke="#000" stroke-width="9" stroke-linecap="round" fill="none" stroke-opacity="0.5"/><path transform="scale(.1)" d="M2615 4428h0m555-122h0m-85 49h0m-196 51h0m-137-79h0m364 36h0m-67-1h0m-221-63h0m261 19h0m-264 47h0m255-13h0m-114-62h0m-196 55h0m235 10h0m-141 30h0m83-45h0m413 79h0m-282-67h0m-334 4h0m242 4h0m-83-39h0m107 6h0m35-13h0m-143 74h0m-74-21h0m-43-7h0m220-4h0m-235-68h0m115 52h0m75 8h0m-205 33h0m363 1h0m-187-15h0m50 5h0m-42-37h0m167 46h0m-90-5h0m-249 37h0m161-17h0m148-80h0m193 40h0m-483-58h0m186-4h0m-265 4h0m290 74h0m1 21h0m-139-26h0m-35-20h0m53 10h0m92 35h0m182-71h0m-94 54h0m-248-19h0m469-24h0m-311-2h0m213 18h0m-172-5h0m-65-15h0m215 39h0m-313 7h0m12 30h0m-46-66h0m-24-28h0m366 60h0m-195-57h0m-51 61h0m146 28h0m-90-52h0m-85 20h0m355 21h0m-158-7h0m-530-66h0m587-53h0m-118 44h0m133 26h0m-270-20h0m114 9h0m-235 32h0m53-41h0m321-40h0m15 81h0m-222-14h0m77-18h0m70 73h0m-373 32h0m434-68h0m-190 23h0m-111 15h0m99-85h0m196-3h0m-30 55h0m-172-2h0m160-8h0m-155-3h0m-97-48h0m330 119h0m-134-16h0m-38-22h0m329-9h0m-327-25h0m13 1h0m89 12h0m-85-28h0m-62 60h0m191-3h0m-284-53h0m241-17h0m-155 74h0m-119-125h0m313 97h0m6-64h0m-227 54h0m278-67h0m-396 36h0m128 25h0m27-31h0m-144 32h0m235-59h0m-313 58h0m14-85h0m337 27h0m-111 108h0m274-8h0m-188-89h0m108 37h0m-255 33h0m78-94h0m-35 114h0m-108-51h0m-51-19h0m67 69h0m157-18h0m-93-55h0m45 35h0m-228 66h0m245-97h0m-140 21h0m355-10h0m62 47h0m-186-65h0m-222 0h0m-9-11h0m325 104h0m-318-111h0m246 26h0m-252 57h0m-342-35h0m423-38h0m-126 50h0m332 12h0m74-18h0m-348 32h0m48-5h0m282-59h0m-438 64h0m185-84h0m194 39h0m-36-50h0m-305 92h0m-11-35h0m34-48h0m111 36h0m-70-7h0m115 44h0m-86-53h0m-59 22h0m14-7h0m47 45h0m173-55h0m120 69h0m-153-26h0m168-65h0m-263 75h0m272-17h0m-72 12h0m-373 14h0m241-55h0m146-24h0m-149-25h0m-77 21h0m-100 18h0m114 5h0m61-35h0m20 9h0m-113 63h0m96-24h0m14 17h0m98 5h0m-133-29h0m-111-16h0m85 44h0m167-75h0m150-5h0m-355 66h0m112 43h0m-35-93h0m-53 14h0m108 19h0m-40 55h0m-13 0h0m171-62h0m-58 72h0m-340 8h0m160-31h0m63-9h0m-4-19h0m-121 17h0m-84-10h0m420-37h0m-329-21h0m48 105h0m-20-26h0m-148-69h0m347 46h0m27-26h0m-101 15h0m-208 36h0m221 19h0m-316-21h0m247 59h0m36-120h0m-110 36h0m-240-6h0m502-29h0m-186 38h0m-201 2h0m-92-64h0m375 63h0m-105 54h0m-291-57h0m528 8h0m-474 51h0m184-28h0m187 27h0m98-16h0m-256-51h0m352 44h0m-402 9h0m-20-27h0m73-5h0m-140-49h0m267 9h0m-154 24h0m-182-15h0m132-14h0m29 57h0m205 39h0m1-48h0m76-39h0m-179 57h0m-125-35h0m384 58h0m-215-63h0m-51 30h0m116-42h0m-278-20h0m322 29h0m-477-49h0m166 42h0m216 2h0m37 24h0m-173-32h0m-23 49h0m142-21h0m-57-54h0m168 64h0m-239-16h0m8 2h0m13-13h0m-32-12h0m5 34h0m42-19h0m31 7h0m-8-12h0m136-20h0m-168 83h0m78-40h0m-38-69h0m-22 81h0m-110 17h0m-147-82h0m273 29h0m-49-18h0m111 50h0m-61-64h0m130 28h0m-280 13h0m127 10h0m-4-18h0m205 56h0m11-69h0m-47 19h0m-280 56h0m37-73h0m312 71h0m-301-70h0m61 5h0m-21 5h0m86-12h0m304-15h0m-484 137h0m110-86h0m98-14h0m-252 15h0m527 3h0m-457 14h0m235 28h0m-106-45h0m196 6h0m-636 14h0m642-40h0m-288 23h0m-216-8h0m483 20h0m-146-12h0m168 22h0m-49-37h0m-376 21h0m256-34h0m-85 27h0m-77-37h0m-20 42h0m66-100h0m52 124h0m-232-51h0m389-45h0m-272 69h0m86-33h0m70 88h0m173-112h0m32 89h0m-98-75h0m-384 25h0m-4 31h0m-60-49h0m87 32h0m64-22h0m203 32h0m-133-35h0m3-1h0m-19 29h0m10 5h0m209-16h0m-93 20h0m-456-53h0m633 24h0m25-31h0m-46 70h0m91-94h0m-123 105h0m7-52h0m-228 17h0m-49-1h0m-216-28h0m215 33h0m307-13h0m-178-31h0m155 18h0m-164 12h0m-7-29h0m14 34h0m39 28h0m-256-17h0m164-62h0m-65 39h0m101 21h0m159 4h0m-129-84h0m-20 66h0m208-12h0m25 57h0m-81-132h0m-171 13h0m31 40h0m-56 7h0m-78 22h0m148 25h0m81 46h0m183-66h0m-476 0h0m209-26h0m-57 46h0m105-40h0m-89 16h0m227 31h0m-185-15h0m175-76h0m-145 70h0m-120-97h0m150 80h0m46-18h0m21 9h0m-343 39h0m144 13h0m-73-36h0m224-20h0m-173-10h0m98 68h0m-127-7h0m372-48h0m-374-18h0m260 118h0m-160-54h0m68 8h0m-23-31h0m-118 20h0m21 0h0m119-58h0m107 63h0m-423-28h0m196-38h0m351 1h0m-272-1h0m58 64h0m-204-93h0m230-24h0m19 114h0m-108-20h0m226 14h0m-335-5h0m22 35h0m514-6h0m-205-44h0m-480 28h0m54-6h0m603-16h0m-471 25h0m105-51h0m-280-50h0m259 114h0m76-49h0m128 10h0m-194 76h0m-200-99h0m234 59h0m60-14h0m-281 15h0m301-61h0m-516 6h0m757 40h0m-685-69h0m555 71h0m-328-32h0m151 7h0m101 65h0m-135-64h0m-110-13h0m289-11h0m-273 15h0m92 40h0m66-4h0m-121-7h0m300-87h0m-256 54h0m98 81h0m-174-109h0m182 32h0m121-28h0m-153 2h0m-7-10h0m-78 68h0m139-6h0m-340-84h0m47 128h0m244-84h0m-33 9h0m124 6h0m-124-10h0m65 27h0m-366-3h0m277 0h0m-134 64h0m100-120h0m-170-24h0m41 127h0m247-120h0m-275 65h0m232 39h0m-384-80h0m272 65h0m11 41h0m102 2h0m-79-66h0m86 6h0m-159 33h0m16-20h0m-13-21h0m-131-12h0m-86-1h0m363-47h0m-353 26h0m334 81h0m320 4h0m-260 6h0m-257-69h0m249 47h0m-242-34h0m14-13h0m183-7h0m-236-39h0m150 26h0m172-11h0m-205 41h0m46 26h0m167-16h0m-372 41h0m155-19h0m130-46h0m-184-9h0m155 68h0m-287-43h0m313-4h0m-74-32h0m223 69h0m-256-22h0m72-10h0m9-39h0m-173 71h0m-1-15h0m150-39h0m29 55h0m-180-4h0m297 30h0m14-44h0m-363 20h0m-35 15h0m12 46h0m200-107h0m88 43h0m-297 7h0m68-77h0m314 25h0m-239-24h0m54 67h0m191 11h0m-112-17h0m129 0h0m-310-82h0m31 49h0m148 31h0m153-5h0m-50-42h0m25 44h0m-156-50h0m34 14h0m-76 54h0m113-45h0m-180-17h0m194 41h0m136-79h0m173 34h0m-200 7h0m-10-1h0m-564 55h0m471-62h0m-167 31h0m-54-16h0m79-9h0m-12 54h0m-154-34h0m214 30h0m-339 23h0m251-51h0m-175-5h0m199 3h0m-17-32h0m-239 66h0m214-86h0m187 21h0m-46 64h0m-31 19h0m-271-108h0m215 92h0m-330-36h0m317-29h0m105 53h0m-217-21h0m352 34h0m-244-36h0m-77 41h0m375-37h0m-223-19h0m-70-45h0m-149 46h0m307 21h0m-38 11h0m323-27h0m-460 54h0m-170-23h0m156-18h0m-393 35h0m594 9h0m-211 7h0m-11-61h0m81 27h0m-73 20h0m275-40h0m-225-39h0m-18 47h0m273-30h0m-233 47h0m-200 28h0m442-64h0m-152 38h0m157-16h0m-123 30h0m-324-21h0m215 2h0m149-23h0m-420 0h0m341 28h0m-151-23h0m330 23h0m-209-37h0m-184-1h0m-33-18h0m136 52h0m8-2h0m179 60h0m-238-132h0m235 107h0m-187-31h0m18-77h0m255 63h0m-254-21h0m-80-2h0m188-50h0m-120 104h0m-146-65h0m293 54h0m-213-109h0m256 106h0m172 38h0m-261-86h0m-3 27h0m-423-3h0m19-4h0m488 14h0m-53 43h0m-15 6h0m-5-70h0m-104 18h0m89-19h0m137 18h0m-203-1h0m-87-9h0m361-13h0m-436 11h0m190 84h0m17-34h0m-122 61h0m47-123h0m124 47h0m-83 45h0m-325-124h0m103 48h0m387 82h0m-375-110h0m105 12h0m-314-21h0m584 53h0m-93-32h0m-180-19h0m-3 42h0m56-12h0m323 47h0m-470-34h0m302 100h0m139-125h0m-391 41h0m291-35h0m60 62h0m-219 8h0m-95-78h0m22 10h0m192 46h0m120 57h0m-364-89h0m189 19h0m162 42h0m-398-62h0m215-22h0m3-38h0m-38 56h0m-103-11h0m202 24h0m-240-8h0m36-16h0m287 40h0m-156-70h0m117 13h0m456 81h0m-500-78h0m-188 35h0m267-17h0m10 45h0m-299-34h0m372-2h0m-350 37h0m374-73h0m-232 41h0m-68-51h0m-110 21h0m213-24h0m79 74h0m-184-44h0m323-5h0m-229 0h0m-254 114h0m308-46h0m-306-34h0m199 30h0m74-13h0m-99-42h0m-7 39h0m-19-30h0m133-11h0m72 43h0m-52-41h0m-316 47h0m78-1h0m378-33h0m-351 23h0m-272-65h0m287 76h0m209-86h0m252 51h0m-540 49h0m89-66h0m303-17h0m-21 12h0m-356-68h0m153 134h0m72-47h0m-110 42h0m-99-82h0m1 1h0m189 38h0m146 12h0m-172-20h0m228 36h0m-225 15h0m61-95h0m-33 32h0m-247 24h0m-174 60h0m403-75h0m-267-8h0m300 61h0m24-51h0m-22 0h0m-108-41h0m22-2h0m-106 43h0m119 75h0m-105-111h0m165 17h0m-197 31h0m-16-14h0m148-2h0m2 67h0m159-51h0m-76 17h0m119-81h0m-11 105h0m-130-75h0m108 57h0m-170-8h0m-4-2h0m-76-13h0m-34 26h0m154-15h0m-133 5h0m266-23h0m-116-28h0m-34 36h0m85-3h0m-301-71h0m412 112h0m-93-13h0m-140-58h0m-315-6h0m146 31h0m500 58h0m-499-73h0m222 79h0m176-48h0m-359-28h0m204 38h0m285-56h0m-523 78h0m347-23h0m150-53h0m-230-14h0m-157 35h0m-72-28h0m-28 30h0m-32-11h0m228 6h0m-19 92h0m-198-102h0m138 24h0m-53 9h0m0 38h0m200 18h0m-207-129h0m4 131h0m109-38h0m140 2h0m-83-4h0m-269 3h0m111-130h0m-83 111h0m84-74h0m-66 51h0m-50 66h0m607-152h0m-487 113h0m42 32h0m-111-71h0m65 17h0m-13-28h0m221 1h0m-300 33h0m348 13h0m162-58h0m-192 19h0m-155 22h0m-293 29h0m494-28h0m-262-3h0m123 46h0m51-8h0m124-3h0m-117-91h0m-62 53h0m-207 6h0m232 36h0m-123 41h0m97-74h0m-129-71h0m-23 112h0m42-56h0m282 2h0m-326 57h0m-28-92h0m-15-16h0m-52 115h0m243-8h0m-223-51h0m260 32h0m-234 17h0m310-12h0m10 52h0m-300-68h0m412 23h0m-603-74h0m697 34h0m-105-1h0m-351-25h0m-185 19h0m265 47h0m-128-74h0m307 68h0m0 1h0m-278 18h0m346-16h0m-356-23h0m-15-40h0m25 92h0m78-37h0m280 24h0m-497-73h0m241-7h0m-227 25h0m614 14h0m-494-17h0m-5 25h0m96-19h0m115 87h0m-346-67h0m237-53h0m-309 51h0m116 36h0m57-33h0m158-5h0m76-9h0m66-15h0m-309 33h0m420 49h0m-233-60h0m-26 2h0m58 5h0m-169-19h0m94-19h0m-160-10h0m268 8h0m78 60h0m-629-109h0m624 97h0m-174-23h0m85-7h0m-108-1h0m-195-5h0m261-28h0m2 67h0m-232 12h0m418-36h0m-167 31h0m250-56h0m-660 31h0m244 7h0m28-82h0m289 35h0m-417-30h0m-71 38h0m396 41h0m62-93h0m-342 76h0m48 40h0m125 6h0m35 10h0m8-88h0m14 70h0m-251-77h0m153 78h0m92 18h0m-103-25h0m61 3h0m-101-41h0m55-61h0m52 0h0m-198 92h0m405 11h0m-159-59h0m26 45h0m-87-56h0m20 43h0m-89-26h0m53 32h0m189 23h0m-74 16h0m-15-49h0m-279-4h0m218 18h0m-241-31h0m413 53h0m-181-87h0m109 98h0m-181-38h0m-197-15h0m310 19h0m117 66h0m-472-101h0m191 41h0m149-39h0m-174 58h0m75 26h0m-108-114h0m-156 29h0m198 18h0m-123-53h0m207 70h0m-6 6h0m-243-55h0m298 101h0m38-50h0m144-15h0m-712-14h0m93 6h0m601 79h0m-505-93h0m271-3h0m-108 14h0m55 23h0m57 0h0m63-34h0m-88 45h0m368-19h0m-225-24h0m-15-4h0m-186 7h0m208 28h0m-139-73h0m-121 116h0m-128-12h0m76-24h0m58-78h0m454 94h0m-143-26h0m-402 46h0m129-43h0m-84-13h0m217 24h0m-132-84h0m-49 20h0m392 28h0m-85 5h0m31 70h0m-12-65h0m-104 24h0m132-71h0m-198 25h0m-22 8h0m-28-73h0m205 106h0m-48-7h0m-255-32h0m455 120h0m-135-118h0m-71 65h0m-38-72h0m-152 7h0m-282 50h0m386-6h0m281-23h0m-145-19h0m135 17h0m-378-54h0m273 5h0m-231 16h0m155 44h0m-187-12h0m111 49h0m254 7h0m-177-36h0m-110-3h0m279-27h0m-489 2h0m369 59h0m34-113h0m-230 97h0m-28 3h0m122-76h0m3 28h0m89-6h0m-214 23h0m270-37h0m-134 25h0m-247 21h0m242 18h0m-254-89h0m247 45h0m158-5h0m-95-12h0m-301 43h0m101 23h0m59-59h0m-124 38h0m16-53h0m250 48h0m-108-13h0m-191-10h0m293 45h0m-45-84h0m64 12h0m-240-8h0m160-21h0m-108 90h0m131-1h0m-211-27h0m0-54h0m-20 60h0m35 6h0m84-23h0m155-58h0m-39 73h0m-135-38h0m14 32h0m185-3h0m-262 47h0m136-26h0m232-14h0m-356-25h0m-82 44h0m193-63h0m-47 53h0m4-8h0m300-38h0m-14-31h0m-186 72h0m67-41h0m24 75h0m-210 6h0m94-28h0m-163 30h0m190-88h0m-164 34h0m293-11h0m-99 34h0m50-22h0m-187-31h0m-22 95h0m-2-88h0m139 13h0m-110 8h0m188-14h0m-268 13h0m-20 102h0m43-130h0" stroke="#000" stroke-width="10" stroke-linecap="round" fill="none" stroke-opacity="0.45"/><path transform="scale(.1)" d="M2717 4280h0m12 60h0m-135-50h0m128 38h0m-7-76h0m-69 28h0m84 36h0m-59-69h0m-84 6h0m59-13h0m-47 5h0m23-13h0m-39 28h0m112 22h0m8 29h0m-142-45h0m55 62h0m96-22h0m-14 35h0m-121-76h0m124 13h0m-78-3h0m60-18h0m-82 2h0m128 51h0m-111-29h0m74-40h0m-12 31h0m63 24h0m-135-105h0m121 87h0m-32 38h0m-59-8h0m64-9h0m-123-62h0m150 69h0m-41-58h0m-70-40h0m116 86h0m-155-45h0m140 70h0m-65-82h0m31 65h0m19 14h0m-48-91h0m73 76h0m-144-58h0m-1 4h0m182 38h0m-55 35h0m6 20h0m-101-106h0m4 38h0m44 29h0m-43 15h0m46 3h0m-37-127h0m90 119h0m-27-25h0m-40-75h0m-79 95h0m109-41h0m-41-38h0m87 116h0m-5 4h0m-52-58h0m29 21h0m-71-78h0m-41 16h0m23 20h0m128-28h0m-42 59h0m-3 33h0m-37-79h0m45 34h0m-33 30h0m-42-38h0m-57-12h0m97 109h0m-80-138h0m33 11h0m-48 3h0m58-41h0m9 91h0m10-89h0m-40 64h0m110 48h0m-11-65h0m-90 0h0m71-14h0m-112 36h0m116 62h0m23-21h0m-43-33h0m27 23h0m37-9h0m-99-2h0m85-1h0m-24 27h0m6-35h0m19-16h0m-53 49h0m20 35h0m-95-85h0m107-9h0m-19 32h0m-63-36h0m16 20h0m-11-3h0m39 79h0" stroke="#000" stroke-width="10" stroke-linecap="round" fill="none" stroke-opacity="0.45"/><path transform="scale(.1)" d="M3326 4380h0m119-12h0m118-64h0m-99 28h0m-274-23h0m337 48h0m-40-17h0m-196-11h0m-1-29h0m-2 10h0m128 8h0m-106-10h0m3 0h0m-131 60h0m393-12h0m-230-30h0m-126 32h0m312 3h0m10 1h0m-270-18h0m30 6h0m163-3h0m-164-35h0m224 44h0m56-39h0m-47-2h0m57 10h0m-316 54h0m98-2h0m218-11h0m-340-50h0m-53 23h0m192-33h0m170 84h0m-362-16h0m147-50h0m222 22h0m16-25h0m-196 2h0m84 11h0m21-13h0m24 47h0m-215-14h0m240-38h0m-61 21h0m-292 12h0m22-8h0m-27-12h0m354-5h0m-77 1h0m28 33h0m-275-4h0m96-32h0m116 13h0m-103 10h0m117-21h0m76 1h0m-70 5h0m-175 0h0m166 2h0m-132 36h0m159-42h0m-69 2h0m-211 4h0m67-44h0m135 46h0m-117-18h0m328 34h0m-34-14h0m-237 8h0m-69 27h0m171-81h0m55 39h0m-197-4h0m131-34h0m126 32h0m-234 3h0m-118 13h0m173-16h0m193 14h0m-70 14h0m-258-18h0m244 38h0m-159-49h0m95 6h0m53 4h0m-106 0h0m-75-24h0m157 33h0m36-15h0m-246 27h0m44 7h0m166-2h0m-166 1h0m112-30h0m-133 25h0m153 10h0m126-17h0m-12 31h0m-219-50h0m-3 3h0m36 33h0m194-64h0m5 64h0m-191-31h0m153 11h0m-214-11h0m297 36h0m-385-37h0m-2 57h0m215-77h0m12 26h0m38-58h0m-81 64h0m-25-12h0m-160 28h0m151-3h0m-10-20h0m-113 20h0m138-35h0m98 15h0m-131 15h0m62-29h0m146 28h0m-253 10h0m278 2h0m-352-18h0m23-6h0m137 1h0m122-33h0m-42 52h0m-199-51h0m187 49h0m-93 25h0m88 0h0m152-13h0m-353-21h0m327-17h0m-84 45h0m-247-71h0m5 3h0m-19-9h0m183 36h0m13 29h0m-10-24h0m-114 5h0m-69-21h0m72-4h0m155-11h0m68 13h0m-47 51h0m-73-45h0m117-28h0m-120-2h0m52 33h0m122-18h0m-194-37h0m-46 79h0m196-36h0m-166 39h0m178-32h0m72-17h0m-254 63h0m-101-43h0m8 15h0m9 9h0m67-4h0m5 4h0m-109 31h0m349-59h0m-246-28h0m-3 62h0m29-58h0m171 44h0m-114 1h0m3 13h0m50-40h0m81 83h0m-336-70h0m193 20h0m105-16h0m-186 38h0m73-12h0m108-17h0m-171 0h0m116 19h0m-28-19h0m74 20h0m43-4h0m11-38h0m13 7h0m-27-28h0m40 77h0m-102-8h0m-14-28h0m53 11h0m-166 2h0m42-71h0m24 29h0m-122 26h0m256 7h0m-147 4h0m83-54h0m21 14h0m-205 25h0m51-9h0m192-57h0m-294 69h0m170 6h0m-159-34h0m-63-5h0m277 30h0m-39 5h0m-96-10h0m212 15h0m27-5h0m-315-7h0m80 46h0m254-31h0m-191 9h0m196-30h0m-70 4h0m73-46h0m-7 55h0m-25-11h0m-37 37h0m-191-48h0m22-11h0m-38 38h0m-54-4h0m-78-39h0m100 58h0m218-18h0m-110-17h0m91 50h0m28-35h0m65-31h0m-138 3h0m72 34h0m-288-18h0m-27 29h0m62-7h0m-36-47h0m-21 22h0m65-13h0m-18 37h0m186 7h0m-237-49h0m334-3h0m16-1h0m-358 81h0m337-52h0m-152 15h0m-50 15h0m258-12h0m-145 8h0m117 16h0m-101-47h0m-146 9h0m-67-11h0" stroke="#000" stroke-width="10" stroke-linecap="round" fill="none" stroke-opacity="0.45"/><path transform="scale(.1)" d="M2596 4201h0m56-10h0m-108 13h0m32 18h0m-12 14h0m58-79h0m-46 71h0m-6-30h0m54 41h0m-105-33h0m25-8h0m71 8h0m-111-10h0m50 25h0m2-14h0m-10-33h0m40 11h0m-46 23h0m-10 34h0m-5-66h0m90 26h0m-47 28h0m-4 14h0m36-21h0m-31-22h0m-3 18h0m21-53h0m-48 15h0m58-3h0m12 47h0m-57-44h0m15 19h0m-42 9h0m61-1h0m-49 5h0m38 25h0m-6 5h0m-9-14h0m-7 0h0m2-28h0m32 38h0m3-43h0m-35 39h0m18 13h0m-9-55h0m17-22h0m-37 54h0m-34-14h0m46-13h0m27 12h0m5-30h0m24 40h0m-45-39h0m-50 70h0m68-19h0m-66-2h0m45-8h0m21 4h0m-67-30h0m49 17h0m1 2h0m35-8h0m-31 14h0m0-22h0m-7 4h0m-11-22h0m-13 17h0m10 24h0m40-43h0m-41 45h0m-6-45h0m-58-1h0m127 34h0m3-26h0m-36 12h0m32 10h0m-73 48h0m13-46h0m5-9h0m51 44h0m-39-58h0m23 39h0m-11 29h0m-1-51h0m-16 35h0m-40-43h0m53 14h0m-31-19h0m-48 9h0m40 9h0m25 31h0m2-16h0m-28-9h0m48-28h0m-39 42h0m54 7h0m-53 0h0m6-40h0m47 53h0m-21-52h0m50 17h0m-59 3h0m60 4h0m-38-43h0m-56 39h0m50-20h0m-5 16h0m16-53h0m-20 32h0m22-45h0m-14 43h0m23 53h0m-62-53h0m26 29h0m29-19h0m-11-21h0m-39 22h0m47 6h0m-39-11h0m-33 37h0m49-40h0m6 10h0m0 15h0m-24-44h0m-26-8h0m74 44h0m4-48h0m-10 52h0m-63 15h0m46-8h0m23-33h0m-51 7h0m21 7h0m-46 29h0m44-6h0m26-3h0m-20 3h0m-16 3h0m32-75h0m-48 49h0m5-1h0m10 5h0m-37 7h0m113-21h0m-80-9h0m-24 34h0m25-3h0m-5-20h0m27 6h0m15 29h0m-68-25h0m6-42h0m14 52h0m-1-16h0m58-23h0m-34 10h0m-7-6h0m-3 55h0m-17-42h0m42 29h0m42-38h0m-136 60h0m53-52h0m27-14h0m-15 4h0m10 11h0m17-21h0m26 77h0m-24-80h0m-36 17h0m23 25h0m2 15h0m1-20h0m-43-2h0m-11-5h0m96 22h0m-28 6h0m-36-29h0m60-33h0m-87 47h0" stroke="#bdbdbd" stroke-width="11" stroke-linecap="round" fill="none" stroke-opacity="0.9"/><path transform="scale(.1)" d="M3625 4300h0m25 53h0m6-51h0m-15 65h0m2 9h0m-3-41h0m-9 1h0m9-7h0m9 17h0m-5 8h0m28-60h0m-26 57h0m11-23h0m-34-1h0m40 21h0m-7 5h0m-33-27h0m31-7h0m4 44h0m14-15h0m-17-4h0m-41 32h0m29-45h0m-7 3h0m13-7h0m-10 2h0m-24-26h0m21 33h0m17 28h0m18 15h0m-62-58h0m40 9h0m-8 21h0m-6-21h0m16 11h0m6-5h0m-36 44h0m16-44h0m10-6h0m12 26h0m-20-54h0m-21 31h0m4 37h0m17-77h0m47 71h0m-39-85h0m27 59h0m-20 30h0m-42 6h0m4-34h0m9 10h0m19-52h0m-11 45h0m12-53h0m7 25h0m-18-9h0m9 31h0m-1-28h0m27 11h0m-24-6h0m41 46h0m-64-30h0m58 38h0m-34-19h0m-11 5h0m7-23h0m5-1h0m32 21h0m-54-5h0m35 10h0m-31-7h0m9 4h0m-8-12h0m-15-19h0m17 21h0m2-38h0m34 45h0m-24-46h0m6 26h0m10-17h0m-17 42h0m-31-46h0m34 1h0m-16-3h0m-19 41h0m70-4h0m-52 9h0m44-33h0m-31 57h0m4-37h0m-20-21h0m53 23h0m-32-30h0m-11 2h0m8 23h0m-11-46h0m-10 59h0m36-1h0m-9-23h0m7 39h0m12-13h0m-19-42h0m27 1h0m-39 35h0m-15-57h0m25 42h0m7-1h0m-6-36h0m2 35h0m-4 3h0m-27 0h0m4 13h0m37 17h0m-34-45h0m19 47h0m-4 11h0m-9-43h0m14 9h0m17 13h0m-61 6h0m45 2h0m16-30h0m-32-8h0m7-1h0m16-3h0m-17 28h0m-26-10h0m43 25h0m3-9h0m9-18h0m-27-7h0m25 40h0m-34-35h0m-1 30h0m-13-65h0m36 5h0m15 33h0m-45 37h0m14-54h0m28 67h0" stroke="#a82e2e" stroke-width="11" stroke-linecap="round" fill="none" stroke-opacity="0.8"/><path transform="scale(.1)" d="M2294 4200h0m28-4h0m28 55h0m-67-14h0m12-60h0m39 0h0m-24 47h0m-35-12h0m11 0h0m-5 17h0m17 26h0m2-47h0m2 10h0m12 27h0m-21 17h0m35-73h0m-34 52h0m7-41h0m-4 12h0m25 41h0m-33-17h0m4-11h0m38 0h0m-32-31h0m-29 54h0m47-12h0m-1 34h0m-6 6h0m9-15h0m-25-58h0" stroke="#f4a460" stroke-width="11" stroke-linecap="round" fill="none" stroke-opacity="0.6"/><path transform="scale(.1)" d="M2298 4232h0m3-11h0m-15-94h0m9 54h0m-6 8h0m-6 11h0m-2-30h0m9 25h0m-32-7h0m35 11h0m-56-17h0m43 3h0m52-14h0m-23 33h0m-33-17h0m-6 21h0m37 33h0m-40-57h0m20 49h0m0-52h0m-5 15h0m8-2h0m13-12h0m-18 22h0m3-29h0m9 52h0m9 20h0m-29-73h0m-25 45h0m8 9h0m50-15h0m-12-44h0m-14 48h0m23 26h0m-18-29h0m5 0h0m-21-18h0m18-25h0m-5 12h0m50 13h0m-27 10h0m-51-5h0m32-17h0m-18 17h0m39-16h0m-36 9h0m-10 10h0m35 12h0m-13-4h0m7-2h0m-7-47h0m-7 52h0m38-4h0m-26-17h0m1-6h0m-44 20h0m52 10h0m-34-30h0m-1 21h0m12 16h0m-15-47h0m-10-3h0m53 1h0m-13-18h0m-23 65h0m24-14h0m-24-21h0m-7 25h0m22-36h0m-17 32h0m-21 21h0m32 20h0m6-89h0m12 52h0m-26 32h0m17-78h0m-9 39h0m-25-26h0m48 30h0m-16-24h0m18 0h0m-8-8h0m14 5h0m-19 14h0m-8-5h0m-20 48h0m24-56h0m-25 9h0m36-2h0m-4-31h0m-15 41h0m52-38h0m-31 72h0m-51-24h0m63 2h0m-63-18h0m50 39h0m-9-33h0m-7 55h0m-2-42h0m15-34h0m-19 63h0m30-55h0m-24-2h0m13 6h0m-16-11h0m-10 26h0m19-59h0m0 31h0m-3-17h0m-13 52h0m5 8h0m1-11h0m-25 20h0m17-47h0m32-1h0m-51 13h0m15-39h0m3 33h0m12-22h0m-10 27h0m18 12h0m-2-23h0m0 25h0m27-23h0m-32-1h0m-5-4h0m-3 27h0m17 17h0m-36-40h0m41-9h0m-22-28h0m-15 73h0m11-49h0m11 46h0m-6-55h0m9 16h0m-29 2h0m22 19h0m-5-16h0m16 37h0m-24-19h0m24 18h0m-26-11h0m42-13h0m-11 17h0m-37-51h0m3 38h0m2 31h0m15-47h0" stroke="#0000ff" stroke-width="13" stroke-linecap="round" fill="none" stroke-opacity="0.95"/></g>
<rect x="217.6" y="408.5" width="157.0" height="142.8" fill="none" stroke="#c8c8c8" stroke-width="1.2"/>
<path d="M250.9 551.3v3M284.4 551.3v3M318.4 551.3v3M351.9 551.3v3M217.6 437.4h-3M217.6 474.0h-3M217.6 510.7h-3M217.6 547.3h-3" stroke="#c8c8c8" stroke-width="0.9" fill="none"/>
<rect x="344.2" y="508.5" width="30.1" height="42.8" fill="#fff" stroke="#c8c8c8" stroke-width="1.1"/><g font-size="3.15" fill="#333" filter="url(#gs)"><text x="350.1" y="517.2">HISP_WES_20k</text><text x="350.1" y="521.1">GBR</text><text x="350.1" y="525.0">FIN</text><text x="350.1" y="528.9">IBS</text><text x="350.1" y="532.8">CEU</text><text x="350.1" y="536.7">YRI</text><text x="350.1" y="540.6">CHB</text><text x="350.1" y="544.5">JPT</text><text x="350.1" y="548.4">TSI</text></g><circle cx="347.5" cy="516.1" r="0.55" fill="#000" fill-opacity="1"/><circle cx="347.5" cy="520.0" r="0.6" fill="#3030c0" fill-opacity="0.7"/><circle cx="347.5" cy="523.9" r="0.6" fill="#ff7070" fill-opacity="0.7"/><circle cx="347.5" cy="527.8" r="0.6" fill="#c070ff" fill-opacity="0.7"/><circle cx="347.5" cy="531.7" r="0.6" fill="#999" fill-opacity="0.7"/><circle cx="347.5" cy="535.6" r="0.6" fill="#c06060" fill-opacity="0.7"/><circle cx="347.5" cy="539.5" r="0.6" fill="#f0a860" fill-opacity="0.7"/><circle cx="347.5" cy="543.4" r="0.7" fill="#0000ff" fill-opacity="1"/><circle cx="347.5" cy="547.3" r="0.6" fill="#30e030" fill-opacity="0.7"/>
<g><path transform="scale(.1)" d="M4585 4620h0m-106-86h0m398 446h0m-82-89h0m-389-209h0m450 291h0m-295-333h0m533 797h0m-85-97h0m-468-568h0m258 263h0m-27 98h0m-314-561h0m240 313h0m-195-105h0m294 174h0m-98-286h0m230 425h0m-286-305h0m226 294h0m171 242h0m-321-372h0m324 474h0m55 53h0m-657-863h0m-95 45h0m710 727h0m-134-182h0m151 135h0m-465-613h0m436 681h0m54 53h0m-384-720h0m-168-251h0m379 645h0m-330-417h0m-35 108h0m459 344h0m-405-452h0m469 687h0m-627-905h0m533 786h0m58 79h0m-312-342h0m-102-306h0m266 361h0m-107-179h0m333 545h0m-575-685h0m322 441h0m-258-350h0m179-169h0m-71 194h0m-121-121h0m414 507h0m-178-273h0m-330-381h0m91 185h0m209 17h0m-277-202h0m259 252h0m-192-41h0m93 143h0m213 183h0m-124-276h0m316 528h0m-274-300h0m198 197h0m-580-755h0m71-35h0m500 829h0m-78-95h0m138 185h0m-444-880h0m114 456h0m-273-466h0m152-134h0m33 345h0m36-239h0m-251 140h0m406 471h0m-77-195h0m-133-194h0m416 648h0m-464-743h0m-73-3h0m-158-52h0m368 251h0m-61-26h0m-256-265h0m146 121h0m524 679h0m-121-46h0m-43-6h0m-86-305h0m-269-474h0m373 739h0m-516-711h0m425 581h0m148 176h0m-286-492h0m149 398h0m-529-568h0m611 464h0m-12 36h0m-240-415h0m-134-33h0m500 550h0m-145-27h0m82 115h0m-95-167h0m-224-378h0m157 171h0m137 352h0m-372-652h0m49 239h0m341 453h0m-545-734h0m517 661h0m50 54h0m-334-470h0m341 492h0m-319-716h0m-317-66h0m284 216h0m196 178h0m63 241h0m-92-288h0m-144-107h0m283 258h0" stroke="#000" stroke-width="9" stroke-linecap="round" fill="none" stroke-opacity="0.5"/><path transform="scale(.1)" d="M4229 4250h0m148 64h0m46-75h0m-163-11h0m79 94h0m-88-68h0m86 2h0m8 19h0m-96 12h0m49-57h0m34 65h0m-60-41h0m106 45h0m-135-86h0m99 45h0m-110-71h0m157 38h0m-87 32h0m76-2h0m-59 3h0m-32-11h0m122 29h0m-88 44h0m12-5h0m14-110h0m-132 8h0m24-34h0m98 124h0m12-32h0m-149 1h0m-18-74h0m53 42h0m146 66h0m-7-22h0m-128-38h0m49-33h0m39 51h0m8-9h0m-24-7h0m-68-43h0m-22 8h0m93 20h0m-92-18h0m-23 56h0m188 9h0m-44-55h0m-141 10h0m61 48h0m-50-89h0m152 132h0m-111-78h0m-11-21h0m-10 6h0m72 39h0m-90-127h0m81 92h0m-7 58h0m25-60h0m-29 33h0m14-34h0m-112 1h0m97-10h0m22 42h0m-72-39h0m-37 0h0m25 23h0m53-3h0m-45-40h0m75 20h0m0 2h0m-19 64h0m-28 6h0m-27-56h0m169 29h0m-125-67h0m69 84h0m-107-73h0m119 77h0m-175-79h0m118 37h0m41 10h0m67-11h0m-187 5h0m161 16h0m-64 3h0m62 12h0m-31 54h0m11-67h0m-30 115h0m65-125h0m-143 65h0m70-69h0m-98-29h0m78 42h0m6 15h0m-34 29h0m-8-88h0m-43 54h0m0-64h0m174 72h0m-54-3h0m-160-85h0m130 16h0m-107-7h0m77 33h0m80 40h0m-96-7h0m77-8h0m-7-5h0m7 12h0m-91-82h0m117 66h0m-201 0h0m210 41h0m-131-57h0m30-4h0m93 16h0m-68-7h0m-84-59h0m-26 14h0m-10 13h0m1 44h0m132-34h0m-116-36h0m27 54h0m16-9h0m84 2h0m55 28h0m-27 25h0m-119-51h0m77 23h0m-153-34h0m82 15h0m90-1h0m-58 63h0m-68-148h0m32 71h0m124 90h0m-179-83h0m199 75h0m-190-108h0m25 20h0m66 7h0m-48-32h0m-40-1h0m21 27h0m-28-39h0m178 130h0m19-64h0m-8 69h0m-99-34h0m91-15h0m-90-51h0m83 71h0m-41 49h0m-75-103h0m54 12h0m63 7h0m-105 4h0m70 44h0m-76-75h0m114 90h0m9-12h0m-107-124h0m59-13h0m58 148h0m-206-123h0m30 19h0m98 68h0m-19-18h0m-144 6h0m141-11h0m-74-63h0m130 122h0m13-77h0m-80-24h0m3 45h0m-100-20h0m181 28h0m-101-82h0m22 62h0m117-10h0m-84 107h0m-10-85h0m-46-33h0m-28-23h0m5 36h0m133 101h0m-124-67h0m102 3h0m-177-62h0m68-56h0m3 23h0m16 26h0m-11 47h0m-39 17h0m144 44h0m-34-70h0m5-10h0m2 21h0" stroke="#000" stroke-width="10" stroke-linecap="round" fill="none" stroke-opacity="0.45"/><path transform="scale(.1)" d="M4410 4466h0m313-55h0m-226-82h0m-108 13h0m443 26h0m-274-72h0m8-17h0m14 85h0m-240-87h0m383 126h0m-492-100h0m127 36h0m294-17h0m213 65h0m-355-18h0m-163 20h0m222-12h0m19-4h0m-210-70h0m365 57h0m72-12h0m-192 75h0m-178-50h0m25-9h0m74-14h0m-35-23h0m60 24h0m-135 10h0m236-1h0m-193-6h0m256 66h0m-131-53h0m77-20h0m21-8h0m7 64h0m-21-63h0m121-32h0m-291 25h0m101-9h0m-135 18h0m51 39h0m170 20h0m-39-53h0m-114-18h0m42-27h0m-105-24h0m231 79h0m-82 20h0m-58-74h0m43 144h0m-130-61h0m67-125h0m-96 38h0m70 12h0m8 27h0m21-30h0m262 120h0m-272-77h0m-208-84h0m576 123h0m-434-71h0m370 101h0m-401-20h0m257 13h0m-310-59h0m161-33h0m126 70h0m-128-61h0m-9 31h0m41-25h0m109-23h0m-153 62h0m-73-70h0m-128 32h0m91 4h0m-12 26h0m50-6h0m239-3h0m-180 67h0m79-94h0m3 39h0m93-114h0m-13 84h0m-80-34h0m-59 46h0m35 22h0m-16-3h0m-25 15h0m-97-98h0m237 44h0m-37 6h0m137-8h0m-227-41h0m200 50h0m-244 22h0m142-64h0m-50 93h0m93-72h0m-153-11h0m-68 86h0m100 0h0m-200-34h0m-100-60h0m356-9h0m105 117h0m44-29h0m-37 4h0m-229-95h0m-76 37h0m466 52h0m-611-19h0m355-15h0m61 61h0m47-48h0m41-51h0m-35 52h0m-239 25h0m224 31h0m-92-39h0m-285-60h0m144 112h0m54-74h0m106-45h0m-48 71h0m-150-48h0m-147-44h0m84 8h0m274 71h0m18-30h0m49 20h0m-262-14h0m-137-30h0m18 42h0m144 3h0m296 44h0m-290-144h0m-80 96h0m6-58h0m41 113h0m185-108h0m-213 0h0m-258 30h0m140 14h0m126 5h0m107 40h0m153-11h0m-270-39h0m429 35h0m-241-79h0m-12 34h0m-36-42h0m-114 123h0m241-25h0m-243-86h0m162 58h0m-285-53h0m132 8h0m-90 47h0m209 45h0m59-111h0m-101-51h0m4 182h0m76 14h0m5-120h0m-121 88h0m61-61h0m8 2h0m111-72h0m-310 31h0m153 30h0m-106 31h0m146-72h0m-159 16h0m282 124h0m-140-84h0m-1-28h0m-43 38h0m162 10h0m-299-3h0m488 69h0m-59-65h0m-158 16h0m-185-72h0m441 33h0m-272 67h0m120-129h0m-54 18h0m-171 18h0m-123 32h0m108 33h0m-106-36h0m-27-20h0m-41 50h0m96-101h0m335 60h0m-122 12h0m8 0h0m-113 22h0m-10 70h0m66-93h0m-74-56h0m46 8h0m80 88h0m1 11h0m-16-116h0m-104 65h0m-195 118h0m434-112h0m-367-64h0m87 12h0m-26 105h0m159-68h0m-76 4h0m103 2h0m-6 55h0m-115-43h0m18 60h0m-261 0h0m112-71h0m143 2h0m-182 18h0m255-24h0m-15 36h0m-57 3h0m-147-19h0m-59-15h0m144 18h0m158 6h0m32 36h0m-201-122h0m68 45h0m-75 20h0m53-37h0m-52 6h0m-14 7h0m56 101h0m-347-115h0m454 41h0m16-43h0m-52 40h0m-33 6h0m98 12h0m-224 1h0m-10-6h0m120-2h0m44 3h0m-119-66h0m-36 94h0m250-2h0m-219-48h0m-32 14h0m276-68h0m85 128h0m-57-44h0m-125-27h0m72 10h0m-168 21h0m74-7h0m87-64h0m-246 1h0m-5 52h0m15 23h0m85-68h0m282 79h0m-376-23h0m-125-15h0m251 62h0m-94-21h0m-15 20h0m40-4h0m-49-68h0m133-37h0m-72 33h0m84-39h0m-120 55h0m-215 8h0m212-19h0m229 31h0m-24-64h0m-156 30h0m-38-19h0m331 59h0m-253-103h0m-51 9h0m96 93h0m-151-82h0m279 39h0m-367-19h0m116 4h0m81 89h0m-63-36h0m-112-67h0m162 8h0m118 96h0m-174-14h0m-195-60h0m202 19h0m62 63h0m55-100h0m-336 6h0m490 27h0m-295-9h0m336-58h0m-213 149h0m-279-66h0m159 27h0m-98-54h0m160 38h0m277-23h0m-97-30h0m-363 8h0m36-72h0m114 142h0m37-144h0m-17 16h0m-57 42h0m134-8h0m-63-19h0m93 121h0m113-35h0m-334 6h0m211-13h0m12-37h0m-164 45h0m325 38h0m-220-49h0m-32-15h0m179-1h0m64-2h0m-176-41h0m-87-19h0m82 60h0m42-1h0m-86-66h0m-114 116h0m199-29h0m-154-6h0m-8-12h0m85-24h0m-168 41h0m269 38h0m-30-49h0m-63 11h0m-71-22h0m236 92h0m-189-58h0m-225 24h0m208-33h0m-288 2h0m248-39h0m-54 81h0m190-103h0m132 44h0m-211-84h0m-35 124h0m-71-71h0m280 22h0m-127-7h0m-202-39h0m244 133h0m-123-108h0m-210-33h0m253 38h0m-35 35h0m273 15h0m-56-56h0m-377 39h0m16-56h0m106 34h0m-107 49h0m79-31h0m31-10h0m-50-21h0m-19 30h0m-54-28h0m389 34h0m15-47h0m-188-23h0m10 77h0m-196-47h0m143 33h0m-79-27h0m96 11h0m90-6h0m-119-1h0m250-62h0m-426 59h0m363 23h0m-247-65h0m211 27h0m-182-41h0m192 41h0m-63 23h0m20 30h0m71 34h0m-175-70h0m149-20h0m-323 64h0m130-7h0m-31 22h0m-28-39h0m133 50h0m71-32h0m234-42h0m-321 33h0m-24-8h0m-47-21h0m27-9h0m-9-7h0m175 1h0m40 85h0m-233-31h0m26-9h0m33-46h0m106-3h0m-160 35h0m-76-12h0m3-1h0m4-5h0m257-17h0m-190 23h0m138 30h0m41-20h0m-115-29h0m107 35h0m102 1h0m-244-15h0m51-45h0m242 49h0m-388-35h0m63 0h0m-149 51h0m197-34h0m-147-5h0m247 59h0m35-106h0m-20 55h0m-115-104h0m-88 131h0m106-15h0m170 0h0m-79 91h0m-341-124h0m182 11h0m169 44h0m43-64h0m-36 8h0m-72 31h0m-79 29h0m193-28h0m-447-50h0m165 101h0m-47-80h0m356 44h0m-254-85h0m130 59h0m72 28h0m-193 21h0m196 25h0m-227-82h0m205 7h0m-14 39h0m-360-45h0m111 107h0m314-64h0m-210-48h0m273 74h0m-97-6h0m-124-28h0m20-6h0m-134-13h0m351 27h0m-42-48h0m32 82h0m36 2h0m-314 16h0m-145-141h0m79 14h0m191 94h0m-230-55h0m137-29h0m-168 49h0m133 51h0m-19-41h0m228 50h0m-82-112h0m-62 56h0m-97-2h0m-174-7h0m275-11h0m63 45h0m-4-95h0m-14 90h0m266-46h0m-344-49h0m211 49h0m-85 1h0m195 20h0m-314-31h0m-65 52h0m94 16h0m295 70h0m-329-42h0m155-16h0m-26-56h0m-302-32h0m244 8h0m151 87h0m39 25h0m-263-54h0m55-20h0m-294-59h0m244 73h0m92 27h0m-257 25h0m340-83h0m-256-1h0m217 30h0m54-17h0m40 8h0m61 43h0m-232 44h0m-159-123h0m288 90h0m-140-53h0m-82 44h0m-290-122h0m223 112h0m-13 8h0m136-37h0m-236-11h0m260 7h0m-237-33h0m-18-39h0m220 80h0m45 63h0m-153-130h0m-113 83h0m389-5h0m-148-27h0m81-111h0m-41 187h0m-73-107h0m31-33h0m-130 46h0m-9 85h0m143-58h0m84-42h0m-54 81h0m222-105h0m-222-8h0m10 63h0m-149-22h0m92 102h0m-38-84h0m206 13h0m5-53h0m-336-4h0m165 32h0m-139-17h0m94 37h0m-18-26h0m-60 77h0m109-94h0m69 78h0m-4-72h0m-51 17h0m146 9h0m-140 19h0m-11-16h0m120 12h0m207 27h0m-457-12h0m-28-24h0m22-49h0m-1 60h0m183 4h0m-3 53h0m153-68h0m-121-38h0m-235 45h0m227-6h0m-29-68h0m-145 108h0m232-17h0m-61-108h0m-274 48h0m106-3h0m290 144h0m-252-90h0m-60 11h0m228-9h0m-108-80h0m-39 29h0m57 27h0m75-57h0m-11 26h0m-218-3h0m181 21h0m-200 30h0m107 24h0m172-97h0m-186 84h0m-40-61h0m-70 35h0m191-14h0m-169 85h0m216-70h0m-291-106h0m46 123h0m69-56h0m-8 42h0m-71-80h0m309 132h0m-26-82h0m-231 52h0m-184 29h0m342-23h0m-21 16h0m-99-66h0m-39-19h0m83 18h0m42-82h0m51 113h0m47 6h0m-145-57h0m-56 66h0m106-60h0m-111 84h0m169-62h0m-188 23h0m-56-33h0m121-1h0m-60 73h0m44-75h0m279 23h0m-136 13h0m-105-28h0m210 29h0m-82-13h0m-175-12h0m-47 6h0m-40 39h0m560-45h0m-388 5h0m-43 103h0m115-99h0m-77 14h0m-29-107h0m73 119h0m-227-40h0m240-74h0m129 219h0m-351-120h0m289 29h0m-104 20h0m-98-60h0m257-59h0m-240 78h0m-97 75h0m63-97h0m147 1h0m-1-9h0m197-36h0m34 65h0m-54 37h0m-170-74h0m-156 77h0m383-100h0m-411 41h0m303 33h0m-161 31h0m-80-28h0m91-75h0m12 79h0m-82-48h0m28-103h0m273 164h0m-161 5h0m-7-32h0m-80-67h0m-55 106h0m36-101h0m141 68h0m-105-86h0m-143 132h0m283-55h0m-204-50h0m-57 109h0m208-111h0m-102-3h0m-87 82h0m-24-109h0m136 78h0m-5-1h0m20 22h0m-275-35h0m613 62h0m-299 2h0m-208-39h0m7-43h0m128 37h0m-15-11h0m65-40h0m-142-51h0m-31 103h0m233-59h0m-149 83h0m185-29h0m21-32h0m-259-9h0m83 14h0m-3-14h0m-320-10h0m490-15h0m-23 7h0m-211 17h0m157 88h0m-44-48h0m-78 20h0m212 16h0m-122-40h0m-6 0h0m-125-65h0m-7 53h0m78 14h0m-98-17h0m-26-34h0m118 59h0m-64 0h0m-212-19h0m382 13h0m24-86h0m-342 55h0m510 47h0m-356-4h0m-52-100h0m219 103h0m-111 1h0m-43-52h0m299 84h0m-18-37h0m-201-57h0m-62 104h0m-71-80h0m121-26h0m32 49h0m-148-52h0m109-34h0m-133 84h0m-26-51h0m463 76h0m-198 38h0m-305-62h0m119 43h0m185-129h0m-263 54h0m343 19h0m-161-22h0m-60-12h0m156-6h0m-161 69h0m-119-43h0m223 37h0m-100-28h0m139 58h0m57-34h0m139-7h0m-472-17h0m253 2h0m-195 77h0m130-55h0m-210-59h0m369-13h0m0-21h0m-233 62h0m189 42h0m-231 0h0m89 18h0m-38-54h0m75 93h0m77-73h0m65-33h0m-53-26h0m-178 19h0m41-10h0m35 35h0m-89 66h0m145 0h0m-19 25h0m-127-137h0m-34 9h0m29 88h0m110-68h0m-265 33h0m350 3h0m-44-13h0m30 16h0m147-24h0m-252 19h0m-89-33h0m81 34h0m-119 25h0m410 29h0m7-67h0m-261 29h0m-273 33h0m254-91h0m22-77h0m-76 110h0m-39-90h0m111 116h0m88-40h0m-345 31h0m190 20h0m-24-59h0m7-7h0m274 48h0m-137 1h0m209-42h0m-369-19h0m200 14h0m-3 55h0m-53-3h0m-278-58h0m319 38h0m-109 30h0m-165 30h0m333 18h0m-130-121h0m-75-41h0m217-13h0m-489-39h0m317 168h0m-83-49h0m331 44h0m-118-38h0m-194-69h0m186 50h0m-85 53h0m-199-31h0m-21 39h0m95-125h0m218 82h0m-135 39h0m100-38h0m-64-70h0m-184-5h0m-89 76h0m73-42h0m202 94h0m-75-41h0m34 36h0m107-59h0m197 19h0m-225-37h0m-168 54h0m415 28h0m-516 29h0m50-80h0m467 22h0m-330-10h0m-251 60h0m213-88h0m-94-42h0m266 17h0m-122-24h0m-199 19h0m138 23h0m107-10h0m24 45h0m-37 2h0m0-40h0m-31 87h0m90-94h0m-175 57h0m114-61h0m2 21h0m-163-38h0m159 68h0m-20-17h0m46 37h0m-6-55h0m-126-15h0m46 48h0m104 11h0m226-78h0m-307 47h0m81 5h0m32-23h0m-72 32h0m-232 7h0m246-32h0m21-9h0m-56 80h0m302-44h0m-270-20h0m-17-28h0m-70 30h0m-188 61h0m340-11h0m157-67h0m-472 3h0m452 44h0m-351-58h0m51-11h0m-124 17h0m177-12h0m-106-1h0m255 35h0m-116-98h0m-78 83h0m245-33h0m-117 61h0m-59-28h0m20-16h0m57 10h0m-141 60h0m164-52h0m-105 46h0m127-44h0m-180 41h0m267 24h0m-103-43h0m-73-30h0m100 22h0m-83-75h0m-12 42h0m-233-28h0m116 24h0m78 49h0m-18 23h0m88-16h0m97-28h0m-308 135h0m24-55h0m-1-59h0m60-3h0m152-73h0m94 85h0m-435-64h0m249 67h0m91-23h0m-25 60h0m-124-113h0m371 101h0m-309-43h0m-106-29h0m181 42h0m105-81h0m-322 6h0m201 66h0m-312 8h0m399-21h0m-205-12h0m33 9h0m-51 5h0m1-15h0m14-4h0m-158-23h0m167 55h0m59-45h0m221 94h0m-319-107h0m179 50h0m-44-25h0m25 8h0m45 2h0m179-39h0m-215 38h0m-260-21h0m136 70h0m9 38h0m147-132h0m-186 82h0m162-69h0m-133 3h0m128 21h0m40 29h0m-126 104h0m165-64h0m-33-45h0m13 14h0m-5-5h0m-236-65h0m64-3h0m249 61h0m-344-37h0m-2 56h0m220-36h0m10-12h0m-178 47h0m394 40h0m-405-122h0m102 117h0m-5-16h0m83-93h0m-183 117h0m257-16h0m-292-100h0" stroke="#000" stroke-width="10" stroke-linecap="round" fill="none" stroke-opacity="0.45"/><path transform="scale(.1)" d="M4929 4325h0m-51-34h0m-60 65h0m-116-31h0m216-39h0m-41 4h0m83-9h0m1 101h0m-56-55h0m-21 14h0m79-41h0m-79 19h0m-15 2h0m-111 26h0m195-44h0m-68 18h0m38-43h0m-56 40h0m-108-11h0m61-9h0m-24 27h0m69-48h0m-5 42h0m-72-15h0m13 80h0m131-37h0m-213 39h0m97 9h0m21-69h0m-2-9h0m82-19h0m-180 68h0m172-19h0m-25-26h0m57 5h0m-156 19h0m53-24h0m-23 52h0m113-84h0m19 9h0m-100 12h0m9 52h0m-82-1h0m-65-59h0m42 57h0m27-49h0m121-26h0m-93 57h0m93-25h0m-185 30h0m120-29h0m17 9h0m-88 18h0m126-45h0m-28 67h0m-92-22h0m143-16h0m-72-10h0m85 46h0m-177-62h0m90 68h0m-87 1h0m123 9h0m17-38h0m-140 20h0m57 19h0m153-62h0m-156 26h0m-36 8h0m-49-38h0m-14-6h0m161 29h0m-134 18h0m35-13h0m180-22h0m-2 32h0m-77-31h0m-111 15h0m183-22h0m-156-48h0m134 42h0m0 24h0m-22-3h0m-67 8h0m112-27h0m17 0h0m3 11h0m-97 38h0m39-55h0m-25 5h0m-134-25h0m-8 65h0m204-3h0m-207-1h0m-10-10h0m209-27h0m-221 10h0m169 2h0m-41 49h0m-79 1h0m-6-35h0m207 36h0m-78-34h0m-140 17h0m81-39h0m43-30h0m83 56h0m-143 11h0m76 5h0m-159-25h0m195 26h0m-14 20h0m-5-60h0m-144-13h0m102 24h0m-22 22h0m103 14h0m-72-45h0m-142 18h0m80 4h0m111-11h0m-59 50h0m4-60h0m32-3h0m-167 71h0m150-56h0m-1-34h0m-118 55h0m162-20h0m-80 24h0" stroke="#000" stroke-width="10" stroke-linecap="round" fill="none" stroke-opacity="0.45"/><path transform="scale(.1)" d="M4493 4475h0m16-21h0m75 56h0m-65-60h0m-122-55h0m75 82h0m92-39h0m52 103h0m-146-91h0m183 60h0m-168-45h0m25-1h0m95-76h0m-92 13h0m91 31h0m-64 59h0m-101-38h0m215-28h0m-244 0h0m171 59h0m28 1h0m-30 36h0m52-52h0m-134 32h0m-177-175h0m167 89h0m30-9h0m-55 104h0m-44-34h0m132-4h0m-67-86h0m-111 77h0m65-62h0m82 109h0m-101-152h0m55 171h0m173-126h0m-252 8h0m126 23h0m7-10h0m-113 35h0m152-25h0m-108-58h0m51 31h0m68-50h0m-4 126h0m51-61h0m-107-74h0m-41 106h0m-81-19h0m193-28h0m47 29h0m-124-34h0m135 83h0m57-60h0m-136 93h0m-140-85h0m119-20h0m183 104h0m-289 8h0m8-52h0m18-84h0m64 103h0m-7-46h0m-3-8h0m61 9h0m-41 14h0m-94-45h0m-19 106h0m130-117h0m46 36h0m-80 19h0m-39-26h0m35 104h0m18-69h0m29 77h0m100-9h0m-170-140h0m58 32h0m62 45h0m-47 67h0m-86-167h0m149 136h0m-98-16h0m140-45h0m-82-67h0m-69 34h0m-103-73h0m78 40h0m-8 60h0m8-23h0m131 116h0m-203-86h0m208-66h0m-140 77h0m48-72h0m-156 83h0m79-69h0m37-7h0m-95 19h0m108 40h0m-66-31h0m217 57h0m-275-108h0m197 138h0m34-74h0m-203-34h0m28 11h0m-38 5h0m-19-40h0m104 61h0m-44 66h0m35-23h0m-53-54h0m67-26h0m109 165h0m51-94h0m-42 17h0m-136-58h0m60-63h0m-36 46h0m12 25h0m40-39h0m-48 173h0m-147-121h0m253 21h0m-180-94h0m-32 12h0m103 162h0m120-38h0m-115-67h0m-109-100h0m139 177h0m-145-145h0m168 241h0m-58-228h0m54 59h0m16 62h0m-45-133h0m-41 89h0m-23 7h0m146-51h0m-2 88h0m-57-62h0m61-32h0m-132 60h0m179-69h0m-74 86h0m-66-123h0m-111 176h0" stroke="#000" stroke-width="9" stroke-linecap="round" fill="none" stroke-opacity="0.45"/><path transform="scale(.1)" d="M4129 4222h0m102-30h0m-68 13h0m71-16h0m12-1h0m-27 10h0m27 72h0m-29-55h0m44-15h0m-38-27h0m44 24h0m-27 3h0m-6-4h0m25 6h0m-64-13h0m1-20h0m88 22h0m-60 38h0m22 25h0m-63-48h0m48 55h0m-64-93h0m77 37h0m-62 19h0m51-22h0m-41-2h0m108 53h0m-62-67h0m22 50h0m-31-22h0m14-44h0m-20 46h0m35-7h0m-33 58h0m43-70h0m-85 6h0m46 35h0m47-66h0m-52-27h0m-8 54h0m30-10h0m-41-10h0m42 46h0m-6-17h0m-15 56h0m6-54h0m3 16h0m-23-22h0m6-8h0m-6-16h0m20 33h0m1-43h0m-58 44h0m80-72h0m-25 51h0m24 52h0m-32-13h0m21-25h0m43-24h0m-83 25h0m19 26h0m13-33h0m-40-28h0m18 42h0m9-3h0m-2 2h0m102-8h0m-73-15h0m43 6h0m-62 18h0m-39-5h0m0-46h0m11-4h0m35 53h0m11-25h0m7 10h0m-45 13h0m22-14h0m-21 14h0m-24 28h0m72-16h0m-19 7h0m6-17h0m20-37h0m-35 25h0m-14-15h0m-18-21h0m73 69h0m-79-42h0m80-2h0m-34 15h0m25-22h0m-97 26h0m61-39h0m69 31h0m-83-21h0m65 8h0m-85 2h0m-1 2h0m65 39h0m-1 0h0m-54-27h0m40-19h0m12 49h0m-14-22h0m-70-3h0m36-39h0m16 36h0m44 17h0m-52-56h0m25 43h0m-25 12h0m24-59h0m24 46h0m-55-38h0m-5 11h0m90 74h0m-119-60h0m94 10h0m-40 30h0m119-8h0m-80 1h0m-31-1h0m-27-25h0m13-2h0m87-9h0m-61-16h0m-18 36h0m26 18h0m-85-47h0m71-2h0m-13 24h0m48 44h0m-50-57h0m7-14h0m24 17h0m-23 46h0m-41-21h0m66-40h0m-9 11h0m-13 34h0m6-4h0m36-3h0m-55 18h0m-29-15h0m-6 16h0m64-35h0m-116-15h0m80 15h0m43-59h0m-40 59h0m-24 8h0m48 18h0m20-8h0m-38-3h0m37-7h0m-32-4h0m57-6h0m-77 16h0m20 4h0m2-4h0m36 0h0m-87-47h0m-8 19h0m82 9h0m-13 9h0m15 12h0m67 28h0m-106-48h0m35-22h0m-20 50h0m-39-7h0m57-49h0m-44 53h0m60-33h0m-48 22h0m3-3h0m20 16h0m-7-19h0m8 46h0" stroke="#bdbdbd" stroke-width="11" stroke-linecap="round" fill="none" stroke-opacity="0.9"/><path transform="scale(.1)" d="M5025 4323h0m-27 13h0m17 6h0m16 15h0m-24-37h0m-25 35h0m30-3h0m19-4h0m-10 35h0m27-78h0m-59 31h0m3 39h0m29-11h0m-59-31h0m69-6h0m-7 13h0m30 13h0m-56-12h0m59 7h0m-26-19h0m-13-3h0m19 43h0m-16-18h0m12 4h0m47-17h0m-49 2h0m4 28h0m0-21h0m14-26h0m-37 37h0m37 15h0m-14-28h0m-32 14h0m34-36h0m-5-2h0m1 14h0m25 23h0m-29 1h0m-17-12h0m29-13h0m17 64h0m-13-91h0m-2 16h0m-28 41h0m16-23h0m18-11h0m-2-20h0m-5 26h0m-47 18h0m5-46h0m48 33h0m-26-5h0m-8-23h0m38 24h0m-42-17h0m60 7h0m-3 11h0m-47-57h0m-2 69h0m1-48h0m-12 58h0m25-47h0m-10-18h0m-37 12h0m27 73h0m26-67h0m30 9h0m-49 30h0m29-27h0m-25-12h0m-16 25h0m20-18h0m14 14h0m-34 14h0m-14-33h0m36-18h0m-29 21h0m51 40h0m-22-30h0m-8 6h0m27 29h0m-27-56h0m8-1h0m11 14h0m-24-9h0m-9 15h0m40 51h0m16-55h0m0-10h0m-37 13h0m27 11h0m14-2h0m-54 1h0m4 6h0m-4-33h0m24 12h0m-25-22h0m50 50h0m-27-10h0m11 44h0m-9-21h0m-10-39h0m-12-14h0m19 38h0m-15 45h0m11-52h0m-9 9h0m45-20h0m-54-17h0m-15 48h0m17-1h0m22-13h0m14 8h0m-47-26h0m-1 52h0m-3-109h0m16 81h0m20-20h0m-14 18h0m25 21h0m-19-46h0m21 28h0m8-29h0m-27 10h0m-16 34h0m2-33h0m9 18h0m-30-8h0m32 16h0m-22-10h0m10 35h0m0-29h0m15 9h0m-32-30h0m15 17h0m22-8h0m17 15h0m-58 7h0m-12-24h0m37-13h0" stroke="#a82e2e" stroke-width="11" stroke-linecap="round" fill="none" stroke-opacity="0.8"/><path transform="scale(.1)" d="M5493 4203h0m2 13h0m84 32h0m-102 8h0m-13-15h0m0 16h0m29-41h0m-40 16h0m24 23h0m1-22h0m-28 0h0m35 14h0m-32-13h0m9-6h0m55-10h0m-44 5h0m30-5h0m28-11h0m-53 38h0m-25-29h0m68 8h0m17 14h0m-43 2h0m-30-6h0m0-19h0" stroke="#f4a460" stroke-width="11" stroke-linecap="round" fill="none" stroke-opacity="0.6"/><path transform="scale(.1)" d="M5523 4204h0m54-49h0m-39 14h0m31 70h0m-15-20h0m-22 3h0m29-38h0m-40-12h0m19 20h0m2 18h0m45 5h0m-29 6h0m20-3h0m-9-19h0m-3 37h0m5-20h0m-37-22h0m49-21h0m-38 33h0m7 34h0m-8-3h0m-20-51h0m33 25h0m-11-18h0m-39 0h0m47 36h0m20-10h0m-21-8h0m-7-36h0m-3-5h0m-15 45h0m48 15h0m-33 4h0m-26-41h0m56 25h0m-34 2h0m29-27h0m-3-1h0m-20-6h0m-20 3h0m31-16h0m-8 33h0m32-47h0m-30 33h0m-6 7h0m13-17h0m-7 46h0m-18-4h0m40-40h0m-15 5h0m1 25h0m3-2h0m-34 3h0m41-3h0m-50-47h0m19 30h0m-1 23h0m22-17h0m-1 33h0m-9-57h0m14 39h0m-24 1h0m12-21h0m6-15h0m-4 7h0m5 24h0m38-5h0m-36 19h0m-31-24h0m-5-15h0m44 14h0m-3 19h0m-34 19h0m-25-16h0m68-12h0m-20-20h0m-26-10h0m38-1h0m-46 6h0m37 15h0m9 10h0m-14-20h0m28-44h0m-19 64h0m7 13h0m-9-34h0m-31-18h0m32 52h0m-17 9h0m20-63h0m-31 28h0m63 7h0m-34-9h0m-19 36h0m6-57h0m1 35h0m-23 38h0m-5-76h0m32 50h0m-13 10h0m22-3h0m-22-4h0m30-53h0m-18 34h0m25 12h0m-35 30h0m38-48h0m-10 11h0m3-47h0m-29 32h0m-10 40h0m72-8h0m-54-52h0m25 75h0m-49-28h0m-6-31h0m48 55h0m-13-49h0m-15 14h0m2-48h0m30 17h0m-23-7h0m-40 57h0m39-21h0m23 4h0m-25 13h0m6-45h0m-19 30h0m0 15h0m45-28h0m-22-10h0m-52 13h0m53-22h0m14 14h0m-8 0h0m-8 12h0m10-48h0m-20 63h0m-6 20h0m-12-27h0m29 9h0m-17-17h0m11 10h0m21 7h0m-16-16h0m-22-6h0m17-29h0m8 37h0m-8-6h0m-7-1h0" stroke="#0000ff" stroke-width="13" stroke-linecap="round" fill="none" stroke-opacity="0.95"/></g>
<rect x="409.7" y="408.3" width="157.0" height="142.8" fill="none" stroke="#c8c8c8" stroke-width="1.2"/>
<path d="M431.8 551.1v3M465.3 551.1v3M498.5 551.1v3M532.0 551.1v3M565.5 551.1v3M409.7 437.4h-3M409.7 474.0h-3M409.7 510.7h-3M409.7 547.3h-3" stroke="#c8c8c8" stroke-width="0.9" fill="none"/>
<rect x="536.2" y="508.5" width="30.6" height="42.6" fill="#fff" stroke="#c8c8c8" stroke-width="1.1"/><g font-size="3.15" fill="#333" filter="url(#gs)"><text x="542.1" y="517.2">HISP_WES_20k</text><text x="542.1" y="521.1">GBR</text><text x="542.1" y="525.0">FIN</text><text x="542.1" y="528.9">IBS</text><text x="542.1" y="532.8">CEU</text><text x="542.1" y="536.7">YRI</text><text x="542.1" y="540.6">CHB</text><text x="542.1" y="544.5">JPT</text><text x="542.1" y="548.4">TSI</text></g><circle cx="539.5" cy="516.1" r="0.55" fill="#000" fill-opacity="1"/><circle cx="539.5" cy="520.0" r="0.6" fill="#3030c0" fill-opacity="0.7"/><circle cx="539.5" cy="523.9" r="0.6" fill="#ff7070" fill-opacity="0.7"/><circle cx="539.5" cy="527.8" r="0.6" fill="#c070ff" fill-opacity="0.7"/><circle cx="539.5" cy="531.7" r="0.6" fill="#999" fill-opacity="0.7"/><circle cx="539.5" cy="535.6" r="0.6" fill="#c06060" fill-opacity="0.7"/><circle cx="539.5" cy="539.5" r="0.6" fill="#f0a860" fill-opacity="0.7"/><circle cx="539.5" cy="543.4" r="0.7" fill="#0000ff" fill-opacity="1"/><circle cx="539.5" cy="547.3" r="0.6" fill="#30e030" fill-opacity="0.7"/>
</g>
<g font-size="5.3" fill="#111" stroke="#111" stroke-width="0.12" text-anchor="middle" opacity=".99"><text x="47.4" y="170.2">0.00</text><text x="70.0" y="170.2">0.01</text><text x="92.6" y="170.2">0.02</text><text x="115.2" y="170.2">0.03</text><text x="137.8" y="170.2">0.04</text><text x="160.4" y="170.2">0.05</text><text x="183.0" y="170.2">0.06</text><text transform="translate(20.3,20.4) rotate(-90)">0.06</text><text transform="translate(20.3,45.2) rotate(-90)">0.04</text><text transform="translate(20.3,70.0) rotate(-90)">0.02</text><text transform="translate(20.3,94.8) rotate(-90)">0.00</text><text transform="translate(20.3,119.6) rotate(-90)">-0.02</text><text transform="translate(20.3,144.4) rotate(-90)">-0.04</text><text x="106.2" y="183.0">eigenvector1</text><text transform="translate(8.1,86.9) rotate(-90)">eigenvector2</text></g><text x="106.2" y="4.9" font-size="6.36" font-weight="bold" fill="#111" stroke="#111" stroke-width="0.3" text-anchor="middle" opacity=".99">PC1 vs PC2</text>
<g font-size="5.3" fill="#111" stroke="#111" stroke-width="0.12" text-anchor="middle" opacity=".99"><text x="236.6" y="170.2">0.00</text><text x="259.1" y="170.2">0.01</text><text x="281.5" y="170.2">0.02</text><text x="304.0" y="170.2">0.03</text><text x="326.5" y="170.2">0.04</text><text x="348.9" y="170.2">0.05</text><text x="371.4" y="170.2">0.06</text><text transform="translate(209.3,39.4) rotate(-90)">0.04</text><text transform="translate(209.3,71.6) rotate(-90)">0.02</text><text transform="translate(209.3,104.1) rotate(-90)">0.00</text><text transform="translate(209.3,136.6) rotate(-90)">-0.02</text><text x="295.2" y="183.0">eigenvector1</text><text transform="translate(197.1,86.9) rotate(-90)">eigenvector3</text></g><text x="295.2" y="4.9" font-size="6.36" font-weight="bold" fill="#111" stroke="#111" stroke-width="0.3" text-anchor="middle" opacity=".99">PC1 vs PC3</text>
<g font-size="5.3" fill="#111" stroke="#111" stroke-width="0.12" text-anchor="middle" opacity=".99"><text x="425.0" y="170.4">-0.04</text><text x="452.5" y="170.4">-0.02</text><text x="479.7" y="170.4">0.00</text><text x="507.2" y="170.4">0.02</text><text x="534.4" y="170.4">0.04</text><text x="561.9" y="170.4">0.06</text><text transform="translate(402.1,39.1) rotate(-90)">0.04</text><text transform="translate(402.1,71.6) rotate(-90)">0.02</text><text transform="translate(402.1,104.1) rotate(-90)">0.00</text><text transform="translate(402.1,136.6) rotate(-90)">-0.02</text><text x="488.0" y="183.2">eigenvector2</text><text transform="translate(389.9,87.1) rotate(-90)">eigenvector3</text></g><text x="488.0" y="5.1" font-size="6.36" font-weight="bold" fill="#111" stroke="#111" stroke-width="0.3" text-anchor="middle" opacity=".99">PC2 vs PC3</text>
<g font-size="5.3" fill="#111" stroke="#111" stroke-width="0.12" text-anchor="middle" opacity=".99"><text x="40.4" y="365.7">-0.03</text><text x="70.1" y="365.7">-0.02</text><text x="99.7" y="365.7">-0.01</text><text x="129.3" y="365.7">0.00</text><text x="158.7" y="365.7">0.01</text><text transform="translate(20.2,219.8) rotate(-90)">0.06</text><text transform="translate(20.2,250.7) rotate(-90)">0.04</text><text transform="translate(20.2,281.6) rotate(-90)">0.02</text><text transform="translate(20.2,311.9) rotate(-90)">0.00</text><text transform="translate(20.2,342.8) rotate(-90)">-0.02</text><text x="106.1" y="378.5">eigenvector1</text><text transform="translate(8.0,282.4) rotate(-90)">eigenvector2</text></g><text x="106.1" y="200.4" font-size="6.36" font-weight="bold" fill="#111" stroke="#111" stroke-width="0.3" text-anchor="middle" opacity=".99">PC1 vs PC2</text>
<g font-size="5.3" fill="#111" stroke="#111" stroke-width="0.12" text-anchor="middle" opacity=".99"><text x="229.9" y="366.1">-0.03</text><text x="259.6" y="366.1">-0.02</text><text x="289.2" y="366.1">-0.01</text><text x="318.7" y="366.1">0.00</text><text x="348.2" y="366.1">0.01</text><text transform="translate(209.5,229.2) rotate(-90)">0.04</text><text transform="translate(209.5,249.8) rotate(-90)">0.02</text><text transform="translate(209.5,270.5) rotate(-90)">0.00</text><text transform="translate(209.5,291.1) rotate(-90)">-0.02</text><text transform="translate(209.5,311.8) rotate(-90)">-0.04</text><text transform="translate(209.5,332.4) rotate(-90)">-0.06</text><text transform="translate(209.5,353.1) rotate(-90)">-0.08</text><text x="295.4" y="378.9">eigenvector1</text><text transform="translate(197.3,282.8) rotate(-90)">eigenvector3</text></g><text x="295.4" y="200.8" font-size="6.36" font-weight="bold" fill="#111" stroke="#111" stroke-width="0.3" text-anchor="middle" opacity=".99">PC1 vs PC3</text>
<g font-size="5.3" fill="#111" stroke="#111" stroke-width="0.12" text-anchor="middle" opacity=".99"><text x="422.4" y="366.7">-0.02</text><text x="456.4" y="366.7">0.00</text><text x="490.1" y="366.7">0.02</text><text x="523.9" y="366.7">0.04</text><text x="557.4" y="366.7">0.06</text><text transform="translate(403.1,229.2) rotate(-90)">0.04</text><text transform="translate(403.1,249.9) rotate(-90)">0.02</text><text transform="translate(403.1,270.6) rotate(-90)">0.00</text><text transform="translate(403.1,291.3) rotate(-90)">-0.02</text><text transform="translate(403.1,312.0) rotate(-90)">-0.04</text><text transform="translate(403.1,332.7) rotate(-90)">-0.06</text><text transform="translate(403.1,353.4) rotate(-90)">-0.08</text><text x="489.0" y="379.5">eigenvector2</text><text transform="translate(390.9,283.4) rotate(-90)">eigenvector3</text></g><text x="489.0" y="201.4" font-size="6.36" font-weight="bold" fill="#111" stroke="#111" stroke-width="0.3" text-anchor="middle" opacity=".99">PC2 vs PC3</text>
<g font-size="5.3" fill="#111" stroke="#111" stroke-width="0.12" text-anchor="middle" opacity=".99"><text x="62.2" y="562.9">-0.02</text><text x="95.7" y="562.9">0.00</text><text x="129.2" y="562.9">0.02</text><text x="162.7" y="562.9">0.04</text><text transform="translate(21.2,408.6) rotate(-90)">0.06</text><text transform="translate(21.2,439.0) rotate(-90)">0.04</text><text transform="translate(21.2,469.9) rotate(-90)">0.02</text><text transform="translate(21.2,500.3) rotate(-90)">0.00</text><text transform="translate(21.2,531.2) rotate(-90)">-0.02</text><text x="107.1" y="575.7">eigenvector1</text><text transform="translate(9.0,479.6) rotate(-90)">eigenvector2</text></g><text x="107.1" y="397.6" font-size="6.36" font-weight="bold" fill="#111" stroke="#111" stroke-width="0.3" text-anchor="middle" opacity=".99">PC1 vs PC2</text>
<g font-size="5.3" fill="#111" stroke="#111" stroke-width="0.12" text-anchor="middle" opacity=".99"><text x="250.9" y="563.2">-0.02</text><text x="284.4" y="563.2">0.00</text><text x="318.4" y="563.2">0.02</text><text x="351.9" y="563.2">0.04</text><text transform="translate(210.2,437.4) rotate(-90)">0.00</text><text transform="translate(210.2,474.0) rotate(-90)">-0.05</text><text transform="translate(210.2,510.7) rotate(-90)">-0.10</text><text transform="translate(210.2,547.3) rotate(-90)">-0.15</text><text x="296.1" y="576.0">eigenvector1</text><text transform="translate(198.0,479.9) rotate(-90)">eigenvector3</text></g><text x="296.1" y="397.9" font-size="6.36" font-weight="bold" fill="#111" stroke="#111" stroke-width="0.3" text-anchor="middle" opacity=".99">PC1 vs PC3</text>
<g font-size="5.3" fill="#111" stroke="#111" stroke-width="0.12" text-anchor="middle" opacity=".99"><text x="431.8" y="563.0">-0.02</text><text x="465.3" y="563.0">0.00</text><text x="498.5" y="563.0">0.02</text><text x="532.0" y="563.0">0.04</text><text x="565.5" y="563.0">0.06</text><text transform="translate(402.3,437.4) rotate(-90)">0.00</text><text transform="translate(402.3,474.0) rotate(-90)">-0.05</text><text transform="translate(402.3,510.7) rotate(-90)">-0.10</text><text transform="translate(402.3,547.3) rotate(-90)">-0.15</text><text x="488.2" y="575.8">eigenvector2</text><text transform="translate(390.1,479.7) rotate(-90)">eigenvector3</text></g><text x="488.2" y="397.7" font-size="6.36" font-weight="bold" fill="#111" stroke="#111" stroke-width="0.3" text-anchor="middle" opacity=".99">PC2 vs PC3</text>
<g font-weight="bold" font-size="12.3" fill="#000" opacity=".99">
<text x="-0.8" y="8.6">a</text><text x="-0.8" y="193.9">b</text><text x="-0.6" y="408.9">c</text>
</g>
<text x="595.8" y="43.9" font-size="17" fill="#000" opacity=".99" textLength="76" lengthAdjust="spacingAndGlyphs">Color scale</text>
<g font-size="12.6" fill="#1a1a1a" opacity=".99">
<text transform="translate(599.0 86.30) scale(0.915 1)">NHW_WES_20k</text>
<text transform="translate(599.0 100.60) scale(0.915 1)">GBR</text>
<text transform="translate(599.0 114.90) scale(0.915 1)">FIN</text>
<text transform="translate(599.0 129.20) scale(0.915 1)">IBS</text>
<text transform="translate(599.0 143.50) scale(0.915 1)">CEU</text>
<text transform="translate(599.0 157.80) scale(0.915 1)">YRI</text>
<text transform="translate(599.0 172.10) scale(0.915 1)">CHB</text>
<text transform="translate(599.0 186.40) scale(0.915 1)">JPT</text>
<text transform="translate(599.0 200.70) scale(0.915 1)">TSI</text>
</g>
<circle cx="588.3" cy="81.4" r="1.35" fill="#000"/><path d="M585.3 95.9h6M588.3 92.9v6M586.1999999999999 93.80000000000001l4.2 4.2M586.1999999999999 98.0l4.2 -4.2" stroke="#2a2aa8" stroke-width="0.8" fill="none"/><rect x="585.9" y="107.6" width="4.8" height="4.8" fill="none" stroke="#ff5a5a" stroke-width="0.9"/><path d="M585.0 124.3h6.6M588.3 121.0v6.6" stroke="#b060ff" stroke-width="0.9" fill="none"/><path d="M588.3 136.2l2.6 4.4h-5.2z" fill="#aaa"/><path d="M588.3 150.1l3 5.2h-6z" fill="none" stroke="#c05a5a" stroke-width="0.9"/><circle cx="588.3" cy="168.2" r="2.5" fill="none" stroke="#e8a068" stroke-width="0.9"/><circle cx="588.3" cy="182.3" r="2.4" fill="#0000ff"/><path d="M585.6999999999999 194.0l5.2 5.2M585.6999999999999 199.2l5.2 -5.2" stroke="#40e040" stroke-width="0.9" fill="none"/>
</svg></body></html>
